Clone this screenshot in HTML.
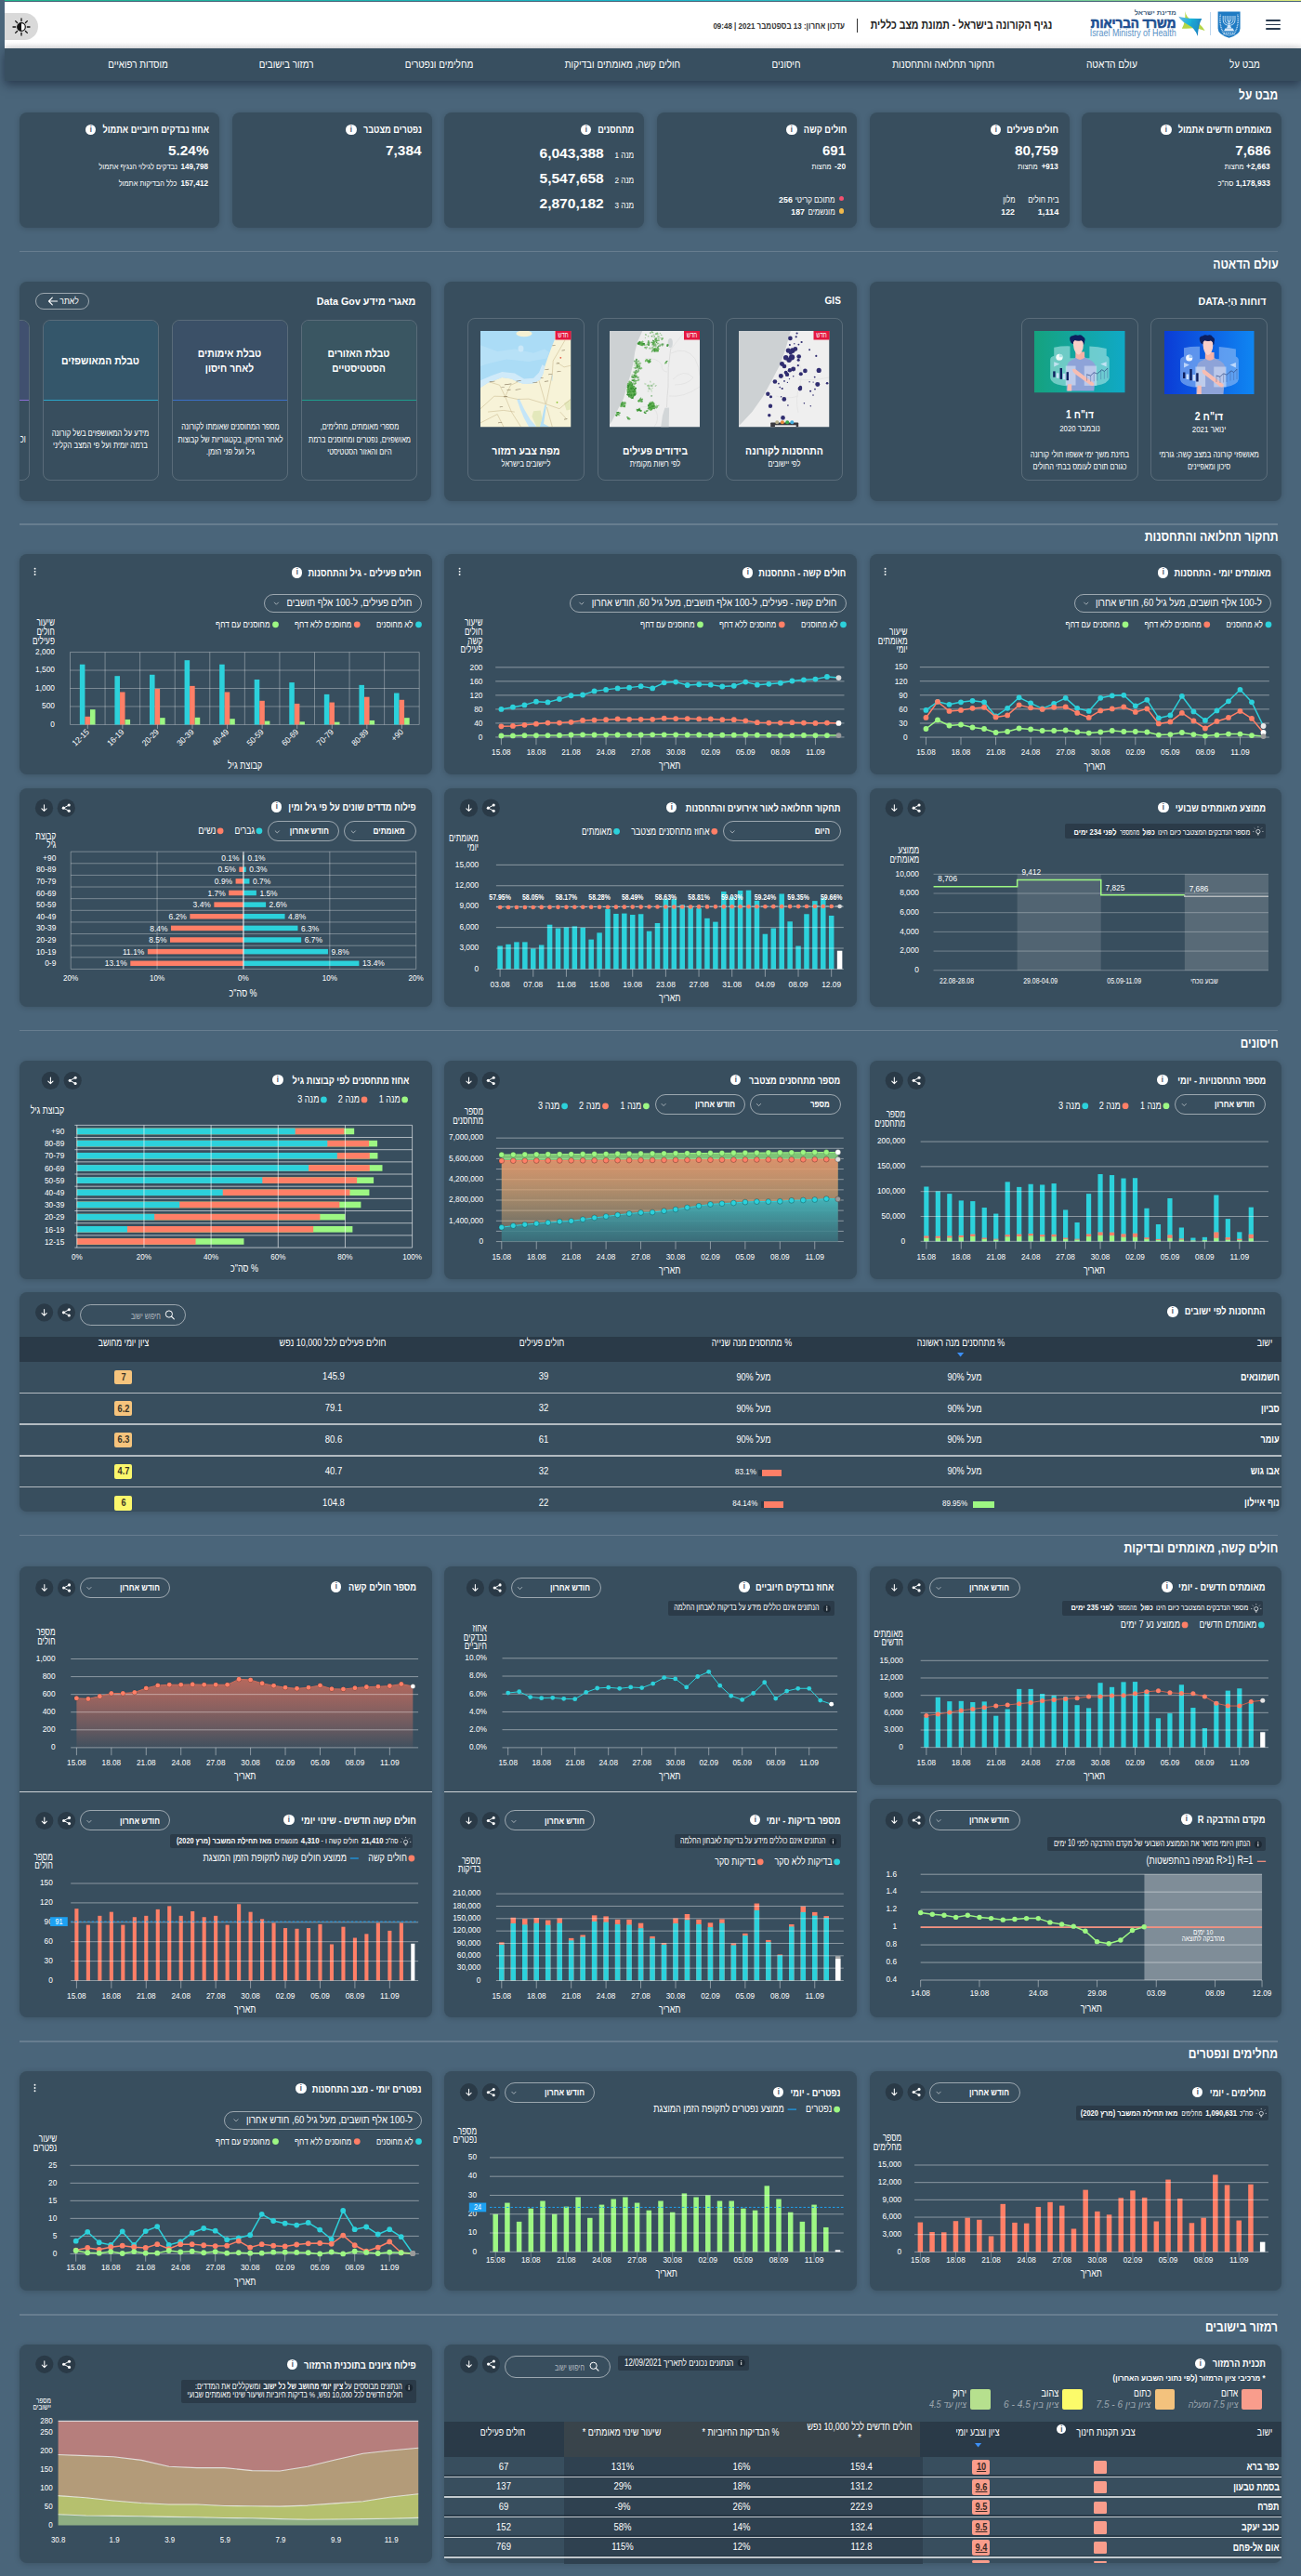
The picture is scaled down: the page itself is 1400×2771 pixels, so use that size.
<!DOCTYPE html><html lang="he"><head><meta charset="utf-8"><title>נגיף הקורונה בישראל - תמונת מצב כללית</title><style>
*{box-sizing:border-box}
html,body{margin:0;padding:0}
html{background:#4a657a}
body{width:1400px;height:2771px;position:relative;overflow:hidden;background:#4a657a;font-family:"Liberation Sans",sans-serif;color:#fff;direction:ltr}
.t{position:absolute;white-space:nowrap;line-height:1;direction:rtl;unicode-bidi:plaintext}
.topbar{position:absolute;left:5px;top:0;width:1395px;height:1.3px;background:linear-gradient(90deg,#20b48a 0%,#1cb4a8 22%,#18b5cb 50%,#45c3ae 75%,#8fd48b 88%,#e0ea7c 100%)}
.hdr{position:absolute;left:5px;top:1.6px;width:1395px;height:50.4px;background:linear-gradient(180deg,#fff 0,#fff 88%,#f1f1f1 100%)}
.nav{position:absolute;left:5px;top:52px;width:1395px;height:34.5px;background:#384f60;box-shadow:0 4px 10px rgba(12,22,42,.55)}
.toggle{position:absolute;left:5px;top:14px;width:36px;height:29px;background:#d9d9d9;border-radius:0 15px 15px 0;display:flex;align-items:center;justify-content:center;padding-right:1px}
.card{position:absolute;background:#384e5e;border-radius:8px;box-shadow:0 1px 6px rgba(0,0,0,.18)}
.info{position:absolute;background:#fff;border-radius:50%;color:#384e5e;text-align:center}
.info b{display:block;font:bold 9px/11.5px "Liberation Sans",sans-serif;transform:scaleX(.85)}
.note{position:absolute;background:#2b3b49;border-radius:2px}
.sub{position:absolute;border:1px solid rgba(255,255,255,.17);border-radius:8px;overflow:hidden}
.pill{position:absolute;border:1.2px solid rgba(255,255,255,.5);border-radius:20px}
.dot{position:absolute;width:5.5px;height:5.5px;border-radius:50%}
.sep{position:absolute;left:21px;width:1354px;height:1.5px;background:rgba(255,255,255,.16)}
svg{position:absolute;overflow:visible}
svg text{font-family:"Liberation Sans",sans-serif;fill:#fff}
</style></head><body>
<div class="topbar"></div>
<div class="hdr"></div>
<div class="toggle"><svg width="20" height="20" viewBox="-10 -10 20 20"><g stroke="#111" stroke-width="1.3" stroke-linecap="round"><line x1="6.30" y1="0.00" x2="9.00" y2="0.00"/><line x1="4.45" y1="4.45" x2="6.36" y2="6.36"/><line x1="0.00" y1="6.30" x2="0.00" y2="9.00"/><line x1="-4.45" y1="4.45" x2="-6.36" y2="6.36"/><line x1="-6.30" y1="0.00" x2="-9.00" y2="0.00"/><line x1="-4.45" y1="-4.45" x2="-6.36" y2="-6.36"/><line x1="-0.00" y1="-6.30" x2="-0.00" y2="-9.00"/><line x1="4.45" y1="-4.45" x2="6.36" y2="-6.36"/></g><circle r="4.3" fill="#fff" stroke="#111" stroke-width="1.2"/><path d="M0,-4.3 A4.3,4.3 0 0 0 0,4.3 Z" fill="#111"/></svg></div>
<div style="position:absolute;left:1362px;top:21.2px;width:15.5px;height:1.6px;background:#2b3c50;border-radius:1px"></div>
<div style="position:absolute;left:1362px;top:25.7px;width:15.5px;height:1.6px;background:#2b3c50;border-radius:1px"></div>
<div style="position:absolute;left:1362px;top:30.2px;width:15.5px;height:1.6px;background:#2b3c50;border-radius:1px"></div>
<svg style="left:1309.5px;top:11.6px" width="25.2" height="29.4" viewBox="0 0 25.2 29.4">
<path d="M.6,.6 H24.6 V18.6 Q24.6,25.4 12.6,28.8 Q.6,25.4 .6,18.6 Z" fill="#1f7bc3"/>
<g fill="none" stroke="#d3e6f7" stroke-width=".9" stroke-linecap="round"><path d="M12.6,5.4 V15.4"/><path d="M10.4,5.4 V8.4 Q10.4,11.4 12.6,11.8"/><path d="M14.8,5.4 V8.4 Q14.8,11.4 12.6,11.8"/><path d="M8.2,5.4 V9 Q8.2,13.2 12.6,13.6"/><path d="M17,5.4 V9 Q17,13.2 12.6,13.6"/><path d="M6.2,5.4 V9.6 Q6.2,15 12.6,15.4"/><path d="M19,5.4 V9.6 Q19,15 12.6,15.4"/></g>
<path d="M11.4,15 H13.8 L15.2,18.2 H10 Z M8.4,18.6 H16.8 L18.2,21.6 H7 Z" fill="#d3e6f7"/>
<path d="M6.6,23.6 H18.6" stroke="#d3e6f7" stroke-width="1.1" stroke-dasharray="1.6 .7"/>
<path d="M3.4,3.6 C2.4,9 2.8,17 6.2,22.6 M21.8,3.6 C22.8,9 22.4,17 19,22.6" stroke="#cfe3f6" stroke-width="1.5" stroke-dasharray=".9 .8" fill="none"/>
<path d="M6,24.6 Q12.6,27.4 19.2,24.6" stroke="#d3e6f7" stroke-width=".7" fill="none"/>
</svg>
<div style="position:absolute;left:1302px;top:12.5px;width:1.1px;height:25.5px;background:#bcd6ee"></div>
<svg style="left:1267px;top:11px" width="31" height="29" viewBox="0 0 31 29"><defs><linearGradient id="lgst" x1="0" x2="1" y1="0" y2=".45"><stop offset="0" stop-color="#6cb6e6"/><stop offset=".5" stop-color="#1ab6d9"/><stop offset=".8" stop-color="#1c93c9"/><stop offset="1" stop-color="#1c73b8"/></linearGradient></defs>
<path d="M8.4,.9 Q9.3,8 15.5,10.2 Q25,13.5 29.6,22.1 Q21,18.6 14,19.4 Q8.6,19.9 4.8,19.8 Q8.9,13 8.4,.9 Z" fill="#b5d648"/>
<path d="M1.2,6.7 Q12,9.6 26.3,9 Q22.4,16 21.8,27.7 Q18.8,19.2 11.6,15.8 Q4.6,12.4 1.2,6.7 Z" fill="url(#lgst)"/>
<path d="M15.5,10.2 Q21.5,12.2 22.6,16.6 Q22,21 21.8,27.7 Q19.5,20.5 14.5,17.3 Z" fill="#1b9fd0" opacity=".55"/>
</svg>
<span class="t" style="top:10.00px;font-size:7px;font-weight:bold;color:#3f5d7c;right:134.50px;transform-origin:right center;transform:scaleX(1.0798);">מדינת ישראל</span>
<span class="t" style="top:18.00px;font-size:14.5px;font-weight:bold;color:#1d4f91;right:134.50px;transform-origin:right center;transform:scaleX(0.9208);-webkit-text-stroke:.7px #1d4f91;">משרד הבריאות</span>
<span class="t" style="top:30.00px;font-size:10.5px;color:#5b92c6;right:134.50px;transform-origin:right center;transform:scaleX(0.8478);">Israel Ministry of Health</span>
<span class="t" style="top:21.00px;font-size:12.5px;font-weight:bold;color:#222;right:267.50px;transform-origin:right center;transform:scaleX(0.8419);">נגיף הקורונה בישראל - תמונת מצב כללית</span>
<div style="position:absolute;left:922px;top:20px;width:1px;height:15px;background:#333"></div>
<span class="t" style="top:23.00px;font-size:9.5px;font-weight:bold;color:#333;right:491.50px;transform-origin:right center;transform:scaleX(0.8428);">עדכון אחרון: 13 בספטמבר 2021 | 09:48</span>
<div class="nav"></div>
<span class="t" style="top:63.00px;font-size:12px;right:44.50px;transform-origin:right center;transform:scaleX(0.8264);">מבט על</span>
<span class="t" style="top:63.00px;font-size:12px;right:176.50px;transform-origin:right center;transform:scaleX(0.8471);">עולם הדאטה</span>
<span class="t" style="top:63.00px;font-size:12px;right:329.50px;transform-origin:right center;transform:scaleX(0.8388);">תחקור תחלואה והתחסנות</span>
<span class="t" style="top:63.00px;font-size:12px;right:538.50px;transform-origin:right center;transform:scaleX(0.8277);">חיסונים</span>
<span class="t" style="top:63.00px;font-size:12px;right:667.50px;transform-origin:right center;transform:scaleX(0.8290);">חולים קשה, מאומתים ובדיקות</span>
<span class="t" style="top:63.00px;font-size:12px;right:890.75px;transform-origin:right center;transform:scaleX(0.8320);">מחלימים ונפטרים</span>
<span class="t" style="top:63.00px;font-size:12px;right:1062.70px;transform-origin:right center;transform:scaleX(0.8220);">רמזור בישובים</span>
<span class="t" style="top:63.00px;font-size:12px;right:1219.70px;transform-origin:right center;transform:scaleX(0.8199);">מוסדות רפואיים</span>
<span class="t" style="top:95.00px;font-size:14.5px;font-weight:bold;right:24.75px;transform-origin:right center;transform:scaleX(0.8224);">מבט על</span>
<div class="card" style="left:1164.25px;top:120.75px;width:215.0px;height:124.5px;"></div>
<div class="card" style="left:935.6px;top:120.75px;width:214.9999999999999px;height:124.5px;"></div>
<div class="card" style="left:707px;top:120.75px;width:215px;height:124.5px;"></div>
<div class="card" style="left:478.4px;top:120.75px;width:215.0px;height:124.5px;"></div>
<div class="card" style="left:249.8px;top:120.75px;width:215.0px;height:124.5px;"></div>
<div class="card" style="left:21.25px;top:120.75px;width:215.0px;height:124.5px;"></div>
<span class="t" style="top:134.00px;font-size:11.5px;font-weight:bold;right:32.00px;transform-origin:right center;transform:scaleX(0.8092);">מאומתים חדשים אתמול</span>
<div class="info" style="left:1249.00px;top:133.65px;width:11.5px;height:11.5px"><b>i</b></div>
<span class="t" style="top:154.00px;font-size:15px;font-weight:bold;right:32.00px;transform-origin:right center;transform:scaleX(1.0191);">7,686</span>
<span class="t" style="top:175.00px;font-size:8.3px;font-weight:bold;right:33.00px;transform-origin:right center;transform:scaleX(0.9955);">+2,663</span>
<span class="t" style="top:175.00px;font-size:9px;right:61.75px;transform-origin:right center;transform:scaleX(0.8115);">מחצות</span>
<span class="t" style="top:193.00px;font-size:8.3px;font-weight:bold;right:33.00px;transform-origin:right center;transform:scaleX(1.0089);">1,178,933</span>
<span class="t" style="top:193.00px;font-size:9px;right:73.00px;transform-origin:right center;transform:scaleX(0.8746);">סה"כ</span>
<span class="t" style="top:134.00px;font-size:11.5px;font-weight:bold;right:260.75px;transform-origin:right center;transform:scaleX(0.8082);">חולים פעילים</span>
<div class="info" style="left:1065.50px;top:133.65px;width:11.5px;height:11.5px"><b>i</b></div>
<span class="t" style="top:154.00px;font-size:15px;font-weight:bold;right:260.75px;transform-origin:right center;transform:scaleX(1.0245);">80,759</span>
<span class="t" style="top:175.00px;font-size:8.3px;font-weight:bold;right:261.75px;transform-origin:right center;transform:scaleX(0.9629);">+913</span>
<span class="t" style="top:175.00px;font-size:9px;right:283.00px;transform-origin:right center;transform:scaleX(0.8311);">מחצות</span>
<span class="t" style="top:210.00px;font-size:9.5px;right:260.50px;transform-origin:right center;transform:scaleX(0.8451);">בית חולים</span>
<span class="t" style="top:223.00px;font-size:9.5px;font-weight:bold;right:260.50px;transform-origin:right center;transform:scaleX(0.9679);">1,114</span>
<span class="t" style="top:210.00px;font-size:9.5px;right:308.00px;transform-origin:right center;transform:scaleX(0.8077);">מלון</span>
<span class="t" style="top:223.00px;font-size:9.5px;font-weight:bold;right:308.00px;transform-origin:right center;transform:scaleX(0.9149);">122</span>
<span class="t" style="top:134.00px;font-size:11.5px;font-weight:bold;right:489.00px;transform-origin:right center;transform:scaleX(0.8106);">חולים קשה</span>
<div class="info" style="left:846.25px;top:133.65px;width:11.5px;height:11.5px"><b>i</b></div>
<span class="t" style="top:154.00px;font-size:15px;font-weight:bold;right:490.00px;transform-origin:right center;transform:scaleX(0.9990);">691</span>
<span class="t" style="top:175.00px;font-size:8.3px;font-weight:bold;right:490.00px;transform-origin:right center;transform:scaleX(1.0004);">-20</span>
<span class="t" style="top:175.00px;font-size:9px;right:505.00px;transform-origin:right center;transform:scaleX(0.8213);">מחצות</span>
<div class="dot" style="left:902.5px;top:210.75px;background:#f4506f"></div>
<div class="dot" style="left:902.5px;top:224.25px;background:#f0b94c"></div>
<span class="t" style="top:210.00px;font-size:9.5px;right:501.50px;transform-origin:right center;transform:scaleX(0.8310);">מתוכם קריטי</span>
<span class="t" style="top:210.00px;font-size:9.5px;font-weight:bold;right:547.00px;transform-origin:right center;transform:scaleX(0.9307);">256</span>
<span class="t" style="top:223.00px;font-size:9.5px;right:501.50px;transform-origin:right center;transform:scaleX(0.8433);">מונשמים</span>
<span class="t" style="top:223.00px;font-size:9.5px;font-weight:bold;right:533.75px;transform-origin:right center;transform:scaleX(0.9149);">187</span>
<span class="t" style="top:134.00px;font-size:11.5px;font-weight:bold;right:717.75px;transform-origin:right center;transform:scaleX(0.7932);">מתחסנים</span>
<div class="info" style="left:624.50px;top:133.65px;width:11.5px;height:11.5px"><b>i</b></div>
<span class="t" style="top:162.00px;font-size:9.5px;right:717.75px;transform-origin:right center;transform:scaleX(0.8586);">מנה 1</span>
<span class="t" style="top:157.00px;font-size:15px;font-weight:bold;right:750.00px;transform-origin:right center;transform:scaleX(1.0379);">6,043,388</span>
<span class="t" style="top:189.00px;font-size:9.5px;right:717.75px;transform-origin:right center;transform:scaleX(0.8586);">מנה 2</span>
<span class="t" style="top:184.00px;font-size:15px;font-weight:bold;right:750.00px;transform-origin:right center;transform:scaleX(1.0379);">5,547,658</span>
<span class="t" style="top:216.00px;font-size:9.5px;right:717.75px;transform-origin:right center;transform:scaleX(0.8586);">מנה 3</span>
<span class="t" style="top:211.00px;font-size:15px;font-weight:bold;right:750.00px;transform-origin:right center;transform:scaleX(1.0379);">2,870,182</span>
<span class="t" style="top:134.00px;font-size:11.5px;font-weight:bold;right:946.25px;transform-origin:right center;transform:scaleX(0.7979);">נפטרים מצטבר</span>
<div class="info" style="left:372.25px;top:133.65px;width:11.5px;height:11.5px"><b>i</b></div>
<span class="t" style="top:154.00px;font-size:15px;font-weight:bold;right:946.25px;transform-origin:right center;transform:scaleX(1.0258);">7,384</span>
<span class="t" style="top:134.00px;font-size:11.5px;font-weight:bold;right:1175.00px;transform-origin:right center;transform:scaleX(0.8005);">אחוז נבדקים חיוביים אתמול</span>
<div class="info" style="left:91.75px;top:133.65px;width:11.5px;height:11.5px"><b>i</b></div>
<span class="t" style="top:154.00px;font-size:15px;font-weight:bold;right:1175.00px;transform-origin:right center;transform:scaleX(1.0228);">5.24%</span>
<span class="t" style="top:175.00px;font-size:8.3px;font-weight:bold;right:1176.00px;transform-origin:right center;transform:scaleX(0.9834);">149,798</span>
<span class="t" style="top:175.00px;font-size:9px;right:1209.25px;transform-origin:right center;transform:scaleX(0.8386);">נבדקים לגילוי הנגיף אתמול</span>
<span class="t" style="top:193.00px;font-size:8.3px;font-weight:bold;right:1176.00px;transform-origin:right center;transform:scaleX(0.9834);">157,412</span>
<span class="t" style="top:193.00px;font-size:9px;right:1209.25px;transform-origin:right center;transform:scaleX(0.8210);">כלל הבדיקות אתמול</span>
<div class="sep" style="top:269.75px"></div>
<span class="t" style="top:277.00px;font-size:14.5px;font-weight:bold;right:24.75px;transform-origin:right center;transform:scaleX(0.8422);">עולם הדאטה</span>
<div class="card" style="left:935.75px;top:303.25px;width:443.5px;height:235.5px;"></div>
<div class="card" style="left:478px;top:303.25px;width:444px;height:235.5px;"></div>
<div class="card" style="left:21.25px;top:303.25px;width:443.0px;height:235.5px;overflow:hidden;"></div>
<span class="t" style="top:319.00px;font-size:11.5px;font-weight:bold;right:37.50px;transform-origin:right center;transform:scaleX(0.9307);">דוחות הַיְ-DATA</span>
<div class="sub" style="left:1238px;top:341.75px;width:126px;height:175.0px;"></div>
<div class="sub" style="left:1099px;top:341.75px;width:126px;height:175.0px;"></div>
<svg style="left:1253px;top:355.75px" width="96.5" height="68" viewBox="0 0 96.5 68"><defs><linearGradient id="gb" x1="0" x2="1"><stop offset="0" stop-color="#0b3cd6"/><stop offset="1" stop-color="#0f86f2"/></linearGradient><clipPath id="cpb"><rect width="96.5" height="68"/></clipPath></defs><rect width="96.5" height="68" fill="url(#gb)"/><g clip-path="url(#cpb)"><g>
<path d="M17,32 Q17,28.5 21,27.5 V18.2 Q29,16.5 38.1,16.8 V30 H58.8 V17 Q68,17.5 76.9,19.5 V27.5 Q80,28.5 79.9,32 V52 Q79,58 66,60.3 Q48,63 30,60.3 Q17.5,58 17,52 Z" fill="#8fbcf5" opacity=".62"/>
<path d="M21,34 L27,36.5 L21,39.5 Z M76.9,34 L70.5,36.5 L76.9,39.5 Z" fill="#dcebff" opacity=".75"/>
<circle cx="26.7" cy="29" r="3.6" fill="#fff" opacity=".92"/><path d="M26.7,29 V25.4 A3.6,3.6 0 0 1 30.3,29 Z" fill="#8fbcf5" opacity=".9"/>
<path d="M34.3,68 L34.8,40 Q35,33 42,31.2 L44.5,28.8 H53.5 L57,31 Q65,33.5 65.8,41 L63.5,68 Z" fill="#8ea3d8"/>
<path d="M43.9,23 H53.6 V29.6 Q48.8,34 43.9,29.6 Z" fill="#f4b1a6"/>
<path d="M41.2,13 Q41,9.5 47,9.5 Q52.6,9.5 52.4,14 Q52.4,19.5 50.6,22.8 Q48.6,26.6 46.4,26 Q43.6,24.5 42.2,19.5 Z" fill="#facfc8"/>
<path d="M38,10.5 Q36.6,5.5 41.5,5.2 Q43.5,3.6 46.5,4.8 Q50,3.4 52,6.4 Q55,8 53.6,11.6 Q54,14 52.4,15.6 Q52.6,11.5 50,10.4 Q46,11.6 43.2,10.2 Q41.2,11.6 41.4,14.6 Q38.6,13.4 38,10.5 Z" fill="#0e1f5e"/>
<rect x="33.4" y="38.5" width="10.7" height="21.5" fill="#e6eefc" opacity=".55"/>
<rect x="53.2" y="38.5" width="13.3" height="21.9" fill="#e6eefc" opacity=".5"/>
<path d="M40.3,42.4 Q43.4,40.6 45.6,43.6 L63.5,57.6 Q64,61.5 60,60 L43.8,47.6 Q40.8,46 40.3,42.4 Z" fill="#f7bdb2"/>
<path d="M35.6,58.8 H39.8 V68 H35 Z" fill="#f7bdb2"/>
<rect x="20" y="44.5" width="2.4" height="6.5" fill="#0e1f5e"/><rect x="23.6" y="46.5" width="2.6" height="5.5" fill="#cfe0fb"/><rect x="27.3" y="41" width="2.4" height="12.2" fill="#0e1f5e"/><rect x="30.6" y="47" width="2.4" height="6.6" fill="#cfe0fb"/><rect x="34.2" y="45.3" width="2.4" height="9.2" fill="#0e1f5e"/>
<g stroke="#3b5a9a" stroke-width=".45" opacity=".85"><path d="M56,48 V55 M60,49.5 V56 M63.6,46 V55.5 M67,47.5 V55 M71,43 V53.5 M74.6,45 V53 M78,41 V52" /></g>
<polyline points="55.8,48 60,49.3 63.5,45.8 67,47.2 72,42.8 74.7,44.6 78.2,41" fill="none" stroke="#2c477f" stroke-width=".7"/>
</g></g></svg>
<svg style="left:1113px;top:355.75px" width="97.5" height="66.25" viewBox="0 0 97.5 66.25"><defs><linearGradient id="gg" x1="0" x2="1"><stop offset="0" stop-color="#15a27e"/><stop offset="1" stop-color="#10a9c6"/></linearGradient><clipPath id="cpg"><rect width="97.5" height="66.25"/></clipPath></defs><rect width="97.5" height="66.25" fill="url(#gg)"/><g clip-path="url(#cpg)" transform="scale(1.01,.975)"><g>
<path d="M17,32 Q17,28.5 21,27.5 V18.2 Q29,16.5 38.1,16.8 V30 H58.8 V17 Q68,17.5 76.9,19.5 V27.5 Q80,28.5 79.9,32 V52 Q79,58 66,60.3 Q48,63 30,60.3 Q17.5,58 17,52 Z" fill="#a6e3e3" opacity=".62"/>
<path d="M21,34 L27,36.5 L21,39.5 Z M76.9,34 L70.5,36.5 L76.9,39.5 Z" fill="#dcebff" opacity=".75"/>
<circle cx="26.7" cy="29" r="3.6" fill="#fff" opacity=".92"/><path d="M26.7,29 V25.4 A3.6,3.6 0 0 1 30.3,29 Z" fill="#a6e3e3" opacity=".9"/>
<path d="M34.3,68 L34.8,40 Q35,33 42,31.2 L44.5,28.8 H53.5 L57,31 Q65,33.5 65.8,41 L63.5,68 Z" fill="#8ea3d8"/>
<path d="M43.9,23 H53.6 V29.6 Q48.8,34 43.9,29.6 Z" fill="#f4b1a6"/>
<path d="M41.2,13 Q41,9.5 47,9.5 Q52.6,9.5 52.4,14 Q52.4,19.5 50.6,22.8 Q48.6,26.6 46.4,26 Q43.6,24.5 42.2,19.5 Z" fill="#facfc8"/>
<path d="M38,10.5 Q36.6,5.5 41.5,5.2 Q43.5,3.6 46.5,4.8 Q50,3.4 52,6.4 Q55,8 53.6,11.6 Q54,14 52.4,15.6 Q52.6,11.5 50,10.4 Q46,11.6 43.2,10.2 Q41.2,11.6 41.4,14.6 Q38.6,13.4 38,10.5 Z" fill="#0e1f5e"/>
<rect x="33.4" y="38.5" width="10.7" height="21.5" fill="#e6eefc" opacity=".55"/>
<rect x="53.2" y="38.5" width="13.3" height="21.9" fill="#e6eefc" opacity=".5"/>
<path d="M40.3,42.4 Q43.4,40.6 45.6,43.6 L63.5,57.6 Q64,61.5 60,60 L43.8,47.6 Q40.8,46 40.3,42.4 Z" fill="#f7bdb2"/>
<path d="M35.6,58.8 H39.8 V68 H35 Z" fill="#f7bdb2"/>
<rect x="20" y="44.5" width="2.4" height="6.5" fill="#0e1f5e"/><rect x="23.6" y="46.5" width="2.6" height="5.5" fill="#cfe0fb"/><rect x="27.3" y="41" width="2.4" height="12.2" fill="#0e1f5e"/><rect x="30.6" y="47" width="2.4" height="6.6" fill="#cfe0fb"/><rect x="34.2" y="45.3" width="2.4" height="9.2" fill="#0e1f5e"/>
<g stroke="#3b5a9a" stroke-width=".45" opacity=".85"><path d="M56,48 V55 M60,49.5 V56 M63.6,46 V55.5 M67,47.5 V55 M71,43 V53.5 M74.6,45 V53 M78,41 V52" /></g>
<polyline points="55.8,48 60,49.3 63.5,45.8 67,47.2 72,42.8 74.7,44.6 78.2,41" fill="none" stroke="#2c477f" stroke-width=".7"/>
</g></g></svg>
<span class="t" style="top:442.00px;font-size:12px;font-weight:bold;left:1001.00px;width:600px;text-align:center;transform-origin:center center;transform:scaleX(0.8717);">דו"ח 2</span>
<span class="t" style="top:457.00px;font-size:9.5px;left:1001.00px;width:600px;text-align:center;transform-origin:center center;transform:scaleX(0.8401);">ינואר 2021</span>
<span class="t" style="top:484.00px;font-size:9.5px;left:1000.75px;width:600px;text-align:center;transform-origin:center center;transform:scaleX(0.8043);">מאושפזי קורונה במצב קשה: גורמי</span>
<span class="t" style="top:497.00px;font-size:9.5px;left:1001.00px;width:600px;text-align:center;transform-origin:center center;transform:scaleX(0.7773);">סיכון ומאפיינים</span>
<span class="t" style="top:440.00px;font-size:12px;font-weight:bold;left:862.00px;width:600px;text-align:center;transform-origin:center center;transform:scaleX(0.8573);">דו"ח 1</span>
<span class="t" style="top:456.00px;font-size:9.5px;left:861.75px;width:600px;text-align:center;transform-origin:center center;transform:scaleX(0.8223);">נובמבר 2020</span>
<span class="t" style="top:484.00px;font-size:9.5px;left:862.00px;width:600px;text-align:center;transform-origin:center center;transform:scaleX(0.7978);">בחינת משך ימי אשפוז חולי קורונה</span>
<span class="t" style="top:497.00px;font-size:9.5px;left:862.00px;width:600px;text-align:center;transform-origin:center center;transform:scaleX(0.7883);">כגורם תורם לעומס בבתי החולים</span>
<span class="t" style="top:318.00px;font-size:11.5px;font-weight:bold;right:494.75px;transform-origin:right center;transform:scaleX(0.8707);">GIS</span>
<div class="sub" style="left:781.25px;top:341.5px;width:125.5px;height:175.0px;"></div>
<svg style="left:795px;top:355.75px" width="97.5" height="103.5" viewBox="0 0 97.5 103.5"><defs><clipPath id="cm1"><rect width="97.5" height="103.5"/></clipPath></defs><g clip-path="url(#cm1)"><rect width="97.5" height="103.5" fill="#efefef"/><path d="M0,0 L55.8,0.0 L50.3,19.4 L44.4,36.3 L35.5,53.3 L26.2,70.2 L14.4,87.1 L2.5,99.7 L0.0,102.1 L0,103.5 Z" fill="#cdd1d3"/><path d="M62,28 Q70,40 66,58 Q60,72 64,88 M40,70 Q52,74 64,70 M64,52 Q78,54 97,50" stroke="#e2e2e2" stroke-width=".7" fill="none"/><circle cx="62.6" cy="2.5" r="1.09" fill="#302d70"/><circle cx="55.4" cy="7.9" r="2.33" fill="#302d70"/><circle cx="61.7" cy="6.3" r="1.09" fill="#302d70"/><circle cx="67.6" cy="12.0" r="1.09" fill="#302d70"/><circle cx="54.9" cy="15.0" r="1.01" fill="#302d70"/><circle cx="64.4" cy="14.6" r="0.93" fill="#302d70"/><circle cx="59.8" cy="13.7" r="0.70" fill="#302d70"/><circle cx="53.3" cy="21.1" r="2.57" fill="#302d70"/><circle cx="57.9" cy="21.1" r="2.80" fill="#302d70"/><circle cx="60.9" cy="19.4" r="2.33" fill="#302d70"/><circle cx="55.8" cy="23.7" r="1.94" fill="#302d70"/><circle cx="76.1" cy="20.3" r="0.93" fill="#302d70"/><circle cx="83.3" cy="26.9" r="1.09" fill="#302d70"/><circle cx="50.7" cy="28.7" r="2.72" fill="#302d70"/><circle cx="57.1" cy="28.3" r="3.11" fill="#302d70"/><circle cx="54.1" cy="31.3" r="2.72" fill="#302d70"/><circle cx="64.7" cy="27.5" r="2.33" fill="#302d70"/><circle cx="64.2" cy="31.3" r="1.56" fill="#302d70"/><circle cx="46.5" cy="35.5" r="2.49" fill="#302d70"/><circle cx="49.0" cy="38.0" r="2.33" fill="#302d70"/><circle cx="63.8" cy="37.2" r="1.09" fill="#302d70"/><circle cx="58.7" cy="41.0" r="2.49" fill="#302d70"/><circle cx="54.9" cy="42.3" r="2.18" fill="#302d70"/><circle cx="50.7" cy="44.8" r="2.02" fill="#302d70"/><circle cx="52.0" cy="46.9" r="2.18" fill="#302d70"/><circle cx="71.4" cy="42.9" r="2.33" fill="#302d70"/><circle cx="86.2" cy="42.4" r="2.57" fill="#302d70"/><circle cx="66.8" cy="46.3" r="2.02" fill="#302d70"/><circle cx="45.4" cy="48.4" r="2.49" fill="#302d70"/><circle cx="58.7" cy="48.8" r="0.78" fill="#302d70"/><circle cx="54.5" cy="51.6" r="0.70" fill="#302d70"/><circle cx="49.0" cy="53.9" r="0.86" fill="#302d70"/><circle cx="38.9" cy="54.5" r="2.33" fill="#302d70"/><circle cx="42.9" cy="56.6" r="0.86" fill="#302d70"/><circle cx="52.4" cy="55.4" r="0.62" fill="#302d70"/><circle cx="81.7" cy="49.6" r="0.93" fill="#302d70"/><circle cx="76.1" cy="54.8" r="0.70" fill="#302d70"/><circle cx="80.1" cy="55.1" r="0.62" fill="#302d70"/><circle cx="84.8" cy="57.5" r="2.49" fill="#302d70"/><circle cx="95.1" cy="56.2" r="1.32" fill="#302d70"/><circle cx="66.4" cy="60.4" r="1.71" fill="#302d70"/><circle cx="65.9" cy="62.1" r="2.33" fill="#302d70"/><circle cx="44.2" cy="60.6" r="0.78" fill="#302d70"/><circle cx="46.7" cy="62.0" r="1.09" fill="#302d70"/><circle cx="82.0" cy="62.6" r="0.93" fill="#302d70"/><circle cx="77.1" cy="64.8" r="1.01" fill="#302d70"/><circle cx="80.0" cy="69.1" r="0.78" fill="#302d70"/><circle cx="31.3" cy="67.8" r="2.18" fill="#302d70"/><circle cx="34.5" cy="70.8" r="1.56" fill="#302d70"/><circle cx="45.6" cy="70.8" r="0.70" fill="#302d70"/><circle cx="48.8" cy="73.4" r="2.33" fill="#302d70"/><circle cx="70.4" cy="77.8" r="0.78" fill="#302d70"/><circle cx="77.3" cy="80.7" r="0.70" fill="#302d70"/><circle cx="52.9" cy="80.1" r="0.78" fill="#302d70"/><circle cx="34.0" cy="80.7" r="2.18" fill="#302d70"/><circle cx="32.8" cy="90.7" r="1.71" fill="#302d70"/><circle cx="47.5" cy="93.4" r="2.33" fill="#302d70"/><rect x="34.2" y="98.4" width="30" height="5.1" rx=".8" fill="#3a3a40"/><circle cx="41.2" cy="98.2" r="2" fill="#b5ad8c"/><circle cx="46.9" cy="98.2" r="2" fill="#e88b3a"/><circle cx="52.2" cy="98.2" r="2" fill="#3aa84a"/><circle cx="57.3" cy="98.2" r="2" fill="#42aee0"/><rect x="38.9" y="101.4" width="22.8" height="1.6" fill="#fff"/></g><rect x="80.5" y="0" width="17" height="9.5" fill="#e4173f"/><text transform="translate(89.00,7.40) scale(0.7400,1)" text-anchor="middle" font-size="8" >חדש</text></svg>
<span class="t" style="top:479.00px;font-size:12px;font-weight:bold;left:543.60px;width:600px;text-align:center;transform-origin:center center;transform:scaleX(0.8699);">התחסנות לקורונה</span>
<span class="t" style="top:494.00px;font-size:9.5px;left:543.80px;width:600px;text-align:center;transform-origin:center center;transform:scaleX(0.7867);">לפי יישובים</span>
<div class="sub" style="left:642.5px;top:341.5px;width:125.0px;height:175.0px;"></div>
<svg style="left:656.25px;top:355.75px" width="97.0" height="103.5" viewBox="0 0 97.0 103.5"><defs><clipPath id="cm2"><rect width="97.0" height="103.5"/></clipPath></defs><g clip-path="url(#cm2)"><rect width="97.0" height="103.5" fill="#eeeeee"/><path d="M0,0 L35.3,0.0 L30.3,11.0 L27.3,22.0 L25.6,33.8 L22.7,46.5 L18.4,60.0 L15.0,72.7 L8.3,85.4 L2.4,97.2 L0.0,100.8 L0,103.5 Z" fill="#cdd1d3"/><ellipse cx="65.3" cy="13.1" rx="2.6" ry="5.2" fill="#d2d6d8"/><path d="M59.4,82.8 L64.1,82.4 L63.7,103.5 L55.2,103.5 L56.9,91.3 Z" fill="#d2d6d8"/><path d="M65.8,18.6 Q62,40 63,60 Q61.6,72 61.5,82" stroke="#dadada" stroke-width=".9" fill="none"/><path d="M80,2 Q70,14 66,20 M66,24 Q82,16 92,30 Q97,40 97,48 M68,52 Q80,40 90,50 Q84,58 70,58 M64,70 Q80,72 97,60 M28,84 Q40,78 50,86 Q54,96 48,103 M38,30 Q50,28 56,36 Q56,44 62,44" stroke="#e0e0e0" stroke-width=".7" fill="none"/><rect x="32.3" y="13.6" width="2.1" height="0.9" fill="#3f9a36" opacity="0.71" transform="rotate(-33 32.3 13.6)"/><rect x="33.9" y="12.7" width="1.1" height="1.4" fill="#56a84a" opacity="0.59" transform="rotate(14 33.9 12.7)"/><rect x="34.9" y="13.5" width="2.7" height="1.7" fill="#3f9a36" opacity="0.81" transform="rotate(10 34.9 13.5)"/><rect x="34.0" y="13.3" width="2.0" height="1.0" fill="#6cb85e" opacity="0.61" transform="rotate(-25 34.0 13.3)"/><rect x="30.8" y="12.6" width="2.2" height="0.9" fill="#56a84a" opacity="0.72" transform="rotate(30 30.8 12.6)"/><rect x="32.3" y="11.9" width="2.1" height="1.5" fill="#6cb85e" opacity="0.90" transform="rotate(19 32.3 11.9)"/><rect x="31.1" y="12.6" width="1.5" height="1.9" fill="#56a84a" opacity="0.59" transform="rotate(-2 31.1 12.6)"/><rect x="29.9" y="12.9" width="2.3" height="1.2" fill="#3f9a36" opacity="0.60" transform="rotate(13 29.9 12.9)"/><rect x="33.7" y="13.9" width="2.7" height="1.4" fill="#3f9a36" opacity="0.89" transform="rotate(33 33.7 13.9)"/><rect x="33.5" y="11.6" width="1.5" height="1.3" fill="#6cb85e" opacity="0.81" transform="rotate(18 33.5 11.6)"/><rect x="33.5" y="13.3" width="1.4" height="1.8" fill="#3f9a36" opacity="0.58" transform="rotate(-1 33.5 13.3)"/><rect x="30.9" y="11.8" width="2.5" height="1.2" fill="#6cb85e" opacity="0.95" transform="rotate(4 30.9 11.8)"/><rect x="34.8" y="13.3" width="1.2" height="1.0" fill="#3f9a36" opacity="0.65" transform="rotate(-4 34.8 13.3)"/><rect x="33.8" y="13.6" width="1.6" height="2.0" fill="#3f9a36" opacity="0.62" transform="rotate(11 33.8 13.6)"/><rect x="30.0" y="12.6" width="2.5" height="2.0" fill="#2f8a2c" opacity="0.87" transform="rotate(5 30.0 12.6)"/><rect x="32.1" y="12.2" width="1.3" height="0.9" fill="#56a84a" opacity="0.65" transform="rotate(-11 32.1 12.2)"/><rect x="35.7" y="13.2" width="1.2" height="1.2" fill="#56a84a" opacity="0.74" transform="rotate(7 35.7 13.2)"/><rect x="31.6" y="12.6" width="1.1" height="2.0" fill="#3f9a36" opacity="0.76" transform="rotate(31 31.6 12.6)"/><rect x="31.4" y="13.7" width="1.1" height="1.7" fill="#3f9a36" opacity="0.64" transform="rotate(-14 31.4 13.7)"/><rect x="32.0" y="13.3" width="2.0" height="0.9" fill="#56a84a" opacity="0.79" transform="rotate(6 32.0 13.3)"/><rect x="32.3" y="12.9" width="1.3" height="1.3" fill="#2f8a2c" opacity="0.98" transform="rotate(37 32.3 12.9)"/><rect x="32.2" y="13.5" width="2.5" height="2.2" fill="#6cb85e" opacity="0.77" transform="rotate(-1 32.2 13.5)"/><rect x="33.5" y="13.3" width="1.6" height="1.2" fill="#56a84a" opacity="0.78" transform="rotate(-14 33.5 13.3)"/><rect x="34.9" y="12.8" width="1.2" height="1.6" fill="#3f9a36" opacity="0.89" transform="rotate(-2 34.9 12.8)"/><rect x="35.7" y="12.9" width="2.2" height="1.2" fill="#2f8a2c" opacity="0.96" transform="rotate(5 35.7 12.9)"/><rect x="33.1" y="12.0" width="2.4" height="1.3" fill="#56a84a" opacity="0.83" transform="rotate(-16 33.1 12.0)"/><rect x="33.8" y="11.7" width="2.3" height="1.1" fill="#6cb85e" opacity="0.71" transform="rotate(-37 33.8 11.7)"/><rect x="35.6" y="13.0" width="1.8" height="1.1" fill="#2f8a2c" opacity="0.75" transform="rotate(4 35.6 13.0)"/><rect x="34.5" y="12.8" width="1.3" height="1.1" fill="#56a84a" opacity="0.70" transform="rotate(21 34.5 12.8)"/><rect x="30.7" y="12.0" width="2.5" height="1.5" fill="#2f8a2c" opacity="0.91" transform="rotate(-30 30.7 12.0)"/><rect x="49.2" y="19.0" width="1.6" height="1.8" fill="#56a84a" opacity="0.77" transform="rotate(-18 49.2 19.0)"/><rect x="47.3" y="20.0" width="1.1" height="2.1" fill="#6cb85e" opacity="0.76" transform="rotate(-30 47.3 20.0)"/><rect x="48.7" y="18.9" width="1.1" height="1.0" fill="#6cb85e" opacity="0.91" transform="rotate(-22 48.7 18.9)"/><rect x="47.6" y="18.6" width="1.8" height="2.1" fill="#56a84a" opacity="0.80" transform="rotate(-24 47.6 18.6)"/><rect x="50.8" y="19.6" width="2.3" height="0.9" fill="#56a84a" opacity="0.75" transform="rotate(-16 50.8 19.6)"/><rect x="49.3" y="18.9" width="1.4" height="1.2" fill="#56a84a" opacity="0.89" transform="rotate(1 49.3 18.9)"/><rect x="48.8" y="20.4" width="1.1" height="2.1" fill="#2f8a2c" opacity="0.95" transform="rotate(34 48.8 20.4)"/><rect x="49.4" y="18.4" width="2.5" height="2.0" fill="#56a84a" opacity="0.79" transform="rotate(27 49.4 18.4)"/><rect x="46.8" y="19.3" width="2.4" height="1.7" fill="#56a84a" opacity="0.63" transform="rotate(20 46.8 19.3)"/><rect x="48.4" y="19.1" width="1.0" height="1.8" fill="#6cb85e" opacity="0.90" transform="rotate(-27 48.4 19.1)"/><rect x="49.2" y="19.2" width="1.3" height="0.9" fill="#3f9a36" opacity="0.78" transform="rotate(31 49.2 19.2)"/><rect x="50.9" y="19.7" width="1.0" height="1.3" fill="#56a84a" opacity="0.86" transform="rotate(17 50.9 19.7)"/><rect x="46.9" y="19.4" width="1.9" height="1.1" fill="#2f8a2c" opacity="0.97" transform="rotate(-15 46.9 19.4)"/><rect x="49.2" y="19.0" width="1.1" height="1.4" fill="#3f9a36" opacity="0.85" transform="rotate(14 49.2 19.0)"/><rect x="50.4" y="20.0" width="2.4" height="2.1" fill="#56a84a" opacity="0.97" transform="rotate(6 50.4 20.0)"/><rect x="50.1" y="20.7" width="2.7" height="1.1" fill="#3f9a36" opacity="0.73" transform="rotate(22 50.1 20.7)"/><rect x="49.8" y="20.6" width="1.3" height="1.8" fill="#6cb85e" opacity="0.70" transform="rotate(-15 49.8 20.6)"/><rect x="48.5" y="19.8" width="1.6" height="1.3" fill="#6cb85e" opacity="0.75" transform="rotate(-38 48.5 19.8)"/><rect x="47.8" y="20.2" width="1.5" height="2.1" fill="#3f9a36" opacity="0.99" transform="rotate(-11 47.8 20.2)"/><rect x="49.3" y="10.5" width="1.4" height="0.9" fill="#56a84a" opacity="0.54" transform="rotate(-24 49.3 10.5)"/><rect x="50.9" y="2.0" width="2.2" height="2.1" fill="#6cb85e" opacity="0.49" transform="rotate(25 50.9 2.0)"/><rect x="37.7" y="7.2" width="1.1" height="0.9" fill="#56a84a" opacity="0.59" transform="rotate(-31 37.7 7.2)"/><rect x="46.2" y="11.9" width="1.1" height="1.2" fill="#56a84a" opacity="0.46" transform="rotate(-25 46.2 11.9)"/><rect x="40.4" y="12.6" width="2.0" height="2.1" fill="#2f8a2c" opacity="0.66" transform="rotate(-35 40.4 12.6)"/><rect x="41.4" y="10.2" width="1.1" height="1.0" fill="#3f9a36" opacity="0.51" transform="rotate(-1 41.4 10.2)"/><rect x="40.7" y="5.6" width="1.3" height="1.4" fill="#56a84a" opacity="0.54" transform="rotate(-38 40.7 5.6)"/><rect x="48.0" y="10.9" width="0.9" height="1.5" fill="#56a84a" opacity="0.63" transform="rotate(-9 48.0 10.9)"/><rect x="49.1" y="9.8" width="2.5" height="1.4" fill="#6cb85e" opacity="0.64" transform="rotate(10 49.1 9.8)"/><rect x="52.1" y="10.0" width="1.3" height="1.1" fill="#56a84a" opacity="0.74" transform="rotate(-23 52.1 10.0)"/><rect x="41.1" y="14.3" width="1.0" height="1.0" fill="#3f9a36" opacity="0.67" transform="rotate(-8 41.1 14.3)"/><rect x="44.4" y="11.8" width="2.2" height="1.3" fill="#2f8a2c" opacity="0.66" transform="rotate(-3 44.4 11.8)"/><rect x="50.5" y="12.1" width="1.4" height="0.8" fill="#2f8a2c" opacity="0.79" transform="rotate(30 50.5 12.1)"/><rect x="45.6" y="12.3" width="2.6" height="1.1" fill="#56a84a" opacity="0.44" transform="rotate(8 45.6 12.3)"/><rect x="51.1" y="13.6" width="2.1" height="1.1" fill="#3f9a36" opacity="0.47" transform="rotate(-29 51.1 13.6)"/><rect x="51.6" y="17.3" width="1.6" height="1.2" fill="#56a84a" opacity="0.47" transform="rotate(27 51.6 17.3)"/><rect x="48.7" y="8.1" width="2.6" height="1.9" fill="#6cb85e" opacity="0.72" transform="rotate(23 48.7 8.1)"/><rect x="52.1" y="18.3" width="2.1" height="0.9" fill="#6cb85e" opacity="0.70" transform="rotate(24 52.1 18.3)"/><rect x="51.5" y="16.7" width="1.9" height="2.0" fill="#3f9a36" opacity="0.74" transform="rotate(34 51.5 16.7)"/><rect x="49.2" y="2.4" width="2.7" height="1.7" fill="#3f9a36" opacity="0.45" transform="rotate(-23 49.2 2.4)"/><rect x="38.8" y="2.9" width="1.6" height="1.4" fill="#3f9a36" opacity="0.67" transform="rotate(40 38.8 2.9)"/><rect x="41.3" y="10.1" width="1.4" height="1.4" fill="#3f9a36" opacity="0.71" transform="rotate(24 41.3 10.1)"/><rect x="48.6" y="9.4" width="1.9" height="1.8" fill="#6cb85e" opacity="0.53" transform="rotate(-31 48.6 9.4)"/><rect x="49.1" y="7.2" width="2.3" height="1.1" fill="#6cb85e" opacity="0.62" transform="rotate(8 49.1 7.2)"/><rect x="56.2" y="15.8" width="1.4" height="0.9" fill="#56a84a" opacity="0.47" transform="rotate(-22 56.2 15.8)"/><rect x="41.8" y="18.4" width="2.2" height="1.7" fill="#56a84a" opacity="0.44" transform="rotate(-33 41.8 18.4)"/><rect x="34.7" y="12.0" width="1.1" height="1.1" fill="#6cb85e" opacity="0.54" transform="rotate(26 34.7 12.0)"/><rect x="44.7" y="17.8" width="2.4" height="2.2" fill="#56a84a" opacity="0.55" transform="rotate(-30 44.7 17.8)"/><rect x="47.3" y="10.6" width="1.8" height="1.9" fill="#6cb85e" opacity="0.80" transform="rotate(9 47.3 10.6)"/><rect x="49.2" y="21.3" width="1.3" height="1.6" fill="#56a84a" opacity="0.71" transform="rotate(-7 49.2 21.3)"/><rect x="49.7" y="10.0" width="2.5" height="1.5" fill="#3f9a36" opacity="0.69" transform="rotate(-11 49.7 10.0)"/><rect x="35.4" y="11.1" width="1.6" height="1.0" fill="#6cb85e" opacity="0.69" transform="rotate(11 35.4 11.1)"/><rect x="45.2" y="14.2" width="1.6" height="1.2" fill="#2f8a2c" opacity="0.44" transform="rotate(3 45.2 14.2)"/><rect x="48.1" y="8.4" width="2.7" height="1.8" fill="#2f8a2c" opacity="0.53" transform="rotate(-32 48.1 8.4)"/><rect x="37.1" y="17.8" width="2.0" height="1.3" fill="#6cb85e" opacity="0.71" transform="rotate(-34 37.1 17.8)"/><rect x="45.9" y="12.8" width="2.2" height="1.7" fill="#56a84a" opacity="0.53" transform="rotate(-6 45.9 12.8)"/><rect x="40.9" y="13.1" width="2.4" height="1.9" fill="#6cb85e" opacity="0.76" transform="rotate(40 40.9 13.1)"/><rect x="37.5" y="17.0" width="2.0" height="1.1" fill="#3f9a36" opacity="0.46" transform="rotate(12 37.5 17.0)"/><rect x="36.8" y="13.8" width="2.1" height="1.2" fill="#3f9a36" opacity="0.77" transform="rotate(30 36.8 13.8)"/><rect x="51.6" y="16.0" width="1.6" height="1.2" fill="#2f8a2c" opacity="0.59" transform="rotate(-10 51.6 16.0)"/><rect x="43.7" y="18.3" width="1.6" height="1.0" fill="#56a84a" opacity="0.47" transform="rotate(24 43.7 18.3)"/><rect x="52.8" y="7.0" width="1.3" height="2.1" fill="#6cb85e" opacity="0.59" transform="rotate(30 52.8 7.0)"/><rect x="47.3" y="13.4" width="1.5" height="0.9" fill="#56a84a" opacity="0.57" transform="rotate(32 47.3 13.4)"/><rect x="46.7" y="12.0" width="2.6" height="1.3" fill="#56a84a" opacity="0.58" transform="rotate(3 46.7 12.0)"/><rect x="46.4" y="3.8" width="2.0" height="1.3" fill="#56a84a" opacity="0.47" transform="rotate(-9 46.4 3.8)"/><rect x="39.5" y="16.6" width="1.7" height="1.2" fill="#3f9a36" opacity="0.49" transform="rotate(14 39.5 16.6)"/><rect x="43.5" y="1.0" width="1.8" height="1.6" fill="#3f9a36" opacity="0.47" transform="rotate(27 43.5 1.0)"/><rect x="53.5" y="2.5" width="1.4" height="1.0" fill="#56a84a" opacity="0.49" transform="rotate(-27 53.5 2.5)"/><rect x="55.4" y="7.7" width="2.1" height="1.9" fill="#6cb85e" opacity="0.47" transform="rotate(-35 55.4 7.7)"/><rect x="49.7" y="11.0" width="2.0" height="0.9" fill="#2f8a2c" opacity="0.79" transform="rotate(40 49.7 11.0)"/><rect x="46.2" y="19.4" width="2.2" height="1.0" fill="#3f9a36" opacity="0.55" transform="rotate(34 46.2 19.4)"/><rect x="48.2" y="15.6" width="2.4" height="0.8" fill="#2f8a2c" opacity="0.80" transform="rotate(-5 48.2 15.6)"/><rect x="55.1" y="8.8" width="2.6" height="1.5" fill="#56a84a" opacity="0.64" transform="rotate(-37 55.1 8.8)"/><rect x="55.6" y="8.8" width="1.5" height="0.8" fill="#6cb85e" opacity="0.76" transform="rotate(13 55.6 8.8)"/><rect x="50.6" y="13.2" width="1.7" height="1.3" fill="#6cb85e" opacity="0.45" transform="rotate(3 50.6 13.2)"/><rect x="45.0" y="5.1" width="1.7" height="0.8" fill="#2f8a2c" opacity="0.71" transform="rotate(24 45.0 5.1)"/><rect x="53.4" y="14.0" width="1.3" height="1.9" fill="#56a84a" opacity="0.52" transform="rotate(-12 53.4 14.0)"/><rect x="45.3" y="21.2" width="1.1" height="1.7" fill="#56a84a" opacity="0.76" transform="rotate(22 45.3 21.2)"/><rect x="38.3" y="15.3" width="2.7" height="1.0" fill="#6cb85e" opacity="0.46" transform="rotate(-37 38.3 15.3)"/><rect x="49.9" y="10.4" width="1.0" height="0.9" fill="#6cb85e" opacity="0.60" transform="rotate(0 49.9 10.4)"/><rect x="45.0" y="0.1" width="2.7" height="1.3" fill="#56a84a" opacity="0.67" transform="rotate(27 45.0 0.1)"/><rect x="46.3" y="9.6" width="2.2" height="1.3" fill="#2f8a2c" opacity="0.79" transform="rotate(16 46.3 9.6)"/><rect x="46.5" y="11.3" width="1.4" height="1.3" fill="#3f9a36" opacity="0.64" transform="rotate(-14 46.5 11.3)"/><rect x="39.0" y="17.4" width="1.5" height="1.9" fill="#3f9a36" opacity="0.46" transform="rotate(20 39.0 17.4)"/><rect x="49.1" y="18.2" width="1.7" height="1.3" fill="#6cb85e" opacity="0.45" transform="rotate(12 49.1 18.2)"/><rect x="46.4" y="19.3" width="1.7" height="1.3" fill="#6cb85e" opacity="0.46" transform="rotate(-33 46.4 19.3)"/><rect x="45.9" y="20.2" width="2.6" height="1.3" fill="#2f8a2c" opacity="0.56" transform="rotate(38 45.9 20.2)"/><rect x="55.9" y="13.5" width="2.2" height="2.1" fill="#2f8a2c" opacity="0.44" transform="rotate(36 55.9 13.5)"/><rect x="54.1" y="6.8" width="2.7" height="0.8" fill="#56a84a" opacity="0.48" transform="rotate(19 54.1 6.8)"/><rect x="52.7" y="9.2" width="1.4" height="1.4" fill="#6cb85e" opacity="0.49" transform="rotate(23 52.7 9.2)"/><rect x="50.6" y="19.8" width="2.3" height="2.0" fill="#56a84a" opacity="0.66" transform="rotate(1 50.6 19.8)"/><rect x="51.1" y="5.7" width="2.4" height="1.6" fill="#56a84a" opacity="0.58" transform="rotate(-20 51.1 5.7)"/><rect x="46.4" y="13.1" width="1.0" height="1.6" fill="#2f8a2c" opacity="0.50" transform="rotate(14 46.4 13.1)"/><rect x="55.1" y="3.7" width="1.4" height="0.9" fill="#3f9a36" opacity="0.59" transform="rotate(17 55.1 3.7)"/><rect x="48.0" y="13.9" width="1.8" height="2.0" fill="#56a84a" opacity="0.71" transform="rotate(-25 48.0 13.9)"/><rect x="47.4" y="5.8" width="1.4" height="1.2" fill="#2f8a2c" opacity="0.71" transform="rotate(-15 47.4 5.8)"/><rect x="42.3" y="12.5" width="1.3" height="1.2" fill="#56a84a" opacity="0.56" transform="rotate(10 42.3 12.5)"/><rect x="46.3" y="15.7" width="1.9" height="1.7" fill="#3f9a36" opacity="0.68" transform="rotate(-36 46.3 15.7)"/><rect x="52.4" y="15.2" width="2.5" height="2.0" fill="#2f8a2c" opacity="0.45" transform="rotate(-3 52.4 15.2)"/><rect x="46.5" y="12.8" width="2.0" height="2.0" fill="#56a84a" opacity="0.77" transform="rotate(7 46.5 12.8)"/><rect x="42.1" y="10.7" width="2.0" height="1.9" fill="#3f9a36" opacity="0.48" transform="rotate(36 42.1 10.7)"/><rect x="44.7" y="5.3" width="1.0" height="1.3" fill="#3f9a36" opacity="0.51" transform="rotate(-8 44.7 5.3)"/><rect x="55.9" y="13.2" width="2.6" height="1.9" fill="#2f8a2c" opacity="0.59" transform="rotate(7 55.9 13.2)"/><rect x="48.7" y="16.0" width="1.3" height="1.9" fill="#6cb85e" opacity="0.46" transform="rotate(-28 48.7 16.0)"/><rect x="49.0" y="2.7" width="1.2" height="1.5" fill="#56a84a" opacity="0.58" transform="rotate(-6 49.0 2.7)"/><rect x="41.6" y="13.8" width="1.5" height="2.1" fill="#2f8a2c" opacity="0.71" transform="rotate(5 41.6 13.8)"/><rect x="45.4" y="11.5" width="2.4" height="1.9" fill="#56a84a" opacity="0.58" transform="rotate(11 45.4 11.5)"/><rect x="40.0" y="31.8" width="2.6" height="1.4" fill="#3f9a36" opacity="0.73" transform="rotate(6 40.0 31.8)"/><rect x="38.9" y="31.8" width="0.9" height="1.6" fill="#6cb85e" opacity="0.59" transform="rotate(39 38.9 31.8)"/><rect x="42.5" y="31.2" width="1.2" height="1.3" fill="#56a84a" opacity="0.78" transform="rotate(-32 42.5 31.2)"/><rect x="41.7" y="32.3" width="2.4" height="2.2" fill="#56a84a" opacity="0.69" transform="rotate(-35 41.7 32.3)"/><rect x="42.1" y="31.6" width="1.0" height="2.1" fill="#6cb85e" opacity="0.59" transform="rotate(39 42.1 31.6)"/><rect x="38.8" y="30.5" width="2.1" height="2.0" fill="#6cb85e" opacity="0.83" transform="rotate(-15 38.8 30.5)"/><rect x="40.6" y="31.3" width="1.3" height="1.4" fill="#56a84a" opacity="0.72" transform="rotate(-25 40.6 31.3)"/><rect x="41.9" y="32.8" width="2.4" height="1.1" fill="#3f9a36" opacity="0.85" transform="rotate(1 41.9 32.8)"/><rect x="41.8" y="32.4" width="1.9" height="1.7" fill="#2f8a2c" opacity="0.84" transform="rotate(-1 41.8 32.4)"/><rect x="38.2" y="31.3" width="2.2" height="1.4" fill="#6cb85e" opacity="0.63" transform="rotate(-40 38.2 31.3)"/><rect x="38.4" y="31.1" width="1.3" height="1.9" fill="#6cb85e" opacity="0.93" transform="rotate(20 38.4 31.1)"/><rect x="39.4" y="31.9" width="1.6" height="1.3" fill="#6cb85e" opacity="0.78" transform="rotate(-35 39.4 31.9)"/><rect x="40.9" y="31.8" width="2.7" height="1.2" fill="#3f9a36" opacity="0.57" transform="rotate(24 40.9 31.8)"/><rect x="42.0" y="31.1" width="2.4" height="0.8" fill="#3f9a36" opacity="1.00" transform="rotate(-26 42.0 31.1)"/><rect x="41.1" y="33.0" width="1.8" height="2.1" fill="#56a84a" opacity="0.86" transform="rotate(-12 41.1 33.0)"/><rect x="31.3" y="38.0" width="2.3" height="1.0" fill="#2f8a2c" opacity="0.77" transform="rotate(18 31.3 38.0)"/><rect x="31.0" y="40.3" width="2.6" height="1.1" fill="#2f8a2c" opacity="0.66" transform="rotate(-10 31.0 40.3)"/><rect x="29.2" y="37.3" width="1.2" height="1.0" fill="#2f8a2c" opacity="0.68" transform="rotate(8 29.2 37.3)"/><rect x="31.0" y="42.1" width="1.1" height="1.5" fill="#2f8a2c" opacity="0.79" transform="rotate(17 31.0 42.1)"/><rect x="26.8" y="34.5" width="2.6" height="0.9" fill="#6cb85e" opacity="0.71" transform="rotate(7 26.8 34.5)"/><rect x="29.1" y="43.9" width="2.0" height="1.3" fill="#3f9a36" opacity="0.60" transform="rotate(-18 29.1 43.9)"/><rect x="26.6" y="31.4" width="1.5" height="1.5" fill="#2f8a2c" opacity="0.67" transform="rotate(34 26.6 31.4)"/><rect x="32.6" y="33.3" width="2.3" height="1.8" fill="#56a84a" opacity="0.49" transform="rotate(38 32.6 33.3)"/><rect x="27.8" y="33.2" width="1.6" height="0.9" fill="#6cb85e" opacity="0.52" transform="rotate(-35 27.8 33.2)"/><rect x="29.5" y="36.4" width="1.6" height="0.9" fill="#2f8a2c" opacity="0.63" transform="rotate(12 29.5 36.4)"/><rect x="27.0" y="33.6" width="1.3" height="1.7" fill="#6cb85e" opacity="0.50" transform="rotate(-39 27.0 33.6)"/><rect x="30.9" y="35.1" width="1.2" height="0.9" fill="#56a84a" opacity="0.75" transform="rotate(-6 30.9 35.1)"/><rect x="28.0" y="38.3" width="0.9" height="1.7" fill="#2f8a2c" opacity="0.65" transform="rotate(34 28.0 38.3)"/><rect x="26.0" y="38.9" width="2.3" height="1.1" fill="#3f9a36" opacity="0.46" transform="rotate(28 26.0 38.9)"/><rect x="30.8" y="36.8" width="1.2" height="2.1" fill="#3f9a36" opacity="0.44" transform="rotate(30 30.8 36.8)"/><rect x="28.6" y="34.0" width="1.7" height="1.5" fill="#6cb85e" opacity="0.73" transform="rotate(-18 28.6 34.0)"/><rect x="28.7" y="36.3" width="2.1" height="2.2" fill="#6cb85e" opacity="0.70" transform="rotate(-40 28.7 36.3)"/><rect x="27.8" y="39.6" width="2.6" height="0.9" fill="#6cb85e" opacity="0.50" transform="rotate(-27 27.8 39.6)"/><rect x="29.2" y="42.2" width="1.1" height="2.0" fill="#2f8a2c" opacity="0.70" transform="rotate(-6 29.2 42.2)"/><rect x="27.4" y="31.8" width="2.2" height="2.1" fill="#2f8a2c" opacity="0.55" transform="rotate(-13 27.4 31.8)"/><rect x="31.6" y="38.9" width="1.2" height="2.1" fill="#56a84a" opacity="0.78" transform="rotate(1 31.6 38.9)"/><rect x="30.2" y="40.4" width="2.0" height="1.3" fill="#6cb85e" opacity="0.61" transform="rotate(27 30.2 40.4)"/><rect x="28.3" y="29.8" width="1.7" height="1.8" fill="#2f8a2c" opacity="0.72" transform="rotate(10 28.3 29.8)"/><rect x="28.8" y="35.2" width="2.6" height="1.0" fill="#3f9a36" opacity="0.48" transform="rotate(39 28.8 35.2)"/><rect x="31.2" y="34.6" width="1.2" height="0.8" fill="#3f9a36" opacity="0.49" transform="rotate(-35 31.2 34.6)"/><rect x="28.4" y="30.4" width="1.0" height="1.6" fill="#2f8a2c" opacity="0.51" transform="rotate(28 28.4 30.4)"/><rect x="30.0" y="35.4" width="2.5" height="2.1" fill="#6cb85e" opacity="0.48" transform="rotate(-14 30.0 35.4)"/><rect x="29.6" y="37.3" width="2.7" height="2.1" fill="#3f9a36" opacity="0.74" transform="rotate(40 29.6 37.3)"/><rect x="27.8" y="32.7" width="1.2" height="1.9" fill="#56a84a" opacity="0.55" transform="rotate(3 27.8 32.7)"/><rect x="29.1" y="36.7" width="1.4" height="1.2" fill="#2f8a2c" opacity="0.77" transform="rotate(37 29.1 36.7)"/><rect x="26.0" y="36.2" width="2.1" height="0.8" fill="#6cb85e" opacity="0.45" transform="rotate(26 26.0 36.2)"/><rect x="29.7" y="32.4" width="2.2" height="1.6" fill="#56a84a" opacity="0.70" transform="rotate(-29 29.7 32.4)"/><rect x="27.8" y="34.7" width="1.7" height="1.5" fill="#2f8a2c" opacity="0.71" transform="rotate(-34 27.8 34.7)"/><rect x="31.9" y="36.5" width="1.8" height="1.9" fill="#56a84a" opacity="0.79" transform="rotate(35 31.9 36.5)"/><rect x="27.5" y="41.9" width="1.4" height="2.1" fill="#2f8a2c" opacity="0.73" transform="rotate(-11 27.5 41.9)"/><rect x="28.4" y="36.4" width="2.1" height="0.9" fill="#3f9a36" opacity="0.67" transform="rotate(5 28.4 36.4)"/><rect x="32.4" y="40.4" width="2.6" height="1.8" fill="#6cb85e" opacity="0.76" transform="rotate(-37 32.4 40.4)"/><rect x="28.1" y="39.0" width="1.7" height="1.6" fill="#56a84a" opacity="0.58" transform="rotate(40 28.1 39.0)"/><rect x="27.1" y="52.7" width="1.9" height="1.9" fill="#3f9a36" opacity="0.57" transform="rotate(1 27.1 52.7)"/><rect x="23.4" y="48.3" width="1.8" height="1.6" fill="#2f8a2c" opacity="0.50" transform="rotate(16 23.4 48.3)"/><rect x="26.3" y="46.6" width="1.3" height="1.3" fill="#56a84a" opacity="0.62" transform="rotate(-6 26.3 46.6)"/><rect x="25.9" y="53.6" width="2.5" height="1.0" fill="#56a84a" opacity="0.79" transform="rotate(1 25.9 53.6)"/><rect x="25.3" y="47.1" width="1.3" height="2.1" fill="#2f8a2c" opacity="0.79" transform="rotate(-27 25.3 47.1)"/><rect x="28.4" y="53.0" width="1.3" height="1.0" fill="#56a84a" opacity="0.73" transform="rotate(-2 28.4 53.0)"/><rect x="25.6" y="49.9" width="2.1" height="0.9" fill="#56a84a" opacity="0.76" transform="rotate(19 25.6 49.9)"/><rect x="29.0" y="49.7" width="2.4" height="1.8" fill="#2f8a2c" opacity="0.61" transform="rotate(-22 29.0 49.7)"/><rect x="26.7" y="54.0" width="0.9" height="1.1" fill="#6cb85e" opacity="0.69" transform="rotate(35 26.7 54.0)"/><rect x="26.9" y="45.5" width="1.3" height="1.8" fill="#56a84a" opacity="0.68" transform="rotate(-25 26.9 45.5)"/><rect x="25.1" y="49.9" width="2.1" height="0.9" fill="#6cb85e" opacity="0.53" transform="rotate(11 25.1 49.9)"/><rect x="26.2" y="44.7" width="1.4" height="1.4" fill="#6cb85e" opacity="0.45" transform="rotate(12 26.2 44.7)"/><rect x="23.9" y="48.5" width="2.6" height="2.1" fill="#2f8a2c" opacity="0.72" transform="rotate(9 23.9 48.5)"/><rect x="28.6" y="44.2" width="1.1" height="1.2" fill="#56a84a" opacity="0.50" transform="rotate(-15 28.6 44.2)"/><rect x="25.9" y="48.8" width="2.0" height="1.6" fill="#6cb85e" opacity="0.62" transform="rotate(7 25.9 48.8)"/><rect x="24.7" y="48.6" width="2.7" height="1.1" fill="#56a84a" opacity="0.58" transform="rotate(-25 24.7 48.6)"/><rect x="26.5" y="44.7" width="2.1" height="1.2" fill="#6cb85e" opacity="0.58" transform="rotate(-39 26.5 44.7)"/><rect x="30.1" y="51.6" width="2.1" height="1.7" fill="#2f8a2c" opacity="0.48" transform="rotate(-2 30.1 51.6)"/><rect x="26.7" y="43.3" width="1.9" height="1.1" fill="#6cb85e" opacity="0.61" transform="rotate(-19 26.7 43.3)"/><rect x="29.1" y="52.7" width="2.4" height="1.7" fill="#6cb85e" opacity="0.67" transform="rotate(-12 29.1 52.7)"/><rect x="27.4" y="47.3" width="2.2" height="2.0" fill="#6cb85e" opacity="0.61" transform="rotate(-3 27.4 47.3)"/><rect x="27.1" y="44.5" width="2.4" height="1.5" fill="#56a84a" opacity="0.54" transform="rotate(8 27.1 44.5)"/><rect x="25.4" y="43.6" width="2.2" height="1.5" fill="#2f8a2c" opacity="0.57" transform="rotate(-2 25.4 43.6)"/><rect x="25.8" y="52.5" width="2.1" height="0.9" fill="#2f8a2c" opacity="0.49" transform="rotate(-2 25.8 52.5)"/><rect x="27.3" y="48.2" width="2.5" height="2.1" fill="#56a84a" opacity="0.63" transform="rotate(4 27.3 48.2)"/><rect x="26.7" y="48.7" width="0.9" height="2.1" fill="#2f8a2c" opacity="0.53" transform="rotate(-28 26.7 48.7)"/><rect x="23.8" y="46.5" width="1.3" height="1.4" fill="#56a84a" opacity="0.52" transform="rotate(11 23.8 46.5)"/><rect x="27.2" y="47.1" width="2.6" height="1.7" fill="#3f9a36" opacity="0.68" transform="rotate(30 27.2 47.1)"/><rect x="27.7" y="43.9" width="1.3" height="1.8" fill="#3f9a36" opacity="0.71" transform="rotate(16 27.7 43.9)"/><rect x="26.4" y="47.6" width="1.1" height="1.4" fill="#56a84a" opacity="0.61" transform="rotate(31 26.4 47.6)"/><rect x="25.6" y="64.0" width="1.2" height="1.5" fill="#6cb85e" opacity="0.62" transform="rotate(36 25.6 64.0)"/><rect x="22.8" y="61.3" width="2.5" height="1.5" fill="#6cb85e" opacity="0.85" transform="rotate(19 22.8 61.3)"/><rect x="20.6" y="66.0" width="2.7" height="0.9" fill="#2f8a2c" opacity="0.84" transform="rotate(-37 20.6 66.0)"/><rect x="23.4" y="61.9" width="2.3" height="2.2" fill="#3f9a36" opacity="0.78" transform="rotate(22 23.4 61.9)"/><rect x="22.7" y="58.5" width="1.3" height="1.4" fill="#56a84a" opacity="0.70" transform="rotate(6 22.7 58.5)"/><rect x="20.4" y="69.0" width="2.0" height="2.1" fill="#2f8a2c" opacity="0.75" transform="rotate(14 20.4 69.0)"/><rect x="22.6" y="63.4" width="1.4" height="1.3" fill="#6cb85e" opacity="0.73" transform="rotate(24 22.6 63.4)"/><rect x="27.2" y="60.8" width="1.6" height="1.1" fill="#6cb85e" opacity="0.91" transform="rotate(2 27.2 60.8)"/><rect x="24.1" y="69.5" width="1.1" height="2.2" fill="#3f9a36" opacity="0.90" transform="rotate(-35 24.1 69.5)"/><rect x="19.9" y="65.9" width="1.7" height="1.6" fill="#6cb85e" opacity="0.69" transform="rotate(-40 19.9 65.9)"/><rect x="26.8" y="64.3" width="1.8" height="1.9" fill="#3f9a36" opacity="0.91" transform="rotate(29 26.8 64.3)"/><rect x="19.9" y="56.8" width="2.1" height="1.8" fill="#3f9a36" opacity="0.65" transform="rotate(18 19.9 56.8)"/><rect x="21.4" y="59.2" width="2.2" height="2.0" fill="#6cb85e" opacity="0.90" transform="rotate(-39 21.4 59.2)"/><rect x="19.7" y="68.3" width="2.4" height="1.6" fill="#2f8a2c" opacity="0.94" transform="rotate(-17 19.7 68.3)"/><rect x="20.5" y="64.1" width="1.7" height="1.7" fill="#3f9a36" opacity="0.77" transform="rotate(26 20.5 64.1)"/><rect x="24.0" y="62.4" width="2.4" height="1.6" fill="#6cb85e" opacity="0.75" transform="rotate(-39 24.0 62.4)"/><rect x="21.1" y="55.0" width="2.8" height="1.7" fill="#56a84a" opacity="0.76" transform="rotate(12 21.1 55.0)"/><rect x="21.6" y="61.0" width="1.8" height="2.1" fill="#3f9a36" opacity="0.74" transform="rotate(-39 21.6 61.0)"/><rect x="22.1" y="59.1" width="2.7" height="0.9" fill="#3f9a36" opacity="0.61" transform="rotate(-38 22.1 59.1)"/><rect x="22.1" y="68.8" width="1.8" height="1.8" fill="#3f9a36" opacity="0.71" transform="rotate(-22 22.1 68.8)"/><rect x="22.5" y="59.4" width="2.1" height="1.8" fill="#6cb85e" opacity="0.85" transform="rotate(-8 22.5 59.4)"/><rect x="23.4" y="60.8" width="1.0" height="0.9" fill="#3f9a36" opacity="0.73" transform="rotate(-1 23.4 60.8)"/><rect x="22.4" y="58.3" width="2.5" height="1.5" fill="#3f9a36" opacity="0.69" transform="rotate(33 22.4 58.3)"/><rect x="22.2" y="55.3" width="1.2" height="2.2" fill="#3f9a36" opacity="0.71" transform="rotate(-20 22.2 55.3)"/><rect x="20.7" y="57.3" width="1.6" height="1.9" fill="#2f8a2c" opacity="0.90" transform="rotate(32 20.7 57.3)"/><rect x="21.5" y="65.8" width="2.1" height="1.7" fill="#2f8a2c" opacity="0.94" transform="rotate(-39 21.5 65.8)"/><rect x="24.4" y="55.2" width="1.5" height="1.4" fill="#56a84a" opacity="0.72" transform="rotate(8 24.4 55.2)"/><rect x="19.0" y="56.0" width="2.4" height="1.2" fill="#3f9a36" opacity="0.69" transform="rotate(-6 19.0 56.0)"/><rect x="19.5" y="65.2" width="2.5" height="2.0" fill="#3f9a36" opacity="0.68" transform="rotate(-22 19.5 65.2)"/><rect x="24.4" y="53.1" width="2.0" height="1.2" fill="#6cb85e" opacity="0.71" transform="rotate(-30 24.4 53.1)"/><rect x="19.6" y="60.1" width="1.6" height="1.9" fill="#56a84a" opacity="0.69" transform="rotate(-33 19.6 60.1)"/><rect x="21.3" y="55.9" width="1.3" height="1.2" fill="#3f9a36" opacity="0.91" transform="rotate(18 21.3 55.9)"/><rect x="19.4" y="59.9" width="1.6" height="0.9" fill="#6cb85e" opacity="0.81" transform="rotate(-7 19.4 59.9)"/><rect x="25.1" y="57.2" width="1.8" height="1.6" fill="#56a84a" opacity="0.65" transform="rotate(-29 25.1 57.2)"/><rect x="24.3" y="69.1" width="1.6" height="1.6" fill="#6cb85e" opacity="0.90" transform="rotate(-21 24.3 69.1)"/><rect x="22.8" y="71.4" width="1.8" height="2.0" fill="#2f8a2c" opacity="0.83" transform="rotate(-30 22.8 71.4)"/><rect x="24.7" y="67.9" width="1.6" height="1.5" fill="#3f9a36" opacity="0.59" transform="rotate(-14 24.7 67.9)"/><rect x="27.1" y="61.1" width="1.8" height="1.6" fill="#2f8a2c" opacity="0.97" transform="rotate(-5 27.1 61.1)"/><rect x="18.4" y="66.1" width="2.4" height="1.9" fill="#56a84a" opacity="0.66" transform="rotate(-36 18.4 66.1)"/><rect x="20.1" y="70.3" width="1.6" height="0.8" fill="#3f9a36" opacity="0.80" transform="rotate(18 20.1 70.3)"/><rect x="18.2" y="62.5" width="2.6" height="2.0" fill="#6cb85e" opacity="0.96" transform="rotate(-29 18.2 62.5)"/><rect x="22.5" y="68.9" width="2.1" height="2.1" fill="#6cb85e" opacity="0.63" transform="rotate(-20 22.5 68.9)"/><rect x="21.2" y="64.8" width="2.3" height="1.0" fill="#2f8a2c" opacity="0.97" transform="rotate(-33 21.2 64.8)"/><rect x="26.4" y="56.2" width="2.5" height="0.9" fill="#6cb85e" opacity="0.58" transform="rotate(-22 26.4 56.2)"/><rect x="22.6" y="62.1" width="1.3" height="1.8" fill="#6cb85e" opacity="0.89" transform="rotate(-27 22.6 62.1)"/><rect x="20.0" y="62.7" width="1.6" height="1.3" fill="#6cb85e" opacity="0.63" transform="rotate(-10 20.0 62.7)"/><rect x="24.3" y="52.7" width="2.6" height="1.5" fill="#56a84a" opacity="0.91" transform="rotate(-20 24.3 52.7)"/><rect x="24.4" y="59.9" width="2.7" height="2.0" fill="#56a84a" opacity="0.90" transform="rotate(-28 24.4 59.9)"/><rect x="25.1" y="59.1" width="0.9" height="0.9" fill="#2f8a2c" opacity="0.70" transform="rotate(-11 25.1 59.1)"/><rect x="19.0" y="62.8" width="1.2" height="1.1" fill="#3f9a36" opacity="0.63" transform="rotate(17 19.0 62.8)"/><rect x="21.2" y="60.7" width="2.6" height="1.2" fill="#6cb85e" opacity="0.66" transform="rotate(-37 21.2 60.7)"/><rect x="22.1" y="70.8" width="1.5" height="1.0" fill="#6cb85e" opacity="0.60" transform="rotate(18 22.1 70.8)"/><rect x="23.7" y="60.1" width="2.8" height="0.9" fill="#56a84a" opacity="0.80" transform="rotate(-4 23.7 60.1)"/><rect x="25.7" y="67.5" width="2.7" height="1.4" fill="#2f8a2c" opacity="1.00" transform="rotate(-10 25.7 67.5)"/><rect x="24.6" y="64.5" width="2.6" height="0.9" fill="#2f8a2c" opacity="0.61" transform="rotate(-38 24.6 64.5)"/><rect x="19.6" y="64.1" width="1.9" height="1.4" fill="#2f8a2c" opacity="0.63" transform="rotate(15 19.6 64.1)"/><rect x="25.4" y="63.2" width="1.4" height="1.1" fill="#56a84a" opacity="0.78" transform="rotate(-11 25.4 63.2)"/><rect x="22.2" y="58.0" width="1.1" height="0.9" fill="#6cb85e" opacity="0.89" transform="rotate(-18 22.2 58.0)"/><rect x="23.7" y="69.0" width="2.2" height="1.9" fill="#2f8a2c" opacity="0.64" transform="rotate(-32 23.7 69.0)"/><rect x="21.5" y="55.3" width="2.5" height="2.1" fill="#2f8a2c" opacity="0.70" transform="rotate(23 21.5 55.3)"/><rect x="25.1" y="64.9" width="2.3" height="1.0" fill="#2f8a2c" opacity="0.66" transform="rotate(32 25.1 64.9)"/><rect x="24.0" y="56.9" width="1.2" height="1.3" fill="#3f9a36" opacity="0.71" transform="rotate(17 24.0 56.9)"/><rect x="23.6" y="61.3" width="1.6" height="1.1" fill="#2f8a2c" opacity="0.90" transform="rotate(8 23.6 61.3)"/><rect x="18.6" y="57.3" width="1.5" height="1.0" fill="#6cb85e" opacity="0.75" transform="rotate(-37 18.6 57.3)"/><rect x="19.3" y="60.4" width="0.9" height="2.2" fill="#56a84a" opacity="0.83" transform="rotate(-19 19.3 60.4)"/><rect x="24.4" y="64.4" width="2.5" height="0.8" fill="#3f9a36" opacity="0.97" transform="rotate(-16 24.4 64.4)"/><rect x="22.3" y="70.8" width="2.1" height="1.4" fill="#56a84a" opacity="0.87" transform="rotate(-27 22.3 70.8)"/><rect x="22.0" y="63.7" width="1.2" height="1.2" fill="#6cb85e" opacity="0.77" transform="rotate(24 22.0 63.7)"/><rect x="22.7" y="59.0" width="1.1" height="2.0" fill="#56a84a" opacity="0.94" transform="rotate(-22 22.7 59.0)"/><rect x="21.1" y="56.1" width="1.7" height="2.1" fill="#3f9a36" opacity="0.97" transform="rotate(9 21.1 56.1)"/><rect x="21.4" y="54.7" width="2.0" height="0.9" fill="#3f9a36" opacity="0.90" transform="rotate(3 21.4 54.7)"/><rect x="19.1" y="67.0" width="2.3" height="2.0" fill="#2f8a2c" opacity="0.92" transform="rotate(31 19.1 67.0)"/><rect x="25.8" y="64.0" width="2.7" height="2.1" fill="#56a84a" opacity="0.94" transform="rotate(40 25.8 64.0)"/><rect x="23.9" y="61.9" width="1.3" height="1.3" fill="#56a84a" opacity="0.78" transform="rotate(-38 23.9 61.9)"/><rect x="23.1" y="67.7" width="1.7" height="2.2" fill="#6cb85e" opacity="0.83" transform="rotate(-35 23.1 67.7)"/><rect x="26.3" y="63.4" width="1.4" height="1.7" fill="#2f8a2c" opacity="0.83" transform="rotate(-36 26.3 63.4)"/><rect x="21.1" y="58.7" width="1.9" height="1.4" fill="#3f9a36" opacity="0.68" transform="rotate(-1 21.1 58.7)"/><rect x="21.7" y="64.5" width="1.0" height="2.1" fill="#2f8a2c" opacity="0.59" transform="rotate(35 21.7 64.5)"/><rect x="21.1" y="61.0" width="1.1" height="1.0" fill="#2f8a2c" opacity="0.96" transform="rotate(33 21.1 61.0)"/><rect x="22.2" y="65.9" width="1.1" height="1.6" fill="#6cb85e" opacity="0.82" transform="rotate(32 22.2 65.9)"/><rect x="23.1" y="67.4" width="1.9" height="1.3" fill="#2f8a2c" opacity="0.83" transform="rotate(20 23.1 67.4)"/><rect x="22.9" y="60.6" width="1.5" height="1.1" fill="#6cb85e" opacity="0.99" transform="rotate(10 22.9 60.6)"/><rect x="25.3" y="62.1" width="2.5" height="1.1" fill="#2f8a2c" opacity="0.77" transform="rotate(-4 25.3 62.1)"/><rect x="24.1" y="58.9" width="1.0" height="0.8" fill="#3f9a36" opacity="0.82" transform="rotate(4 24.1 58.9)"/><rect x="21.8" y="62.4" width="1.6" height="1.4" fill="#3f9a36" opacity="0.78" transform="rotate(-21 21.8 62.4)"/><rect x="19.3" y="65.7" width="1.2" height="1.1" fill="#2f8a2c" opacity="0.92" transform="rotate(26 19.3 65.7)"/><rect x="26.3" y="66.9" width="2.7" height="2.2" fill="#2f8a2c" opacity="0.90" transform="rotate(40 26.3 66.9)"/><rect x="23.9" y="60.2" width="2.6" height="0.8" fill="#3f9a36" opacity="0.77" transform="rotate(33 23.9 60.2)"/><rect x="25.3" y="69.1" width="1.4" height="1.7" fill="#3f9a36" opacity="0.72" transform="rotate(17 25.3 69.1)"/><rect x="21.8" y="57.2" width="1.6" height="1.3" fill="#6cb85e" opacity="0.84" transform="rotate(-40 21.8 57.2)"/><rect x="23.7" y="52.8" width="1.8" height="1.4" fill="#56a84a" opacity="0.79" transform="rotate(-22 23.7 52.8)"/><rect x="20.1" y="63.9" width="1.3" height="2.0" fill="#2f8a2c" opacity="0.70" transform="rotate(37 20.1 63.9)"/><rect x="25.2" y="53.3" width="1.3" height="1.4" fill="#3f9a36" opacity="0.56" transform="rotate(-8 25.2 53.3)"/><rect x="19.7" y="59.1" width="2.6" height="1.9" fill="#6cb85e" opacity="0.78" transform="rotate(26 19.7 59.1)"/><rect x="22.2" y="55.7" width="1.8" height="0.9" fill="#2f8a2c" opacity="0.75" transform="rotate(-39 22.2 55.7)"/><rect x="21.2" y="55.5" width="1.1" height="1.3" fill="#6cb85e" opacity="0.84" transform="rotate(33 21.2 55.5)"/><rect x="23.7" y="64.8" width="1.7" height="1.4" fill="#2f8a2c" opacity="0.86" transform="rotate(-29 23.7 64.8)"/><rect x="23.8" y="66.2" width="2.8" height="2.0" fill="#56a84a" opacity="0.60" transform="rotate(-3 23.8 66.2)"/><rect x="21.0" y="53.3" width="2.8" height="2.0" fill="#6cb85e" opacity="0.83" transform="rotate(27 21.0 53.3)"/><rect x="21.8" y="68.3" width="1.9" height="1.1" fill="#56a84a" opacity="0.58" transform="rotate(32 21.8 68.3)"/><rect x="20.6" y="58.4" width="2.8" height="1.7" fill="#3f9a36" opacity="0.86" transform="rotate(-39 20.6 58.4)"/><rect x="23.2" y="56.9" width="2.2" height="0.8" fill="#2f8a2c" opacity="0.73" transform="rotate(-28 23.2 56.9)"/><rect x="19.4" y="57.6" width="1.3" height="1.5" fill="#2f8a2c" opacity="0.94" transform="rotate(28 19.4 57.6)"/><rect x="21.1" y="61.4" width="1.3" height="1.6" fill="#56a84a" opacity="0.62" transform="rotate(25 21.1 61.4)"/><rect x="23.6" y="63.3" width="1.2" height="1.5" fill="#6cb85e" opacity="0.83" transform="rotate(-33 23.6 63.3)"/><rect x="20.4" y="55.2" width="2.0" height="1.0" fill="#56a84a" opacity="0.71" transform="rotate(-19 20.4 55.2)"/><rect x="26.3" y="63.3" width="2.5" height="2.1" fill="#3f9a36" opacity="0.71" transform="rotate(17 26.3 63.3)"/><rect x="22.3" y="61.0" width="1.3" height="1.4" fill="#3f9a36" opacity="0.75" transform="rotate(39 22.3 61.0)"/><rect x="22.8" y="65.8" width="1.2" height="1.6" fill="#56a84a" opacity="0.69" transform="rotate(18 22.8 65.8)"/><rect x="21.5" y="68.8" width="2.7" height="1.5" fill="#3f9a36" opacity="0.66" transform="rotate(9 21.5 68.8)"/><rect x="21.0" y="55.2" width="1.7" height="1.4" fill="#6cb85e" opacity="0.56" transform="rotate(-9 21.0 55.2)"/><rect x="24.1" y="63.5" width="1.6" height="0.8" fill="#2f8a2c" opacity="0.73" transform="rotate(6 24.1 63.5)"/><rect x="25.2" y="66.3" width="1.6" height="1.4" fill="#3f9a36" opacity="0.98" transform="rotate(14 25.2 66.3)"/><rect x="23.9" y="56.9" width="1.4" height="1.1" fill="#2f8a2c" opacity="0.71" transform="rotate(15 23.9 56.9)"/><rect x="26.4" y="63.4" width="1.5" height="1.0" fill="#56a84a" opacity="0.59" transform="rotate(-6 26.4 63.4)"/><rect x="18.6" y="59.3" width="2.0" height="1.5" fill="#56a84a" opacity="0.62" transform="rotate(5 18.6 59.3)"/><rect x="23.3" y="67.5" width="2.1" height="1.6" fill="#2f8a2c" opacity="0.98" transform="rotate(24 23.3 67.5)"/><rect x="23.9" y="70.6" width="2.2" height="2.1" fill="#2f8a2c" opacity="0.82" transform="rotate(16 23.9 70.6)"/><rect x="20.4" y="58.8" width="1.4" height="1.7" fill="#56a84a" opacity="0.61" transform="rotate(-25 20.4 58.8)"/><rect x="22.1" y="59.5" width="2.5" height="1.8" fill="#6cb85e" opacity="0.56" transform="rotate(32 22.1 59.5)"/><rect x="22.9" y="62.4" width="2.3" height="1.8" fill="#56a84a" opacity="0.69" transform="rotate(-27 22.9 62.4)"/><rect x="26.9" y="65.7" width="2.4" height="1.9" fill="#56a84a" opacity="0.58" transform="rotate(-1 26.9 65.7)"/><rect x="24.6" y="64.2" width="2.5" height="1.4" fill="#2f8a2c" opacity="0.73" transform="rotate(19 24.6 64.2)"/><rect x="23.4" y="52.4" width="2.5" height="1.0" fill="#2f8a2c" opacity="0.63" transform="rotate(6 23.4 52.4)"/><rect x="21.0" y="54.5" width="1.6" height="1.4" fill="#6cb85e" opacity="0.66" transform="rotate(11 21.0 54.5)"/><rect x="20.4" y="67.9" width="1.2" height="1.0" fill="#56a84a" opacity="0.87" transform="rotate(-35 20.4 67.9)"/><rect x="19.6" y="66.0" width="1.7" height="1.9" fill="#56a84a" opacity="0.72" transform="rotate(-35 19.6 66.0)"/><rect x="19.1" y="59.2" width="2.7" height="1.6" fill="#56a84a" opacity="0.81" transform="rotate(26 19.1 59.2)"/><rect x="22.6" y="67.9" width="2.2" height="1.3" fill="#3f9a36" opacity="0.60" transform="rotate(-4 22.6 67.9)"/><rect x="26.3" y="56.3" width="2.0" height="1.8" fill="#56a84a" opacity="0.86" transform="rotate(-36 26.3 56.3)"/><rect x="23.1" y="57.9" width="2.6" height="1.8" fill="#3f9a36" opacity="0.74" transform="rotate(10 23.1 57.9)"/><rect x="26.3" y="61.6" width="1.3" height="1.5" fill="#2f8a2c" opacity="0.98" transform="rotate(14 26.3 61.6)"/><rect x="20.3" y="63.6" width="1.9" height="1.8" fill="#6cb85e" opacity="0.78" transform="rotate(-14 20.3 63.6)"/><rect x="19.8" y="65.6" width="2.7" height="1.0" fill="#56a84a" opacity="0.57" transform="rotate(31 19.8 65.6)"/><rect x="21.6" y="68.7" width="2.7" height="1.7" fill="#2f8a2c" opacity="0.66" transform="rotate(-33 21.6 68.7)"/><rect x="22.7" y="66.9" width="1.1" height="1.7" fill="#56a84a" opacity="0.61" transform="rotate(22 22.7 66.9)"/><rect x="21.1" y="60.6" width="1.4" height="1.5" fill="#6cb85e" opacity="0.61" transform="rotate(4 21.1 60.6)"/><rect x="21.5" y="61.2" width="2.2" height="1.6" fill="#56a84a" opacity="0.70" transform="rotate(-25 21.5 61.2)"/><rect x="19.1" y="61.5" width="1.2" height="1.7" fill="#6cb85e" opacity="0.93" transform="rotate(11 19.1 61.5)"/><rect x="22.3" y="61.6" width="1.4" height="1.3" fill="#56a84a" opacity="0.57" transform="rotate(-5 22.3 61.6)"/><rect x="21.5" y="65.3" width="1.5" height="2.1" fill="#56a84a" opacity="0.70" transform="rotate(19 21.5 65.3)"/><rect x="20.4" y="61.9" width="2.0" height="0.9" fill="#6cb85e" opacity="1.00" transform="rotate(22 20.4 61.9)"/><rect x="24.2" y="66.5" width="2.8" height="1.6" fill="#3f9a36" opacity="0.84" transform="rotate(15 24.2 66.5)"/><rect x="18.9" y="63.9" width="1.5" height="1.3" fill="#3f9a36" opacity="0.84" transform="rotate(40 18.9 63.9)"/><rect x="19.7" y="59.3" width="2.2" height="1.7" fill="#3f9a36" opacity="0.61" transform="rotate(-37 19.7 59.3)"/><rect x="23.7" y="64.1" width="1.2" height="1.3" fill="#56a84a" opacity="0.60" transform="rotate(-1 23.7 64.1)"/><rect x="21.7" y="59.5" width="1.3" height="2.0" fill="#2f8a2c" opacity="0.65" transform="rotate(-23 21.7 59.5)"/><rect x="20.0" y="62.1" width="2.5" height="1.1" fill="#3f9a36" opacity="0.60" transform="rotate(40 20.0 62.1)"/><rect x="24.8" y="59.8" width="1.7" height="0.9" fill="#56a84a" opacity="0.77" transform="rotate(23 24.8 59.8)"/><rect x="21.4" y="55.9" width="2.0" height="1.7" fill="#56a84a" opacity="0.86" transform="rotate(-20 21.4 55.9)"/><rect x="23.5" y="67.8" width="1.7" height="2.2" fill="#6cb85e" opacity="0.77" transform="rotate(-13 23.5 67.8)"/><rect x="21.8" y="63.2" width="2.5" height="2.0" fill="#6cb85e" opacity="0.61" transform="rotate(-31 21.8 63.2)"/><rect x="20.6" y="59.1" width="1.7" height="1.3" fill="#6cb85e" opacity="0.55" transform="rotate(-18 20.6 59.1)"/><rect x="22.8" y="61.9" width="1.5" height="1.4" fill="#2f8a2c" opacity="0.81" transform="rotate(20 22.8 61.9)"/><rect x="23.3" y="65.4" width="1.8" height="2.2" fill="#56a84a" opacity="0.99" transform="rotate(37 23.3 65.4)"/><rect x="19.6" y="58.8" width="1.0" height="1.7" fill="#2f8a2c" opacity="0.80" transform="rotate(13 19.6 58.8)"/><rect x="23.9" y="62.0" width="2.1" height="1.2" fill="#2f8a2c" opacity="0.79" transform="rotate(-37 23.9 62.0)"/><rect x="22.6" y="60.9" width="2.3" height="1.8" fill="#56a84a" opacity="0.85" transform="rotate(7 22.6 60.9)"/><rect x="18.7" y="60.9" width="1.6" height="1.1" fill="#6cb85e" opacity="0.73" transform="rotate(-26 18.7 60.9)"/><rect x="22.3" y="70.8" width="1.3" height="1.8" fill="#56a84a" opacity="0.94" transform="rotate(-8 22.3 70.8)"/><rect x="21.1" y="61.1" width="2.2" height="1.8" fill="#56a84a" opacity="0.80" transform="rotate(-12 21.1 61.1)"/><rect x="19.2" y="61.8" width="2.3" height="2.1" fill="#3f9a36" opacity="0.93" transform="rotate(-31 19.2 61.8)"/><rect x="22.1" y="61.2" width="1.9" height="1.5" fill="#3f9a36" opacity="0.83" transform="rotate(25 22.1 61.2)"/><rect x="24.2" y="67.5" width="1.6" height="1.0" fill="#56a84a" opacity="0.80" transform="rotate(-29 24.2 67.5)"/><rect x="23.7" y="68.3" width="1.0" height="1.1" fill="#2f8a2c" opacity="0.57" transform="rotate(36 23.7 68.3)"/><rect x="23.8" y="62.1" width="1.1" height="1.0" fill="#3f9a36" opacity="0.83" transform="rotate(-15 23.8 62.1)"/><rect x="18.8" y="60.6" width="2.6" height="1.0" fill="#2f8a2c" opacity="0.91" transform="rotate(-39 18.8 60.6)"/><rect x="22.2" y="61.5" width="1.6" height="1.8" fill="#2f8a2c" opacity="0.87" transform="rotate(-35 22.2 61.5)"/><rect x="22.5" y="59.7" width="1.6" height="1.3" fill="#3f9a36" opacity="0.57" transform="rotate(-9 22.5 59.7)"/><rect x="21.8" y="66.2" width="1.7" height="2.0" fill="#6cb85e" opacity="0.60" transform="rotate(-38 21.8 66.2)"/><rect x="21.1" y="63.5" width="1.4" height="1.0" fill="#2f8a2c" opacity="0.94" transform="rotate(8 21.1 63.5)"/><rect x="23.1" y="58.7" width="1.4" height="2.2" fill="#2f8a2c" opacity="0.98" transform="rotate(-39 23.1 58.7)"/><rect x="25.1" y="64.6" width="1.8" height="1.5" fill="#3f9a36" opacity="0.91" transform="rotate(-36 25.1 64.6)"/><rect x="24.1" y="66.0" width="2.1" height="1.6" fill="#6cb85e" opacity="0.99" transform="rotate(17 24.1 66.0)"/><rect x="19.4" y="67.8" width="2.1" height="0.9" fill="#2f8a2c" opacity="0.79" transform="rotate(-1 19.4 67.8)"/><rect x="23.7" y="60.0" width="1.0" height="1.0" fill="#2f8a2c" opacity="0.88" transform="rotate(2 23.7 60.0)"/><rect x="20.1" y="61.4" width="1.6" height="0.8" fill="#6cb85e" opacity="0.70" transform="rotate(-38 20.1 61.4)"/><rect x="21.8" y="70.4" width="2.1" height="1.7" fill="#56a84a" opacity="0.67" transform="rotate(-6 21.8 70.4)"/><rect x="24.9" y="66.3" width="1.6" height="1.6" fill="#56a84a" opacity="1.00" transform="rotate(-36 24.9 66.3)"/><rect x="24.5" y="59.8" width="1.1" height="1.1" fill="#6cb85e" opacity="0.83" transform="rotate(-28 24.5 59.8)"/><rect x="20.8" y="66.1" width="2.4" height="2.0" fill="#56a84a" opacity="0.86" transform="rotate(-2 20.8 66.1)"/><rect x="23.5" y="62.5" width="1.6" height="2.0" fill="#56a84a" opacity="0.71" transform="rotate(30 23.5 62.5)"/><rect x="21.4" y="59.5" width="2.2" height="1.7" fill="#6cb85e" opacity="0.78" transform="rotate(-9 21.4 59.5)"/><rect x="23.0" y="56.3" width="1.2" height="1.1" fill="#6cb85e" opacity="0.73" transform="rotate(10 23.0 56.3)"/><rect x="20.3" y="61.8" width="1.2" height="0.9" fill="#2f8a2c" opacity="0.87" transform="rotate(-8 20.3 61.8)"/><rect x="21.5" y="58.1" width="2.7" height="1.3" fill="#56a84a" opacity="0.81" transform="rotate(-30 21.5 58.1)"/><rect x="20.4" y="61.5" width="1.6" height="1.5" fill="#6cb85e" opacity="0.87" transform="rotate(-32 20.4 61.5)"/><rect x="22.7" y="60.1" width="1.2" height="2.1" fill="#3f9a36" opacity="0.89" transform="rotate(40 22.7 60.1)"/><rect x="21.5" y="69.5" width="1.3" height="1.4" fill="#56a84a" opacity="0.95" transform="rotate(-4 21.5 69.5)"/><rect x="23.5" y="59.0" width="1.3" height="1.8" fill="#56a84a" opacity="0.82" transform="rotate(-30 23.5 59.0)"/><rect x="15.4" y="79.7" width="2.0" height="1.8" fill="#3f9a36" opacity="0.63" transform="rotate(28 15.4 79.7)"/><rect x="13.2" y="78.4" width="1.5" height="0.8" fill="#2f8a2c" opacity="0.70" transform="rotate(-37 13.2 78.4)"/><rect x="12.5" y="77.3" width="2.2" height="1.3" fill="#3f9a36" opacity="0.94" transform="rotate(-35 12.5 77.3)"/><rect x="15.0" y="79.7" width="2.4" height="2.2" fill="#6cb85e" opacity="0.67" transform="rotate(19 15.0 79.7)"/><rect x="13.6" y="78.4" width="1.5" height="1.7" fill="#2f8a2c" opacity="0.58" transform="rotate(38 13.6 78.4)"/><rect x="12.8" y="76.1" width="1.2" height="0.8" fill="#56a84a" opacity="0.61" transform="rotate(-29 12.8 76.1)"/><rect x="12.5" y="79.8" width="1.6" height="1.8" fill="#56a84a" opacity="0.85" transform="rotate(37 12.5 79.8)"/><rect x="12.4" y="78.1" width="2.1" height="1.9" fill="#6cb85e" opacity="0.89" transform="rotate(-1 12.4 78.1)"/><rect x="12.3" y="77.0" width="2.2" height="1.6" fill="#2f8a2c" opacity="0.79" transform="rotate(-5 12.3 77.0)"/><rect x="13.5" y="78.7" width="1.8" height="1.7" fill="#2f8a2c" opacity="0.62" transform="rotate(40 13.5 78.7)"/><rect x="13.6" y="81.0" width="1.1" height="0.8" fill="#56a84a" opacity="0.61" transform="rotate(29 13.6 81.0)"/><rect x="11.6" y="78.6" width="1.2" height="2.1" fill="#2f8a2c" opacity="0.88" transform="rotate(-18 11.6 78.6)"/><rect x="14.9" y="76.7" width="2.4" height="1.5" fill="#2f8a2c" opacity="0.90" transform="rotate(-9 14.9 76.7)"/><rect x="11.2" y="79.6" width="1.3" height="2.1" fill="#6cb85e" opacity="0.76" transform="rotate(1 11.2 79.6)"/><rect x="13.4" y="78.3" width="2.2" height="0.8" fill="#6cb85e" opacity="0.85" transform="rotate(4 13.4 78.3)"/><rect x="15.0" y="79.4" width="1.7" height="2.1" fill="#56a84a" opacity="0.56" transform="rotate(-38 15.0 79.4)"/><rect x="13.2" y="80.3" width="1.3" height="1.1" fill="#6cb85e" opacity="0.84" transform="rotate(-2 13.2 80.3)"/><rect x="14.6" y="77.3" width="2.8" height="1.9" fill="#6cb85e" opacity="0.94" transform="rotate(-6 14.6 77.3)"/><rect x="14.1" y="78.4" width="1.5" height="0.9" fill="#3f9a36" opacity="0.77" transform="rotate(-9 14.1 78.4)"/><rect x="14.4" y="80.6" width="2.0" height="1.4" fill="#3f9a36" opacity="0.95" transform="rotate(-14 14.4 80.6)"/><rect x="14.6" y="76.7" width="1.0" height="1.9" fill="#6cb85e" opacity="0.63" transform="rotate(-23 14.6 76.7)"/><rect x="14.6" y="78.6" width="0.9" height="1.0" fill="#3f9a36" opacity="0.61" transform="rotate(-2 14.6 78.6)"/><rect x="8.8" y="90.1" width="1.1" height="1.0" fill="#6cb85e" opacity="0.59" transform="rotate(3 8.8 90.1)"/><rect x="6.9" y="87.5" width="1.7" height="1.3" fill="#3f9a36" opacity="0.81" transform="rotate(-15 6.9 87.5)"/><rect x="8.3" y="87.2" width="1.0" height="1.5" fill="#56a84a" opacity="0.81" transform="rotate(-27 8.3 87.2)"/><rect x="7.8" y="88.4" width="2.6" height="0.9" fill="#3f9a36" opacity="0.60" transform="rotate(22 7.8 88.4)"/><rect x="9.2" y="88.5" width="0.9" height="1.1" fill="#56a84a" opacity="0.83" transform="rotate(29 9.2 88.5)"/><rect x="7.3" y="88.8" width="1.6" height="1.5" fill="#3f9a36" opacity="0.71" transform="rotate(-13 7.3 88.8)"/><rect x="9.1" y="87.2" width="1.3" height="0.9" fill="#56a84a" opacity="0.56" transform="rotate(-6 9.1 87.2)"/><rect x="8.1" y="88.9" width="1.9" height="1.4" fill="#2f8a2c" opacity="0.67" transform="rotate(1 8.1 88.9)"/><rect x="7.3" y="87.3" width="1.9" height="1.6" fill="#6cb85e" opacity="0.99" transform="rotate(-6 7.3 87.3)"/><rect x="7.0" y="89.4" width="1.7" height="2.2" fill="#6cb85e" opacity="0.89" transform="rotate(12 7.0 89.4)"/><rect x="8.5" y="87.0" width="2.1" height="1.1" fill="#2f8a2c" opacity="0.86" transform="rotate(8 8.5 87.0)"/><rect x="9.7" y="88.7" width="2.2" height="0.9" fill="#3f9a36" opacity="0.96" transform="rotate(-34 9.7 88.7)"/><rect x="6.7" y="89.6" width="2.2" height="1.4" fill="#2f8a2c" opacity="0.75" transform="rotate(33 6.7 89.6)"/><rect x="9.6" y="88.8" width="2.5" height="1.5" fill="#6cb85e" opacity="0.66" transform="rotate(40 9.6 88.8)"/><rect x="8.3" y="87.0" width="1.6" height="0.9" fill="#2f8a2c" opacity="0.83" transform="rotate(1 8.3 87.0)"/><rect x="33.9" y="73.9" width="2.2" height="2.1" fill="#2f8a2c" opacity="0.67" transform="rotate(20 33.9 73.9)"/><rect x="32.8" y="72.3" width="2.0" height="1.6" fill="#56a84a" opacity="0.58" transform="rotate(27 32.8 72.3)"/><rect x="31.3" y="73.7" width="1.2" height="1.3" fill="#56a84a" opacity="0.62" transform="rotate(18 31.3 73.7)"/><rect x="33.0" y="74.9" width="2.5" height="1.7" fill="#3f9a36" opacity="0.69" transform="rotate(6 33.0 74.9)"/><rect x="33.1" y="71.6" width="1.1" height="1.0" fill="#2f8a2c" opacity="0.72" transform="rotate(6 33.1 71.6)"/><rect x="30.6" y="74.5" width="1.9" height="1.4" fill="#3f9a36" opacity="0.67" transform="rotate(-3 30.6 74.5)"/><rect x="34.0" y="73.1" width="1.8" height="1.5" fill="#56a84a" opacity="0.89" transform="rotate(-21 34.0 73.1)"/><rect x="32.7" y="73.1" width="1.8" height="1.7" fill="#2f8a2c" opacity="0.79" transform="rotate(8 32.7 73.1)"/><rect x="31.9" y="74.5" width="0.9" height="1.2" fill="#56a84a" opacity="0.69" transform="rotate(29 31.9 74.5)"/><rect x="31.8" y="74.1" width="1.4" height="2.0" fill="#3f9a36" opacity="0.79" transform="rotate(23 31.8 74.1)"/><rect x="32.6" y="72.5" width="1.7" height="1.9" fill="#2f8a2c" opacity="0.96" transform="rotate(16 32.6 72.5)"/><rect x="31.7" y="73.3" width="2.3" height="2.2" fill="#6cb85e" opacity="0.84" transform="rotate(-8 31.7 73.3)"/><rect x="31.1" y="74.0" width="2.0" height="2.1" fill="#56a84a" opacity="0.99" transform="rotate(34 31.1 74.0)"/><rect x="42.1" y="82.5" width="1.5" height="0.9" fill="#6cb85e" opacity="0.72" transform="rotate(27 42.1 82.5)"/><rect x="41.2" y="82.2" width="2.1" height="1.9" fill="#3f9a36" opacity="0.82" transform="rotate(19 41.2 82.2)"/><rect x="46.5" y="79.1" width="1.7" height="2.2" fill="#56a84a" opacity="0.95" transform="rotate(16 46.5 79.1)"/><rect x="43.1" y="81.0" width="2.3" height="0.8" fill="#56a84a" opacity="0.88" transform="rotate(11 43.1 81.0)"/><rect x="40.8" y="79.3" width="1.5" height="1.3" fill="#6cb85e" opacity="0.90" transform="rotate(-25 40.8 79.3)"/><rect x="46.5" y="82.2" width="2.0" height="0.8" fill="#6cb85e" opacity="0.59" transform="rotate(-13 46.5 82.2)"/><rect x="43.4" y="80.0" width="2.2" height="1.8" fill="#6cb85e" opacity="0.94" transform="rotate(30 43.4 80.0)"/><rect x="43.2" y="78.2" width="2.0" height="2.2" fill="#3f9a36" opacity="0.94" transform="rotate(-22 43.2 78.2)"/><rect x="43.4" y="81.6" width="2.8" height="1.1" fill="#2f8a2c" opacity="0.78" transform="rotate(-29 43.4 81.6)"/><rect x="43.4" y="81.9" width="2.5" height="1.6" fill="#6cb85e" opacity="0.86" transform="rotate(-1 43.4 81.9)"/><rect x="42.9" y="83.7" width="2.4" height="2.0" fill="#2f8a2c" opacity="0.69" transform="rotate(-24 42.9 83.7)"/><rect x="46.2" y="81.2" width="1.6" height="1.4" fill="#6cb85e" opacity="0.87" transform="rotate(-22 46.2 81.2)"/><rect x="42.0" y="82.8" width="1.3" height="2.1" fill="#3f9a36" opacity="0.88" transform="rotate(-39 42.0 82.8)"/><rect x="42.0" y="79.8" width="2.0" height="1.3" fill="#2f8a2c" opacity="0.65" transform="rotate(16 42.0 79.8)"/><rect x="43.2" y="83.4" width="2.4" height="1.6" fill="#6cb85e" opacity="0.73" transform="rotate(16 43.2 83.4)"/><rect x="44.3" y="81.7" width="1.2" height="2.0" fill="#3f9a36" opacity="0.57" transform="rotate(-31 44.3 81.7)"/><rect x="44.8" y="78.0" width="0.9" height="1.8" fill="#56a84a" opacity="0.77" transform="rotate(-3 44.8 78.0)"/><rect x="44.7" y="77.8" width="1.2" height="1.9" fill="#56a84a" opacity="0.78" transform="rotate(19 44.7 77.8)"/><rect x="46.4" y="82.2" width="2.7" height="1.4" fill="#2f8a2c" opacity="0.87" transform="rotate(16 46.4 82.2)"/><rect x="43.5" y="79.1" width="1.0" height="1.8" fill="#3f9a36" opacity="0.62" transform="rotate(17 43.5 79.1)"/><rect x="43.6" y="81.9" width="2.0" height="1.2" fill="#56a84a" opacity="0.69" transform="rotate(-7 43.6 81.9)"/><rect x="42.6" y="83.4" width="1.2" height="1.9" fill="#56a84a" opacity="0.73" transform="rotate(-36 42.6 83.4)"/><rect x="43.4" y="81.4" width="1.5" height="1.7" fill="#3f9a36" opacity="0.64" transform="rotate(-21 43.4 81.4)"/><rect x="43.7" y="78.0" width="2.2" height="1.0" fill="#2f8a2c" opacity="0.60" transform="rotate(-14 43.7 78.0)"/><rect x="47.2" y="80.2" width="1.9" height="1.2" fill="#2f8a2c" opacity="0.56" transform="rotate(23 47.2 80.2)"/><rect x="46.4" y="77.9" width="1.3" height="1.2" fill="#2f8a2c" opacity="0.82" transform="rotate(29 46.4 77.9)"/><rect x="44.0" y="78.8" width="1.8" height="1.9" fill="#56a84a" opacity="0.81" transform="rotate(-2 44.0 78.8)"/><rect x="46.4" y="80.9" width="2.7" height="1.3" fill="#56a84a" opacity="0.85" transform="rotate(-34 46.4 80.9)"/><rect x="44.8" y="82.1" width="1.8" height="1.3" fill="#2f8a2c" opacity="0.63" transform="rotate(-2 44.8 82.1)"/><rect x="45.0" y="77.3" width="1.8" height="1.8" fill="#3f9a36" opacity="0.90" transform="rotate(36 45.0 77.3)"/><rect x="43.6" y="80.6" width="1.0" height="1.6" fill="#6cb85e" opacity="0.84" transform="rotate(-24 43.6 80.6)"/><rect x="41.3" y="82.1" width="1.0" height="1.8" fill="#56a84a" opacity="0.71" transform="rotate(-29 41.3 82.1)"/><rect x="42.5" y="83.4" width="2.6" height="1.5" fill="#56a84a" opacity="0.67" transform="rotate(-27 42.5 83.4)"/><rect x="44.6" y="79.6" width="1.8" height="1.6" fill="#3f9a36" opacity="0.70" transform="rotate(-9 44.6 79.6)"/><rect x="45.2" y="82.6" width="1.9" height="1.3" fill="#56a84a" opacity="0.68" transform="rotate(31 45.2 82.6)"/><rect x="44.2" y="81.4" width="1.4" height="2.0" fill="#56a84a" opacity="0.95" transform="rotate(-39 44.2 81.4)"/><rect x="44.4" y="80.7" width="2.4" height="1.8" fill="#56a84a" opacity="0.86" transform="rotate(-11 44.4 80.7)"/><rect x="45.0" y="81.0" width="2.5" height="2.2" fill="#6cb85e" opacity="0.73" transform="rotate(26 45.0 81.0)"/><rect x="45.8" y="82.1" width="1.1" height="1.7" fill="#56a84a" opacity="0.66" transform="rotate(36 45.8 82.1)"/><rect x="44.3" y="77.7" width="2.5" height="1.9" fill="#3f9a36" opacity="0.82" transform="rotate(-28 44.3 77.7)"/><rect x="46.4" y="81.1" width="2.2" height="1.9" fill="#2f8a2c" opacity="0.59" transform="rotate(19 46.4 81.1)"/><rect x="42.9" y="79.5" width="1.5" height="2.1" fill="#6cb85e" opacity="0.56" transform="rotate(-9 42.9 79.5)"/><rect x="45.3" y="82.4" width="1.2" height="1.9" fill="#56a84a" opacity="0.64" transform="rotate(-12 45.3 82.4)"/><rect x="42.9" y="77.4" width="1.0" height="0.8" fill="#6cb85e" opacity="0.57" transform="rotate(27 42.9 77.4)"/><rect x="44.5" y="76.7" width="2.3" height="1.7" fill="#56a84a" opacity="0.94" transform="rotate(-34 44.5 76.7)"/><rect x="45.6" y="77.5" width="1.1" height="1.8" fill="#2f8a2c" opacity="0.81" transform="rotate(23 45.6 77.5)"/><rect x="42.6" y="77.4" width="1.2" height="2.0" fill="#2f8a2c" opacity="0.96" transform="rotate(19 42.6 77.4)"/><rect x="45.4" y="77.3" width="2.0" height="1.4" fill="#2f8a2c" opacity="0.89" transform="rotate(35 45.4 77.3)"/><rect x="40.8" y="79.6" width="1.1" height="2.2" fill="#2f8a2c" opacity="0.89" transform="rotate(-11 40.8 79.6)"/><rect x="44.1" y="83.1" width="2.0" height="2.0" fill="#3f9a36" opacity="0.73" transform="rotate(10 44.1 83.1)"/><rect x="44.7" y="77.3" width="2.7" height="2.0" fill="#6cb85e" opacity="0.98" transform="rotate(-11 44.7 77.3)"/><rect x="42.2" y="77.4" width="1.5" height="1.6" fill="#6cb85e" opacity="0.91" transform="rotate(-40 42.2 77.4)"/><rect x="43.2" y="83.0" width="2.7" height="2.0" fill="#6cb85e" opacity="0.74" transform="rotate(37 43.2 83.0)"/><rect x="43.6" y="81.5" width="1.9" height="0.9" fill="#6cb85e" opacity="0.93" transform="rotate(39 43.6 81.5)"/><rect x="45.7" y="80.7" width="2.8" height="1.1" fill="#6cb85e" opacity="0.73" transform="rotate(28 45.7 80.7)"/><rect x="44.3" y="79.3" width="2.2" height="0.9" fill="#56a84a" opacity="0.73" transform="rotate(2 44.3 79.3)"/><rect x="45.7" y="79.7" width="1.3" height="2.0" fill="#6cb85e" opacity="0.69" transform="rotate(0 45.7 79.7)"/><rect x="46.1" y="79.6" width="2.8" height="1.1" fill="#56a84a" opacity="0.73" transform="rotate(-39 46.1 79.6)"/><rect x="45.1" y="80.3" width="2.7" height="1.4" fill="#2f8a2c" opacity="0.88" transform="rotate(-28 45.1 80.3)"/><rect x="46.8" y="80.0" width="2.3" height="1.7" fill="#56a84a" opacity="0.97" transform="rotate(-8 46.8 80.0)"/><rect x="43.6" y="79.6" width="2.1" height="1.4" fill="#2f8a2c" opacity="0.71" transform="rotate(40 43.6 79.6)"/><rect x="42.7" y="76.9" width="2.4" height="0.9" fill="#6cb85e" opacity="0.77" transform="rotate(-38 42.7 76.9)"/><rect x="46.8" y="81.5" width="2.2" height="1.6" fill="#6cb85e" opacity="0.69" transform="rotate(25 46.8 81.5)"/><rect x="46.1" y="78.3" width="2.3" height="0.8" fill="#2f8a2c" opacity="0.77" transform="rotate(-40 46.1 78.3)"/><rect x="45.8" y="79.6" width="1.2" height="1.6" fill="#3f9a36" opacity="1.00" transform="rotate(-18 45.8 79.6)"/><rect x="43.9" y="78.4" width="1.4" height="1.9" fill="#2f8a2c" opacity="0.90" transform="rotate(-37 43.9 78.4)"/><rect x="42.2" y="81.5" width="2.1" height="1.9" fill="#6cb85e" opacity="0.77" transform="rotate(6 42.2 81.5)"/><rect x="43.6" y="79.2" width="1.2" height="1.6" fill="#3f9a36" opacity="0.91" transform="rotate(4 43.6 79.2)"/><rect x="44.6" y="79.7" width="2.4" height="0.9" fill="#2f8a2c" opacity="0.88" transform="rotate(-19 44.6 79.7)"/><rect x="43.2" y="78.1" width="2.0" height="2.2" fill="#2f8a2c" opacity="0.98" transform="rotate(-17 43.2 78.1)"/><rect x="43.7" y="82.6" width="1.8" height="1.7" fill="#6cb85e" opacity="0.73" transform="rotate(-7 43.7 82.6)"/><rect x="43.3" y="81.3" width="2.4" height="1.5" fill="#3f9a36" opacity="0.64" transform="rotate(39 43.3 81.3)"/><rect x="42.2" y="81.0" width="2.1" height="1.9" fill="#2f8a2c" opacity="0.57" transform="rotate(-5 42.2 81.0)"/><rect x="44.0" y="78.7" width="2.0" height="1.7" fill="#3f9a36" opacity="0.67" transform="rotate(6 44.0 78.7)"/><rect x="43.7" y="78.9" width="2.4" height="2.0" fill="#3f9a36" opacity="0.67" transform="rotate(-39 43.7 78.9)"/><rect x="45.7" y="80.9" width="2.0" height="1.3" fill="#2f8a2c" opacity="0.67" transform="rotate(-9 45.7 80.9)"/><rect x="45.4" y="78.8" width="1.1" height="1.6" fill="#6cb85e" opacity="0.93" transform="rotate(-26 45.4 78.8)"/><rect x="44.6" y="79.9" width="1.2" height="1.8" fill="#3f9a36" opacity="0.90" transform="rotate(10 44.6 79.9)"/><rect x="44.9" y="78.5" width="2.5" height="1.4" fill="#6cb85e" opacity="0.91" transform="rotate(4 44.9 78.5)"/><rect x="45.1" y="78.8" width="1.2" height="1.8" fill="#6cb85e" opacity="0.85" transform="rotate(-4 45.1 78.8)"/><rect x="44.7" y="81.3" width="1.0" height="1.4" fill="#3f9a36" opacity="0.93" transform="rotate(-10 44.7 81.3)"/><rect x="42.9" y="79.6" width="2.0" height="1.2" fill="#56a84a" opacity="0.62" transform="rotate(-10 42.9 79.6)"/><rect x="42.1" y="80.3" width="2.6" height="1.8" fill="#6cb85e" opacity="0.95" transform="rotate(-24 42.1 80.3)"/><rect x="42.8" y="78.4" width="1.6" height="2.1" fill="#3f9a36" opacity="0.90" transform="rotate(37 42.8 78.4)"/><rect x="44.4" y="79.3" width="1.3" height="1.1" fill="#3f9a36" opacity="0.71" transform="rotate(32 44.4 79.3)"/><rect x="45.7" y="80.0" width="1.6" height="1.8" fill="#3f9a36" opacity="0.60" transform="rotate(1 45.7 80.0)"/><rect x="44.2" y="81.9" width="2.4" height="1.4" fill="#3f9a36" opacity="0.99" transform="rotate(35 44.2 81.9)"/><rect x="42.3" y="79.6" width="1.0" height="2.0" fill="#3f9a36" opacity="0.77" transform="rotate(-3 42.3 79.6)"/><rect x="43.2" y="79.3" width="1.5" height="1.6" fill="#56a84a" opacity="0.80" transform="rotate(-14 43.2 79.3)"/><rect x="43.6" y="82.8" width="2.0" height="1.8" fill="#56a84a" opacity="0.90" transform="rotate(-37 43.6 82.8)"/><rect x="31.5" y="83.5" width="1.6" height="2.1" fill="#2f8a2c" opacity="0.88" transform="rotate(34 31.5 83.5)"/><rect x="32.1" y="84.6" width="2.7" height="1.4" fill="#3f9a36" opacity="0.91" transform="rotate(28 32.1 84.6)"/><rect x="30.1" y="85.3" width="1.0" height="1.5" fill="#56a84a" opacity="0.74" transform="rotate(39 30.1 85.3)"/><rect x="30.0" y="84.3" width="1.3" height="1.4" fill="#2f8a2c" opacity="0.89" transform="rotate(-31 30.0 84.3)"/><rect x="31.0" y="83.2" width="1.7" height="1.1" fill="#56a84a" opacity="0.90" transform="rotate(-15 31.0 83.2)"/><rect x="29.5" y="83.7" width="2.7" height="1.8" fill="#3f9a36" opacity="0.96" transform="rotate(38 29.5 83.7)"/><rect x="31.0" y="83.9" width="1.3" height="0.8" fill="#2f8a2c" opacity="0.80" transform="rotate(40 31.0 83.9)"/><rect x="32.0" y="85.0" width="2.8" height="1.2" fill="#3f9a36" opacity="0.88" transform="rotate(5 32.0 85.0)"/><rect x="30.9" y="84.2" width="2.3" height="1.9" fill="#2f8a2c" opacity="0.60" transform="rotate(-21 30.9 84.2)"/><rect x="37.0" y="87.1" width="1.8" height="0.9" fill="#2f8a2c" opacity="0.91" transform="rotate(20 37.0 87.1)"/><rect x="38.9" y="85.5" width="2.5" height="1.5" fill="#2f8a2c" opacity="0.78" transform="rotate(-14 38.9 85.5)"/><rect x="37.2" y="87.0" width="2.7" height="1.1" fill="#2f8a2c" opacity="0.98" transform="rotate(26 37.2 87.0)"/><rect x="36.8" y="86.6" width="1.6" height="1.9" fill="#6cb85e" opacity="0.61" transform="rotate(-39 36.8 86.6)"/><rect x="38.7" y="86.9" width="1.9" height="0.8" fill="#3f9a36" opacity="0.76" transform="rotate(-35 38.7 86.9)"/><rect x="19.6" y="93.1" width="2.6" height="2.0" fill="#2f8a2c" opacity="0.83" transform="rotate(19 19.6 93.1)"/><rect x="18.0" y="92.6" width="1.3" height="1.1" fill="#2f8a2c" opacity="0.72" transform="rotate(-27 18.0 92.6)"/><rect x="20.5" y="93.0" width="2.7" height="1.4" fill="#6cb85e" opacity="0.89" transform="rotate(32 20.5 93.0)"/><rect x="19.2" y="92.4" width="1.8" height="1.4" fill="#56a84a" opacity="0.87" transform="rotate(20 19.2 92.4)"/><rect x="18.9" y="92.1" width="1.2" height="2.1" fill="#6cb85e" opacity="0.58" transform="rotate(-10 18.9 92.1)"/><rect x="50.1" y="80.0" width="0.9" height="1.6" fill="#56a84a" opacity="0.84" transform="rotate(-36 50.1 80.0)"/><rect x="49.8" y="81.5" width="1.3" height="0.8" fill="#6cb85e" opacity="0.57" transform="rotate(-10 49.8 81.5)"/><rect x="50.9" y="80.4" width="2.4" height="0.9" fill="#6cb85e" opacity="0.67" transform="rotate(-21 50.9 80.4)"/><rect x="48.9" y="80.8" width="2.7" height="1.9" fill="#3f9a36" opacity="0.63" transform="rotate(27 48.9 80.8)"/><rect x="50.2" y="81.2" width="1.1" height="1.9" fill="#6cb85e" opacity="0.96" transform="rotate(-40 50.2 81.2)"/><rect x="42.1" y="60.6" width="2.1" height="0.9" fill="#3f9a36" opacity="0.43" transform="rotate(29 42.1 60.6)"/><rect x="37.7" y="55.8" width="2.2" height="1.6" fill="#56a84a" opacity="0.28" transform="rotate(24 37.7 55.8)"/><rect x="43.0" y="54.1" width="1.1" height="1.7" fill="#56a84a" opacity="0.43" transform="rotate(-26 43.0 54.1)"/><rect x="39.9" y="58.5" width="1.9" height="1.7" fill="#3f9a36" opacity="0.44" transform="rotate(-28 39.9 58.5)"/><rect x="44.2" y="62.5" width="1.5" height="1.2" fill="#6cb85e" opacity="0.41" transform="rotate(2 44.2 62.5)"/><rect x="41.3" y="59.5" width="1.0" height="1.0" fill="#56a84a" opacity="0.39" transform="rotate(18 41.3 59.5)"/><rect x="48.5" y="59.0" width="2.0" height="1.1" fill="#3f9a36" opacity="0.48" transform="rotate(-33 48.5 59.0)"/><rect x="41.1" y="58.8" width="2.2" height="2.0" fill="#6cb85e" opacity="0.46" transform="rotate(-33 41.1 58.8)"/><rect x="44.4" y="68.9" width="1.7" height="1.8" fill="#2f8a2c" opacity="0.45" transform="rotate(4 44.4 68.9)"/><rect x="45.5" y="61.0" width="1.2" height="1.0" fill="#6cb85e" opacity="0.45" transform="rotate(1 45.5 61.0)"/><rect x="40.8" y="64.4" width="1.7" height="0.8" fill="#56a84a" opacity="0.40" transform="rotate(5 40.8 64.4)"/><rect x="44.7" y="57.5" width="2.4" height="1.9" fill="#2f8a2c" opacity="0.45" transform="rotate(28 44.7 57.5)"/><rect x="41.8" y="61.2" width="2.5" height="1.4" fill="#2f8a2c" opacity="0.36" transform="rotate(28 41.8 61.2)"/><rect x="44.7" y="64.4" width="1.3" height="0.9" fill="#56a84a" opacity="0.49" transform="rotate(12 44.7 64.4)"/><rect x="45.9" y="57.2" width="2.4" height="1.7" fill="#56a84a" opacity="0.32" transform="rotate(-39 45.9 57.2)"/><rect x="60.2" y="33.0" width="1.1" height="2.1" fill="#6cb85e" opacity="0.83" transform="rotate(-19 60.2 33.0)"/><rect x="60.1" y="32.9" width="2.3" height="1.1" fill="#2f8a2c" opacity="0.98" transform="rotate(-29 60.1 32.9)"/><rect x="60.2" y="33.1" width="1.4" height="2.2" fill="#56a84a" opacity="0.85" transform="rotate(36 60.2 33.1)"/><rect x="61.9" y="14.4" width="1.0" height="1.8" fill="#3f9a36" opacity="0.58" transform="rotate(-31 61.9 14.4)"/><rect x="61.7" y="14.3" width="1.8" height="2.2" fill="#2f8a2c" opacity="0.96" transform="rotate(17 61.7 14.3)"/><rect x="61.6" y="14.4" width="1.5" height="1.4" fill="#56a84a" opacity="0.75" transform="rotate(-28 61.6 14.4)"/></g><rect x="80.0" y="0" width="17" height="9.5" fill="#e4173f"/><text transform="translate(88.50,7.40) scale(0.7400,1)" text-anchor="middle" font-size="8" >חדש</text></svg>
<span class="t" style="top:479.00px;font-size:12px;font-weight:bold;left:404.60px;width:600px;text-align:center;transform-origin:center center;transform:scaleX(0.8537);">בידודים פעילים</span>
<span class="t" style="top:494.00px;font-size:9.5px;left:404.80px;width:600px;text-align:center;transform-origin:center center;transform:scaleX(0.7864);">לפי רשות מקומית</span>
<div class="sub" style="left:503.25px;top:341.5px;width:125.5px;height:175.0px;"></div>
<svg style="left:517px;top:355.75px" width="97.5" height="103.5" viewBox="0 0 97.5 103.5"><defs><clipPath id="cm3"><rect width="97.5" height="103.5"/></clipPath></defs><g clip-path="url(#cm3)"><rect width="97.5" height="103.5" fill="#f7f3d8"/><path d="M0.0,0.0 L79.9,0.0 L79.9,9.3 L76.5,17.8 L72.7,27.9 L69.3,38.0 L67.2,46.5 L64.2,52.4 L57.1,56.2 L46.9,57.1 L40.2,54.9 L33.4,51.6 L23.2,49.9 L14.8,53.3 L8.0,55.8 L0.0,60.9 Z" fill="#abdcf6"/><path d="M0.0,60.9 L8.0,55.8 L14.8,53.3 L23.2,49.9 L33.4,51.6 L40.2,54.9 L46.9,57.1 L57.1,56.2 L64.2,52.4 L67.2,46.5 L69.3,38.0 L66.4,36.3 L63.0,44.8 L57.1,50.7 L46.9,51.6 L36.8,45.6 L23.2,44.0 L11.4,48.2 L0.0,53.3 Z" fill="#d9eefa" opacity=".8"/><path d="M0.0,15.2 L18.2,22.0 L36.8,19.4 L57.1,23.7 L68.9,19.4 L74.0,22.8 L71.4,29.6 L52.0,33.0 L28.3,30.4 L9.7,34.7 L0.0,38.0 Z" fill="#bfe4f8" opacity=".6"/><ellipse cx="47" cy="2.8" rx="8.6" ry="3.4" fill="#f5f1d3"/><ellipse cx="43.5" cy="19" rx="3" ry="3.6" fill="#d3ebf9" opacity=".8"/><path d="M39.3,74.0 L41.8,72.7 L46.9,83.7 L53.7,95.5 L60.4,103.1 L52.0,103.1 L46.9,93.8 L42.7,83.7 Z" fill="#c4e5f7"/><path d="M69.3,79.5 L71.0,79.5 L69.3,91.3 L68.0,99.7 L74.0,103.1 L63.8,103.1 L66.2,93.8 Z" fill="#b4dff6"/><path d="M57.1,86.2 L64.7,85.4 L66.4,93.8 L63.8,103.1 L60.4,103.1 L55.4,92.1 Z" fill="#e3e8bb"/><path d="M90.0,77.8 L97.0,73.5 L97.0,84.5 L92.6,85.4 Z" fill="#e3e8bb"/><path d="M76.8,47.3 L77.6,47.5 L77.3,53.7 L76.5,53.3 Z" fill="#b4dff6"/><path d="M63.0,53.3 L70.2,78.6" stroke="#c9b98f" stroke-width=".55" fill="none"/><path d="M78.2,32.1 L77.3,46.5 L70.6,78.6" stroke="#c9b98f" stroke-width=".55" fill="none"/><path d="M40.2,73.5 L52.0,73.1 L70.2,78.6" stroke="#c9b98f" stroke-width=".55" fill="none"/><path d="M70.2,78.6 L85.0,83.7 L97.0,73.5" stroke="#c9b98f" stroke-width=".55" fill="none"/><path d="M78.2,32.1 L84.1,22.0 L90.9,10.1" stroke="#c9b98f" stroke-width=".55" fill="none"/><path d="M82.4,33.8 L90.0,38.9 L97.0,37.2" stroke="#c9b98f" stroke-width=".55" fill="none"/><path d="M0.0,83.7 L14.8,70.2 L26.6,70.6 L40.2,73.5" stroke="#c9b98f" stroke-width=".55" fill="none"/><path d="M26.6,70.6 L20.7,58.3 L9.7,54.9" stroke="#c9b98f" stroke-width=".55" fill="none"/><path d="M26.6,70.6 L32.5,58.3 L40.2,54.9" stroke="#c9b98f" stroke-width=".55" fill="none"/><path d="M26.6,70.6 L33.4,87.1 L43.5,103.1" stroke="#c9b98f" stroke-width=".55" fill="none"/><path d="M8.0,87.1 L24.9,85.4 L36.8,87.1" stroke="#c9b98f" stroke-width=".55" fill="none"/><path d="M0.0,98.9 L18.2,89.6 L24.9,103.1" stroke="#c9b98f" stroke-width=".55" fill="none"/><path d="M71.4,82.0 L77.3,103.1" stroke="#c9b98f" stroke-width=".55" fill="none"/><path d="M85.8,87.1 L92.6,94.7" stroke="#c9b98f" stroke-width=".55" fill="none"/><circle cx="86.3" cy="28.8" r=".9" fill="#e8543f"/><circle cx="82.5" cy="76.8" r=".9" fill="#86c02a"/><rect x="9.7" y="54.5" width="5.9" height=".7" fill="#6b5a3e" opacity=".7" transform="rotate(-8 9.7 54.5)"/><rect x="38.5" y="53.7" width="5.1" height=".7" fill="#6b5a3e" opacity=".7" transform="rotate(-8 38.5 53.7)"/><rect x="25.8" y="57.5" width="7.6" height=".7" fill="#6b5a3e" opacity=".7" transform="rotate(-8 25.8 57.5)"/><rect x="22.4" y="60.4" width="3.4" height=".7" fill="#6b5a3e" opacity=".7" transform="rotate(-8 22.4 60.4)"/><rect x="28.3" y="63.4" width="4.2" height=".7" fill="#6b5a3e" opacity=".7" transform="rotate(-8 28.3 63.4)"/><rect x="37.6" y="63.0" width="5.9" height=".7" fill="#6b5a3e" opacity=".7" transform="rotate(-8 37.6 63.0)"/><rect x="24.9" y="70.6" width="4.2" height=".7" fill="#6b5a3e" opacity=".7" transform="rotate(-8 24.9 70.6)"/><rect x="20.7" y="81.6" width="3.4" height=".7" fill="#6b5a3e" opacity=".7" transform="rotate(-8 20.7 81.6)"/><rect x="19.0" y="98.5" width="4.2" height=".7" fill="#6b5a3e" opacity=".7" transform="rotate(-8 19.0 98.5)"/><rect x="56.2" y="55.4" width="5.1" height=".7" fill="#6b5a3e" opacity=".7" transform="rotate(-8 56.2 55.4)"/><rect x="64.7" y="50.3" width="3.0" height=".7" fill="#6b5a3e" opacity=".7" transform="rotate(-8 64.7 50.3)"/><rect x="69.3" y="41.4" width="4.2" height=".7" fill="#6b5a3e" opacity=".7" transform="rotate(-8 69.3 41.4)"/><rect x="73.1" y="46.5" width="4.2" height=".7" fill="#6b5a3e" opacity=".7" transform="rotate(-8 73.1 46.5)"/><rect x="68.9" y="54.1" width="4.2" height=".7" fill="#6b5a3e" opacity=".7" transform="rotate(-8 68.9 54.1)"/><rect x="77.3" y="15.6" width="3.4" height=".7" fill="#6b5a3e" opacity=".7" transform="rotate(-8 77.3 15.6)"/><rect x="87.5" y="20.7" width="3.4" height=".7" fill="#6b5a3e" opacity=".7" transform="rotate(-8 87.5 20.7)"/><rect x="81.6" y="34.7" width="3.4" height=".7" fill="#6b5a3e" opacity=".7" transform="rotate(-8 81.6 34.7)"/><rect x="82.4" y="43.5" width="4.2" height=".7" fill="#6b5a3e" opacity=".7" transform="rotate(-8 82.4 43.5)"/><rect x="90.0" y="94.7" width="3.4" height=".7" fill="#6b5a3e" opacity=".7" transform="rotate(-8 90.0 94.7)"/></g><rect x="80.5" y="0" width="17" height="9.5" fill="#e4173f"/><text transform="translate(89.00,7.40) scale(0.7400,1)" text-anchor="middle" font-size="8" >חדש</text></svg>
<span class="t" style="top:479.00px;font-size:12px;font-weight:bold;left:265.60px;width:600px;text-align:center;transform-origin:center center;transform:scaleX(0.8702);">מפת צבע רמזור</span>
<span class="t" style="top:494.00px;font-size:9.5px;left:265.80px;width:600px;text-align:center;transform-origin:center center;transform:scaleX(0.7828);">ליישובים בישראל</span>
<span class="t" style="top:319.00px;font-size:11.5px;font-weight:bold;right:952.50px;transform-origin:right center;transform:scaleX(0.9318);">מאגרי מידע Data Gov</span>
<div class="pill" style="left:38px;top:314.75px;width:57.5px;height:17.75px"></div>
<span class="t" style="top:319.00px;font-size:10px;right:1315.50px;transform-origin:right center;transform:scaleX(0.8603);">לאתר</span>
<svg style="left:51px;top:318.5px" width="12" height="10" viewBox="0 0 12 10"><path d="M10.6,5 H1.6 M5.3,1.2 L1.5,5 L5.3,8.8" fill="none" stroke="#fff" stroke-width="1.1" stroke-linecap="round" stroke-linejoin="round"/></svg>
<div class="sub" style="left:323.5px;top:343.75px;width:125.5px;height:172.75px"><div style="height:85.75px;background:#3a5662;border-bottom:1.2px solid #1f9d8d;border-radius:7px 7px 0 0"></div></div>
<span class="t" style="top:374.00px;font-size:12px;font-weight:bold;left:86.45px;width:600px;text-align:center;transform-origin:center center;transform:scaleX(0.8645);">טבלת האזורים</span>
<span class="t" style="top:390.00px;font-size:12px;font-weight:bold;left:86.45px;width:600px;text-align:center;transform-origin:center center;transform:scaleX(0.8375);">הסטטיסטיים</span>
<span class="t" style="top:454.00px;font-size:9.5px;left:86.55px;width:600px;text-align:center;transform-origin:center center;transform:scaleX(0.7776);">מספרי מאומתים, מחלימים,</span>
<span class="t" style="top:468.00px;font-size:9.5px;left:86.55px;width:600px;text-align:center;transform-origin:center center;transform:scaleX(0.7887);">מאושפזים, נפטרים ומחוסנים ברמת</span>
<span class="t" style="top:481.00px;font-size:9.5px;left:86.55px;width:600px;text-align:center;transform-origin:center center;transform:scaleX(0.7747);">היום והאזור הסטטיסטי</span>
<div class="sub" style="left:184.5px;top:343.75px;width:125.5px;height:172.75px"><div style="height:85.75px;background:#3b5067;border-bottom:1.2px solid #3b6fc6;border-radius:7px 7px 0 0"></div></div>
<span class="t" style="top:374.00px;font-size:12px;font-weight:bold;left:-52.55px;width:600px;text-align:center;transform-origin:center center;transform:scaleX(0.8693);">טבלת אימותים</span>
<span class="t" style="top:390.00px;font-size:12px;font-weight:bold;left:-52.55px;width:600px;text-align:center;transform-origin:center center;transform:scaleX(0.8551);">לאחר חיסון</span>
<span class="t" style="top:454.00px;font-size:9.5px;left:-52.45px;width:600px;text-align:center;transform-origin:center center;transform:scaleX(0.7958);">מספר המחוסנים שאומתו לקורונה</span>
<span class="t" style="top:468.00px;font-size:9.5px;left:-52.45px;width:600px;text-align:center;transform-origin:center center;transform:scaleX(0.7995);">לאחר החיסון, בקטגוריות של קבוצות</span>
<span class="t" style="top:481.00px;font-size:9.5px;left:-52.45px;width:600px;text-align:center;transform-origin:center center;transform:scaleX(0.8004);">גיל ועל פני הזמן.</span>
<div class="sub" style="left:45.5px;top:343.75px;width:125.25px;height:172.75px"><div style="height:85.75px;background:#34566a;border-bottom:1.2px solid #2aa6c9;border-radius:7px 7px 0 0"></div></div>
<span class="t" style="top:382.00px;font-size:12px;font-weight:bold;left:-191.57px;width:600px;text-align:center;transform-origin:center center;transform:scaleX(0.8679);">טבלת המאושפזים</span>
<span class="t" style="top:461.00px;font-size:9.5px;left:-191.57px;width:600px;text-align:center;transform-origin:center center;transform:scaleX(0.8088);">מידע על המאושפזים בשל קורונה</span>
<span class="t" style="top:474.00px;font-size:9.5px;left:-191.57px;width:600px;text-align:center;transform-origin:center center;transform:scaleX(0.8042);">ברמה יומית ועל פי המצב הקליני</span>
<div style="position:absolute;left:21.25px;top:343.75px;width:10.75px;height:172.75px;overflow:hidden"><div class="sub" style="left:-114.75px;top:0;width:125.5px;height:172.75px"><div style="height:85.75px;background:#40506f;border-bottom:1px solid #8a6cd3;border-radius:7px 7px 0 0"></div></div></div>
<span class="t" style="top:467.00px;font-size:11px;right:1372.50px;transform-origin:right center;transform:scaleX(0.6951);">וכ</span>
<div class="sep" style="top:563.25px"></div>
<span class="t" style="top:570.00px;font-size:14.5px;font-weight:bold;right:24.75px;transform-origin:right center;transform:scaleX(0.8489);">תחקור תחלואה והתחסנות</span>
<div class="card" style="left:935.75px;top:596.25px;width:443.5px;height:237.0px;"></div>
<span class="t" style="top:611.00px;font-size:11.5px;font-weight:bold;right:32.00px;transform-origin:right center;transform:scaleX(0.8097);">מאומתים יומי - התחסנות</span>
<div class="info" style="left:1245.75px;top:610.10px;width:11.5px;height:11.5px"><b>i</b></div>
<div class="pill" style="left:1155.5px;top:638.75px;width:212.5px;height:20.25px"></div>
<span class="t" style="top:643.00px;font-size:11px;right:42.05px;transform-origin:right center;transform:scaleX(0.8737);">ל-100 אלף תושבים, מעל גיל 60, חודש אחרון</span>
<svg style="left:935.75px;top:596.25px" width="443.5" height="237.0" viewBox="935.75 596.25 443.5 237.0"><circle cx="952.35" cy="611.90" r="0.95" fill="#fff"/>
<circle cx="952.35" cy="615.10" r="0.95" fill="#fff"/>
<circle cx="952.35" cy="618.30" r="0.95" fill="#fff"/>
<path d="M1166.10,648.07 L1168.50,650.48 L1170.90,648.07" fill="none" stroke="rgba(255,255,255,.6)" stroke-width=".9"/>
<circle cx="1364.75" cy="672.10" r="3.4" fill="#2cd1db"/>
<text transform="translate(1358.75,675.30) scale(0.7518,1)" text-anchor="end" font-size="10.5" >לא מחוסנים</text>
<circle cx="1298.50" cy="672.10" r="3.4" fill="#ff7f67"/>
<text transform="translate(1292.50,675.30) scale(0.7668,1)" text-anchor="end" font-size="10.5" >מחוסנים ללא דחף</text>
<circle cx="1210.75" cy="672.10" r="3.4" fill="#9df783"/>
<text transform="translate(1204.75,675.30) scale(0.7749,1)" text-anchor="end" font-size="10.5" >מחוסנים עם דחף</text>
<text transform="translate(976.30,683.30) scale(0.7150,1)" text-anchor="end" font-size="11.5" >שיעור</text>
<text transform="translate(976.30,692.95) scale(0.7150,1)" text-anchor="end" font-size="11.5" >מאומתים</text>
<text transform="translate(976.30,702.60) scale(0.7150,1)" text-anchor="end" font-size="11.5" >יומי</text>
<line x1="989.60" x2="1365.60" y1="793.30" y2="793.30" stroke="rgba(255,255,255,.42)" stroke-width="1"/>
<line x1="989.60" x2="1365.60" y1="778.22" y2="778.22" stroke="rgba(255,255,255,.42)" stroke-width="1"/>
<line x1="989.60" x2="1365.60" y1="763.14" y2="763.14" stroke="rgba(255,255,255,.42)" stroke-width="1"/>
<line x1="989.60" x2="1365.60" y1="748.06" y2="748.06" stroke="rgba(255,255,255,.42)" stroke-width="1"/>
<line x1="989.60" x2="1365.60" y1="732.98" y2="732.98" stroke="rgba(255,255,255,.42)" stroke-width="1"/>
<line x1="989.60" x2="1365.60" y1="717.90" y2="717.90" stroke="rgba(255,255,255,.42)" stroke-width="1"/>
<text transform="translate(976.30,796.10) scale(0.9250,1)" text-anchor="end" font-size="9" >0</text>
<text transform="translate(976.30,781.02) scale(0.9250,1)" text-anchor="end" font-size="9" >30</text>
<text transform="translate(976.30,765.94) scale(0.9250,1)" text-anchor="end" font-size="9" >60</text>
<text transform="translate(976.30,750.86) scale(0.9250,1)" text-anchor="end" font-size="9" >90</text>
<text transform="translate(976.30,735.78) scale(0.9250,1)" text-anchor="end" font-size="9" >120</text>
<text transform="translate(976.30,720.70) scale(0.9250,1)" text-anchor="end" font-size="9" >150</text>
<line x1="996.20" x2="996.20" y1="793.30" y2="801.60" stroke="rgba(255,255,255,.42)" stroke-width="1"/>
<text transform="translate(996.20,812.50) scale(0.9148,1)" text-anchor="middle" font-size="9" >15.08</text>
<line x1="1033.76" x2="1033.76" y1="793.30" y2="801.60" stroke="rgba(255,255,255,.42)" stroke-width="1"/>
<text transform="translate(1033.76,812.50) scale(0.9148,1)" text-anchor="middle" font-size="9" >18.08</text>
<line x1="1071.32" x2="1071.32" y1="793.30" y2="801.60" stroke="rgba(255,255,255,.42)" stroke-width="1"/>
<text transform="translate(1071.32,812.50) scale(0.9148,1)" text-anchor="middle" font-size="9" >21.08</text>
<line x1="1108.88" x2="1108.88" y1="793.30" y2="801.60" stroke="rgba(255,255,255,.42)" stroke-width="1"/>
<text transform="translate(1108.88,812.50) scale(0.9148,1)" text-anchor="middle" font-size="9" >24.08</text>
<line x1="1146.44" x2="1146.44" y1="793.30" y2="801.60" stroke="rgba(255,255,255,.42)" stroke-width="1"/>
<text transform="translate(1146.44,812.50) scale(0.9148,1)" text-anchor="middle" font-size="9" >27.08</text>
<line x1="1184.00" x2="1184.00" y1="793.30" y2="801.60" stroke="rgba(255,255,255,.42)" stroke-width="1"/>
<text transform="translate(1184.00,812.50) scale(0.9148,1)" text-anchor="middle" font-size="9" >30.08</text>
<line x1="1221.56" x2="1221.56" y1="793.30" y2="801.60" stroke="rgba(255,255,255,.42)" stroke-width="1"/>
<text transform="translate(1221.56,812.50) scale(0.9148,1)" text-anchor="middle" font-size="9" >02.09</text>
<line x1="1259.12" x2="1259.12" y1="793.30" y2="801.60" stroke="rgba(255,255,255,.42)" stroke-width="1"/>
<text transform="translate(1259.12,812.50) scale(0.9148,1)" text-anchor="middle" font-size="9" >05.09</text>
<line x1="1296.68" x2="1296.68" y1="793.30" y2="801.60" stroke="rgba(255,255,255,.42)" stroke-width="1"/>
<text transform="translate(1296.68,812.50) scale(0.9148,1)" text-anchor="middle" font-size="9" >08.09</text>
<line x1="1334.24" x2="1334.24" y1="793.30" y2="801.60" stroke="rgba(255,255,255,.42)" stroke-width="1"/>
<text transform="translate(1334.24,812.50) scale(0.9427,1)" text-anchor="middle" font-size="9" >11.09</text>
<text transform="translate(1177.80,827.80) scale(0.7679,1)" text-anchor="middle" font-size="11.5" >תאריך</text>
<path d="M996.20,764.15 L1008.72,755.10 L1021.24,758.11 L1033.76,755.60 L1046.28,754.09 L1058.80,755.60 L1071.32,770.68 L1083.84,762.13 L1096.36,750.57 L1108.88,756.61 L1121.40,762.64 L1133.92,757.11 L1146.44,751.08 L1158.96,762.13 L1171.48,765.15 L1184.00,751.08 L1196.52,748.56 L1209.04,748.06 L1221.56,759.62 L1234.08,753.09 L1246.60,772.69 L1259.12,769.67 L1271.64,749.07 L1284.16,765.65 L1296.68,775.20 L1309.20,764.65 L1321.72,754.59 L1334.24,742.03 L1346.76,755.60 L1359.28,781.24" fill="none" stroke="#2cd1db" stroke-width="1.5" stroke-linejoin="round"/>
<circle cx="996.20" cy="764.15" r="2.9" fill="#2cd1db"/>
<circle cx="1008.72" cy="755.10" r="2.9" fill="#2cd1db"/>
<circle cx="1021.24" cy="758.11" r="2.9" fill="#2cd1db"/>
<circle cx="1033.76" cy="755.60" r="2.9" fill="#2cd1db"/>
<circle cx="1046.28" cy="754.09" r="2.9" fill="#2cd1db"/>
<circle cx="1058.80" cy="755.60" r="2.9" fill="#2cd1db"/>
<circle cx="1071.32" cy="770.68" r="2.9" fill="#2cd1db"/>
<circle cx="1083.84" cy="762.13" r="2.9" fill="#2cd1db"/>
<circle cx="1096.36" cy="750.57" r="2.9" fill="#2cd1db"/>
<circle cx="1108.88" cy="756.61" r="2.9" fill="#2cd1db"/>
<circle cx="1121.40" cy="762.64" r="2.9" fill="#2cd1db"/>
<circle cx="1133.92" cy="757.11" r="2.9" fill="#2cd1db"/>
<circle cx="1146.44" cy="751.08" r="2.9" fill="#2cd1db"/>
<circle cx="1158.96" cy="762.13" r="2.9" fill="#2cd1db"/>
<circle cx="1171.48" cy="765.15" r="2.9" fill="#2cd1db"/>
<circle cx="1184.00" cy="751.08" r="2.9" fill="#2cd1db"/>
<circle cx="1196.52" cy="748.56" r="2.9" fill="#2cd1db"/>
<circle cx="1209.04" cy="748.06" r="2.9" fill="#2cd1db"/>
<circle cx="1221.56" cy="759.62" r="2.9" fill="#2cd1db"/>
<circle cx="1234.08" cy="753.09" r="2.9" fill="#2cd1db"/>
<circle cx="1246.60" cy="772.69" r="2.9" fill="#2cd1db"/>
<circle cx="1259.12" cy="769.67" r="2.9" fill="#2cd1db"/>
<circle cx="1271.64" cy="749.07" r="2.9" fill="#2cd1db"/>
<circle cx="1284.16" cy="765.65" r="2.9" fill="#2cd1db"/>
<circle cx="1296.68" cy="775.20" r="2.9" fill="#2cd1db"/>
<circle cx="1309.20" cy="764.65" r="2.9" fill="#2cd1db"/>
<circle cx="1321.72" cy="754.59" r="2.9" fill="#2cd1db"/>
<circle cx="1334.24" cy="742.03" r="2.9" fill="#2cd1db"/>
<circle cx="1346.76" cy="755.60" r="2.9" fill="#2cd1db"/>
<circle cx="1359.28" cy="781.24" r="2.9" fill="#e8e8e8"/>
<path d="M996.20,772.19 L1008.72,755.10 L1021.24,765.15 L1033.76,764.15 L1046.28,762.13 L1058.80,761.13 L1071.32,771.69 L1083.84,769.67 L1096.36,758.62 L1108.88,761.63 L1121.40,763.14 L1133.92,761.13 L1146.44,760.63 L1158.96,767.16 L1171.48,772.19 L1184.00,764.65 L1196.52,762.64 L1209.04,760.63 L1221.56,766.16 L1234.08,762.64 L1246.60,778.72 L1259.12,776.71 L1271.64,767.16 L1284.16,775.71 L1296.68,783.75 L1309.20,776.21 L1321.72,772.19 L1334.24,765.15 L1346.76,773.19 L1359.28,788.27" fill="none" stroke="#ff7f67" stroke-width="1.5" stroke-linejoin="round"/>
<circle cx="996.20" cy="772.19" r="2.9" fill="#ff7f67"/>
<circle cx="1008.72" cy="755.10" r="2.9" fill="#ff7f67"/>
<circle cx="1021.24" cy="765.15" r="2.9" fill="#ff7f67"/>
<circle cx="1033.76" cy="764.15" r="2.9" fill="#ff7f67"/>
<circle cx="1046.28" cy="762.13" r="2.9" fill="#ff7f67"/>
<circle cx="1058.80" cy="761.13" r="2.9" fill="#ff7f67"/>
<circle cx="1071.32" cy="771.69" r="2.9" fill="#ff7f67"/>
<circle cx="1083.84" cy="769.67" r="2.9" fill="#ff7f67"/>
<circle cx="1096.36" cy="758.62" r="2.9" fill="#ff7f67"/>
<circle cx="1108.88" cy="761.63" r="2.9" fill="#ff7f67"/>
<circle cx="1121.40" cy="763.14" r="2.9" fill="#ff7f67"/>
<circle cx="1133.92" cy="761.13" r="2.9" fill="#ff7f67"/>
<circle cx="1146.44" cy="760.63" r="2.9" fill="#ff7f67"/>
<circle cx="1158.96" cy="767.16" r="2.9" fill="#ff7f67"/>
<circle cx="1171.48" cy="772.19" r="2.9" fill="#ff7f67"/>
<circle cx="1184.00" cy="764.65" r="2.9" fill="#ff7f67"/>
<circle cx="1196.52" cy="762.64" r="2.9" fill="#ff7f67"/>
<circle cx="1209.04" cy="760.63" r="2.9" fill="#ff7f67"/>
<circle cx="1221.56" cy="766.16" r="2.9" fill="#ff7f67"/>
<circle cx="1234.08" cy="762.64" r="2.9" fill="#ff7f67"/>
<circle cx="1246.60" cy="778.72" r="2.9" fill="#ff7f67"/>
<circle cx="1259.12" cy="776.71" r="2.9" fill="#ff7f67"/>
<circle cx="1271.64" cy="767.16" r="2.9" fill="#ff7f67"/>
<circle cx="1284.16" cy="775.71" r="2.9" fill="#ff7f67"/>
<circle cx="1296.68" cy="783.75" r="2.9" fill="#ff7f67"/>
<circle cx="1309.20" cy="776.21" r="2.9" fill="#ff7f67"/>
<circle cx="1321.72" cy="772.19" r="2.9" fill="#ff7f67"/>
<circle cx="1334.24" cy="765.15" r="2.9" fill="#ff7f67"/>
<circle cx="1346.76" cy="773.19" r="2.9" fill="#ff7f67"/>
<circle cx="1359.28" cy="788.27" r="2.9" fill="#ffffff"/>
<path d="M996.20,784.25 L1008.72,774.70 L1021.24,780.73 L1033.76,779.73 L1046.28,782.74 L1058.80,784.25 L1071.32,788.27 L1083.84,787.27 L1096.36,783.75 L1108.88,784.75 L1121.40,786.26 L1133.92,786.26 L1146.44,785.76 L1158.96,787.77 L1171.48,788.78 L1184.00,787.77 L1196.52,786.26 L1209.04,787.27 L1221.56,787.27 L1234.08,787.77 L1246.60,790.79 L1259.12,790.28 L1271.64,788.27 L1284.16,790.28 L1296.68,791.79 L1309.20,790.79 L1321.72,789.78 L1334.24,789.78 L1346.76,791.29 L1359.28,792.29" fill="none" stroke="#9df783" stroke-width="1.5" stroke-linejoin="round"/>
<circle cx="996.20" cy="784.25" r="2.9" fill="#9df783"/>
<circle cx="1008.72" cy="774.70" r="2.9" fill="#9df783"/>
<circle cx="1021.24" cy="780.73" r="2.9" fill="#9df783"/>
<circle cx="1033.76" cy="779.73" r="2.9" fill="#9df783"/>
<circle cx="1046.28" cy="782.74" r="2.9" fill="#9df783"/>
<circle cx="1058.80" cy="784.25" r="2.9" fill="#9df783"/>
<circle cx="1071.32" cy="788.27" r="2.9" fill="#9df783"/>
<circle cx="1083.84" cy="787.27" r="2.9" fill="#9df783"/>
<circle cx="1096.36" cy="783.75" r="2.9" fill="#9df783"/>
<circle cx="1108.88" cy="784.75" r="2.9" fill="#9df783"/>
<circle cx="1121.40" cy="786.26" r="2.9" fill="#9df783"/>
<circle cx="1133.92" cy="786.26" r="2.9" fill="#9df783"/>
<circle cx="1146.44" cy="785.76" r="2.9" fill="#9df783"/>
<circle cx="1158.96" cy="787.77" r="2.9" fill="#9df783"/>
<circle cx="1171.48" cy="788.78" r="2.9" fill="#9df783"/>
<circle cx="1184.00" cy="787.77" r="2.9" fill="#9df783"/>
<circle cx="1196.52" cy="786.26" r="2.9" fill="#9df783"/>
<circle cx="1209.04" cy="787.27" r="2.9" fill="#9df783"/>
<circle cx="1221.56" cy="787.27" r="2.9" fill="#9df783"/>
<circle cx="1234.08" cy="787.77" r="2.9" fill="#9df783"/>
<circle cx="1246.60" cy="790.79" r="2.9" fill="#9df783"/>
<circle cx="1259.12" cy="790.28" r="2.9" fill="#9df783"/>
<circle cx="1271.64" cy="788.27" r="2.9" fill="#9df783"/>
<circle cx="1284.16" cy="790.28" r="2.9" fill="#9df783"/>
<circle cx="1296.68" cy="791.79" r="2.9" fill="#9df783"/>
<circle cx="1309.20" cy="790.79" r="2.9" fill="#9df783"/>
<circle cx="1321.72" cy="789.78" r="2.9" fill="#9df783"/>
<circle cx="1334.24" cy="789.78" r="2.9" fill="#9df783"/>
<circle cx="1346.76" cy="791.29" r="2.9" fill="#9df783"/>
<circle cx="1359.28" cy="792.29" r="2.9" fill="#9a9a9a"/></svg>
<div class="card" style="left:477.9px;top:596.25px;width:444.0px;height:237.0px;"></div>
<span class="t" style="top:611.00px;font-size:11.5px;font-weight:bold;right:489.35px;transform-origin:right center;transform:scaleX(0.8078);">חולים קשה - התחסנות</span>
<div class="info" style="left:798.65px;top:610.10px;width:11.5px;height:11.5px"><b>i</b></div>
<div class="pill" style="left:612.7px;top:638.75px;width:297.94999999999993px;height:20.25px"></div>
<span class="t" style="top:643.00px;font-size:11px;right:499.40px;transform-origin:right center;transform:scaleX(0.8693);">חולים קשה - פעילים, ל-100 אלף תושבים, מעל גיל 60, חודש אחרון</span>
<svg style="left:477.9px;top:596.25px" width="444.0" height="237.0" viewBox="477.9 596.25 444.0 237.0"><circle cx="494.50" cy="611.90" r="0.95" fill="#fff"/>
<circle cx="494.50" cy="615.10" r="0.95" fill="#fff"/>
<circle cx="494.50" cy="618.30" r="0.95" fill="#fff"/>
<path d="M623.30,648.07 L625.70,650.48 L628.10,648.07" fill="none" stroke="rgba(255,255,255,.6)" stroke-width=".9"/>
<circle cx="907.40" cy="672.10" r="3.4" fill="#2cd1db"/>
<text transform="translate(901.40,675.30) scale(0.7518,1)" text-anchor="end" font-size="10.5" >לא מחוסנים</text>
<circle cx="841.15" cy="672.10" r="3.4" fill="#ff7f67"/>
<text transform="translate(835.15,675.30) scale(0.7668,1)" text-anchor="end" font-size="10.5" >מחוסנים ללא דחף</text>
<circle cx="753.40" cy="672.10" r="3.4" fill="#9df783"/>
<text transform="translate(747.40,675.30) scale(0.7749,1)" text-anchor="end" font-size="10.5" >מחוסנים עם דחף</text>
<text transform="translate(519.30,673.60) scale(0.7150,1)" text-anchor="end" font-size="11.5" >שיעור</text>
<text transform="translate(519.30,683.25) scale(0.7150,1)" text-anchor="end" font-size="11.5" >חולים</text>
<text transform="translate(519.30,692.90) scale(0.7150,1)" text-anchor="end" font-size="11.5" >קשה</text>
<text transform="translate(519.30,702.55) scale(0.7150,1)" text-anchor="end" font-size="11.5" >פעילים</text>
<line x1="533.10" x2="908.40" y1="793.20" y2="793.20" stroke="rgba(255,255,255,.42)" stroke-width="1"/>
<line x1="533.10" x2="908.40" y1="778.18" y2="778.18" stroke="rgba(255,255,255,.42)" stroke-width="1"/>
<line x1="533.10" x2="908.40" y1="763.16" y2="763.16" stroke="rgba(255,255,255,.42)" stroke-width="1"/>
<line x1="533.10" x2="908.40" y1="748.14" y2="748.14" stroke="rgba(255,255,255,.42)" stroke-width="1"/>
<line x1="533.10" x2="908.40" y1="733.12" y2="733.12" stroke="rgba(255,255,255,.42)" stroke-width="1"/>
<line x1="533.10" x2="908.40" y1="718.10" y2="718.10" stroke="rgba(255,255,255,.42)" stroke-width="1"/>
<text transform="translate(519.30,796.00) scale(0.9250,1)" text-anchor="end" font-size="9" >0</text>
<text transform="translate(519.30,780.98) scale(0.9250,1)" text-anchor="end" font-size="9" >40</text>
<text transform="translate(519.30,765.96) scale(0.9250,1)" text-anchor="end" font-size="9" >80</text>
<text transform="translate(519.30,750.94) scale(0.9250,1)" text-anchor="end" font-size="9" >120</text>
<text transform="translate(519.30,735.92) scale(0.9250,1)" text-anchor="end" font-size="9" >160</text>
<text transform="translate(519.30,720.90) scale(0.9250,1)" text-anchor="end" font-size="9" >200</text>
<line x1="539.30" x2="539.30" y1="793.20" y2="801.50" stroke="rgba(255,255,255,.42)" stroke-width="1"/>
<text transform="translate(539.30,812.40) scale(0.9148,1)" text-anchor="middle" font-size="9" >15.08</text>
<line x1="576.86" x2="576.86" y1="793.20" y2="801.50" stroke="rgba(255,255,255,.42)" stroke-width="1"/>
<text transform="translate(576.86,812.40) scale(0.9148,1)" text-anchor="middle" font-size="9" >18.08</text>
<line x1="614.42" x2="614.42" y1="793.20" y2="801.50" stroke="rgba(255,255,255,.42)" stroke-width="1"/>
<text transform="translate(614.42,812.40) scale(0.9148,1)" text-anchor="middle" font-size="9" >21.08</text>
<line x1="651.98" x2="651.98" y1="793.20" y2="801.50" stroke="rgba(255,255,255,.42)" stroke-width="1"/>
<text transform="translate(651.98,812.40) scale(0.9148,1)" text-anchor="middle" font-size="9" >24.08</text>
<line x1="689.54" x2="689.54" y1="793.20" y2="801.50" stroke="rgba(255,255,255,.42)" stroke-width="1"/>
<text transform="translate(689.54,812.40) scale(0.9148,1)" text-anchor="middle" font-size="9" >27.08</text>
<line x1="727.10" x2="727.10" y1="793.20" y2="801.50" stroke="rgba(255,255,255,.42)" stroke-width="1"/>
<text transform="translate(727.10,812.40) scale(0.9148,1)" text-anchor="middle" font-size="9" >30.08</text>
<line x1="764.66" x2="764.66" y1="793.20" y2="801.50" stroke="rgba(255,255,255,.42)" stroke-width="1"/>
<text transform="translate(764.66,812.40) scale(0.9148,1)" text-anchor="middle" font-size="9" >02.09</text>
<line x1="802.22" x2="802.22" y1="793.20" y2="801.50" stroke="rgba(255,255,255,.42)" stroke-width="1"/>
<text transform="translate(802.22,812.40) scale(0.9148,1)" text-anchor="middle" font-size="9" >05.09</text>
<line x1="839.78" x2="839.78" y1="793.20" y2="801.50" stroke="rgba(255,255,255,.42)" stroke-width="1"/>
<text transform="translate(839.78,812.40) scale(0.9148,1)" text-anchor="middle" font-size="9" >08.09</text>
<line x1="877.34" x2="877.34" y1="793.20" y2="801.50" stroke="rgba(255,255,255,.42)" stroke-width="1"/>
<text transform="translate(877.34,812.40) scale(0.9427,1)" text-anchor="middle" font-size="9" >11.09</text>
<text transform="translate(720.60,827.70) scale(0.7679,1)" text-anchor="middle" font-size="11.5" >תאריך</text>
<path d="M539.30,763.16 L551.82,760.91 L564.34,758.65 L576.86,754.90 L589.38,755.65 L601.90,752.27 L614.42,748.52 L626.94,747.76 L639.46,743.63 L651.98,742.13 L664.50,740.63 L677.02,739.88 L689.54,738.38 L702.06,740.63 L714.58,734.62 L727.10,733.87 L739.62,737.25 L752.14,736.50 L764.66,736.88 L777.18,738.75 L789.70,738.00 L802.22,733.87 L814.74,736.88 L827.26,736.12 L839.78,735.00 L852.30,732.74 L864.82,731.62 L877.34,730.87 L889.86,728.24 L902.38,729.37" fill="none" stroke="#2cd1db" stroke-width="1.5" stroke-linejoin="round"/>
<circle cx="539.30" cy="763.16" r="2.9" fill="#2cd1db"/>
<circle cx="551.82" cy="760.91" r="2.9" fill="#2cd1db"/>
<circle cx="564.34" cy="758.65" r="2.9" fill="#2cd1db"/>
<circle cx="576.86" cy="754.90" r="2.9" fill="#2cd1db"/>
<circle cx="589.38" cy="755.65" r="2.9" fill="#2cd1db"/>
<circle cx="601.90" cy="752.27" r="2.9" fill="#2cd1db"/>
<circle cx="614.42" cy="748.52" r="2.9" fill="#2cd1db"/>
<circle cx="626.94" cy="747.76" r="2.9" fill="#2cd1db"/>
<circle cx="639.46" cy="743.63" r="2.9" fill="#2cd1db"/>
<circle cx="651.98" cy="742.13" r="2.9" fill="#2cd1db"/>
<circle cx="664.50" cy="740.63" r="2.9" fill="#2cd1db"/>
<circle cx="677.02" cy="739.88" r="2.9" fill="#2cd1db"/>
<circle cx="689.54" cy="738.38" r="2.9" fill="#2cd1db"/>
<circle cx="702.06" cy="740.63" r="2.9" fill="#2cd1db"/>
<circle cx="714.58" cy="734.62" r="2.9" fill="#2cd1db"/>
<circle cx="727.10" cy="733.87" r="2.9" fill="#2cd1db"/>
<circle cx="739.62" cy="737.25" r="2.9" fill="#2cd1db"/>
<circle cx="752.14" cy="736.50" r="2.9" fill="#2cd1db"/>
<circle cx="764.66" cy="736.88" r="2.9" fill="#2cd1db"/>
<circle cx="777.18" cy="738.75" r="2.9" fill="#2cd1db"/>
<circle cx="789.70" cy="738.00" r="2.9" fill="#2cd1db"/>
<circle cx="802.22" cy="733.87" r="2.9" fill="#2cd1db"/>
<circle cx="814.74" cy="736.88" r="2.9" fill="#2cd1db"/>
<circle cx="827.26" cy="736.12" r="2.9" fill="#2cd1db"/>
<circle cx="839.78" cy="735.00" r="2.9" fill="#2cd1db"/>
<circle cx="852.30" cy="732.74" r="2.9" fill="#2cd1db"/>
<circle cx="864.82" cy="731.62" r="2.9" fill="#2cd1db"/>
<circle cx="877.34" cy="730.87" r="2.9" fill="#2cd1db"/>
<circle cx="889.86" cy="728.24" r="2.9" fill="#2cd1db"/>
<circle cx="902.38" cy="729.37" r="2.9" fill="#d8d8d8"/>
<path d="M539.30,781.56 L551.82,781.18 L564.34,780.06 L576.86,778.93 L589.38,777.80 L601.90,777.80 L614.42,777.05 L626.94,775.18 L639.46,774.80 L651.98,774.43 L664.50,773.67 L677.02,774.05 L689.54,774.05 L702.06,774.05 L714.58,772.92 L727.10,773.30 L739.62,773.30 L752.14,773.67 L764.66,773.67 L777.18,774.43 L789.70,774.43 L802.22,775.55 L814.74,777.43 L827.26,777.80 L839.78,777.80 L852.30,777.43 L864.82,777.80 L877.34,778.18 L889.86,777.80 L902.38,778.18" fill="none" stroke="#ff7f67" stroke-width="1.5" stroke-linejoin="round"/>
<circle cx="539.30" cy="781.56" r="2.9" fill="#ff7f67"/>
<circle cx="551.82" cy="781.18" r="2.9" fill="#ff7f67"/>
<circle cx="564.34" cy="780.06" r="2.9" fill="#ff7f67"/>
<circle cx="576.86" cy="778.93" r="2.9" fill="#ff7f67"/>
<circle cx="589.38" cy="777.80" r="2.9" fill="#ff7f67"/>
<circle cx="601.90" cy="777.80" r="2.9" fill="#ff7f67"/>
<circle cx="614.42" cy="777.05" r="2.9" fill="#ff7f67"/>
<circle cx="626.94" cy="775.18" r="2.9" fill="#ff7f67"/>
<circle cx="639.46" cy="774.80" r="2.9" fill="#ff7f67"/>
<circle cx="651.98" cy="774.43" r="2.9" fill="#ff7f67"/>
<circle cx="664.50" cy="773.67" r="2.9" fill="#ff7f67"/>
<circle cx="677.02" cy="774.05" r="2.9" fill="#ff7f67"/>
<circle cx="689.54" cy="774.05" r="2.9" fill="#ff7f67"/>
<circle cx="702.06" cy="774.05" r="2.9" fill="#ff7f67"/>
<circle cx="714.58" cy="772.92" r="2.9" fill="#ff7f67"/>
<circle cx="727.10" cy="773.30" r="2.9" fill="#ff7f67"/>
<circle cx="739.62" cy="773.30" r="2.9" fill="#ff7f67"/>
<circle cx="752.14" cy="773.67" r="2.9" fill="#ff7f67"/>
<circle cx="764.66" cy="773.67" r="2.9" fill="#ff7f67"/>
<circle cx="777.18" cy="774.43" r="2.9" fill="#ff7f67"/>
<circle cx="789.70" cy="774.43" r="2.9" fill="#ff7f67"/>
<circle cx="802.22" cy="775.55" r="2.9" fill="#ff7f67"/>
<circle cx="814.74" cy="777.43" r="2.9" fill="#ff7f67"/>
<circle cx="827.26" cy="777.80" r="2.9" fill="#ff7f67"/>
<circle cx="839.78" cy="777.80" r="2.9" fill="#ff7f67"/>
<circle cx="852.30" cy="777.43" r="2.9" fill="#ff7f67"/>
<circle cx="864.82" cy="777.80" r="2.9" fill="#ff7f67"/>
<circle cx="877.34" cy="778.18" r="2.9" fill="#ff7f67"/>
<circle cx="889.86" cy="777.80" r="2.9" fill="#ff7f67"/>
<circle cx="902.38" cy="778.18" r="2.9" fill="#ffffff"/>
<path d="M539.30,791.70 L551.82,791.70 L564.34,791.32 L576.86,791.32 L589.38,791.32 L601.90,791.13 L614.42,790.76 L626.94,790.57 L639.46,790.76 L651.98,790.57 L664.50,790.76 L677.02,790.76 L689.54,790.76 L702.06,790.57 L714.58,790.57 L727.10,790.57 L739.62,790.76 L752.14,790.76 L764.66,790.95 L777.18,790.95 L789.70,790.95 L802.22,790.76 L814.74,790.95 L827.26,790.95 L839.78,791.32 L852.30,791.32 L864.82,791.13 L877.34,791.32 L889.86,791.32 L902.38,791.32" fill="none" stroke="#9df783" stroke-width="1.5" stroke-linejoin="round"/>
<circle cx="539.30" cy="791.70" r="2.9" fill="#9df783"/>
<circle cx="551.82" cy="791.70" r="2.9" fill="#9df783"/>
<circle cx="564.34" cy="791.32" r="2.9" fill="#9df783"/>
<circle cx="576.86" cy="791.32" r="2.9" fill="#9df783"/>
<circle cx="589.38" cy="791.32" r="2.9" fill="#9df783"/>
<circle cx="601.90" cy="791.13" r="2.9" fill="#9df783"/>
<circle cx="614.42" cy="790.76" r="2.9" fill="#9df783"/>
<circle cx="626.94" cy="790.57" r="2.9" fill="#9df783"/>
<circle cx="639.46" cy="790.76" r="2.9" fill="#9df783"/>
<circle cx="651.98" cy="790.57" r="2.9" fill="#9df783"/>
<circle cx="664.50" cy="790.76" r="2.9" fill="#9df783"/>
<circle cx="677.02" cy="790.76" r="2.9" fill="#9df783"/>
<circle cx="689.54" cy="790.76" r="2.9" fill="#9df783"/>
<circle cx="702.06" cy="790.57" r="2.9" fill="#9df783"/>
<circle cx="714.58" cy="790.57" r="2.9" fill="#9df783"/>
<circle cx="727.10" cy="790.57" r="2.9" fill="#9df783"/>
<circle cx="739.62" cy="790.76" r="2.9" fill="#9df783"/>
<circle cx="752.14" cy="790.76" r="2.9" fill="#9df783"/>
<circle cx="764.66" cy="790.95" r="2.9" fill="#9df783"/>
<circle cx="777.18" cy="790.95" r="2.9" fill="#9df783"/>
<circle cx="789.70" cy="790.95" r="2.9" fill="#9df783"/>
<circle cx="802.22" cy="790.76" r="2.9" fill="#9df783"/>
<circle cx="814.74" cy="790.95" r="2.9" fill="#9df783"/>
<circle cx="827.26" cy="790.95" r="2.9" fill="#9df783"/>
<circle cx="839.78" cy="791.32" r="2.9" fill="#9df783"/>
<circle cx="852.30" cy="791.32" r="2.9" fill="#9df783"/>
<circle cx="864.82" cy="791.13" r="2.9" fill="#9df783"/>
<circle cx="877.34" cy="791.32" r="2.9" fill="#9df783"/>
<circle cx="889.86" cy="791.32" r="2.9" fill="#9df783"/>
<circle cx="902.38" cy="791.32" r="2.9" fill="#9a9a9a"/></svg>
<div class="card" style="left:20.9px;top:596.25px;width:444.0px;height:237.0px;"></div>
<span class="t" style="top:611.00px;font-size:11.5px;font-weight:bold;right:946.35px;transform-origin:right center;transform:scaleX(0.8109);">חולים פעילים - גיל והתחסנות</span>
<div class="info" style="left:313.85px;top:610.10px;width:11.5px;height:11.5px"><b>i</b></div>
<div class="pill" style="left:284.3px;top:638.75px;width:169.34999999999997px;height:20.25px"></div>
<span class="t" style="top:643.00px;font-size:11px;right:956.40px;transform-origin:right center;transform:scaleX(0.8683);">חולים פעילים, ל-100 אלף תושבים</span>
<svg style="left:20.9px;top:596.25px" width="444.0" height="237.0" viewBox="20.9 596.25 444.0 237.0"><circle cx="37.50" cy="611.90" r="0.95" fill="#fff"/>
<circle cx="37.50" cy="615.10" r="0.95" fill="#fff"/>
<circle cx="37.50" cy="618.30" r="0.95" fill="#fff"/>
<path d="M294.90,648.07 L297.30,650.48 L299.70,648.07" fill="none" stroke="rgba(255,255,255,.6)" stroke-width=".9"/>
<circle cx="450.40" cy="672.10" r="3.4" fill="#2cd1db"/>
<text transform="translate(444.40,675.30) scale(0.7518,1)" text-anchor="end" font-size="10.5" >לא מחוסנים</text>
<circle cx="384.15" cy="672.10" r="3.4" fill="#ff7f67"/>
<text transform="translate(378.15,675.30) scale(0.7668,1)" text-anchor="end" font-size="10.5" >מחוסנים ללא דחף</text>
<circle cx="296.40" cy="672.10" r="3.4" fill="#9df783"/>
<text transform="translate(290.40,675.30) scale(0.7749,1)" text-anchor="end" font-size="10.5" >מחוסנים עם דחף</text>
<text transform="translate(58.80,673.60) scale(0.7150,1)" text-anchor="end" font-size="11.5" >שיעור</text>
<text transform="translate(58.80,683.25) scale(0.7150,1)" text-anchor="end" font-size="11.5" >חולים</text>
<text transform="translate(58.80,692.90) scale(0.7150,1)" text-anchor="end" font-size="11.5" >פעילים</text>
<line x1="75.40" x2="451.10" y1="779.70" y2="779.70" stroke="rgba(255,255,255,.33)" stroke-width="1"/>
<line x1="75.40" x2="451.10" y1="760.23" y2="760.23" stroke="rgba(255,255,255,.33)" stroke-width="1"/>
<line x1="75.40" x2="451.10" y1="740.75" y2="740.75" stroke="rgba(255,255,255,.33)" stroke-width="1"/>
<line x1="75.40" x2="451.10" y1="721.27" y2="721.27" stroke="rgba(255,255,255,.33)" stroke-width="1"/>
<line x1="75.40" x2="451.10" y1="701.80" y2="701.80" stroke="rgba(255,255,255,.33)" stroke-width="1"/>
<line x1="75.40" x2="75.40" y1="701.80" y2="779.70" stroke="rgba(255,255,255,.33)" stroke-width="1"/>
<line x1="112.97" x2="112.97" y1="701.80" y2="779.70" stroke="rgba(255,255,255,.33)" stroke-width="1"/>
<line x1="150.54" x2="150.54" y1="701.80" y2="779.70" stroke="rgba(255,255,255,.33)" stroke-width="1"/>
<line x1="188.11" x2="188.11" y1="701.80" y2="779.70" stroke="rgba(255,255,255,.33)" stroke-width="1"/>
<line x1="225.68" x2="225.68" y1="701.80" y2="779.70" stroke="rgba(255,255,255,.33)" stroke-width="1"/>
<line x1="263.25" x2="263.25" y1="701.80" y2="779.70" stroke="rgba(255,255,255,.33)" stroke-width="1"/>
<line x1="300.82" x2="300.82" y1="701.80" y2="779.70" stroke="rgba(255,255,255,.33)" stroke-width="1"/>
<line x1="338.39" x2="338.39" y1="701.80" y2="779.70" stroke="rgba(255,255,255,.33)" stroke-width="1"/>
<line x1="375.96" x2="375.96" y1="701.80" y2="779.70" stroke="rgba(255,255,255,.33)" stroke-width="1"/>
<line x1="413.53" x2="413.53" y1="701.80" y2="779.70" stroke="rgba(255,255,255,.33)" stroke-width="1"/>
<line x1="451.10" x2="451.10" y1="701.80" y2="779.70" stroke="rgba(255,255,255,.33)" stroke-width="1"/>
<text transform="translate(58.80,782.00) scale(0.9250,1)" text-anchor="end" font-size="9" >0</text>
<text transform="translate(58.80,762.52) scale(0.9250,1)" text-anchor="end" font-size="9" >500</text>
<text transform="translate(58.80,743.05) scale(0.9250,1)" text-anchor="end" font-size="9" >1,000</text>
<text transform="translate(58.80,723.57) scale(0.9250,1)" text-anchor="end" font-size="9" >1,500</text>
<text transform="translate(58.80,704.10) scale(0.9250,1)" text-anchor="end" font-size="9" >2,000</text>
<rect x="85.76" y="714.97" width="5.55" height="64.73" fill="#2cd1db" />
<rect x="91.31" y="771.05" width="5.55" height="8.65" fill="#ff7f67" />
<rect x="96.86" y="763.42" width="5.55" height="16.28" fill="#9df783" />
<line x1="94.19" x2="94.19" y1="779.7" y2="784.2" stroke="rgba(255,255,255,.42)"/>
<text transform="translate(96.39,788.20) rotate(-45) scale(0.9300,1)" text-anchor="end" font-size="9" >12-15</text>
<rect x="123.33" y="727.43" width="5.55" height="52.27" fill="#2cd1db" />
<rect x="128.88" y="744.72" width="5.55" height="34.98" fill="#ff7f67" />
<rect x="134.43" y="774.17" width="5.55" height="5.53" fill="#9df783" />
<line x1="131.76" x2="131.76" y1="779.7" y2="784.2" stroke="rgba(255,255,255,.42)"/>
<text transform="translate(133.96,788.20) rotate(-45) scale(0.9300,1)" text-anchor="end" font-size="9" >16-19</text>
<rect x="160.90" y="726.03" width="5.55" height="53.67" fill="#2cd1db" />
<rect x="166.45" y="741.26" width="5.55" height="38.44" fill="#ff7f67" />
<rect x="172.00" y="772.42" width="5.55" height="7.28" fill="#9df783" />
<line x1="169.33" x2="169.33" y1="779.7" y2="784.2" stroke="rgba(255,255,255,.42)"/>
<text transform="translate(171.53,788.20) rotate(-45) scale(0.9300,1)" text-anchor="end" font-size="9" >20-29</text>
<rect x="198.47" y="710.45" width="5.55" height="69.25" fill="#2cd1db" />
<rect x="204.02" y="738.14" width="5.55" height="41.56" fill="#ff7f67" />
<rect x="209.57" y="772.07" width="5.55" height="7.63" fill="#9df783" />
<line x1="206.90" x2="206.90" y1="779.7" y2="784.2" stroke="rgba(255,255,255,.42)"/>
<text transform="translate(209.10,788.20) rotate(-45) scale(0.9300,1)" text-anchor="end" font-size="9" >30-39</text>
<rect x="236.04" y="714.97" width="5.55" height="64.73" fill="#2cd1db" />
<rect x="241.59" y="744.72" width="5.55" height="34.98" fill="#ff7f67" />
<rect x="247.14" y="773.47" width="5.55" height="6.23" fill="#9df783" />
<line x1="244.47" x2="244.47" y1="779.7" y2="784.2" stroke="rgba(255,255,255,.42)"/>
<text transform="translate(246.67,788.20) rotate(-45) scale(0.9300,1)" text-anchor="end" font-size="9" >40-49</text>
<rect x="273.61" y="731.25" width="5.55" height="48.45" fill="#2cd1db" />
<rect x="279.16" y="754.07" width="5.55" height="25.63" fill="#ff7f67" />
<rect x="284.71" y="775.88" width="5.55" height="3.82" fill="#9df783" />
<line x1="282.04" x2="282.04" y1="779.7" y2="784.2" stroke="rgba(255,255,255,.42)"/>
<text transform="translate(284.24,788.20) rotate(-45) scale(0.9300,1)" text-anchor="end" font-size="9" >50-59</text>
<rect x="311.18" y="734.36" width="5.55" height="45.34" fill="#2cd1db" />
<rect x="316.73" y="757.19" width="5.55" height="22.51" fill="#ff7f67" />
<rect x="322.28" y="776.58" width="5.55" height="3.12" fill="#9df783" />
<line x1="319.61" x2="319.61" y1="779.7" y2="784.2" stroke="rgba(255,255,255,.42)"/>
<text transform="translate(321.81,788.20) rotate(-45) scale(0.9300,1)" text-anchor="end" font-size="9" >60-69</text>
<rect x="348.75" y="747.14" width="5.55" height="32.56" fill="#2cd1db" />
<rect x="354.30" y="755.82" width="5.55" height="23.88" fill="#ff7f67" />
<rect x="359.85" y="776.93" width="5.55" height="2.77" fill="#9df783" />
<line x1="357.18" x2="357.18" y1="779.7" y2="784.2" stroke="rgba(255,255,255,.42)"/>
<text transform="translate(359.38,788.20) rotate(-45) scale(0.9300,1)" text-anchor="end" font-size="9" >70-79</text>
<rect x="386.32" y="737.13" width="5.55" height="42.57" fill="#2cd1db" />
<rect x="391.87" y="749.94" width="5.55" height="29.76" fill="#ff7f67" />
<rect x="397.42" y="775.18" width="5.55" height="4.52" fill="#9df783" />
<line x1="394.75" x2="394.75" y1="779.7" y2="784.2" stroke="rgba(255,255,255,.42)"/>
<text transform="translate(396.95,788.20) rotate(-45) scale(0.9300,1)" text-anchor="end" font-size="9" >80-89</text>
<rect x="423.89" y="745.77" width="5.55" height="33.93" fill="#2cd1db" />
<rect x="429.44" y="753.06" width="5.55" height="26.64" fill="#ff7f67" />
<rect x="434.99" y="772.42" width="5.55" height="7.28" fill="#9df783" />
<line x1="432.32" x2="432.32" y1="779.7" y2="784.2" stroke="rgba(255,255,255,.42)"/>
<text transform="translate(434.52,788.20) rotate(-45) scale(0.9300,1)" text-anchor="end" font-size="9" >+90</text>
<text transform="translate(263.60,827.00) scale(0.7791,1)" text-anchor="middle" font-size="11.5" >קבוצת גיל</text></svg>
<div class="card" style="left:935.75px;top:847.75px;width:443.5px;height:235.0px;"></div>
<span class="t" style="top:864.00px;font-size:11.5px;font-weight:bold;right:38.10px;transform-origin:right center;transform:scaleX(0.8184);">ממוצע מאומתים שבועי</span>
<div class="info" style="left:1246.15px;top:862.60px;width:11.5px;height:11.5px"><b>i</b></div>
<div class="note" style="left:1145.7px;top:885.8px;width:216.20000000000005px;height:16.300000000000068px"></div>
<span class="t" style="top:891.00px;font-size:9px;right:54.70px;transform-origin:right center;transform:scaleX(0.7804);">מספר הנדבקים המצטבר כיום הינו</span>
<span class="t" style="top:891.00px;font-size:9px;font-weight:bold;right:157.60px;transform-origin:right center;transform:scaleX(0.7003);">כפול</span>
<span class="t" style="top:891.00px;font-size:9px;right:174.30px;transform-origin:right center;transform:scaleX(0.6144);">מהמספר</span>
<span class="t" style="top:891.00px;font-size:9px;font-weight:bold;right:198.90px;transform-origin:right center;transform:scaleX(0.8284);">לפני 234 ימים</span>
<svg style="left:935.75px;top:847.75px" width="443.5" height="235.0" viewBox="935.75 847.75 443.5 235.0"><circle cx="962.10" cy="868.90" r="9.6" fill="#2a3a47"/>
<path d="M962.10,865.50 V872.10 M959.50,869.60 L962.10,872.20 L964.70,869.60" fill="none" stroke="#fff" stroke-width="1.05" stroke-linecap="round" stroke-linejoin="round"/>
<circle cx="985.90" cy="868.90" r="9.6" fill="#2a3a47"/>
<path d="M988.80,865.80 L982.90,868.90 L988.80,872.00" fill="none" stroke="#fff" stroke-width=".95"/>
<circle cx="988.80" cy="865.80" r="1.55" fill="#fff"/>
<circle cx="982.90" cy="868.90" r="1.55" fill="#fff"/>
<circle cx="988.80" cy="872.00" r="1.55" fill="#fff"/>
<g transform="translate(1353.60,894.60)" stroke="#fff" stroke-width=".7" fill="none"><circle r="2.1" cy="-.4"/><path d="M-1,2 h2 M-.8,3.1 h1.6" /><path d="M0,-4.6 v-1.3 M3.2,-3.4 l.9,-.9 M-3.2,-3.4 l-.9,-.9 M4.4,-.4 h1.3 M-4.4,-.4 h-1.3" stroke-width=".6"/></g>
<text transform="translate(989.00,917.60) scale(0.7150,1)" text-anchor="end" font-size="11.5" >ממוצע</text>
<text transform="translate(989.00,927.25) scale(0.7150,1)" text-anchor="end" font-size="11.5" >מאומתים</text>
<rect x="1094.40" y="940.10" width="90.10" height="103.40" fill="rgba(255,255,255,.13)" />
<rect x="1274.60" y="940.10" width="90.10" height="103.40" fill="rgba(255,255,255,.16)" />
<line x1="1004.30" x2="1364.70" y1="1043.50" y2="1043.50" stroke="rgba(255,255,255,.3)" stroke-width="1"/>
<line x1="1004.30" x2="1364.70" y1="1022.82" y2="1022.82" stroke="rgba(255,255,255,.3)" stroke-width="1"/>
<line x1="1004.30" x2="1364.70" y1="1002.14" y2="1002.14" stroke="rgba(255,255,255,.3)" stroke-width="1"/>
<line x1="1004.30" x2="1364.70" y1="981.46" y2="981.46" stroke="rgba(255,255,255,.3)" stroke-width="1"/>
<line x1="1004.30" x2="1364.70" y1="960.78" y2="960.78" stroke="rgba(255,255,255,.3)" stroke-width="1"/>
<line x1="1004.30" x2="1364.70" y1="940.10" y2="940.10" stroke="rgba(255,255,255,.3)" stroke-width="1"/>
<text transform="translate(988.70,1045.80) scale(0.9250,1)" text-anchor="end" font-size="9" >0</text>
<text transform="translate(988.70,1025.12) scale(0.9250,1)" text-anchor="end" font-size="9" >2,000</text>
<text transform="translate(988.70,1004.44) scale(0.9250,1)" text-anchor="end" font-size="9" >4,000</text>
<text transform="translate(988.70,983.76) scale(0.9250,1)" text-anchor="end" font-size="9" >6,000</text>
<text transform="translate(988.70,963.08) scale(0.9250,1)" text-anchor="end" font-size="9" >8,000</text>
<text transform="translate(988.70,942.40) scale(0.9250,1)" text-anchor="end" font-size="9" >10,000</text>
<path d="M1004.3,953.48 H1094.40 V946.18 H1184.50 V962.59 H1274.60" fill="none" stroke="#9df783" stroke-width="1.5"/>
<path d="M1274.60,962.59 V964.03 H1364.70" fill="none" stroke="#b4b9bc" stroke-width="1.5"/>
<text transform="translate(1009.10,947.70) scale(0.8729,1)" text-anchor="start" font-size="9.5" >8,706</text>
<text transform="translate(1099.20,940.80) scale(0.8729,1)" text-anchor="start" font-size="9.5" >9,412</text>
<text transform="translate(1189.30,957.40) scale(0.8729,1)" text-anchor="start" font-size="9.5" >7,825</text>
<text transform="translate(1279.40,958.50) scale(0.8729,1)" text-anchor="start" font-size="9.5" >7,686</text>
<text transform="translate(1010.80,1057.40) scale(0.8156,1)" text-anchor="start" font-size="8.5" >22.08-28.08</text>
<text transform="translate(1100.90,1057.40) scale(0.8156,1)" text-anchor="start" font-size="8.5" >29.08-04.09</text>
<text transform="translate(1191.00,1057.40) scale(0.8271,1)" text-anchor="start" font-size="8.5" >05.09-11.09</text>
<text transform="translate(1281.10,1057.40) scale(0.7619,1)" text-anchor="start" font-size="8.5" >שבוע נוכחי</text></svg>
<div class="card" style="left:477.9px;top:847.75px;width:444.0px;height:235.0px;"></div>
<span class="t" style="top:864.00px;font-size:11.5px;font-weight:bold;right:495.40px;transform-origin:right center;transform:scaleX(0.8112);">תחקור תחלואה לאור אירועים והתחסנות</span>
<div class="info" style="left:716.95px;top:862.60px;width:11.5px;height:11.5px"><b>i</b></div>
<div class="pill" style="left:778px;top:883px;width:126.60000000000002px;height:22.200000000000045px"></div>
<span class="t" style="top:888.00px;font-size:10.5px;font-weight:bold;right:507.50px;transform-origin:right center;transform:scaleX(0.7764);">היום</span>
<svg style="left:477.9px;top:847.75px" width="444.0" height="235.0" viewBox="477.9 847.75 444.0 235.0"><rect x="535.25" y="1017.29" width="5.50" height="24.91" fill="#2cd1db" />
<rect x="544.16" y="1015.56" width="5.50" height="26.64" fill="#2cd1db" />
<rect x="553.08" y="1013.13" width="5.50" height="29.07" fill="#2cd1db" />
<rect x="562.00" y="1013.13" width="5.50" height="29.07" fill="#2cd1db" />
<rect x="570.91" y="1020.08" width="5.50" height="22.12" fill="#2cd1db" />
<rect x="579.83" y="1016.27" width="5.50" height="25.93" fill="#2cd1db" />
<rect x="588.74" y="994.45" width="5.50" height="47.75" fill="#2cd1db" />
<rect x="597.65" y="998.26" width="5.50" height="43.94" fill="#2cd1db" />
<rect x="606.57" y="997.21" width="5.50" height="44.99" fill="#2cd1db" />
<rect x="615.49" y="996.16" width="5.50" height="46.04" fill="#2cd1db" />
<rect x="624.40" y="997.58" width="5.50" height="44.62" fill="#2cd1db" />
<rect x="633.32" y="1010.36" width="5.50" height="31.84" fill="#2cd1db" />
<rect x="642.23" y="1003.11" width="5.50" height="39.09" fill="#2cd1db" />
<rect x="651.14" y="977.48" width="5.50" height="64.72" fill="#2cd1db" />
<rect x="660.06" y="982.71" width="5.50" height="59.49" fill="#2cd1db" />
<rect x="668.98" y="982.34" width="5.50" height="59.86" fill="#2cd1db" />
<rect x="677.89" y="983.76" width="5.50" height="58.44" fill="#2cd1db" />
<rect x="686.80" y="983.01" width="5.50" height="59.19" fill="#2cd1db" />
<rect x="695.72" y="1001.40" width="5.50" height="40.80" fill="#2cd1db" />
<rect x="704.63" y="992.73" width="5.50" height="49.47" fill="#2cd1db" />
<rect x="713.55" y="966.79" width="5.50" height="75.41" fill="#2cd1db" />
<rect x="722.46" y="966.79" width="5.50" height="75.41" fill="#2cd1db" />
<rect x="731.38" y="973.00" width="5.50" height="69.20" fill="#2cd1db" />
<rect x="740.29" y="975.09" width="5.50" height="67.11" fill="#2cd1db" />
<rect x="749.21" y="976.81" width="5.50" height="65.39" fill="#2cd1db" />
<rect x="758.12" y="987.57" width="5.50" height="54.63" fill="#2cd1db" />
<rect x="767.04" y="991.38" width="5.50" height="50.82" fill="#2cd1db" />
<rect x="775.95" y="958.80" width="5.50" height="83.40" fill="#2cd1db" />
<rect x="784.87" y="964.33" width="5.50" height="77.87" fill="#2cd1db" />
<rect x="793.78" y="957.75" width="5.50" height="84.45" fill="#2cd1db" />
<rect x="802.70" y="957.45" width="5.50" height="84.75" fill="#2cd1db" />
<rect x="811.62" y="968.51" width="5.50" height="73.69" fill="#2cd1db" />
<rect x="820.53" y="1004.46" width="5.50" height="37.74" fill="#2cd1db" />
<rect x="829.44" y="998.26" width="5.50" height="43.94" fill="#2cd1db" />
<rect x="838.36" y="961.26" width="5.50" height="80.94" fill="#2cd1db" />
<rect x="847.27" y="991.01" width="5.50" height="51.19" fill="#2cd1db" />
<rect x="856.19" y="1017.31" width="5.50" height="24.89" fill="#2cd1db" />
<rect x="865.11" y="983.01" width="5.50" height="59.19" fill="#2cd1db" />
<rect x="874.02" y="968.89" width="5.50" height="73.31" fill="#2cd1db" />
<rect x="882.93" y="966.05" width="5.50" height="76.15" fill="#2cd1db" />
<rect x="891.85" y="984.73" width="5.50" height="57.47" fill="#2cd1db" />
<rect x="900.76" y="1022.47" width="5.50" height="19.73" fill="#fff" />
<circle cx="504.40" cy="868.90" r="9.6" fill="#2a3a47"/>
<path d="M504.40,865.50 V872.10 M501.80,869.60 L504.40,872.20 L507.00,869.60" fill="none" stroke="#fff" stroke-width="1.05" stroke-linecap="round" stroke-linejoin="round"/>
<circle cx="528.20" cy="868.90" r="9.6" fill="#2a3a47"/>
<path d="M531.10,865.80 L525.20,868.90 L531.10,872.00" fill="none" stroke="#fff" stroke-width=".95"/>
<circle cx="531.10" cy="865.80" r="1.55" fill="#fff"/>
<circle cx="525.20" cy="868.90" r="1.55" fill="#fff"/>
<circle cx="531.10" cy="872.00" r="1.55" fill="#fff"/>
<path d="M785.60,893.30 L788.00,895.70 L790.40,893.30" fill="none" stroke="rgba(255,255,255,.6)" stroke-width=".9"/>
<circle cx="768.70" cy="894.10" r="3.4" fill="#ff7f67"/>
<text transform="translate(763.50,897.30) scale(0.8127,1)" text-anchor="end" font-size="11" >אחוז מתחסנים מצטבר</text>
<circle cx="663.50" cy="894.10" r="3.4" fill="#2cd1db"/>
<text transform="translate(658.30,897.30) scale(0.7633,1)" text-anchor="end" font-size="11" >מאומתים</text>
<text transform="translate(514.80,904.60) scale(0.7150,1)" text-anchor="end" font-size="11.5" >מאומתים</text>
<text transform="translate(514.80,914.25) scale(0.7150,1)" text-anchor="end" font-size="11.5" >יומי</text>
<line x1="533.80" x2="907.70" y1="1042.20" y2="1042.20" stroke="rgba(255,255,255,.42)" stroke-width="1"/>
<line x1="533.80" x2="907.70" y1="1019.78" y2="1019.78" stroke="rgba(255,255,255,.42)" stroke-width="1"/>
<line x1="533.80" x2="907.70" y1="997.36" y2="997.36" stroke="rgba(255,255,255,.42)" stroke-width="1"/>
<line x1="533.80" x2="907.70" y1="974.94" y2="974.94" stroke="rgba(255,255,255,.42)" stroke-width="1"/>
<line x1="533.80" x2="907.70" y1="952.52" y2="952.52" stroke="rgba(255,255,255,.42)" stroke-width="1"/>
<line x1="533.80" x2="907.70" y1="930.10" y2="930.10" stroke="rgba(255,255,255,.42)" stroke-width="1"/>
<text transform="translate(515.10,1044.50) scale(0.9250,1)" text-anchor="end" font-size="9" >0</text>
<text transform="translate(515.10,1022.08) scale(0.9250,1)" text-anchor="end" font-size="9" >3,000</text>
<text transform="translate(515.10,999.66) scale(0.9250,1)" text-anchor="end" font-size="9" >6,000</text>
<text transform="translate(515.10,977.24) scale(0.9250,1)" text-anchor="end" font-size="9" >9,000</text>
<text transform="translate(515.10,954.82) scale(0.9250,1)" text-anchor="end" font-size="9" >12,000</text>
<text transform="translate(515.10,932.40) scale(0.9250,1)" text-anchor="end" font-size="9" >15,000</text>
<line x1="533.8" x2="907.7" y1="975.6" y2="974.6" stroke="rgba(255,255,255,.55)" stroke-width="1" stroke-dasharray="3 2"/>
<circle cx="538.00" cy="975.80" r="2.3" fill="#ff7f67"/>
<circle cx="546.91" cy="975.77" r="2.3" fill="#ff7f67"/>
<circle cx="555.83" cy="975.75" r="2.3" fill="#ff7f67"/>
<circle cx="564.75" cy="975.72" r="2.3" fill="#ff7f67"/>
<circle cx="573.66" cy="975.69" r="2.3" fill="#ff7f67"/>
<circle cx="582.58" cy="975.67" r="2.3" fill="#ff7f67"/>
<circle cx="591.49" cy="975.64" r="2.3" fill="#ff7f67"/>
<circle cx="600.40" cy="975.61" r="2.3" fill="#ff7f67"/>
<circle cx="609.32" cy="975.59" r="2.3" fill="#ff7f67"/>
<circle cx="618.24" cy="975.56" r="2.3" fill="#ff7f67"/>
<circle cx="627.15" cy="975.53" r="2.3" fill="#ff7f67"/>
<circle cx="636.07" cy="975.50" r="2.3" fill="#ff7f67"/>
<circle cx="644.98" cy="975.48" r="2.3" fill="#ff7f67"/>
<circle cx="653.89" cy="975.45" r="2.3" fill="#ff7f67"/>
<circle cx="662.81" cy="975.42" r="2.3" fill="#ff7f67"/>
<circle cx="671.73" cy="975.40" r="2.3" fill="#ff7f67"/>
<circle cx="680.64" cy="975.37" r="2.3" fill="#ff7f67"/>
<circle cx="689.55" cy="975.34" r="2.3" fill="#ff7f67"/>
<circle cx="698.47" cy="975.32" r="2.3" fill="#ff7f67"/>
<circle cx="707.38" cy="975.29" r="2.3" fill="#ff7f67"/>
<circle cx="716.30" cy="975.26" r="2.3" fill="#ff7f67"/>
<circle cx="725.21" cy="975.24" r="2.3" fill="#ff7f67"/>
<circle cx="734.13" cy="975.21" r="2.3" fill="#ff7f67"/>
<circle cx="743.04" cy="975.18" r="2.3" fill="#ff7f67"/>
<circle cx="751.96" cy="975.16" r="2.3" fill="#ff7f67"/>
<circle cx="760.88" cy="975.13" r="2.3" fill="#ff7f67"/>
<circle cx="769.79" cy="975.10" r="2.3" fill="#ff7f67"/>
<circle cx="778.70" cy="975.08" r="2.3" fill="#ff7f67"/>
<circle cx="787.62" cy="975.05" r="2.3" fill="#ff7f67"/>
<circle cx="796.53" cy="975.02" r="2.3" fill="#ff7f67"/>
<circle cx="805.45" cy="975.00" r="2.3" fill="#ff7f67"/>
<circle cx="814.37" cy="974.97" r="2.3" fill="#ff7f67"/>
<circle cx="823.28" cy="974.94" r="2.3" fill="#ff7f67"/>
<circle cx="832.19" cy="974.91" r="2.3" fill="#ff7f67"/>
<circle cx="841.11" cy="974.89" r="2.3" fill="#ff7f67"/>
<circle cx="850.02" cy="974.86" r="2.3" fill="#ff7f67"/>
<circle cx="858.94" cy="974.83" r="2.3" fill="#ff7f67"/>
<circle cx="867.86" cy="974.81" r="2.3" fill="#ff7f67"/>
<circle cx="876.77" cy="974.78" r="2.3" fill="#ff7f67"/>
<circle cx="885.68" cy="974.75" r="2.3" fill="#ff7f67"/>
<circle cx="894.60" cy="974.73" r="2.3" fill="#ff7f67"/>
<circle cx="903.51" cy="974.70" r="2.3" fill="#d9d9d9"/>
<text transform="translate(538.00,968.10) scale(0.8152,1)" text-anchor="middle" font-size="8.5" font-weight="bold" >57.95%</text>
<text transform="translate(573.66,968.10) scale(0.8152,1)" text-anchor="middle" font-size="8.5" font-weight="bold" >58.05%</text>
<text transform="translate(609.32,968.10) scale(0.8152,1)" text-anchor="middle" font-size="8.5" font-weight="bold" >58.17%</text>
<text transform="translate(644.98,968.10) scale(0.8152,1)" text-anchor="middle" font-size="8.5" font-weight="bold" >58.28%</text>
<text transform="translate(680.64,968.10) scale(0.8152,1)" text-anchor="middle" font-size="8.5" font-weight="bold" >58.49%</text>
<text transform="translate(716.30,968.10) scale(0.8152,1)" text-anchor="middle" font-size="8.5" font-weight="bold" >58.63%</text>
<text transform="translate(751.96,968.10) scale(0.8152,1)" text-anchor="middle" font-size="8.5" font-weight="bold" >58.81%</text>
<text transform="translate(787.62,968.10) scale(0.8152,1)" text-anchor="middle" font-size="8.5" font-weight="bold" >59.03%</text>
<text transform="translate(823.28,968.10) scale(0.8152,1)" text-anchor="middle" font-size="8.5" font-weight="bold" >59.24%</text>
<text transform="translate(858.94,968.10) scale(0.8152,1)" text-anchor="middle" font-size="8.5" font-weight="bold" >59.35%</text>
<text transform="translate(894.60,968.10) scale(0.8152,1)" text-anchor="middle" font-size="8.5" font-weight="bold" >59.66%</text>
<line x1="538.00" x2="538.00" y1="1042.20" y2="1050.50" stroke="rgba(255,255,255,.42)" stroke-width="1"/>
<text transform="translate(538.00,1061.40) scale(0.9325,1)" text-anchor="middle" font-size="9" >03.08</text>
<line x1="573.66" x2="573.66" y1="1042.20" y2="1050.50" stroke="rgba(255,255,255,.42)" stroke-width="1"/>
<text transform="translate(573.66,1061.40) scale(0.9325,1)" text-anchor="middle" font-size="9" >07.08</text>
<line x1="609.32" x2="609.32" y1="1042.20" y2="1050.50" stroke="rgba(255,255,255,.42)" stroke-width="1"/>
<text transform="translate(609.32,1061.40) scale(0.9610,1)" text-anchor="middle" font-size="9" >11.08</text>
<line x1="644.98" x2="644.98" y1="1042.20" y2="1050.50" stroke="rgba(255,255,255,.42)" stroke-width="1"/>
<text transform="translate(644.98,1061.40) scale(0.9325,1)" text-anchor="middle" font-size="9" >15.08</text>
<line x1="680.64" x2="680.64" y1="1042.20" y2="1050.50" stroke="rgba(255,255,255,.42)" stroke-width="1"/>
<text transform="translate(680.64,1061.40) scale(0.9325,1)" text-anchor="middle" font-size="9" >19.08</text>
<line x1="716.30" x2="716.30" y1="1042.20" y2="1050.50" stroke="rgba(255,255,255,.42)" stroke-width="1"/>
<text transform="translate(716.30,1061.40) scale(0.9325,1)" text-anchor="middle" font-size="9" >23.08</text>
<line x1="751.96" x2="751.96" y1="1042.20" y2="1050.50" stroke="rgba(255,255,255,.42)" stroke-width="1"/>
<text transform="translate(751.96,1061.40) scale(0.9325,1)" text-anchor="middle" font-size="9" >27.08</text>
<line x1="787.62" x2="787.62" y1="1042.20" y2="1050.50" stroke="rgba(255,255,255,.42)" stroke-width="1"/>
<text transform="translate(787.62,1061.40) scale(0.9325,1)" text-anchor="middle" font-size="9" >31.08</text>
<line x1="823.28" x2="823.28" y1="1042.20" y2="1050.50" stroke="rgba(255,255,255,.42)" stroke-width="1"/>
<text transform="translate(823.28,1061.40) scale(0.9325,1)" text-anchor="middle" font-size="9" >04.09</text>
<line x1="858.94" x2="858.94" y1="1042.20" y2="1050.50" stroke="rgba(255,255,255,.42)" stroke-width="1"/>
<text transform="translate(858.94,1061.40) scale(0.9325,1)" text-anchor="middle" font-size="9" >08.09</text>
<line x1="894.60" x2="894.60" y1="1042.20" y2="1050.50" stroke="rgba(255,255,255,.42)" stroke-width="1"/>
<text transform="translate(894.60,1061.40) scale(0.9325,1)" text-anchor="middle" font-size="9" >12.09</text>
<text transform="translate(720.60,1076.70) scale(0.7679,1)" text-anchor="middle" font-size="11.5" >תאריך</text></svg>
<div class="card" style="left:20.9px;top:847.75px;width:444.0px;height:235.0px;"></div>
<span class="t" style="top:863.00px;font-size:11.5px;font-weight:bold;right:952.40px;transform-origin:right center;transform:scaleX(0.8093);">פילוח מדדים שונים על פי גיל ומין</span>
<div class="info" style="left:291.75px;top:862.10px;width:11.5px;height:11.5px"><b>i</b></div>
<div class="pill" style="left:369.8px;top:883px;width:77.80000000000001px;height:22.200000000000045px"></div>
<span class="t" style="top:888.00px;font-size:10.5px;font-weight:bold;right:964.50px;transform-origin:right center;transform:scaleX(0.7838);">מאומתים</span>
<div class="pill" style="left:287.8px;top:883px;width:77.19999999999999px;height:22.200000000000045px"></div>
<span class="t" style="top:888.00px;font-size:10.5px;font-weight:bold;right:1046.50px;transform-origin:right center;transform:scaleX(0.7686);">חודש אחרון</span>
<svg style="left:20.9px;top:847.75px" width="444.0" height="235.0" viewBox="20.9 847.75 444.0 235.0"><rect x="260.92" y="919.62" width="0.93" height="5.50" fill="#ff7f67" />
<rect x="261.85" y="919.62" width="0.93" height="5.50" fill="#2cd1db" />
<rect x="257.21" y="932.25" width="4.64" height="5.50" fill="#ff7f67" />
<rect x="261.85" y="932.25" width="2.79" height="5.50" fill="#2cd1db" />
<rect x="253.49" y="944.88" width="8.36" height="5.50" fill="#ff7f67" />
<rect x="261.85" y="944.88" width="6.50" height="5.50" fill="#2cd1db" />
<rect x="246.06" y="957.50" width="15.79" height="5.50" fill="#ff7f67" />
<rect x="261.85" y="957.50" width="13.93" height="5.50" fill="#2cd1db" />
<rect x="230.27" y="970.13" width="31.58" height="5.50" fill="#ff7f67" />
<rect x="261.85" y="970.13" width="24.15" height="5.50" fill="#2cd1db" />
<rect x="204.27" y="982.76" width="57.58" height="5.50" fill="#ff7f67" />
<rect x="261.85" y="982.76" width="44.58" height="5.50" fill="#2cd1db" />
<rect x="183.84" y="995.39" width="78.02" height="5.50" fill="#ff7f67" />
<rect x="261.85" y="995.39" width="58.51" height="5.50" fill="#2cd1db" />
<rect x="182.91" y="1008.02" width="78.94" height="5.50" fill="#ff7f67" />
<rect x="261.85" y="1008.02" width="62.23" height="5.50" fill="#2cd1db" />
<rect x="158.76" y="1020.65" width="103.09" height="5.50" fill="#ff7f67" />
<rect x="261.85" y="1020.65" width="91.02" height="5.50" fill="#2cd1db" />
<rect x="140.18" y="1033.29" width="121.67" height="5.50" fill="#ff7f67" />
<rect x="261.85" y="1033.29" width="124.45" height="5.50" fill="#2cd1db" />
<circle cx="47.40" cy="868.90" r="9.6" fill="#2a3a47"/>
<path d="M47.40,865.50 V872.10 M44.80,869.60 L47.40,872.20 L50.00,869.60" fill="none" stroke="#fff" stroke-width="1.05" stroke-linecap="round" stroke-linejoin="round"/>
<circle cx="71.20" cy="868.90" r="9.6" fill="#2a3a47"/>
<path d="M74.10,865.80 L68.20,868.90 L74.10,872.00" fill="none" stroke="#fff" stroke-width=".95"/>
<circle cx="74.10" cy="865.80" r="1.55" fill="#fff"/>
<circle cx="68.20" cy="868.90" r="1.55" fill="#fff"/>
<circle cx="74.10" cy="872.00" r="1.55" fill="#fff"/>
<path d="M377.80,893.30 L380.20,895.70 L382.60,893.30" fill="none" stroke="rgba(255,255,255,.6)" stroke-width=".9"/>
<path d="M295.80,893.30 L298.20,895.70 L300.60,893.30" fill="none" stroke="rgba(255,255,255,.6)" stroke-width=".9"/>
<circle cx="278.80" cy="893.60" r="3.4" fill="#2cd1db"/>
<text transform="translate(274.00,896.80) scale(0.7903,1)" text-anchor="end" font-size="11" >גברים</text>
<circle cx="237.00" cy="893.60" r="3.4" fill="#ff7f67"/>
<text transform="translate(232.20,896.80) scale(0.8562,1)" text-anchor="end" font-size="11" >נשים</text>
<text transform="translate(60.20,902.40) scale(0.7150,1)" text-anchor="end" font-size="11.5" >קבוצת</text>
<text transform="translate(60.20,912.05) scale(0.7150,1)" text-anchor="end" font-size="11.5" >גיל</text>
<line x1="76.10" x2="447.60" y1="915.90" y2="915.90" stroke="rgba(255,255,255,.33)" stroke-width="1"/>
<line x1="76.10" x2="447.60" y1="928.53" y2="928.53" stroke="rgba(255,255,255,.33)" stroke-width="1"/>
<line x1="76.10" x2="447.60" y1="941.16" y2="941.16" stroke="rgba(255,255,255,.33)" stroke-width="1"/>
<line x1="76.10" x2="447.60" y1="953.79" y2="953.79" stroke="rgba(255,255,255,.33)" stroke-width="1"/>
<line x1="76.10" x2="447.60" y1="966.42" y2="966.42" stroke="rgba(255,255,255,.33)" stroke-width="1"/>
<line x1="76.10" x2="447.60" y1="979.05" y2="979.05" stroke="rgba(255,255,255,.33)" stroke-width="1"/>
<line x1="76.10" x2="447.60" y1="991.68" y2="991.68" stroke="rgba(255,255,255,.33)" stroke-width="1"/>
<line x1="76.10" x2="447.60" y1="1004.31" y2="1004.31" stroke="rgba(255,255,255,.33)" stroke-width="1"/>
<line x1="76.10" x2="447.60" y1="1016.94" y2="1016.94" stroke="rgba(255,255,255,.33)" stroke-width="1"/>
<line x1="76.10" x2="447.60" y1="1029.57" y2="1029.57" stroke="rgba(255,255,255,.33)" stroke-width="1"/>
<line x1="76.10" x2="447.60" y1="1042.20" y2="1042.20" stroke="rgba(255,255,255,.33)" stroke-width="1"/>
<line x1="76.10" x2="76.10" y1="915.90" y2="1042.20" stroke="rgba(255,255,255,.33)" stroke-width="1"/>
<line x1="168.97" x2="168.97" y1="915.90" y2="1042.20" stroke="rgba(255,255,255,.33)" stroke-width="1"/>
<line x1="354.73" x2="354.73" y1="915.90" y2="1042.20" stroke="rgba(255,255,255,.33)" stroke-width="1"/>
<line x1="447.60" x2="447.60" y1="915.90" y2="1042.20" stroke="rgba(255,255,255,.33)" stroke-width="1"/>
<text transform="translate(60.20,925.42) scale(0.9300,1)" text-anchor="end" font-size="9" >+90</text>
<text transform="translate(257.42,925.51) scale(0.8900,1)" text-anchor="end" font-size="9.5" >0.1%</text>
<text transform="translate(266.28,925.51) scale(0.8900,1)" text-anchor="start" font-size="9.5" >0.1%</text>
<text transform="translate(60.20,938.05) scale(0.9300,1)" text-anchor="end" font-size="9" >80-89</text>
<text transform="translate(253.71,938.14) scale(0.8900,1)" text-anchor="end" font-size="9.5" >0.5%</text>
<text transform="translate(268.14,938.14) scale(0.8900,1)" text-anchor="start" font-size="9.5" >0.3%</text>
<text transform="translate(60.20,950.68) scale(0.9300,1)" text-anchor="end" font-size="9" >70-79</text>
<text transform="translate(249.99,950.77) scale(0.8900,1)" text-anchor="end" font-size="9.5" >0.9%</text>
<text transform="translate(271.85,950.77) scale(0.8900,1)" text-anchor="start" font-size="9.5" >0.7%</text>
<text transform="translate(60.20,963.31) scale(0.9300,1)" text-anchor="end" font-size="9" >60-69</text>
<text transform="translate(242.56,963.40) scale(0.8900,1)" text-anchor="end" font-size="9.5" >1.7%</text>
<text transform="translate(279.28,963.40) scale(0.8900,1)" text-anchor="start" font-size="9.5" >1.5%</text>
<text transform="translate(60.20,975.94) scale(0.9300,1)" text-anchor="end" font-size="9" >50-59</text>
<text transform="translate(226.77,976.03) scale(0.8900,1)" text-anchor="end" font-size="9.5" >3.4%</text>
<text transform="translate(289.50,976.03) scale(0.8900,1)" text-anchor="start" font-size="9.5" >2.6%</text>
<text transform="translate(60.20,988.57) scale(0.9300,1)" text-anchor="end" font-size="9" >40-49</text>
<text transform="translate(200.77,988.66) scale(0.8900,1)" text-anchor="end" font-size="9.5" >6.2%</text>
<text transform="translate(309.93,988.66) scale(0.8900,1)" text-anchor="start" font-size="9.5" >4.8%</text>
<text transform="translate(60.20,1001.20) scale(0.9300,1)" text-anchor="end" font-size="9" >30-39</text>
<text transform="translate(180.34,1001.29) scale(0.8900,1)" text-anchor="end" font-size="9.5" >8.4%</text>
<text transform="translate(323.86,1001.29) scale(0.8900,1)" text-anchor="start" font-size="9.5" >6.3%</text>
<text transform="translate(60.20,1013.83) scale(0.9300,1)" text-anchor="end" font-size="9" >20-29</text>
<text transform="translate(179.41,1013.92) scale(0.8900,1)" text-anchor="end" font-size="9.5" >8.5%</text>
<text transform="translate(327.58,1013.92) scale(0.8900,1)" text-anchor="start" font-size="9.5" >6.7%</text>
<text transform="translate(60.20,1026.45) scale(0.9300,1)" text-anchor="end" font-size="9" >10-19</text>
<text transform="translate(155.26,1026.56) scale(0.8900,1)" text-anchor="end" font-size="9.5" >11.1%</text>
<text transform="translate(356.37,1026.56) scale(0.8900,1)" text-anchor="start" font-size="9.5" >9.8%</text>
<text transform="translate(60.20,1039.09) scale(0.9300,1)" text-anchor="end" font-size="9" >0-9</text>
<text transform="translate(136.68,1039.18) scale(0.8900,1)" text-anchor="end" font-size="9.5" >13.1%</text>
<text transform="translate(389.80,1039.18) scale(0.8900,1)" text-anchor="start" font-size="9.5" >13.4%</text>
<line x1="261.85" x2="261.85" y1="915.90" y2="1042.20" stroke="#f4f4f4" stroke-width="1.1"/>
<text transform="translate(76.10,1055.00) scale(0.9000,1)" text-anchor="middle" font-size="9" >20%</text>
<text transform="translate(168.97,1055.00) scale(0.9000,1)" text-anchor="middle" font-size="9" >10%</text>
<text transform="translate(261.85,1055.00) scale(0.9000,1)" text-anchor="middle" font-size="9" >0%</text>
<text transform="translate(354.73,1055.00) scale(0.9000,1)" text-anchor="middle" font-size="9" >10%</text>
<text transform="translate(447.60,1055.00) scale(0.9000,1)" text-anchor="middle" font-size="9" >20%</text>
<text transform="translate(261.50,1071.60) scale(0.7842,1)" text-anchor="middle" font-size="11.5" direction="rtl" unicode-bidi="plaintext">% סה"כ</text></svg>
<div class="sep" style="top:1107.75px"></div>
<span class="t" style="top:1115.00px;font-size:14.5px;font-weight:bold;right:24.75px;transform-origin:right center;transform:scaleX(0.8240);">חיסונים</span>
<div class="card" style="left:935.75px;top:1140.75px;width:443.5px;height:235.0px;"></div>
<span class="t" style="top:1157.00px;font-size:11.5px;font-weight:bold;right:38.10px;transform-origin:right center;transform:scaleX(0.8031);">מספר התחסנויות - יומי</span>
<div class="info" style="left:1245.45px;top:1155.80px;width:11.5px;height:11.5px"><b>i</b></div>
<div class="pill" style="left:1264.4px;top:1176.6px;width:97.5px;height:22.200000000000045px"></div>
<span class="t" style="top:1182.00px;font-size:10.5px;font-weight:bold;right:49.80px;transform-origin:right center;transform:scaleX(0.7814);">חודש אחרון</span>
<svg style="left:935.75px;top:1140.75px" width="443.5" height="235.0" viewBox="935.75 1140.75 443.5 235.0"><rect x="994.00" y="1276.25" width="5.20" height="58.85" fill="#2cd1db" />
<rect x="994.00" y="1329.20" width="5.20" height="2.41" fill="#ff7f67" />
<rect x="994.00" y="1331.61" width="5.20" height="3.49" fill="#9df783" />
<rect x="1006.48" y="1281.13" width="5.20" height="53.97" fill="#2cd1db" />
<rect x="1006.48" y="1329.47" width="5.20" height="2.15" fill="#ff7f67" />
<rect x="1006.48" y="1331.61" width="5.20" height="3.49" fill="#9df783" />
<rect x="1018.96" y="1283.86" width="5.20" height="51.24" fill="#2cd1db" />
<rect x="1018.96" y="1329.20" width="5.20" height="2.15" fill="#ff7f67" />
<rect x="1018.96" y="1331.34" width="5.20" height="3.76" fill="#9df783" />
<rect x="1031.44" y="1291.16" width="5.20" height="43.94" fill="#2cd1db" />
<rect x="1031.44" y="1328.66" width="5.20" height="2.15" fill="#ff7f67" />
<rect x="1031.44" y="1330.81" width="5.20" height="4.29" fill="#9df783" />
<rect x="1043.92" y="1291.86" width="5.20" height="43.24" fill="#2cd1db" />
<rect x="1043.92" y="1327.32" width="5.20" height="2.41" fill="#ff7f67" />
<rect x="1043.92" y="1329.73" width="5.20" height="5.36" fill="#9df783" />
<rect x="1056.40" y="1298.78" width="5.20" height="36.32" fill="#2cd1db" />
<rect x="1056.40" y="1331.29" width="5.20" height="1.39" fill="#ff7f67" />
<rect x="1056.40" y="1332.69" width="5.20" height="2.41" fill="#9df783" />
<rect x="1068.88" y="1305.32" width="5.20" height="29.78" fill="#2cd1db" />
<rect x="1068.88" y="1332.42" width="5.20" height="1.07" fill="#ff7f67" />
<rect x="1068.88" y="1333.49" width="5.20" height="1.61" fill="#9df783" />
<rect x="1081.36" y="1271.10" width="5.20" height="64.00" fill="#2cd1db" />
<rect x="1081.36" y="1327.86" width="5.20" height="2.41" fill="#ff7f67" />
<rect x="1081.36" y="1330.27" width="5.20" height="4.83" fill="#9df783" />
<rect x="1093.84" y="1276.62" width="5.20" height="58.48" fill="#2cd1db" />
<rect x="1093.84" y="1327.32" width="5.20" height="2.41" fill="#ff7f67" />
<rect x="1093.84" y="1329.73" width="5.20" height="5.36" fill="#9df783" />
<rect x="1106.32" y="1273.51" width="5.20" height="61.59" fill="#2cd1db" />
<rect x="1106.32" y="1326.78" width="5.20" height="2.41" fill="#ff7f67" />
<rect x="1106.32" y="1329.20" width="5.20" height="5.90" fill="#9df783" />
<rect x="1118.80" y="1274.21" width="5.20" height="60.89" fill="#2cd1db" />
<rect x="1118.80" y="1327.86" width="5.20" height="2.41" fill="#ff7f67" />
<rect x="1118.80" y="1330.27" width="5.20" height="4.83" fill="#9df783" />
<rect x="1131.28" y="1272.81" width="5.20" height="62.29" fill="#2cd1db" />
<rect x="1131.28" y="1327.59" width="5.20" height="2.68" fill="#ff7f67" />
<rect x="1131.28" y="1330.27" width="5.20" height="4.83" fill="#9df783" />
<rect x="1143.76" y="1301.19" width="5.20" height="33.91" fill="#2cd1db" />
<rect x="1143.76" y="1331.29" width="5.20" height="1.39" fill="#ff7f67" />
<rect x="1143.76" y="1332.69" width="5.20" height="2.41" fill="#9df783" />
<rect x="1156.24" y="1314.71" width="5.20" height="20.39" fill="#2cd1db" />
<rect x="1156.24" y="1332.42" width="5.20" height="1.07" fill="#ff7f67" />
<rect x="1156.24" y="1333.49" width="5.20" height="1.61" fill="#9df783" />
<rect x="1168.72" y="1283.86" width="5.20" height="51.24" fill="#2cd1db" />
<rect x="1168.72" y="1327.21" width="5.20" height="2.68" fill="#ff7f67" />
<rect x="1168.72" y="1329.90" width="5.20" height="5.20" fill="#9df783" />
<rect x="1181.20" y="1262.78" width="5.20" height="72.32" fill="#2cd1db" />
<rect x="1181.20" y="1325.17" width="5.20" height="3.49" fill="#ff7f67" />
<rect x="1181.20" y="1328.66" width="5.20" height="6.44" fill="#9df783" />
<rect x="1193.68" y="1263.80" width="5.20" height="71.30" fill="#2cd1db" />
<rect x="1193.68" y="1325.39" width="5.20" height="3.49" fill="#ff7f67" />
<rect x="1193.68" y="1328.88" width="5.20" height="6.22" fill="#9df783" />
<rect x="1206.16" y="1267.29" width="5.20" height="67.81" fill="#2cd1db" />
<rect x="1206.16" y="1327.11" width="5.20" height="3.49" fill="#ff7f67" />
<rect x="1206.16" y="1330.59" width="5.20" height="4.51" fill="#9df783" />
<rect x="1218.64" y="1266.96" width="5.20" height="68.14" fill="#2cd1db" />
<rect x="1218.64" y="1326.46" width="5.20" height="4.13" fill="#ff7f67" />
<rect x="1218.64" y="1330.59" width="5.20" height="4.51" fill="#9df783" />
<rect x="1231.12" y="1299.48" width="5.20" height="35.62" fill="#2cd1db" />
<rect x="1231.12" y="1330.97" width="5.20" height="1.72" fill="#ff7f67" />
<rect x="1231.12" y="1332.69" width="5.20" height="2.41" fill="#9df783" />
<rect x="1243.60" y="1316.75" width="5.20" height="18.35" fill="#2cd1db" />
<rect x="1243.60" y="1332.69" width="5.20" height="1.07" fill="#ff7f67" />
<rect x="1243.60" y="1333.76" width="5.20" height="1.34" fill="#9df783" />
<rect x="1256.08" y="1288.75" width="5.20" height="46.35" fill="#2cd1db" />
<rect x="1256.08" y="1328.13" width="5.20" height="3.49" fill="#ff7f67" />
<rect x="1256.08" y="1331.61" width="5.20" height="3.49" fill="#9df783" />
<rect x="1268.56" y="1320.24" width="5.20" height="14.86" fill="#2cd1db" />
<rect x="1268.56" y="1332.10" width="5.20" height="1.39" fill="#ff7f67" />
<rect x="1268.56" y="1333.49" width="5.20" height="1.61" fill="#9df783" />
<rect x="1281.04" y="1331.29" width="5.20" height="3.81" fill="#2cd1db" />
<rect x="1281.04" y="1334.03" width="5.20" height="0.38" fill="#ff7f67" />
<rect x="1281.04" y="1334.40" width="5.20" height="0.70" fill="#9df783" />
<rect x="1293.52" y="1330.59" width="5.20" height="4.51" fill="#2cd1db" />
<rect x="1293.52" y="1333.65" width="5.20" height="0.38" fill="#ff7f67" />
<rect x="1293.52" y="1334.03" width="5.20" height="1.07" fill="#9df783" />
<rect x="1306.00" y="1285.26" width="5.20" height="49.84" fill="#2cd1db" />
<rect x="1306.00" y="1325.17" width="5.20" height="6.44" fill="#ff7f67" />
<rect x="1306.00" y="1331.61" width="5.20" height="3.49" fill="#9df783" />
<rect x="1318.48" y="1310.85" width="5.20" height="24.25" fill="#2cd1db" />
<rect x="1318.48" y="1330.81" width="5.20" height="2.68" fill="#ff7f67" />
<rect x="1318.48" y="1333.49" width="5.20" height="1.61" fill="#9df783" />
<rect x="1330.96" y="1325.07" width="5.20" height="10.03" fill="#2cd1db" />
<rect x="1330.96" y="1332.36" width="5.20" height="1.39" fill="#ff7f67" />
<rect x="1330.96" y="1333.76" width="5.20" height="1.34" fill="#9df783" />
<rect x="1343.44" y="1298.40" width="5.20" height="36.70" fill="#2cd1db" />
<rect x="1343.44" y="1327.48" width="5.20" height="4.51" fill="#ff7f67" />
<rect x="1343.44" y="1331.99" width="5.20" height="3.11" fill="#9df783" />
<circle cx="962.10" cy="1162.10" r="9.6" fill="#2a3a47"/>
<path d="M962.10,1158.70 V1165.30 M959.50,1162.80 L962.10,1165.40 L964.70,1162.80" fill="none" stroke="#fff" stroke-width="1.05" stroke-linecap="round" stroke-linejoin="round"/>
<circle cx="985.90" cy="1162.10" r="9.6" fill="#2a3a47"/>
<path d="M988.80,1159.00 L982.90,1162.10 L988.80,1165.20" fill="none" stroke="#fff" stroke-width=".95"/>
<circle cx="988.80" cy="1159.00" r="1.55" fill="#fff"/>
<circle cx="982.90" cy="1162.10" r="1.55" fill="#fff"/>
<circle cx="988.80" cy="1165.20" r="1.55" fill="#fff"/>
<path d="M1271.60,1186.90 L1274.00,1189.30 L1276.40,1186.90" fill="none" stroke="rgba(255,255,255,.6)" stroke-width=".9"/>
<circle cx="1254.70" cy="1189.40" r="3.4" fill="#9df783"/>
<text transform="translate(1249.50,1192.60) scale(0.8148,1)" text-anchor="end" font-size="11" >מנה 1</text>
<circle cx="1210.80" cy="1189.40" r="3.4" fill="#ff7f67"/>
<text transform="translate(1205.60,1192.60) scale(0.8291,1)" text-anchor="end" font-size="11" >מנה 2</text>
<circle cx="1167.50" cy="1189.40" r="3.4" fill="#2cd1db"/>
<text transform="translate(1162.30,1192.60) scale(0.8398,1)" text-anchor="end" font-size="11" >מנה 3</text>
<text transform="translate(973.80,1202.00) scale(0.7150,1)" text-anchor="end" font-size="11.5" >מספר</text>
<text transform="translate(973.80,1211.65) scale(0.7150,1)" text-anchor="end" font-size="11.5" >מתחסנים</text>
<line x1="990.40" x2="1364.70" y1="1335.10" y2="1335.10" stroke="rgba(255,255,255,.42)" stroke-width="1"/>
<line x1="990.40" x2="1364.70" y1="1308.27" y2="1308.27" stroke="rgba(255,255,255,.42)" stroke-width="1"/>
<line x1="990.40" x2="1364.70" y1="1281.45" y2="1281.45" stroke="rgba(255,255,255,.42)" stroke-width="1"/>
<line x1="990.40" x2="1364.70" y1="1254.62" y2="1254.62" stroke="rgba(255,255,255,.42)" stroke-width="1"/>
<line x1="990.40" x2="1364.70" y1="1227.80" y2="1227.80" stroke="rgba(255,255,255,.42)" stroke-width="1"/>
<text transform="translate(973.80,1337.40) scale(0.9250,1)" text-anchor="end" font-size="9" >0</text>
<text transform="translate(973.80,1310.57) scale(0.9250,1)" text-anchor="end" font-size="9" >50,000</text>
<text transform="translate(973.80,1283.75) scale(0.9250,1)" text-anchor="end" font-size="9" >100,000</text>
<text transform="translate(973.80,1256.92) scale(0.9250,1)" text-anchor="end" font-size="9" >150,000</text>
<text transform="translate(973.80,1230.10) scale(0.9250,1)" text-anchor="end" font-size="9" >200,000</text>
<line x1="996.60" x2="996.60" y1="1335.10" y2="1343.40" stroke="rgba(255,255,255,.42)" stroke-width="1"/>
<text transform="translate(996.60,1354.30) scale(0.9148,1)" text-anchor="middle" font-size="9" >15.08</text>
<line x1="1034.04" x2="1034.04" y1="1335.10" y2="1343.40" stroke="rgba(255,255,255,.42)" stroke-width="1"/>
<text transform="translate(1034.04,1354.30) scale(0.9148,1)" text-anchor="middle" font-size="9" >18.08</text>
<line x1="1071.48" x2="1071.48" y1="1335.10" y2="1343.40" stroke="rgba(255,255,255,.42)" stroke-width="1"/>
<text transform="translate(1071.48,1354.30) scale(0.9148,1)" text-anchor="middle" font-size="9" >21.08</text>
<line x1="1108.92" x2="1108.92" y1="1335.10" y2="1343.40" stroke="rgba(255,255,255,.42)" stroke-width="1"/>
<text transform="translate(1108.92,1354.30) scale(0.9148,1)" text-anchor="middle" font-size="9" >24.08</text>
<line x1="1146.36" x2="1146.36" y1="1335.10" y2="1343.40" stroke="rgba(255,255,255,.42)" stroke-width="1"/>
<text transform="translate(1146.36,1354.30) scale(0.9148,1)" text-anchor="middle" font-size="9" >27.08</text>
<line x1="1183.80" x2="1183.80" y1="1335.10" y2="1343.40" stroke="rgba(255,255,255,.42)" stroke-width="1"/>
<text transform="translate(1183.80,1354.30) scale(0.9148,1)" text-anchor="middle" font-size="9" >30.08</text>
<line x1="1221.24" x2="1221.24" y1="1335.10" y2="1343.40" stroke="rgba(255,255,255,.42)" stroke-width="1"/>
<text transform="translate(1221.24,1354.30) scale(0.9148,1)" text-anchor="middle" font-size="9" >02.09</text>
<line x1="1258.68" x2="1258.68" y1="1335.10" y2="1343.40" stroke="rgba(255,255,255,.42)" stroke-width="1"/>
<text transform="translate(1258.68,1354.30) scale(0.9148,1)" text-anchor="middle" font-size="9" >05.09</text>
<line x1="1296.12" x2="1296.12" y1="1335.10" y2="1343.40" stroke="rgba(255,255,255,.42)" stroke-width="1"/>
<text transform="translate(1296.12,1354.30) scale(0.9148,1)" text-anchor="middle" font-size="9" >08.09</text>
<line x1="1333.56" x2="1333.56" y1="1335.10" y2="1343.40" stroke="rgba(255,255,255,.42)" stroke-width="1"/>
<text transform="translate(1333.56,1354.30) scale(0.9427,1)" text-anchor="middle" font-size="9" >11.09</text>
<text transform="translate(1177.30,1369.60) scale(0.7679,1)" text-anchor="middle" font-size="11.5" >תאריך</text></svg>
<div class="card" style="left:477.9px;top:1140.75px;width:444.0px;height:235.0px;"></div>
<span class="t" style="top:1157.00px;font-size:11.5px;font-weight:bold;right:495.40px;transform-origin:right center;transform:scaleX(0.7971);">מספר מתחסנים מצטבר</span>
<div class="info" style="left:785.75px;top:1155.80px;width:11.5px;height:11.5px"><b>i</b></div>
<div class="pill" style="left:807px;top:1176.6px;width:97.60000000000002px;height:22.200000000000045px"></div>
<span class="t" style="top:1182.00px;font-size:10.5px;font-weight:bold;right:507.50px;transform-origin:right center;transform:scaleX(0.7496);">מספר</span>
<div class="pill" style="left:704.7px;top:1176.6px;width:97.5px;height:22.200000000000045px"></div>
<span class="t" style="top:1182.00px;font-size:10.5px;font-weight:bold;right:609.50px;transform-origin:right center;transform:scaleX(0.7814);">חודש אחרון</span>
<svg style="left:477.9px;top:1140.75px" width="444.0" height="235.0" viewBox="477.9 1140.75 444.0 235.0"><defs><linearGradient id="ggr" x1="0" x2="0" y1="1239.8142857142857" y2="1335.3" gradientUnits="userSpaceOnUse"><stop offset="0" stop-color="#9df783" stop-opacity=".72"/><stop offset="1" stop-color="#9df783" stop-opacity=".05"/></linearGradient><linearGradient id="gco" x1="0" x2="0" y1="1247.7714285714287" y2="1335.3" gradientUnits="userSpaceOnUse"><stop offset="0" stop-color="#ff7f67" stop-opacity=".7"/><stop offset="1" stop-color="#ff7f67" stop-opacity=".12"/></linearGradient><linearGradient id="gcy" x1="0" x2="0" y1="1289.1485714285714" y2="1335.3" gradientUnits="userSpaceOnUse"><stop offset="0" stop-color="#3cc9d0" stop-opacity=".78"/><stop offset="1" stop-color="#2f8a99" stop-opacity=".45"/></linearGradient></defs><circle cx="504.40" cy="1162.10" r="9.6" fill="#2a3a47"/>
<path d="M504.40,1158.70 V1165.30 M501.80,1162.80 L504.40,1165.40 L507.00,1162.80" fill="none" stroke="#fff" stroke-width="1.05" stroke-linecap="round" stroke-linejoin="round"/>
<circle cx="528.20" cy="1162.10" r="9.6" fill="#2a3a47"/>
<path d="M531.10,1159.00 L525.20,1162.10 L531.10,1165.20" fill="none" stroke="#fff" stroke-width=".95"/>
<circle cx="531.10" cy="1159.00" r="1.55" fill="#fff"/>
<circle cx="525.20" cy="1162.10" r="1.55" fill="#fff"/>
<circle cx="531.10" cy="1165.20" r="1.55" fill="#fff"/>
<path d="M814.00,1186.90 L816.40,1189.30 L818.80,1186.90" fill="none" stroke="rgba(255,255,255,.6)" stroke-width=".9"/>
<path d="M711.60,1186.90 L714.00,1189.30 L716.40,1186.90" fill="none" stroke="rgba(255,255,255,.6)" stroke-width=".9"/>
<circle cx="695.30" cy="1189.60" r="3.4" fill="#9df783"/>
<text transform="translate(690.10,1192.80) scale(0.8148,1)" text-anchor="end" font-size="11" >מנה 1</text>
<circle cx="651.40" cy="1189.60" r="3.4" fill="#ff7f67"/>
<text transform="translate(646.20,1192.80) scale(0.8291,1)" text-anchor="end" font-size="11" >מנה 2</text>
<circle cx="607.50" cy="1189.60" r="3.4" fill="#2cd1db"/>
<text transform="translate(602.30,1192.80) scale(0.8398,1)" text-anchor="end" font-size="11" >מנה 3</text>
<text transform="translate(520.00,1198.60) scale(0.7150,1)" text-anchor="end" font-size="11.5" >מספר</text>
<text transform="translate(520.00,1208.25) scale(0.7150,1)" text-anchor="end" font-size="11.5" >מתחסנים</text>
<line x1="533.80" x2="907.70" y1="1335.30" y2="1335.30" stroke="rgba(255,255,255,.42)" stroke-width="1"/>
<line x1="533.80" x2="907.70" y1="1324.16" y2="1324.16" stroke="rgba(255,255,255,.42)" stroke-width="1"/>
<line x1="533.80" x2="907.70" y1="1313.02" y2="1313.02" stroke="rgba(255,255,255,.42)" stroke-width="1"/>
<line x1="533.80" x2="907.70" y1="1301.88" y2="1301.88" stroke="rgba(255,255,255,.42)" stroke-width="1"/>
<line x1="533.80" x2="907.70" y1="1290.74" y2="1290.74" stroke="rgba(255,255,255,.42)" stroke-width="1"/>
<line x1="533.80" x2="907.70" y1="1279.60" y2="1279.60" stroke="rgba(255,255,255,.42)" stroke-width="1"/>
<line x1="533.80" x2="907.70" y1="1268.46" y2="1268.46" stroke="rgba(255,255,255,.42)" stroke-width="1"/>
<line x1="533.80" x2="907.70" y1="1257.32" y2="1257.32" stroke="rgba(255,255,255,.42)" stroke-width="1"/>
<line x1="533.80" x2="907.70" y1="1246.18" y2="1246.18" stroke="rgba(255,255,255,.42)" stroke-width="1"/>
<line x1="533.80" x2="907.70" y1="1235.04" y2="1235.04" stroke="rgba(255,255,255,.42)" stroke-width="1"/>
<line x1="533.80" x2="907.70" y1="1223.90" y2="1223.90" stroke="rgba(255,255,255,.42)" stroke-width="1"/>
<path d="M539.70,1241.88 L552.18,1241.79 L564.66,1241.70 L577.14,1241.60 L589.62,1241.51 L602.10,1241.42 L614.58,1241.32 L627.06,1241.23 L639.54,1241.14 L652.02,1241.04 L664.50,1240.95 L676.98,1240.86 L689.46,1240.76 L701.94,1240.67 L714.42,1240.58 L726.90,1240.48 L739.38,1240.39 L751.86,1240.30 L764.34,1240.20 L776.82,1240.11 L789.30,1240.02 L801.78,1239.92 L814.26,1239.83 L826.74,1239.74 L839.22,1239.64 L851.70,1239.55 L864.18,1239.46 L876.66,1239.36 L889.14,1239.27 L901.62,1239.18 L901.62,1335.30 L539.70,1335.30 Z" fill="url(#ggr)"/>
<path d="M539.70,1248.41 L552.18,1248.35 L564.66,1248.30 L577.14,1248.24 L589.62,1248.19 L602.10,1248.13 L614.58,1248.08 L627.06,1248.02 L639.54,1247.97 L652.02,1247.91 L664.50,1247.86 L676.98,1247.80 L689.46,1247.75 L701.94,1247.69 L714.42,1247.64 L726.90,1247.58 L739.38,1247.53 L751.86,1247.48 L764.34,1247.42 L776.82,1247.37 L789.30,1247.31 L801.78,1247.26 L814.26,1247.20 L826.74,1247.15 L839.22,1247.09 L851.70,1247.04 L864.18,1246.98 L876.66,1246.93 L889.14,1246.87 L901.62,1246.82 L901.62,1335.30 L539.70,1335.30 Z" fill="url(#gco)"/>
<path d="M539.70,1320.02 L552.18,1318.27 L564.66,1317.00 L577.14,1315.88 L589.62,1314.93 L602.10,1313.82 L614.58,1313.18 L627.06,1311.43 L639.54,1309.68 L652.02,1308.25 L664.50,1306.65 L676.98,1305.22 L689.46,1304.11 L701.94,1303.79 L714.42,1302.36 L726.90,1300.77 L739.38,1298.70 L751.86,1296.95 L764.34,1295.20 L776.82,1294.40 L789.30,1293.76 L801.78,1292.81 L814.26,1292.33 L826.74,1292.33 L839.22,1292.01 L851.70,1291.06 L864.18,1290.74 L876.66,1290.26 L889.14,1289.31 L901.62,1289.63 L901.62,1335.30 L539.70,1335.30 Z" fill="rgba(56,78,94,.6)"/>
<path d="M539.70,1320.02 L552.18,1318.27 L564.66,1317.00 L577.14,1315.88 L589.62,1314.93 L602.10,1313.82 L614.58,1313.18 L627.06,1311.43 L639.54,1309.68 L652.02,1308.25 L664.50,1306.65 L676.98,1305.22 L689.46,1304.11 L701.94,1303.79 L714.42,1302.36 L726.90,1300.77 L739.38,1298.70 L751.86,1296.95 L764.34,1295.20 L776.82,1294.40 L789.30,1293.76 L801.78,1292.81 L814.26,1292.33 L826.74,1292.33 L839.22,1292.01 L851.70,1291.06 L864.18,1290.74 L876.66,1290.26 L889.14,1289.31 L901.62,1289.63 L901.62,1335.30 L539.70,1335.30 Z" fill="url(#gcy)"/>
<text transform="translate(520.00,1337.60) scale(0.9250,1)" text-anchor="end" font-size="9" >0</text>
<text transform="translate(520.00,1315.32) scale(0.9250,1)" text-anchor="end" font-size="9" >1,400,000</text>
<text transform="translate(520.00,1293.04) scale(0.9250,1)" text-anchor="end" font-size="9" >2,800,000</text>
<text transform="translate(520.00,1270.76) scale(0.9250,1)" text-anchor="end" font-size="9" >4,200,000</text>
<text transform="translate(520.00,1248.48) scale(0.9250,1)" text-anchor="end" font-size="9" >5,600,000</text>
<text transform="translate(520.00,1226.20) scale(0.9250,1)" text-anchor="end" font-size="9" >7,000,000</text>
<line x1="539.70" x2="539.70" y1="1335.30" y2="1343.60" stroke="rgba(255,255,255,.42)" stroke-width="1"/>
<text transform="translate(539.70,1354.50) scale(0.9148,1)" text-anchor="middle" font-size="9" >15.08</text>
<line x1="577.14" x2="577.14" y1="1335.30" y2="1343.60" stroke="rgba(255,255,255,.42)" stroke-width="1"/>
<text transform="translate(577.14,1354.50) scale(0.9148,1)" text-anchor="middle" font-size="9" >18.08</text>
<line x1="614.58" x2="614.58" y1="1335.30" y2="1343.60" stroke="rgba(255,255,255,.42)" stroke-width="1"/>
<text transform="translate(614.58,1354.50) scale(0.9148,1)" text-anchor="middle" font-size="9" >21.08</text>
<line x1="652.02" x2="652.02" y1="1335.30" y2="1343.60" stroke="rgba(255,255,255,.42)" stroke-width="1"/>
<text transform="translate(652.02,1354.50) scale(0.9148,1)" text-anchor="middle" font-size="9" >24.08</text>
<line x1="689.46" x2="689.46" y1="1335.30" y2="1343.60" stroke="rgba(255,255,255,.42)" stroke-width="1"/>
<text transform="translate(689.46,1354.50) scale(0.9148,1)" text-anchor="middle" font-size="9" >27.08</text>
<line x1="726.90" x2="726.90" y1="1335.30" y2="1343.60" stroke="rgba(255,255,255,.42)" stroke-width="1"/>
<text transform="translate(726.90,1354.50) scale(0.9148,1)" text-anchor="middle" font-size="9" >30.08</text>
<line x1="764.34" x2="764.34" y1="1335.30" y2="1343.60" stroke="rgba(255,255,255,.42)" stroke-width="1"/>
<text transform="translate(764.34,1354.50) scale(0.9148,1)" text-anchor="middle" font-size="9" >02.09</text>
<line x1="801.78" x2="801.78" y1="1335.30" y2="1343.60" stroke="rgba(255,255,255,.42)" stroke-width="1"/>
<text transform="translate(801.78,1354.50) scale(0.9148,1)" text-anchor="middle" font-size="9" >05.09</text>
<line x1="839.22" x2="839.22" y1="1335.30" y2="1343.60" stroke="rgba(255,255,255,.42)" stroke-width="1"/>
<text transform="translate(839.22,1354.50) scale(0.9148,1)" text-anchor="middle" font-size="9" >08.09</text>
<line x1="876.66" x2="876.66" y1="1335.30" y2="1343.60" stroke="rgba(255,255,255,.42)" stroke-width="1"/>
<text transform="translate(876.66,1354.50) scale(0.9427,1)" text-anchor="middle" font-size="9" >11.09</text>
<text transform="translate(720.60,1369.80) scale(0.7679,1)" text-anchor="middle" font-size="11.5" >תאריך</text>
<path d="M539.70,1241.88 L552.18,1241.79 L564.66,1241.70 L577.14,1241.60 L589.62,1241.51 L602.10,1241.42 L614.58,1241.32 L627.06,1241.23 L639.54,1241.14 L652.02,1241.04 L664.50,1240.95 L676.98,1240.86 L689.46,1240.76 L701.94,1240.67 L714.42,1240.58 L726.90,1240.48 L739.38,1240.39 L751.86,1240.30 L764.34,1240.20 L776.82,1240.11 L789.30,1240.02 L801.78,1239.92 L814.26,1239.83 L826.74,1239.74 L839.22,1239.64 L851.70,1239.55 L864.18,1239.46 L876.66,1239.36 L889.14,1239.27 L901.62,1239.18" fill="none" stroke="#9df783" stroke-width="1" stroke-linejoin="round"/>
<circle cx="539.70" cy="1241.88" r="2.9" fill="#9df783" stroke="rgba(0,0,0,.25)" stroke-width=".8"/>
<circle cx="552.18" cy="1241.79" r="2.9" fill="#9df783" stroke="rgba(0,0,0,.25)" stroke-width=".8"/>
<circle cx="564.66" cy="1241.70" r="2.9" fill="#9df783" stroke="rgba(0,0,0,.25)" stroke-width=".8"/>
<circle cx="577.14" cy="1241.60" r="2.9" fill="#9df783" stroke="rgba(0,0,0,.25)" stroke-width=".8"/>
<circle cx="589.62" cy="1241.51" r="2.9" fill="#9df783" stroke="rgba(0,0,0,.25)" stroke-width=".8"/>
<circle cx="602.10" cy="1241.42" r="2.9" fill="#9df783" stroke="rgba(0,0,0,.25)" stroke-width=".8"/>
<circle cx="614.58" cy="1241.32" r="2.9" fill="#9df783" stroke="rgba(0,0,0,.25)" stroke-width=".8"/>
<circle cx="627.06" cy="1241.23" r="2.9" fill="#9df783" stroke="rgba(0,0,0,.25)" stroke-width=".8"/>
<circle cx="639.54" cy="1241.14" r="2.9" fill="#9df783" stroke="rgba(0,0,0,.25)" stroke-width=".8"/>
<circle cx="652.02" cy="1241.04" r="2.9" fill="#9df783" stroke="rgba(0,0,0,.25)" stroke-width=".8"/>
<circle cx="664.50" cy="1240.95" r="2.9" fill="#9df783" stroke="rgba(0,0,0,.25)" stroke-width=".8"/>
<circle cx="676.98" cy="1240.86" r="2.9" fill="#9df783" stroke="rgba(0,0,0,.25)" stroke-width=".8"/>
<circle cx="689.46" cy="1240.76" r="2.9" fill="#9df783" stroke="rgba(0,0,0,.25)" stroke-width=".8"/>
<circle cx="701.94" cy="1240.67" r="2.9" fill="#9df783" stroke="rgba(0,0,0,.25)" stroke-width=".8"/>
<circle cx="714.42" cy="1240.58" r="2.9" fill="#9df783" stroke="rgba(0,0,0,.25)" stroke-width=".8"/>
<circle cx="726.90" cy="1240.48" r="2.9" fill="#9df783" stroke="rgba(0,0,0,.25)" stroke-width=".8"/>
<circle cx="739.38" cy="1240.39" r="2.9" fill="#9df783" stroke="rgba(0,0,0,.25)" stroke-width=".8"/>
<circle cx="751.86" cy="1240.30" r="2.9" fill="#9df783" stroke="rgba(0,0,0,.25)" stroke-width=".8"/>
<circle cx="764.34" cy="1240.20" r="2.9" fill="#9df783" stroke="rgba(0,0,0,.25)" stroke-width=".8"/>
<circle cx="776.82" cy="1240.11" r="2.9" fill="#9df783" stroke="rgba(0,0,0,.25)" stroke-width=".8"/>
<circle cx="789.30" cy="1240.02" r="2.9" fill="#9df783" stroke="rgba(0,0,0,.25)" stroke-width=".8"/>
<circle cx="801.78" cy="1239.92" r="2.9" fill="#9df783" stroke="rgba(0,0,0,.25)" stroke-width=".8"/>
<circle cx="814.26" cy="1239.83" r="2.9" fill="#9df783" stroke="rgba(0,0,0,.25)" stroke-width=".8"/>
<circle cx="826.74" cy="1239.74" r="2.9" fill="#9df783" stroke="rgba(0,0,0,.25)" stroke-width=".8"/>
<circle cx="839.22" cy="1239.64" r="2.9" fill="#9df783" stroke="rgba(0,0,0,.25)" stroke-width=".8"/>
<circle cx="851.70" cy="1239.55" r="2.9" fill="#9df783" stroke="rgba(0,0,0,.25)" stroke-width=".8"/>
<circle cx="864.18" cy="1239.46" r="2.9" fill="#9df783" stroke="rgba(0,0,0,.25)" stroke-width=".8"/>
<circle cx="876.66" cy="1239.36" r="2.9" fill="#9df783" stroke="rgba(0,0,0,.25)" stroke-width=".8"/>
<circle cx="889.14" cy="1239.27" r="2.9" fill="#9df783" stroke="rgba(0,0,0,.25)" stroke-width=".8"/>
<circle cx="901.62" cy="1239.18" r="2.9" fill="#fff" stroke="rgba(0,0,0,.25)" stroke-width=".8"/>
<path d="M539.70,1248.41 L552.18,1248.35 L564.66,1248.30 L577.14,1248.24 L589.62,1248.19 L602.10,1248.13 L614.58,1248.08 L627.06,1248.02 L639.54,1247.97 L652.02,1247.91 L664.50,1247.86 L676.98,1247.80 L689.46,1247.75 L701.94,1247.69 L714.42,1247.64 L726.90,1247.58 L739.38,1247.53 L751.86,1247.48 L764.34,1247.42 L776.82,1247.37 L789.30,1247.31 L801.78,1247.26 L814.26,1247.20 L826.74,1247.15 L839.22,1247.09 L851.70,1247.04 L864.18,1246.98 L876.66,1246.93 L889.14,1246.87 L901.62,1246.82" fill="none" stroke="#ff7f67" stroke-width="1" stroke-linejoin="round"/>
<circle cx="539.70" cy="1248.41" r="2.9" fill="#ff7f67" stroke="rgba(0,0,0,.35)" stroke-width=".8"/>
<circle cx="552.18" cy="1248.35" r="2.9" fill="#ff7f67" stroke="rgba(0,0,0,.35)" stroke-width=".8"/>
<circle cx="564.66" cy="1248.30" r="2.9" fill="#ff7f67" stroke="rgba(0,0,0,.35)" stroke-width=".8"/>
<circle cx="577.14" cy="1248.24" r="2.9" fill="#ff7f67" stroke="rgba(0,0,0,.35)" stroke-width=".8"/>
<circle cx="589.62" cy="1248.19" r="2.9" fill="#ff7f67" stroke="rgba(0,0,0,.35)" stroke-width=".8"/>
<circle cx="602.10" cy="1248.13" r="2.9" fill="#ff7f67" stroke="rgba(0,0,0,.35)" stroke-width=".8"/>
<circle cx="614.58" cy="1248.08" r="2.9" fill="#ff7f67" stroke="rgba(0,0,0,.35)" stroke-width=".8"/>
<circle cx="627.06" cy="1248.02" r="2.9" fill="#ff7f67" stroke="rgba(0,0,0,.35)" stroke-width=".8"/>
<circle cx="639.54" cy="1247.97" r="2.9" fill="#ff7f67" stroke="rgba(0,0,0,.35)" stroke-width=".8"/>
<circle cx="652.02" cy="1247.91" r="2.9" fill="#ff7f67" stroke="rgba(0,0,0,.35)" stroke-width=".8"/>
<circle cx="664.50" cy="1247.86" r="2.9" fill="#ff7f67" stroke="rgba(0,0,0,.35)" stroke-width=".8"/>
<circle cx="676.98" cy="1247.80" r="2.9" fill="#ff7f67" stroke="rgba(0,0,0,.35)" stroke-width=".8"/>
<circle cx="689.46" cy="1247.75" r="2.9" fill="#ff7f67" stroke="rgba(0,0,0,.35)" stroke-width=".8"/>
<circle cx="701.94" cy="1247.69" r="2.9" fill="#ff7f67" stroke="rgba(0,0,0,.35)" stroke-width=".8"/>
<circle cx="714.42" cy="1247.64" r="2.9" fill="#ff7f67" stroke="rgba(0,0,0,.35)" stroke-width=".8"/>
<circle cx="726.90" cy="1247.58" r="2.9" fill="#ff7f67" stroke="rgba(0,0,0,.35)" stroke-width=".8"/>
<circle cx="739.38" cy="1247.53" r="2.9" fill="#ff7f67" stroke="rgba(0,0,0,.35)" stroke-width=".8"/>
<circle cx="751.86" cy="1247.48" r="2.9" fill="#ff7f67" stroke="rgba(0,0,0,.35)" stroke-width=".8"/>
<circle cx="764.34" cy="1247.42" r="2.9" fill="#ff7f67" stroke="rgba(0,0,0,.35)" stroke-width=".8"/>
<circle cx="776.82" cy="1247.37" r="2.9" fill="#ff7f67" stroke="rgba(0,0,0,.35)" stroke-width=".8"/>
<circle cx="789.30" cy="1247.31" r="2.9" fill="#ff7f67" stroke="rgba(0,0,0,.35)" stroke-width=".8"/>
<circle cx="801.78" cy="1247.26" r="2.9" fill="#ff7f67" stroke="rgba(0,0,0,.35)" stroke-width=".8"/>
<circle cx="814.26" cy="1247.20" r="2.9" fill="#ff7f67" stroke="rgba(0,0,0,.35)" stroke-width=".8"/>
<circle cx="826.74" cy="1247.15" r="2.9" fill="#ff7f67" stroke="rgba(0,0,0,.35)" stroke-width=".8"/>
<circle cx="839.22" cy="1247.09" r="2.9" fill="#ff7f67" stroke="rgba(0,0,0,.35)" stroke-width=".8"/>
<circle cx="851.70" cy="1247.04" r="2.9" fill="#ff7f67" stroke="rgba(0,0,0,.35)" stroke-width=".8"/>
<circle cx="864.18" cy="1246.98" r="2.9" fill="#ff7f67" stroke="rgba(0,0,0,.35)" stroke-width=".8"/>
<circle cx="876.66" cy="1246.93" r="2.9" fill="#ff7f67" stroke="rgba(0,0,0,.35)" stroke-width=".8"/>
<circle cx="889.14" cy="1246.87" r="2.9" fill="#ff7f67" stroke="rgba(0,0,0,.35)" stroke-width=".8"/>
<circle cx="901.62" cy="1246.82" r="2.9" fill="#ddd" stroke="rgba(0,0,0,.35)" stroke-width=".8"/>
<path d="M539.70,1320.02 L552.18,1318.27 L564.66,1317.00 L577.14,1315.88 L589.62,1314.93 L602.10,1313.82 L614.58,1313.18 L627.06,1311.43 L639.54,1309.68 L652.02,1308.25 L664.50,1306.65 L676.98,1305.22 L689.46,1304.11 L701.94,1303.79 L714.42,1302.36 L726.90,1300.77 L739.38,1298.70 L751.86,1296.95 L764.34,1295.20 L776.82,1294.40 L789.30,1293.76 L801.78,1292.81 L814.26,1292.33 L826.74,1292.33 L839.22,1292.01 L851.70,1291.06 L864.18,1290.74 L876.66,1290.26 L889.14,1289.31 L901.62,1289.63" fill="none" stroke="#2cd1db" stroke-width="1" stroke-linejoin="round"/>
<circle cx="539.70" cy="1320.02" r="2.9" fill="#2cd1db" stroke="rgba(0,0,0,.35)" stroke-width=".8"/>
<circle cx="552.18" cy="1318.27" r="2.9" fill="#2cd1db" stroke="rgba(0,0,0,.35)" stroke-width=".8"/>
<circle cx="564.66" cy="1317.00" r="2.9" fill="#2cd1db" stroke="rgba(0,0,0,.35)" stroke-width=".8"/>
<circle cx="577.14" cy="1315.88" r="2.9" fill="#2cd1db" stroke="rgba(0,0,0,.35)" stroke-width=".8"/>
<circle cx="589.62" cy="1314.93" r="2.9" fill="#2cd1db" stroke="rgba(0,0,0,.35)" stroke-width=".8"/>
<circle cx="602.10" cy="1313.82" r="2.9" fill="#2cd1db" stroke="rgba(0,0,0,.35)" stroke-width=".8"/>
<circle cx="614.58" cy="1313.18" r="2.9" fill="#2cd1db" stroke="rgba(0,0,0,.35)" stroke-width=".8"/>
<circle cx="627.06" cy="1311.43" r="2.9" fill="#2cd1db" stroke="rgba(0,0,0,.35)" stroke-width=".8"/>
<circle cx="639.54" cy="1309.68" r="2.9" fill="#2cd1db" stroke="rgba(0,0,0,.35)" stroke-width=".8"/>
<circle cx="652.02" cy="1308.25" r="2.9" fill="#2cd1db" stroke="rgba(0,0,0,.35)" stroke-width=".8"/>
<circle cx="664.50" cy="1306.65" r="2.9" fill="#2cd1db" stroke="rgba(0,0,0,.35)" stroke-width=".8"/>
<circle cx="676.98" cy="1305.22" r="2.9" fill="#2cd1db" stroke="rgba(0,0,0,.35)" stroke-width=".8"/>
<circle cx="689.46" cy="1304.11" r="2.9" fill="#2cd1db" stroke="rgba(0,0,0,.35)" stroke-width=".8"/>
<circle cx="701.94" cy="1303.79" r="2.9" fill="#2cd1db" stroke="rgba(0,0,0,.35)" stroke-width=".8"/>
<circle cx="714.42" cy="1302.36" r="2.9" fill="#2cd1db" stroke="rgba(0,0,0,.35)" stroke-width=".8"/>
<circle cx="726.90" cy="1300.77" r="2.9" fill="#2cd1db" stroke="rgba(0,0,0,.35)" stroke-width=".8"/>
<circle cx="739.38" cy="1298.70" r="2.9" fill="#2cd1db" stroke="rgba(0,0,0,.35)" stroke-width=".8"/>
<circle cx="751.86" cy="1296.95" r="2.9" fill="#2cd1db" stroke="rgba(0,0,0,.35)" stroke-width=".8"/>
<circle cx="764.34" cy="1295.20" r="2.9" fill="#2cd1db" stroke="rgba(0,0,0,.35)" stroke-width=".8"/>
<circle cx="776.82" cy="1294.40" r="2.9" fill="#2cd1db" stroke="rgba(0,0,0,.35)" stroke-width=".8"/>
<circle cx="789.30" cy="1293.76" r="2.9" fill="#2cd1db" stroke="rgba(0,0,0,.35)" stroke-width=".8"/>
<circle cx="801.78" cy="1292.81" r="2.9" fill="#2cd1db" stroke="rgba(0,0,0,.35)" stroke-width=".8"/>
<circle cx="814.26" cy="1292.33" r="2.9" fill="#2cd1db" stroke="rgba(0,0,0,.35)" stroke-width=".8"/>
<circle cx="826.74" cy="1292.33" r="2.9" fill="#2cd1db" stroke="rgba(0,0,0,.35)" stroke-width=".8"/>
<circle cx="839.22" cy="1292.01" r="2.9" fill="#2cd1db" stroke="rgba(0,0,0,.35)" stroke-width=".8"/>
<circle cx="851.70" cy="1291.06" r="2.9" fill="#2cd1db" stroke="rgba(0,0,0,.35)" stroke-width=".8"/>
<circle cx="864.18" cy="1290.74" r="2.9" fill="#2cd1db" stroke="rgba(0,0,0,.35)" stroke-width=".8"/>
<circle cx="876.66" cy="1290.26" r="2.9" fill="#2cd1db" stroke="rgba(0,0,0,.35)" stroke-width=".8"/>
<circle cx="889.14" cy="1289.31" r="2.9" fill="#2cd1db" stroke="rgba(0,0,0,.35)" stroke-width=".8"/>
<circle cx="901.62" cy="1289.63" r="2.9" fill="#9a9a9a" stroke="rgba(0,0,0,.35)" stroke-width=".8"/></svg>
<div class="card" style="left:20.9px;top:1140.75px;width:444.0px;height:235.0px;"></div>
<span class="t" style="top:1157.00px;font-size:11.5px;font-weight:bold;right:959.30px;transform-origin:right center;transform:scaleX(0.8099);">אחוז מתחסנים לפי קבוצות גיל</span>
<div class="info" style="left:293.45px;top:1155.80px;width:11.5px;height:11.5px"><b>i</b></div>
<svg style="left:20.9px;top:1140.75px" width="444.0" height="235.0" viewBox="20.9 1140.75 444.0 235.0"><rect x="82.70" y="1213.38" width="298.38" height="6.60" fill="#9df783" />
<rect x="82.70" y="1213.38" width="287.56" height="6.60" fill="#ff7f67" />
<rect x="82.70" y="1213.38" width="234.88" height="6.60" fill="#2cd1db" />
<rect x="82.70" y="1226.56" width="323.28" height="6.60" fill="#9df783" />
<rect x="82.70" y="1226.56" width="314.26" height="6.60" fill="#ff7f67" />
<rect x="82.70" y="1226.56" width="269.52" height="6.60" fill="#2cd1db" />
<rect x="82.70" y="1239.72" width="323.64" height="6.60" fill="#9df783" />
<rect x="82.70" y="1239.72" width="314.98" height="6.60" fill="#ff7f67" />
<rect x="82.70" y="1239.72" width="279.98" height="6.60" fill="#2cd1db" />
<rect x="82.70" y="1252.89" width="328.69" height="6.60" fill="#9df783" />
<rect x="82.70" y="1252.89" width="314.98" height="6.60" fill="#ff7f67" />
<rect x="82.70" y="1252.89" width="249.31" height="6.60" fill="#2cd1db" />
<rect x="82.70" y="1266.07" width="319.31" height="6.60" fill="#9df783" />
<rect x="82.70" y="1266.07" width="301.27" height="6.60" fill="#ff7f67" />
<rect x="82.70" y="1266.07" width="199.52" height="6.60" fill="#2cd1db" />
<rect x="82.70" y="1279.23" width="314.62" height="6.60" fill="#9df783" />
<rect x="82.70" y="1279.23" width="293.69" height="6.60" fill="#ff7f67" />
<rect x="82.70" y="1279.23" width="156.95" height="6.60" fill="#2cd1db" />
<rect x="82.70" y="1292.40" width="305.60" height="6.60" fill="#9df783" />
<rect x="82.70" y="1292.40" width="282.51" height="6.60" fill="#ff7f67" />
<rect x="82.70" y="1292.40" width="110.40" height="6.60" fill="#2cd1db" />
<rect x="82.70" y="1305.58" width="288.64" height="6.60" fill="#9df783" />
<rect x="82.70" y="1305.58" width="261.58" height="6.60" fill="#ff7f67" />
<rect x="82.70" y="1305.58" width="83.34" height="6.60" fill="#2cd1db" />
<rect x="82.70" y="1318.75" width="296.58" height="6.60" fill="#9df783" />
<rect x="82.70" y="1318.75" width="254.36" height="6.60" fill="#ff7f67" />
<rect x="82.70" y="1318.75" width="54.12" height="6.60" fill="#2cd1db" />
<rect x="82.70" y="1331.91" width="179.68" height="6.60" fill="#9df783" />
<rect x="82.70" y="1331.91" width="127.72" height="6.60" fill="#ff7f67" />
<rect x="82.70" y="1331.91" width="0.00" height="6.60" fill="#2cd1db" />
<circle cx="54.30" cy="1162.10" r="9.6" fill="#2a3a47"/>
<path d="M54.30,1158.70 V1165.30 M51.70,1162.80 L54.30,1165.40 L56.90,1162.80" fill="none" stroke="#fff" stroke-width="1.05" stroke-linecap="round" stroke-linejoin="round"/>
<circle cx="78.10" cy="1162.10" r="9.6" fill="#2a3a47"/>
<path d="M81.00,1159.00 L75.10,1162.10 L81.00,1165.20" fill="none" stroke="#fff" stroke-width=".95"/>
<circle cx="81.00" cy="1159.00" r="1.55" fill="#fff"/>
<circle cx="75.10" cy="1162.10" r="1.55" fill="#fff"/>
<circle cx="81.00" cy="1165.20" r="1.55" fill="#fff"/>
<circle cx="435.50" cy="1182.70" r="3.4" fill="#9df783"/>
<text transform="translate(430.50,1185.90) scale(0.8148,1)" text-anchor="end" font-size="11" >מנה 1</text>
<circle cx="391.90" cy="1182.70" r="3.4" fill="#ff7f67"/>
<text transform="translate(386.90,1185.90) scale(0.8291,1)" text-anchor="end" font-size="11" >מנה 2</text>
<circle cx="348.30" cy="1182.70" r="3.4" fill="#2cd1db"/>
<text transform="translate(343.30,1185.90) scale(0.8291,1)" text-anchor="end" font-size="11" >מנה 3</text>
<text transform="translate(69.20,1197.30) scale(0.7646,1)" text-anchor="end" font-size="11.5" >קבוצת גיל</text>
<line x1="80.30" x2="443.50" y1="1210.10" y2="1210.10" stroke="rgba(255,255,255,.6)" stroke-width="1"/>
<line x1="80.30" x2="443.50" y1="1223.27" y2="1223.27" stroke="rgba(255,255,255,.6)" stroke-width="1"/>
<line x1="80.30" x2="443.50" y1="1236.44" y2="1236.44" stroke="rgba(255,255,255,.6)" stroke-width="1"/>
<line x1="80.30" x2="443.50" y1="1249.61" y2="1249.61" stroke="rgba(255,255,255,.6)" stroke-width="1"/>
<line x1="80.30" x2="443.50" y1="1262.78" y2="1262.78" stroke="rgba(255,255,255,.6)" stroke-width="1"/>
<line x1="80.30" x2="443.50" y1="1275.95" y2="1275.95" stroke="rgba(255,255,255,.6)" stroke-width="1"/>
<line x1="80.30" x2="443.50" y1="1289.12" y2="1289.12" stroke="rgba(255,255,255,.6)" stroke-width="1"/>
<line x1="80.30" x2="443.50" y1="1302.29" y2="1302.29" stroke="rgba(255,255,255,.6)" stroke-width="1"/>
<line x1="80.30" x2="443.50" y1="1315.46" y2="1315.46" stroke="rgba(255,255,255,.6)" stroke-width="1"/>
<line x1="80.30" x2="443.50" y1="1328.63" y2="1328.63" stroke="rgba(255,255,255,.6)" stroke-width="1"/>
<line x1="80.30" x2="443.50" y1="1341.80" y2="1341.80" stroke="rgba(255,255,255,.6)" stroke-width="1"/>
<line x1="82.70" x2="82.70" y1="1210.10" y2="1341.80" stroke="rgba(255,255,255,.6)" stroke-width="1"/>
<line x1="154.86" x2="154.86" y1="1210.10" y2="1341.80" stroke="rgba(255,255,255,.6)" stroke-width="1"/>
<line x1="227.02" x2="227.02" y1="1210.10" y2="1341.80" stroke="rgba(255,255,255,.6)" stroke-width="1"/>
<line x1="299.18" x2="299.18" y1="1210.10" y2="1341.80" stroke="rgba(255,255,255,.6)" stroke-width="1"/>
<line x1="371.34" x2="371.34" y1="1210.10" y2="1341.80" stroke="rgba(255,255,255,.6)" stroke-width="1"/>
<line x1="443.50" x2="443.50" y1="1210.10" y2="1341.80" stroke="rgba(255,255,255,.6)" stroke-width="1"/>
<text transform="translate(69.20,1219.88) scale(0.9300,1)" text-anchor="end" font-size="9" >+90</text>
<text transform="translate(69.20,1233.06) scale(0.9300,1)" text-anchor="end" font-size="9" >80-89</text>
<text transform="translate(69.20,1246.22) scale(0.9300,1)" text-anchor="end" font-size="9" >70-79</text>
<text transform="translate(69.20,1259.39) scale(0.9300,1)" text-anchor="end" font-size="9" >60-69</text>
<text transform="translate(69.20,1272.57) scale(0.9300,1)" text-anchor="end" font-size="9" >50-59</text>
<text transform="translate(69.20,1285.73) scale(0.9300,1)" text-anchor="end" font-size="9" >40-49</text>
<text transform="translate(69.20,1298.90) scale(0.9300,1)" text-anchor="end" font-size="9" >30-39</text>
<text transform="translate(69.20,1312.08) scale(0.9300,1)" text-anchor="end" font-size="9" >20-29</text>
<text transform="translate(69.20,1325.25) scale(0.9300,1)" text-anchor="end" font-size="9" >16-19</text>
<text transform="translate(69.20,1338.41) scale(0.9300,1)" text-anchor="end" font-size="9" >12-15</text>
<text transform="translate(82.70,1354.60) scale(0.9000,1)" text-anchor="middle" font-size="9" >0%</text>
<text transform="translate(154.86,1354.60) scale(0.9000,1)" text-anchor="middle" font-size="9" >20%</text>
<text transform="translate(227.02,1354.60) scale(0.9000,1)" text-anchor="middle" font-size="9" >40%</text>
<text transform="translate(299.18,1354.60) scale(0.9000,1)" text-anchor="middle" font-size="9" >60%</text>
<text transform="translate(371.34,1354.60) scale(0.9000,1)" text-anchor="middle" font-size="9" >80%</text>
<text transform="translate(443.50,1354.60) scale(0.9000,1)" text-anchor="middle" font-size="9" >100%</text>
<text transform="translate(262.90,1367.80) scale(0.7842,1)" text-anchor="middle" font-size="11.5" direction="rtl" unicode-bidi="plaintext">% סה"כ</text></svg>
<div class="card" style="left:20.9px;top:1390.25px;width:1358.35px;height:236.0px;overflow:hidden;"></div>
<span class="t" style="top:1405.00px;font-size:11.5px;font-weight:bold;right:38.10px;transform-origin:right center;transform:scaleX(0.8069);">התחסנות לפי ישובים</span>
<div class="info" style="left:1256.25px;top:1405.25px;width:11.5px;height:11.5px"><b>i</b></div>
<div class="pill" style="left:85.8px;top:1402.7px;width:114.5px;height:23.8px"></div>
<span class="t" style="top:1411.00px;font-size:9.5px;color:rgba(255,255,255,.62);right:1227.50px;transform-origin:right center;transform:scaleX(0.7286);">חיפוש ישוב</span>
<div style="position:absolute;left:20.9px;top:1437.6px;width:1358.35px;height:27px;background:#2a3a48"></div>
<span class="t" style="top:1439.00px;font-size:11.5px;right:31.20px;transform-origin:right center;transform:scaleX(0.7812);">ישוב</span>
<span class="t" style="top:1439.00px;font-size:11.5px;left:734.00px;width:600px;text-align:center;transform-origin:center center;transform:scaleX(0.7754);">% מתחסנים מנה ראשונה</span>
<svg style="left:1030.4px;top:1455.3999999999999px" width="7.2" height="4.6" viewBox="0 0 7.2 4.6"><path d="M0,0 H7.2 L3.6,4.6 Z" fill="#3c8ff6"/></svg>
<span class="t" style="top:1439.00px;font-size:11.5px;left:508.80px;width:600px;text-align:center;transform-origin:center center;transform:scaleX(0.7749);">% מתחסנים מנה שנייה</span>
<span class="t" style="top:1439.00px;font-size:11.5px;left:283.40px;width:600px;text-align:center;transform-origin:center center;transform:scaleX(0.7592);">חולים פעילים</span>
<span class="t" style="top:1439.00px;font-size:11.5px;left:57.50px;width:600px;text-align:center;transform-origin:center center;transform:scaleX(0.7862);">חולים פעילים לכל 10,000 נפש</span>
<span class="t" style="top:1439.00px;font-size:11.5px;left:-167.20px;width:600px;text-align:center;transform-origin:center center;transform:scaleX(0.7560);">ציון יומי מחושב</span>
<span class="t" style="top:1475.00px;font-size:12px;font-weight:bold;right:23.20px;transform-origin:right center;transform:scaleX(0.7512);">חשמונאים</span>
<span class="t" style="top:1476.00px;font-size:11.5px;left:737.50px;width:600px;text-align:center;transform-origin:center center;transform:scaleX(0.7908);">מעל 90%</span>
<span class="t" style="top:1476.00px;font-size:11.5px;left:511.30px;width:600px;text-align:center;transform-origin:center center;transform:scaleX(0.7908);">מעל 90%</span>
<span class="t" style="top:1476.00px;font-size:10px;left:285.20px;width:600px;text-align:center;transform-origin:center center;transform:scaleX(0.9500);">39</span>
<span class="t" style="top:1476.00px;font-size:10px;left:58.90px;width:600px;text-align:center;transform-origin:center center;transform:scaleX(0.9500);">145.9</span>
<div style="position:absolute;left:123.4px;top:1473.50px;width:18.8px;height:15.5px;background:#f6c47d;border-radius:2px"></div>
<span class="t" style="top:1477.00px;font-size:10px;font-weight:bold;color:#3a3326;left:-167.20px;width:600px;text-align:center;transform-origin:center center;transform:scaleX(0.9200);">7</span>
<div style="position:absolute;left:20.9px;top:1497.50px;width:1358.35px;height:1.3px;background:rgba(255,255,255,.62)"></div>
<span class="t" style="top:1509.00px;font-size:12px;font-weight:bold;right:23.20px;transform-origin:right center;transform:scaleX(0.7386);">סביון</span>
<span class="t" style="top:1510.00px;font-size:11.5px;left:737.50px;width:600px;text-align:center;transform-origin:center center;transform:scaleX(0.7908);">מעל 90%</span>
<span class="t" style="top:1510.00px;font-size:11.5px;left:511.30px;width:600px;text-align:center;transform-origin:center center;transform:scaleX(0.7908);">מעל 90%</span>
<span class="t" style="top:1510.00px;font-size:10px;left:285.20px;width:600px;text-align:center;transform-origin:center center;transform:scaleX(0.9500);">32</span>
<span class="t" style="top:1510.00px;font-size:10px;left:58.90px;width:600px;text-align:center;transform-origin:center center;transform:scaleX(0.9500);">79.1</span>
<div style="position:absolute;left:123.4px;top:1507.40px;width:18.8px;height:15.5px;background:#f6c47d;border-radius:2px"></div>
<span class="t" style="top:1511.00px;font-size:10px;font-weight:bold;color:#3a3326;left:-167.20px;width:600px;text-align:center;transform-origin:center center;transform:scaleX(0.9200);">6.2</span>
<div style="position:absolute;left:20.9px;top:1531.40px;width:1358.35px;height:1.3px;background:rgba(255,255,255,.62)"></div>
<span class="t" style="top:1542.00px;font-size:12px;font-weight:bold;right:23.20px;transform-origin:right center;transform:scaleX(0.7538);">עומר</span>
<span class="t" style="top:1543.00px;font-size:11.5px;left:737.50px;width:600px;text-align:center;transform-origin:center center;transform:scaleX(0.7908);">מעל 90%</span>
<span class="t" style="top:1543.00px;font-size:11.5px;left:511.30px;width:600px;text-align:center;transform-origin:center center;transform:scaleX(0.7908);">מעל 90%</span>
<span class="t" style="top:1544.00px;font-size:10px;left:285.20px;width:600px;text-align:center;transform-origin:center center;transform:scaleX(0.9500);">61</span>
<span class="t" style="top:1544.00px;font-size:10px;left:58.90px;width:600px;text-align:center;transform-origin:center center;transform:scaleX(0.9500);">80.6</span>
<div style="position:absolute;left:123.4px;top:1541.30px;width:18.8px;height:15.5px;background:#f6c47d;border-radius:2px"></div>
<span class="t" style="top:1544.00px;font-size:10px;font-weight:bold;color:#3a3326;left:-167.20px;width:600px;text-align:center;transform-origin:center center;transform:scaleX(0.9200);">6.3</span>
<div style="position:absolute;left:20.9px;top:1565.30px;width:1358.35px;height:1.3px;background:rgba(255,255,255,.62)"></div>
<span class="t" style="top:1576.00px;font-size:12px;font-weight:bold;right:23.20px;transform-origin:right center;transform:scaleX(0.7407);">אבו גוש</span>
<span class="t" style="top:1577.00px;font-size:11.5px;left:737.50px;width:600px;text-align:center;transform-origin:center center;transform:scaleX(0.7908);">מעל 90%</span>
<span class="t" style="top:1578.00px;font-size:9.5px;right:586.50px;transform-origin:right center;transform:scaleX(0.8539);">83.1%</span>
<div style="position:absolute;left:816.4px;top:1581.25px;width:3.6000000000000227px;height:6.9px;background:#2a3a48"></div>
<div style="position:absolute;left:820px;top:1581.25px;width:21.299999999999955px;height:6.9px;background:#ff7f67"></div>
<span class="t" style="top:1578.00px;font-size:10px;left:285.20px;width:600px;text-align:center;transform-origin:center center;transform:scaleX(0.9500);">32</span>
<span class="t" style="top:1578.00px;font-size:10px;left:58.90px;width:600px;text-align:center;transform-origin:center center;transform:scaleX(0.9500);">40.7</span>
<div style="position:absolute;left:123.4px;top:1575.20px;width:18.8px;height:15.5px;background:#fbf76c;border-radius:2px"></div>
<span class="t" style="top:1578.00px;font-size:10px;font-weight:bold;color:#3a3326;left:-167.20px;width:600px;text-align:center;transform-origin:center center;transform:scaleX(0.9200);">4.7</span>
<div style="position:absolute;left:20.9px;top:1599.20px;width:1358.35px;height:1.3px;background:rgba(255,255,255,.62)"></div>
<span class="t" style="top:1610.00px;font-size:12px;font-weight:bold;right:23.20px;transform-origin:right center;transform:scaleX(0.7597);">נוף איילון</span>
<span class="t" style="top:1612.00px;font-size:9.5px;right:358.40px;transform-origin:right center;transform:scaleX(0.8473);">89.95%</span>
<div style="position:absolute;left:1046.8px;top:1615.20px;width:23.200000000000045px;height:6.9px;background:#9df783"></div>
<span class="t" style="top:1612.00px;font-size:9.5px;right:584.70px;transform-origin:right center;transform:scaleX(0.8380);">84.14%</span>
<div style="position:absolute;left:818.5px;top:1615.20px;width:3.2999999999999545px;height:6.9px;background:#2a3a48"></div>
<div style="position:absolute;left:821.8px;top:1615.20px;width:21.700000000000045px;height:6.9px;background:#ff7f67"></div>
<span class="t" style="top:1612.00px;font-size:10px;left:285.20px;width:600px;text-align:center;transform-origin:center center;transform:scaleX(0.9500);">22</span>
<span class="t" style="top:1612.00px;font-size:10px;left:58.90px;width:600px;text-align:center;transform-origin:center center;transform:scaleX(0.9500);">104.8</span>
<div style="position:absolute;left:123.4px;top:1609.10px;width:18.8px;height:15.5px;background:#fbf76c;border-radius:2px"></div>
<span class="t" style="top:1612.00px;font-size:10px;font-weight:bold;color:#3a3326;left:-167.20px;width:600px;text-align:center;transform-origin:center center;transform:scaleX(0.9200);">6</span>
<svg style="left:20.9px;top:1390.25px" width="1358.35" height="236.0" viewBox="20.9 1390.25 1358.35 236.0"><circle cx="47.50" cy="1412.10" r="9.6" fill="#2a3a47"/>
<path d="M47.50,1408.70 V1415.30 M44.90,1412.80 L47.50,1415.40 L50.10,1412.80" fill="none" stroke="#fff" stroke-width="1.05" stroke-linecap="round" stroke-linejoin="round"/>
<circle cx="71.30" cy="1412.10" r="9.6" fill="#2a3a47"/>
<path d="M74.20,1409.00 L68.30,1412.10 L74.20,1415.20" fill="none" stroke="#fff" stroke-width=".95"/>
<circle cx="74.20" cy="1409.00" r="1.55" fill="#fff"/>
<circle cx="68.30" cy="1412.10" r="1.55" fill="#fff"/>
<circle cx="74.20" cy="1415.20" r="1.55" fill="#fff"/>
<circle cx="181.8" cy="1413.8" r="3.6" fill="none" stroke="#fff" stroke-width="1"/><path d="M184.4,1416.4 L187.2,1419.2" stroke="#fff" stroke-width="1.1" stroke-linecap="round"/></svg>
<div class="sep" style="top:1650.75px"></div>
<span class="t" style="top:1658.00px;font-size:14.5px;font-weight:bold;right:24.75px;transform-origin:right center;transform:scaleX(0.8495);">חולים קשה, מאומתים ובדיקות</span>
<div class="card" style="left:935.75px;top:1684.5px;width:443.5px;height:235.25px;"></div>
<span class="t" style="top:1702.00px;font-size:11.5px;font-weight:bold;right:38.10px;transform-origin:right center;transform:scaleX(0.8087);">מאומתים חדשים - יומי</span>
<div class="info" style="left:1250.25px;top:1701.10px;width:11.5px;height:11.5px"><b>i</b></div>
<div class="pill" style="left:1000.1px;top:1696.5px;width:97.89999999999998px;height:22.0px"></div>
<span class="t" style="top:1702.00px;font-size:10.5px;font-weight:bold;right:314.10px;transform-origin:right center;transform:scaleX(0.7814);">חודש אחרון</span>
<div class="note" style="left:1143px;top:1721.8px;width:216.20000000000005px;height:15.900000000000091px"></div>
<span class="t" style="top:1725.00px;font-size:9px;right:56.80px;transform-origin:right center;transform:scaleX(0.7804);">מספר הנדבקים המצטבר כיום הינו</span>
<span class="t" style="top:1725.00px;font-size:9px;font-weight:bold;right:159.70px;transform-origin:right center;transform:scaleX(0.7003);">כפול</span>
<span class="t" style="top:1725.00px;font-size:9px;right:176.40px;transform-origin:right center;transform:scaleX(0.6144);">מהמספר</span>
<span class="t" style="top:1725.00px;font-size:9px;font-weight:bold;right:201.00px;transform-origin:right center;transform:scaleX(0.8284);">לפני 235 ימים</span>
<svg style="left:935.75px;top:1684.5px" width="443.5" height="235.25" viewBox="935.75 1684.5 443.5 235.25"><rect x="994.00" y="1846.63" width="5.20" height="32.57" fill="#2cd1db" />
<rect x="1006.48" y="1825.28" width="5.20" height="53.92" fill="#2cd1db" />
<rect x="1018.96" y="1829.64" width="5.20" height="49.56" fill="#2cd1db" />
<rect x="1031.44" y="1829.32" width="5.20" height="49.88" fill="#2cd1db" />
<rect x="1043.92" y="1830.51" width="5.20" height="48.69" fill="#2cd1db" />
<rect x="1056.40" y="1829.88" width="5.20" height="49.32" fill="#2cd1db" />
<rect x="1068.88" y="1845.20" width="5.20" height="34.00" fill="#2cd1db" />
<rect x="1081.36" y="1837.98" width="5.20" height="41.22" fill="#2cd1db" />
<rect x="1093.84" y="1816.37" width="5.20" height="62.83" fill="#2cd1db" />
<rect x="1106.32" y="1816.37" width="5.20" height="62.83" fill="#2cd1db" />
<rect x="1118.80" y="1821.54" width="5.20" height="57.66" fill="#2cd1db" />
<rect x="1131.28" y="1823.28" width="5.20" height="55.92" fill="#2cd1db" />
<rect x="1143.76" y="1824.72" width="5.20" height="54.48" fill="#2cd1db" />
<rect x="1156.24" y="1833.68" width="5.20" height="45.52" fill="#2cd1db" />
<rect x="1168.72" y="1836.86" width="5.20" height="42.34" fill="#2cd1db" />
<rect x="1181.20" y="1809.71" width="5.20" height="69.49" fill="#2cd1db" />
<rect x="1193.68" y="1814.32" width="5.20" height="64.88" fill="#2cd1db" />
<rect x="1206.16" y="1808.84" width="5.20" height="70.36" fill="#2cd1db" />
<rect x="1218.64" y="1808.59" width="5.20" height="70.61" fill="#2cd1db" />
<rect x="1231.12" y="1817.81" width="5.20" height="61.39" fill="#2cd1db" />
<rect x="1243.60" y="1847.76" width="5.20" height="31.44" fill="#2cd1db" />
<rect x="1256.08" y="1842.59" width="5.20" height="36.61" fill="#2cd1db" />
<rect x="1268.56" y="1811.77" width="5.20" height="67.43" fill="#2cd1db" />
<rect x="1281.04" y="1836.55" width="5.20" height="42.65" fill="#2cd1db" />
<rect x="1293.52" y="1858.47" width="5.20" height="20.73" fill="#2cd1db" />
<rect x="1306.00" y="1829.88" width="5.20" height="49.32" fill="#2cd1db" />
<rect x="1318.48" y="1818.12" width="5.20" height="61.08" fill="#2cd1db" />
<rect x="1330.96" y="1815.75" width="5.20" height="63.45" fill="#2cd1db" />
<rect x="1343.44" y="1831.32" width="5.20" height="47.88" fill="#2cd1db" />
<rect x="1355.92" y="1862.76" width="5.20" height="16.44" fill="#fff" />
<circle cx="962.10" cy="1707.30" r="9.6" fill="#2a3a47"/>
<path d="M962.10,1703.90 V1710.50 M959.50,1708.00 L962.10,1710.60 L964.70,1708.00" fill="none" stroke="#fff" stroke-width="1.05" stroke-linecap="round" stroke-linejoin="round"/>
<circle cx="985.90" cy="1707.30" r="9.6" fill="#2a3a47"/>
<path d="M988.80,1704.20 L982.90,1707.30 L988.80,1710.40" fill="none" stroke="#fff" stroke-width=".95"/>
<circle cx="988.80" cy="1704.20" r="1.55" fill="#fff"/>
<circle cx="982.90" cy="1707.30" r="1.55" fill="#fff"/>
<circle cx="988.80" cy="1710.40" r="1.55" fill="#fff"/>
<path d="M1007.40,1706.70 L1009.80,1709.10 L1012.20,1706.70" fill="none" stroke="rgba(255,255,255,.6)" stroke-width=".9"/>
<g transform="translate(1351.50,1730.50)" stroke="#fff" stroke-width=".7" fill="none"><circle r="2.1" cy="-.4"/><path d="M-1,2 h2 M-.8,3.1 h1.6" /><path d="M0,-4.6 v-1.3 M3.2,-3.4 l.9,-.9 M-3.2,-3.4 l-.9,-.9 M4.4,-.4 h1.3 M-4.4,-.4 h-1.3" stroke-width=".6"/></g>
<circle cx="1357.10" cy="1747.40" r="3.4" fill="#2cd1db"/>
<text transform="translate(1352.10,1750.60) scale(0.8028,1)" text-anchor="end" font-size="11" >מאומתים חדשים</text>
<circle cx="1274.80" cy="1747.40" r="3.4" fill="#ff7f67"/>
<text transform="translate(1269.80,1750.60) scale(0.8415,1)" text-anchor="end" font-size="11" >ממוצע נע 7 ימים</text>
<text transform="translate(971.70,1760.00) scale(0.7150,1)" text-anchor="end" font-size="11.5" >מאומתים</text>
<text transform="translate(971.70,1769.65) scale(0.7150,1)" text-anchor="end" font-size="11.5" >חדשים</text>
<line x1="990.40" x2="1364.70" y1="1879.20" y2="1879.20" stroke="rgba(255,255,255,.42)" stroke-width="1"/>
<line x1="990.40" x2="1364.70" y1="1860.52" y2="1860.52" stroke="rgba(255,255,255,.42)" stroke-width="1"/>
<line x1="990.40" x2="1364.70" y1="1841.84" y2="1841.84" stroke="rgba(255,255,255,.42)" stroke-width="1"/>
<line x1="990.40" x2="1364.70" y1="1823.16" y2="1823.16" stroke="rgba(255,255,255,.42)" stroke-width="1"/>
<line x1="990.40" x2="1364.70" y1="1804.48" y2="1804.48" stroke="rgba(255,255,255,.42)" stroke-width="1"/>
<line x1="990.40" x2="1364.70" y1="1785.80" y2="1785.80" stroke="rgba(255,255,255,.42)" stroke-width="1"/>
<text transform="translate(971.70,1881.50) scale(0.9250,1)" text-anchor="end" font-size="9" >0</text>
<text transform="translate(971.70,1862.82) scale(0.9250,1)" text-anchor="end" font-size="9" >3,000</text>
<text transform="translate(971.70,1844.14) scale(0.9250,1)" text-anchor="end" font-size="9" >6,000</text>
<text transform="translate(971.70,1825.46) scale(0.9250,1)" text-anchor="end" font-size="9" >9,000</text>
<text transform="translate(971.70,1806.78) scale(0.9250,1)" text-anchor="end" font-size="9" >12,000</text>
<text transform="translate(971.70,1788.10) scale(0.9250,1)" text-anchor="end" font-size="9" >15,000</text>
<line x1="996.60" x2="996.60" y1="1879.20" y2="1887.50" stroke="rgba(255,255,255,.42)" stroke-width="1"/>
<text transform="translate(996.60,1898.40) scale(0.9148,1)" text-anchor="middle" font-size="9" >15.08</text>
<line x1="1034.04" x2="1034.04" y1="1879.20" y2="1887.50" stroke="rgba(255,255,255,.42)" stroke-width="1"/>
<text transform="translate(1034.04,1898.40) scale(0.9148,1)" text-anchor="middle" font-size="9" >18.08</text>
<line x1="1071.48" x2="1071.48" y1="1879.20" y2="1887.50" stroke="rgba(255,255,255,.42)" stroke-width="1"/>
<text transform="translate(1071.48,1898.40) scale(0.9148,1)" text-anchor="middle" font-size="9" >21.08</text>
<line x1="1108.92" x2="1108.92" y1="1879.20" y2="1887.50" stroke="rgba(255,255,255,.42)" stroke-width="1"/>
<text transform="translate(1108.92,1898.40) scale(0.9148,1)" text-anchor="middle" font-size="9" >24.08</text>
<line x1="1146.36" x2="1146.36" y1="1879.20" y2="1887.50" stroke="rgba(255,255,255,.42)" stroke-width="1"/>
<text transform="translate(1146.36,1898.40) scale(0.9148,1)" text-anchor="middle" font-size="9" >27.08</text>
<line x1="1183.80" x2="1183.80" y1="1879.20" y2="1887.50" stroke="rgba(255,255,255,.42)" stroke-width="1"/>
<text transform="translate(1183.80,1898.40) scale(0.9148,1)" text-anchor="middle" font-size="9" >30.08</text>
<line x1="1221.24" x2="1221.24" y1="1879.20" y2="1887.50" stroke="rgba(255,255,255,.42)" stroke-width="1"/>
<text transform="translate(1221.24,1898.40) scale(0.9148,1)" text-anchor="middle" font-size="9" >02.09</text>
<line x1="1258.68" x2="1258.68" y1="1879.20" y2="1887.50" stroke="rgba(255,255,255,.42)" stroke-width="1"/>
<text transform="translate(1258.68,1898.40) scale(0.9148,1)" text-anchor="middle" font-size="9" >05.09</text>
<line x1="1296.12" x2="1296.12" y1="1879.20" y2="1887.50" stroke="rgba(255,255,255,.42)" stroke-width="1"/>
<text transform="translate(1296.12,1898.40) scale(0.9148,1)" text-anchor="middle" font-size="9" >08.09</text>
<line x1="1333.56" x2="1333.56" y1="1879.20" y2="1887.50" stroke="rgba(255,255,255,.42)" stroke-width="1"/>
<text transform="translate(1333.56,1898.40) scale(0.9427,1)" text-anchor="middle" font-size="9" >11.09</text>
<text transform="translate(1177.30,1913.70) scale(0.7679,1)" text-anchor="middle" font-size="11.5" >תאריך</text>
<path d="M996.60,1844.95 L1009.08,1843.52 L1021.56,1841.47 L1034.04,1839.41 L1046.52,1837.98 L1059.00,1836.30 L1071.48,1834.55 L1083.96,1833.50 L1096.44,1832.13 L1108.92,1831.07 L1121.40,1829.01 L1133.88,1827.95 L1146.36,1826.90 L1158.84,1826.21 L1171.32,1824.53 L1183.80,1824.53 L1196.28,1823.47 L1208.76,1823.16 L1221.24,1821.35 L1233.72,1819.30 L1246.20,1818.24 L1258.68,1820.36 L1271.16,1821.04 L1283.64,1821.35 L1296.12,1824.53 L1308.60,1831.75 L1321.08,1834.55 L1333.56,1834.55 L1346.04,1830.01 L1358.52,1828.64" fill="none" stroke="#c8624f" stroke-width="1" stroke-linejoin="round"/>
<circle cx="996.60" cy="1844.95" r="2.5" fill="#ff7f67"/>
<circle cx="1009.08" cy="1843.52" r="2.5" fill="#ff7f67"/>
<circle cx="1021.56" cy="1841.47" r="2.5" fill="#ff7f67"/>
<circle cx="1034.04" cy="1839.41" r="2.5" fill="#ff7f67"/>
<circle cx="1046.52" cy="1837.98" r="2.5" fill="#ff7f67"/>
<circle cx="1059.00" cy="1836.30" r="2.5" fill="#ff7f67"/>
<circle cx="1071.48" cy="1834.55" r="2.5" fill="#ff7f67"/>
<circle cx="1083.96" cy="1833.50" r="2.5" fill="#ff7f67"/>
<circle cx="1096.44" cy="1832.13" r="2.5" fill="#ff7f67"/>
<circle cx="1108.92" cy="1831.07" r="2.5" fill="#ff7f67"/>
<circle cx="1121.40" cy="1829.01" r="2.5" fill="#ff7f67"/>
<circle cx="1133.88" cy="1827.95" r="2.5" fill="#ff7f67"/>
<circle cx="1146.36" cy="1826.90" r="2.5" fill="#ff7f67"/>
<circle cx="1158.84" cy="1826.21" r="2.5" fill="#ff7f67"/>
<circle cx="1171.32" cy="1824.53" r="2.5" fill="#ff7f67"/>
<circle cx="1183.80" cy="1824.53" r="2.5" fill="#ff7f67"/>
<circle cx="1196.28" cy="1823.47" r="2.5" fill="#ff7f67"/>
<circle cx="1208.76" cy="1823.16" r="2.5" fill="#ff7f67"/>
<circle cx="1221.24" cy="1821.35" r="2.5" fill="#ff7f67"/>
<circle cx="1233.72" cy="1819.30" r="2.5" fill="#ff7f67"/>
<circle cx="1246.20" cy="1818.24" r="2.5" fill="#ff7f67"/>
<circle cx="1258.68" cy="1820.36" r="2.5" fill="#ff7f67"/>
<circle cx="1271.16" cy="1821.04" r="2.5" fill="#ff7f67"/>
<circle cx="1283.64" cy="1821.35" r="2.5" fill="#ff7f67"/>
<circle cx="1296.12" cy="1824.53" r="2.5" fill="#ff7f67"/>
<circle cx="1308.60" cy="1831.75" r="2.5" fill="#ff7f67"/>
<circle cx="1321.08" cy="1834.55" r="2.5" fill="#ff7f67"/>
<circle cx="1333.56" cy="1834.55" r="2.5" fill="#ff7f67"/>
<circle cx="1346.04" cy="1830.01" r="2.5" fill="#ff7f67"/>
<circle cx="1358.52" cy="1828.64" r="2.5" fill="#e4e4e4"/></svg>
<div class="card" style="left:477.9px;top:1684.5px;width:444.0px;height:485.75px;"></div>
<div style="position:absolute;left:477.9px;top:1926.9px;width:444.0px;height:1.2px;background:rgba(255,255,255,.75)"></div>
<span class="t" style="top:1702.00px;font-size:11.5px;font-weight:bold;right:502.30px;transform-origin:right center;transform:scaleX(0.8011);">אחוז נבדקים חיוביים</span>
<div class="info" style="left:795.05px;top:1701.20px;width:11.5px;height:11.5px"><b>i</b></div>
<div class="pill" style="left:549.7px;top:1696.5px;width:97.19999999999993px;height:22.0px"></div>
<span class="t" style="top:1702.00px;font-size:10.5px;font-weight:bold;right:764.80px;transform-origin:right center;transform:scaleX(0.7814);">חודש אחרון</span>
<div class="note" style="left:718.9px;top:1722px;width:178.80000000000007px;height:16px"></div>
<span class="t" style="top:1724.00px;font-size:10px;right:518.90px;transform-origin:right center;transform:scaleX(0.7047);">הנתונים אינם כוללים מידע על בדיקות לאבחון החלמה</span>
<svg style="left:477.9px;top:1684.5px" width="444.0" height="243.25" viewBox="477.9 1684.5 444.0 243.25"><circle cx="511.30" cy="1707.50" r="9.6" fill="#2a3a47"/>
<path d="M511.30,1704.10 V1710.70 M508.70,1708.20 L511.30,1710.80 L513.90,1708.20" fill="none" stroke="#fff" stroke-width="1.05" stroke-linecap="round" stroke-linejoin="round"/>
<circle cx="535.10" cy="1707.50" r="9.6" fill="#2a3a47"/>
<path d="M538.00,1704.40 L532.10,1707.50 L538.00,1710.60" fill="none" stroke="#fff" stroke-width=".95"/>
<circle cx="538.00" cy="1704.40" r="1.55" fill="#fff"/>
<circle cx="532.10" cy="1707.50" r="1.55" fill="#fff"/>
<circle cx="538.00" cy="1710.60" r="1.55" fill="#fff"/>
<path d="M557.00,1706.70 L559.40,1709.10 L561.80,1706.70" fill="none" stroke="rgba(255,255,255,.6)" stroke-width=".9"/>
<g transform="translate(889.70,1730.00)"><circle r="4" fill="#1c2833"/><rect x="-.45" y="-1" width=".9" height="3.2" fill="#fff"/><circle cy="-2.3" r=".6" fill="#fff"/></g>
<text transform="translate(523.80,1754.50) scale(0.7150,1)" text-anchor="end" font-size="11.5" >אחוז</text>
<text transform="translate(523.80,1764.15) scale(0.7150,1)" text-anchor="end" font-size="11.5" >נבדקים</text>
<text transform="translate(523.80,1773.80) scale(0.7150,1)" text-anchor="end" font-size="11.5" >חיוביים</text>
<line x1="540.40" x2="901.10" y1="1879.40" y2="1879.40" stroke="rgba(255,255,255,.42)" stroke-width="1"/>
<line x1="540.40" x2="901.10" y1="1860.18" y2="1860.18" stroke="rgba(255,255,255,.42)" stroke-width="1"/>
<line x1="540.40" x2="901.10" y1="1840.96" y2="1840.96" stroke="rgba(255,255,255,.42)" stroke-width="1"/>
<line x1="540.40" x2="901.10" y1="1821.74" y2="1821.74" stroke="rgba(255,255,255,.42)" stroke-width="1"/>
<line x1="540.40" x2="901.10" y1="1802.52" y2="1802.52" stroke="rgba(255,255,255,.42)" stroke-width="1"/>
<line x1="540.40" x2="901.10" y1="1783.30" y2="1783.30" stroke="rgba(255,255,255,.42)" stroke-width="1"/>
<text transform="translate(523.80,1881.70) scale(0.9250,1)" text-anchor="end" font-size="9" >0.0%</text>
<text transform="translate(523.80,1862.48) scale(0.9250,1)" text-anchor="end" font-size="9" >2.0%</text>
<text transform="translate(523.80,1843.26) scale(0.9250,1)" text-anchor="end" font-size="9" >4.0%</text>
<text transform="translate(523.80,1824.04) scale(0.9250,1)" text-anchor="end" font-size="9" >6.0%</text>
<text transform="translate(523.80,1804.82) scale(0.9250,1)" text-anchor="end" font-size="9" >8.0%</text>
<text transform="translate(523.80,1785.60) scale(0.9250,1)" text-anchor="end" font-size="9" >10.0%</text>
<line x1="546.60" x2="546.60" y1="1879.40" y2="1887.70" stroke="rgba(255,255,255,.42)" stroke-width="1"/>
<text transform="translate(546.60,1898.60) scale(0.9148,1)" text-anchor="middle" font-size="9" >15.08</text>
<line x1="582.60" x2="582.60" y1="1879.40" y2="1887.70" stroke="rgba(255,255,255,.42)" stroke-width="1"/>
<text transform="translate(582.60,1898.60) scale(0.9148,1)" text-anchor="middle" font-size="9" >18.08</text>
<line x1="618.60" x2="618.60" y1="1879.40" y2="1887.70" stroke="rgba(255,255,255,.42)" stroke-width="1"/>
<text transform="translate(618.60,1898.60) scale(0.9148,1)" text-anchor="middle" font-size="9" >21.08</text>
<line x1="654.60" x2="654.60" y1="1879.40" y2="1887.70" stroke="rgba(255,255,255,.42)" stroke-width="1"/>
<text transform="translate(654.60,1898.60) scale(0.9148,1)" text-anchor="middle" font-size="9" >24.08</text>
<line x1="690.60" x2="690.60" y1="1879.40" y2="1887.70" stroke="rgba(255,255,255,.42)" stroke-width="1"/>
<text transform="translate(690.60,1898.60) scale(0.9148,1)" text-anchor="middle" font-size="9" >27.08</text>
<line x1="726.60" x2="726.60" y1="1879.40" y2="1887.70" stroke="rgba(255,255,255,.42)" stroke-width="1"/>
<text transform="translate(726.60,1898.60) scale(0.9148,1)" text-anchor="middle" font-size="9" >30.08</text>
<line x1="762.60" x2="762.60" y1="1879.40" y2="1887.70" stroke="rgba(255,255,255,.42)" stroke-width="1"/>
<text transform="translate(762.60,1898.60) scale(0.9148,1)" text-anchor="middle" font-size="9" >02.09</text>
<line x1="798.60" x2="798.60" y1="1879.40" y2="1887.70" stroke="rgba(255,255,255,.42)" stroke-width="1"/>
<text transform="translate(798.60,1898.60) scale(0.9148,1)" text-anchor="middle" font-size="9" >05.09</text>
<line x1="834.60" x2="834.60" y1="1879.40" y2="1887.70" stroke="rgba(255,255,255,.42)" stroke-width="1"/>
<text transform="translate(834.60,1898.60) scale(0.9148,1)" text-anchor="middle" font-size="9" >08.09</text>
<line x1="870.60" x2="870.60" y1="1879.40" y2="1887.70" stroke="rgba(255,255,255,.42)" stroke-width="1"/>
<text transform="translate(870.60,1898.60) scale(0.9427,1)" text-anchor="middle" font-size="9" >11.09</text>
<text transform="translate(720.60,1913.90) scale(0.7679,1)" text-anchor="middle" font-size="11.5" >תאריך</text>
<path d="M546.60,1820.59 L558.60,1819.24 L570.60,1825.10 L582.60,1826.16 L594.60,1825.78 L606.60,1826.83 L618.60,1827.22 L630.60,1819.91 L642.60,1815.49 L654.60,1814.72 L666.60,1815.78 L678.60,1814.44 L690.60,1815.11 L702.60,1810.59 L714.60,1804.06 L726.60,1805.40 L738.60,1814.44 L750.60,1803.00 L762.60,1797.81 L774.60,1812.71 L786.60,1823.76 L798.60,1827.89 L810.60,1820.97 L822.60,1809.25 L834.60,1826.55 L846.60,1818.57 L858.60,1815.78 L870.60,1815.78 L882.60,1828.56 L894.60,1832.70" fill="none" stroke="#2cd1db" stroke-width="1" stroke-linejoin="round"/>
<circle cx="546.60" cy="1820.59" r="2.4" fill="#2cd1db"/>
<circle cx="558.60" cy="1819.24" r="2.4" fill="#2cd1db"/>
<circle cx="570.60" cy="1825.10" r="2.4" fill="#2cd1db"/>
<circle cx="582.60" cy="1826.16" r="2.4" fill="#2cd1db"/>
<circle cx="594.60" cy="1825.78" r="2.4" fill="#2cd1db"/>
<circle cx="606.60" cy="1826.83" r="2.4" fill="#2cd1db"/>
<circle cx="618.60" cy="1827.22" r="2.4" fill="#2cd1db"/>
<circle cx="630.60" cy="1819.91" r="2.4" fill="#2cd1db"/>
<circle cx="642.60" cy="1815.49" r="2.4" fill="#2cd1db"/>
<circle cx="654.60" cy="1814.72" r="2.4" fill="#2cd1db"/>
<circle cx="666.60" cy="1815.78" r="2.4" fill="#2cd1db"/>
<circle cx="678.60" cy="1814.44" r="2.4" fill="#2cd1db"/>
<circle cx="690.60" cy="1815.11" r="2.4" fill="#2cd1db"/>
<circle cx="702.60" cy="1810.59" r="2.4" fill="#2cd1db"/>
<circle cx="714.60" cy="1804.06" r="2.4" fill="#2cd1db"/>
<circle cx="726.60" cy="1805.40" r="2.4" fill="#2cd1db"/>
<circle cx="738.60" cy="1814.44" r="2.4" fill="#2cd1db"/>
<circle cx="750.60" cy="1803.00" r="2.4" fill="#2cd1db"/>
<circle cx="762.60" cy="1797.81" r="2.4" fill="#2cd1db"/>
<circle cx="774.60" cy="1812.71" r="2.4" fill="#2cd1db"/>
<circle cx="786.60" cy="1823.76" r="2.4" fill="#2cd1db"/>
<circle cx="798.60" cy="1827.89" r="2.4" fill="#2cd1db"/>
<circle cx="810.60" cy="1820.97" r="2.4" fill="#2cd1db"/>
<circle cx="822.60" cy="1809.25" r="2.4" fill="#2cd1db"/>
<circle cx="834.60" cy="1826.55" r="2.4" fill="#2cd1db"/>
<circle cx="846.60" cy="1818.57" r="2.4" fill="#2cd1db"/>
<circle cx="858.60" cy="1815.78" r="2.4" fill="#2cd1db"/>
<circle cx="870.60" cy="1815.78" r="2.4" fill="#2cd1db"/>
<circle cx="882.60" cy="1828.56" r="2.4" fill="#2cd1db"/>
<circle cx="894.60" cy="1832.70" r="2.4" fill="#fff"/></svg>
<span class="t" style="top:1953.00px;font-size:11.5px;font-weight:bold;right:495.40px;transform-origin:right center;transform:scaleX(0.8013);">מספר בדיקות - יומי</span>
<div class="info" style="left:806.85px;top:1951.80px;width:11.5px;height:11.5px"><b>i</b></div>
<div class="pill" style="left:542.8px;top:1947.3px;width:97.5px;height:22.200000000000045px"></div>
<span class="t" style="top:1953.00px;font-size:10.5px;font-weight:bold;right:771.40px;transform-origin:right center;transform:scaleX(0.7814);">חודש אחרון</span>
<div class="note" style="left:725.8px;top:1972.6px;width:178.80000000000007px;height:15.900000000000091px"></div>
<span class="t" style="top:1975.00px;font-size:10px;right:512.00px;transform-origin:right center;transform:scaleX(0.7060);">הנתונים אינם כוללים מידע על בדיקות לאבחון החלמה</span>
<svg style="left:477.9px;top:1928.5px" width="444.0" height="241.75" viewBox="477.9 1928.5 444.0 241.75"><rect x="536.95" y="2088.86" width="5.50" height="41.14" fill="#ff7f67" />
<rect x="536.95" y="2091.31" width="5.50" height="38.69" fill="#2cd1db" />
<rect x="549.43" y="2062.26" width="5.50" height="67.74" fill="#ff7f67" />
<rect x="549.43" y="2068.49" width="5.50" height="61.51" fill="#2cd1db" />
<rect x="561.91" y="2063.64" width="5.50" height="66.36" fill="#ff7f67" />
<rect x="561.91" y="2069.87" width="5.50" height="60.13" fill="#2cd1db" />
<rect x="574.39" y="2062.62" width="5.50" height="67.38" fill="#ff7f67" />
<rect x="574.39" y="2068.18" width="5.50" height="61.82" fill="#2cd1db" />
<rect x="586.87" y="2065.06" width="5.50" height="64.94" fill="#ff7f67" />
<rect x="586.87" y="2070.22" width="5.50" height="59.78" fill="#2cd1db" />
<rect x="599.35" y="2062.97" width="5.50" height="67.03" fill="#ff7f67" />
<rect x="599.35" y="2068.18" width="5.50" height="61.82" fill="#2cd1db" />
<rect x="611.83" y="2084.37" width="5.50" height="45.63" fill="#ff7f67" />
<rect x="611.83" y="2086.86" width="5.50" height="43.14" fill="#2cd1db" />
<rect x="624.31" y="2080.94" width="5.50" height="49.06" fill="#ff7f67" />
<rect x="624.31" y="2082.99" width="5.50" height="47.01" fill="#2cd1db" />
<rect x="636.79" y="2059.86" width="5.50" height="70.14" fill="#ff7f67" />
<rect x="636.79" y="2066.40" width="5.50" height="63.60" fill="#2cd1db" />
<rect x="649.27" y="2060.88" width="5.50" height="69.12" fill="#ff7f67" />
<rect x="649.27" y="2067.11" width="5.50" height="62.89" fill="#2cd1db" />
<rect x="661.75" y="2064.35" width="5.50" height="65.65" fill="#ff7f67" />
<rect x="661.75" y="2069.51" width="5.50" height="60.49" fill="#2cd1db" />
<rect x="674.23" y="2064.35" width="5.50" height="65.65" fill="#ff7f67" />
<rect x="674.23" y="2069.96" width="5.50" height="60.04" fill="#2cd1db" />
<rect x="686.71" y="2068.18" width="5.50" height="61.82" fill="#ff7f67" />
<rect x="686.71" y="2073.69" width="5.50" height="56.31" fill="#2cd1db" />
<rect x="699.19" y="2082.41" width="5.50" height="47.59" fill="#ff7f67" />
<rect x="699.19" y="2084.72" width="5.50" height="45.28" fill="#2cd1db" />
<rect x="711.67" y="2089.53" width="5.50" height="40.47" fill="#ff7f67" />
<rect x="711.67" y="2091.31" width="5.50" height="38.69" fill="#2cd1db" />
<rect x="724.15" y="2062.97" width="5.50" height="67.03" fill="#ff7f67" />
<rect x="724.15" y="2068.49" width="5.50" height="61.51" fill="#2cd1db" />
<rect x="736.63" y="2058.48" width="5.50" height="71.52" fill="#ff7f67" />
<rect x="736.63" y="2064.71" width="5.50" height="65.29" fill="#2cd1db" />
<rect x="749.11" y="2064.35" width="5.50" height="65.65" fill="#ff7f67" />
<rect x="749.11" y="2069.51" width="5.50" height="60.49" fill="#2cd1db" />
<rect x="761.59" y="2067.82" width="5.50" height="62.18" fill="#ff7f67" />
<rect x="761.59" y="2072.63" width="5.50" height="57.37" fill="#2cd1db" />
<rect x="774.07" y="2064.00" width="5.50" height="66.00" fill="#ff7f67" />
<rect x="774.07" y="2068.18" width="5.50" height="61.82" fill="#2cd1db" />
<rect x="786.55" y="2089.97" width="5.50" height="40.03" fill="#ff7f67" />
<rect x="786.55" y="2091.97" width="5.50" height="38.03" fill="#2cd1db" />
<rect x="799.03" y="2079.30" width="5.50" height="50.70" fill="#ff7f67" />
<rect x="799.03" y="2081.61" width="5.50" height="48.39" fill="#2cd1db" />
<rect x="811.51" y="2047.05" width="5.50" height="82.95" fill="#ff7f67" />
<rect x="811.51" y="2054.39" width="5.50" height="75.61" fill="#2cd1db" />
<rect x="823.99" y="2086.41" width="5.50" height="43.59" fill="#ff7f67" />
<rect x="823.99" y="2088.64" width="5.50" height="41.36" fill="#2cd1db" />
<rect x="836.47" y="2101.98" width="5.50" height="28.02" fill="#ff7f67" />
<rect x="836.47" y="2102.69" width="5.50" height="27.31" fill="#2cd1db" />
<rect x="848.95" y="2069.51" width="5.50" height="60.49" fill="#ff7f67" />
<rect x="848.95" y="2071.96" width="5.50" height="58.04" fill="#2cd1db" />
<rect x="861.43" y="2050.17" width="5.50" height="79.83" fill="#ff7f67" />
<rect x="861.43" y="2056.39" width="5.50" height="73.61" fill="#2cd1db" />
<rect x="873.91" y="2056.39" width="5.50" height="73.61" fill="#ff7f67" />
<rect x="873.91" y="2060.17" width="5.50" height="69.83" fill="#2cd1db" />
<rect x="886.39" y="2060.62" width="5.50" height="69.38" fill="#ff7f67" />
<rect x="886.39" y="2062.62" width="5.50" height="67.38" fill="#2cd1db" />
<rect x="898.87" y="2103.76" width="5.50" height="26.24" fill="#a9a9a9" />
<rect x="898.87" y="2106.52" width="5.50" height="23.48" fill="#fff" />
<circle cx="504.40" cy="1958.00" r="9.6" fill="#2a3a47"/>
<path d="M504.40,1954.60 V1961.20 M501.80,1958.70 L504.40,1961.30 L507.00,1958.70" fill="none" stroke="#fff" stroke-width="1.05" stroke-linecap="round" stroke-linejoin="round"/>
<circle cx="528.20" cy="1958.00" r="9.6" fill="#2a3a47"/>
<path d="M531.10,1954.90 L525.20,1958.00 L531.10,1961.10" fill="none" stroke="#fff" stroke-width=".95"/>
<circle cx="531.10" cy="1954.90" r="1.55" fill="#fff"/>
<circle cx="525.20" cy="1958.00" r="1.55" fill="#fff"/>
<circle cx="531.10" cy="1961.10" r="1.55" fill="#fff"/>
<path d="M550.40,1957.60 L552.80,1960.00 L555.20,1957.60" fill="none" stroke="rgba(255,255,255,.6)" stroke-width=".9"/>
<g transform="translate(896.30,1980.60)"><circle r="4" fill="#1c2833"/><rect x="-.45" y="-1" width=".9" height="3.2" fill="#fff"/><circle cy="-2.3" r=".6" fill="#fff"/></g>
<circle cx="900.50" cy="2002.30" r="3.4" fill="#2cd1db"/>
<text transform="translate(895.50,2005.50) scale(0.8117,1)" text-anchor="end" font-size="11" >בדיקות ללא סקר</text>
<circle cx="818.10" cy="2002.30" r="3.4" fill="#ff7f67"/>
<text transform="translate(813.10,2005.50) scale(0.7983,1)" text-anchor="end" font-size="11" >בדיקות סקר</text>
<text transform="translate(517.20,2004.20) scale(0.7150,1)" text-anchor="end" font-size="11.5" >מספר</text>
<text transform="translate(517.20,2013.85) scale(0.7150,1)" text-anchor="end" font-size="11.5" >בדיקות</text>
<line x1="533.80" x2="907.70" y1="2130.00" y2="2130.00" stroke="rgba(255,255,255,.42)" stroke-width="1"/>
<line x1="533.80" x2="907.70" y1="2116.66" y2="2116.66" stroke="rgba(255,255,255,.42)" stroke-width="1"/>
<line x1="533.80" x2="907.70" y1="2103.31" y2="2103.31" stroke="rgba(255,255,255,.42)" stroke-width="1"/>
<line x1="533.80" x2="907.70" y1="2089.97" y2="2089.97" stroke="rgba(255,255,255,.42)" stroke-width="1"/>
<line x1="533.80" x2="907.70" y1="2076.63" y2="2076.63" stroke="rgba(255,255,255,.42)" stroke-width="1"/>
<line x1="533.80" x2="907.70" y1="2063.29" y2="2063.29" stroke="rgba(255,255,255,.42)" stroke-width="1"/>
<line x1="533.80" x2="907.70" y1="2049.94" y2="2049.94" stroke="rgba(255,255,255,.42)" stroke-width="1"/>
<line x1="533.80" x2="907.70" y1="2036.60" y2="2036.60" stroke="rgba(255,255,255,.42)" stroke-width="1"/>
<text transform="translate(517.20,2132.30) scale(0.9250,1)" text-anchor="end" font-size="9" >0</text>
<text transform="translate(517.20,2118.96) scale(0.9250,1)" text-anchor="end" font-size="9" >30,000</text>
<text transform="translate(517.20,2105.61) scale(0.9250,1)" text-anchor="end" font-size="9" >60,000</text>
<text transform="translate(517.20,2092.27) scale(0.9250,1)" text-anchor="end" font-size="9" >90,000</text>
<text transform="translate(517.20,2078.93) scale(0.9250,1)" text-anchor="end" font-size="9" >120,000</text>
<text transform="translate(517.20,2065.59) scale(0.9250,1)" text-anchor="end" font-size="9" >150,000</text>
<text transform="translate(517.20,2052.24) scale(0.9250,1)" text-anchor="end" font-size="9" >180,000</text>
<text transform="translate(517.20,2038.90) scale(0.9250,1)" text-anchor="end" font-size="9" >210,000</text>
<line x1="539.70" x2="539.70" y1="2130.00" y2="2138.30" stroke="rgba(255,255,255,.42)" stroke-width="1"/>
<text transform="translate(539.70,2149.20) scale(0.9148,1)" text-anchor="middle" font-size="9" >15.08</text>
<line x1="577.14" x2="577.14" y1="2130.00" y2="2138.30" stroke="rgba(255,255,255,.42)" stroke-width="1"/>
<text transform="translate(577.14,2149.20) scale(0.9148,1)" text-anchor="middle" font-size="9" >18.08</text>
<line x1="614.58" x2="614.58" y1="2130.00" y2="2138.30" stroke="rgba(255,255,255,.42)" stroke-width="1"/>
<text transform="translate(614.58,2149.20) scale(0.9148,1)" text-anchor="middle" font-size="9" >21.08</text>
<line x1="652.02" x2="652.02" y1="2130.00" y2="2138.30" stroke="rgba(255,255,255,.42)" stroke-width="1"/>
<text transform="translate(652.02,2149.20) scale(0.9148,1)" text-anchor="middle" font-size="9" >24.08</text>
<line x1="689.46" x2="689.46" y1="2130.00" y2="2138.30" stroke="rgba(255,255,255,.42)" stroke-width="1"/>
<text transform="translate(689.46,2149.20) scale(0.9148,1)" text-anchor="middle" font-size="9" >27.08</text>
<line x1="726.90" x2="726.90" y1="2130.00" y2="2138.30" stroke="rgba(255,255,255,.42)" stroke-width="1"/>
<text transform="translate(726.90,2149.20) scale(0.9148,1)" text-anchor="middle" font-size="9" >30.08</text>
<line x1="764.34" x2="764.34" y1="2130.00" y2="2138.30" stroke="rgba(255,255,255,.42)" stroke-width="1"/>
<text transform="translate(764.34,2149.20) scale(0.9148,1)" text-anchor="middle" font-size="9" >02.09</text>
<line x1="801.78" x2="801.78" y1="2130.00" y2="2138.30" stroke="rgba(255,255,255,.42)" stroke-width="1"/>
<text transform="translate(801.78,2149.20) scale(0.9148,1)" text-anchor="middle" font-size="9" >05.09</text>
<line x1="839.22" x2="839.22" y1="2130.00" y2="2138.30" stroke="rgba(255,255,255,.42)" stroke-width="1"/>
<text transform="translate(839.22,2149.20) scale(0.9148,1)" text-anchor="middle" font-size="9" >08.09</text>
<line x1="876.66" x2="876.66" y1="2130.00" y2="2138.30" stroke="rgba(255,255,255,.42)" stroke-width="1"/>
<text transform="translate(876.66,2149.20) scale(0.9427,1)" text-anchor="middle" font-size="9" >11.09</text>
<text transform="translate(720.60,2164.50) scale(0.7679,1)" text-anchor="middle" font-size="11.5" >תאריך</text></svg>
<div class="card" style="left:20.9px;top:1684.5px;width:444.0px;height:485.75px;"></div>
<div style="position:absolute;left:20.9px;top:1926.9px;width:444.0px;height:1.2px;background:rgba(255,255,255,.75)"></div>
<span class="t" style="top:1702.00px;font-size:11.5px;font-weight:bold;right:952.40px;transform-origin:right center;transform:scaleX(0.8026);">מספר חולים קשה</span>
<div class="info" style="left:355.75px;top:1701.20px;width:11.5px;height:11.5px"><b>i</b></div>
<div class="pill" style="left:85.8px;top:1696.5px;width:97.50000000000001px;height:22.0px"></div>
<span class="t" style="top:1702.00px;font-size:10.5px;font-weight:bold;right:1228.40px;transform-origin:right center;transform:scaleX(0.7814);">חודש אחרון</span>
<svg style="left:20.9px;top:1684.5px" width="444.0" height="243.25" viewBox="20.9 1684.5 444.0 243.25"><defs><linearGradient id="gsev" x1="0" x2="0" y1="1804.988" y2="1879.4" gradientUnits="userSpaceOnUse"><stop offset="0" stop-color="#d9705d" stop-opacity=".78"/><stop offset="1" stop-color="#ff7f67" stop-opacity=".04"/></linearGradient></defs><circle cx="47.70" cy="1707.50" r="9.6" fill="#2a3a47"/>
<path d="M47.70,1704.10 V1710.70 M45.10,1708.20 L47.70,1710.80 L50.30,1708.20" fill="none" stroke="#fff" stroke-width="1.05" stroke-linecap="round" stroke-linejoin="round"/>
<circle cx="71.50" cy="1707.50" r="9.6" fill="#2a3a47"/>
<path d="M74.40,1704.40 L68.50,1707.50 L74.40,1710.60" fill="none" stroke="#fff" stroke-width=".95"/>
<circle cx="74.40" cy="1704.40" r="1.55" fill="#fff"/>
<circle cx="68.50" cy="1707.50" r="1.55" fill="#fff"/>
<circle cx="74.40" cy="1710.60" r="1.55" fill="#fff"/>
<path d="M93.40,1706.70 L95.80,1709.10 L98.20,1706.70" fill="none" stroke="rgba(255,255,255,.6)" stroke-width=".9"/>
<text transform="translate(59.50,1758.60) scale(0.7150,1)" text-anchor="end" font-size="11.5" >מספר</text>
<text transform="translate(59.50,1768.25) scale(0.7150,1)" text-anchor="end" font-size="11.5" >חולים</text>
<path d="M82.30,1826.26 L94.78,1826.93 L107.26,1824.16 L119.74,1821.02 L132.22,1821.02 L144.70,1820.06 L157.18,1815.48 L169.66,1812.43 L182.14,1811.76 L194.62,1811.76 L207.10,1811.38 L219.58,1811.76 L232.06,1811.76 L244.54,1811.76 L257.02,1805.85 L269.50,1806.51 L281.98,1810.33 L294.46,1812.72 L306.94,1814.81 L319.42,1815.86 L331.90,1814.81 L344.38,1812.43 L356.86,1816.25 L369.34,1816.53 L381.82,1815.20 L394.30,1814.15 L406.78,1813.76 L419.26,1813.10 L431.74,1811.00 L444.22,1813.48 L444.22,1879.40 L82.30,1879.40 Z" fill="url(#gsev)"/>
<line x1="76.10" x2="450.00" y1="1879.40" y2="1879.40" stroke="rgba(255,255,255,.42)" stroke-width="1"/>
<line x1="76.10" x2="450.00" y1="1860.32" y2="1860.32" stroke="rgba(255,255,255,.42)" stroke-width="1"/>
<line x1="76.10" x2="450.00" y1="1841.24" y2="1841.24" stroke="rgba(255,255,255,.42)" stroke-width="1"/>
<line x1="76.10" x2="450.00" y1="1822.16" y2="1822.16" stroke="rgba(255,255,255,.42)" stroke-width="1"/>
<line x1="76.10" x2="450.00" y1="1803.08" y2="1803.08" stroke="rgba(255,255,255,.42)" stroke-width="1"/>
<line x1="76.10" x2="450.00" y1="1784.00" y2="1784.00" stroke="rgba(255,255,255,.42)" stroke-width="1"/>
<text transform="translate(59.50,1881.70) scale(0.9250,1)" text-anchor="end" font-size="9" >0</text>
<text transform="translate(59.50,1862.62) scale(0.9250,1)" text-anchor="end" font-size="9" >200</text>
<text transform="translate(59.50,1843.54) scale(0.9250,1)" text-anchor="end" font-size="9" >400</text>
<text transform="translate(59.50,1824.46) scale(0.9250,1)" text-anchor="end" font-size="9" >600</text>
<text transform="translate(59.50,1805.38) scale(0.9250,1)" text-anchor="end" font-size="9" >800</text>
<text transform="translate(59.50,1786.30) scale(0.9250,1)" text-anchor="end" font-size="9" >1,000</text>
<line x1="82.30" x2="82.30" y1="1879.40" y2="1887.70" stroke="rgba(255,255,255,.42)" stroke-width="1"/>
<text transform="translate(82.30,1898.60) scale(0.9148,1)" text-anchor="middle" font-size="9" >15.08</text>
<line x1="119.74" x2="119.74" y1="1879.40" y2="1887.70" stroke="rgba(255,255,255,.42)" stroke-width="1"/>
<text transform="translate(119.74,1898.60) scale(0.9148,1)" text-anchor="middle" font-size="9" >18.08</text>
<line x1="157.18" x2="157.18" y1="1879.40" y2="1887.70" stroke="rgba(255,255,255,.42)" stroke-width="1"/>
<text transform="translate(157.18,1898.60) scale(0.9148,1)" text-anchor="middle" font-size="9" >21.08</text>
<line x1="194.62" x2="194.62" y1="1879.40" y2="1887.70" stroke="rgba(255,255,255,.42)" stroke-width="1"/>
<text transform="translate(194.62,1898.60) scale(0.9148,1)" text-anchor="middle" font-size="9" >24.08</text>
<line x1="232.06" x2="232.06" y1="1879.40" y2="1887.70" stroke="rgba(255,255,255,.42)" stroke-width="1"/>
<text transform="translate(232.06,1898.60) scale(0.9148,1)" text-anchor="middle" font-size="9" >27.08</text>
<line x1="269.50" x2="269.50" y1="1879.40" y2="1887.70" stroke="rgba(255,255,255,.42)" stroke-width="1"/>
<text transform="translate(269.50,1898.60) scale(0.9148,1)" text-anchor="middle" font-size="9" >30.08</text>
<line x1="306.94" x2="306.94" y1="1879.40" y2="1887.70" stroke="rgba(255,255,255,.42)" stroke-width="1"/>
<text transform="translate(306.94,1898.60) scale(0.9148,1)" text-anchor="middle" font-size="9" >02.09</text>
<line x1="344.38" x2="344.38" y1="1879.40" y2="1887.70" stroke="rgba(255,255,255,.42)" stroke-width="1"/>
<text transform="translate(344.38,1898.60) scale(0.9148,1)" text-anchor="middle" font-size="9" >05.09</text>
<line x1="381.82" x2="381.82" y1="1879.40" y2="1887.70" stroke="rgba(255,255,255,.42)" stroke-width="1"/>
<text transform="translate(381.82,1898.60) scale(0.9148,1)" text-anchor="middle" font-size="9" >08.09</text>
<line x1="419.26" x2="419.26" y1="1879.40" y2="1887.70" stroke="rgba(255,255,255,.42)" stroke-width="1"/>
<text transform="translate(419.26,1898.60) scale(0.9427,1)" text-anchor="middle" font-size="9" >11.09</text>
<text transform="translate(263.60,1913.90) scale(0.7679,1)" text-anchor="middle" font-size="11.5" >תאריך</text>
<path d="M82.30,1826.26 L94.78,1826.93 L107.26,1824.16 L119.74,1821.02 L132.22,1821.02 L144.70,1820.06 L157.18,1815.48 L169.66,1812.43 L182.14,1811.76 L194.62,1811.76 L207.10,1811.38 L219.58,1811.76 L232.06,1811.76 L244.54,1811.76 L257.02,1805.85 L269.50,1806.51 L281.98,1810.33 L294.46,1812.72 L306.94,1814.81 L319.42,1815.86 L331.90,1814.81 L344.38,1812.43 L356.86,1816.25 L369.34,1816.53 L381.82,1815.20 L394.30,1814.15 L406.78,1813.76 L419.26,1813.10 L431.74,1811.00 L444.22,1813.48" fill="none" stroke="#d06a57" stroke-width="1" stroke-linejoin="round"/>
<circle cx="82.30" cy="1826.26" r="2.5" fill="#d06a57" stroke="rgba(0,0,0,.25)" stroke-width=".8"/>
<circle cx="94.78" cy="1826.93" r="2.5" fill="#d06a57" stroke="rgba(0,0,0,.25)" stroke-width=".8"/>
<circle cx="107.26" cy="1824.16" r="2.5" fill="#d06a57" stroke="rgba(0,0,0,.25)" stroke-width=".8"/>
<circle cx="119.74" cy="1821.02" r="2.5" fill="#d06a57" stroke="rgba(0,0,0,.25)" stroke-width=".8"/>
<circle cx="132.22" cy="1821.02" r="2.5" fill="#d06a57" stroke="rgba(0,0,0,.25)" stroke-width=".8"/>
<circle cx="144.70" cy="1820.06" r="2.5" fill="#d06a57" stroke="rgba(0,0,0,.25)" stroke-width=".8"/>
<circle cx="157.18" cy="1815.48" r="2.5" fill="#d06a57" stroke="rgba(0,0,0,.25)" stroke-width=".8"/>
<circle cx="169.66" cy="1812.43" r="2.5" fill="#d06a57" stroke="rgba(0,0,0,.25)" stroke-width=".8"/>
<circle cx="182.14" cy="1811.76" r="2.5" fill="#d06a57" stroke="rgba(0,0,0,.25)" stroke-width=".8"/>
<circle cx="194.62" cy="1811.76" r="2.5" fill="#d06a57" stroke="rgba(0,0,0,.25)" stroke-width=".8"/>
<circle cx="207.10" cy="1811.38" r="2.5" fill="#d06a57" stroke="rgba(0,0,0,.25)" stroke-width=".8"/>
<circle cx="219.58" cy="1811.76" r="2.5" fill="#d06a57" stroke="rgba(0,0,0,.25)" stroke-width=".8"/>
<circle cx="232.06" cy="1811.76" r="2.5" fill="#d06a57" stroke="rgba(0,0,0,.25)" stroke-width=".8"/>
<circle cx="244.54" cy="1811.76" r="2.5" fill="#d06a57" stroke="rgba(0,0,0,.25)" stroke-width=".8"/>
<circle cx="257.02" cy="1805.85" r="2.5" fill="#d06a57" stroke="rgba(0,0,0,.25)" stroke-width=".8"/>
<circle cx="269.50" cy="1806.51" r="2.5" fill="#d06a57" stroke="rgba(0,0,0,.25)" stroke-width=".8"/>
<circle cx="281.98" cy="1810.33" r="2.5" fill="#d06a57" stroke="rgba(0,0,0,.25)" stroke-width=".8"/>
<circle cx="294.46" cy="1812.72" r="2.5" fill="#d06a57" stroke="rgba(0,0,0,.25)" stroke-width=".8"/>
<circle cx="306.94" cy="1814.81" r="2.5" fill="#d06a57" stroke="rgba(0,0,0,.25)" stroke-width=".8"/>
<circle cx="319.42" cy="1815.86" r="2.5" fill="#d06a57" stroke="rgba(0,0,0,.25)" stroke-width=".8"/>
<circle cx="331.90" cy="1814.81" r="2.5" fill="#d06a57" stroke="rgba(0,0,0,.25)" stroke-width=".8"/>
<circle cx="344.38" cy="1812.43" r="2.5" fill="#d06a57" stroke="rgba(0,0,0,.25)" stroke-width=".8"/>
<circle cx="356.86" cy="1816.25" r="2.5" fill="#d06a57" stroke="rgba(0,0,0,.25)" stroke-width=".8"/>
<circle cx="369.34" cy="1816.53" r="2.5" fill="#d06a57" stroke="rgba(0,0,0,.25)" stroke-width=".8"/>
<circle cx="381.82" cy="1815.20" r="2.5" fill="#d06a57" stroke="rgba(0,0,0,.25)" stroke-width=".8"/>
<circle cx="394.30" cy="1814.15" r="2.5" fill="#d06a57" stroke="rgba(0,0,0,.25)" stroke-width=".8"/>
<circle cx="406.78" cy="1813.76" r="2.5" fill="#d06a57" stroke="rgba(0,0,0,.25)" stroke-width=".8"/>
<circle cx="419.26" cy="1813.10" r="2.5" fill="#d06a57" stroke="rgba(0,0,0,.25)" stroke-width=".8"/>
<circle cx="431.74" cy="1811.00" r="2.5" fill="#d06a57" stroke="rgba(0,0,0,.25)" stroke-width=".8"/>
<circle cx="444.22" cy="1813.48" r="2.5" fill="#fff" stroke="rgba(0,0,0,.25)" stroke-width=".8"/>
<circle cx="82.30" cy="1826.26" r="2.3" fill="#ff7f67"/>
<circle cx="94.78" cy="1826.93" r="2.3" fill="#ff7f67"/>
<circle cx="107.26" cy="1824.16" r="2.3" fill="#ff7f67"/>
<circle cx="119.74" cy="1821.02" r="2.3" fill="#ff7f67"/>
<circle cx="132.22" cy="1821.02" r="2.3" fill="#ff7f67"/>
<circle cx="144.70" cy="1820.06" r="2.3" fill="#ff7f67"/>
<circle cx="157.18" cy="1815.48" r="2.3" fill="#ff7f67"/>
<circle cx="169.66" cy="1812.43" r="2.3" fill="#ff7f67"/>
<circle cx="182.14" cy="1811.76" r="2.3" fill="#ff7f67"/>
<circle cx="194.62" cy="1811.76" r="2.3" fill="#ff7f67"/>
<circle cx="207.10" cy="1811.38" r="2.3" fill="#ff7f67"/>
<circle cx="219.58" cy="1811.76" r="2.3" fill="#ff7f67"/>
<circle cx="232.06" cy="1811.76" r="2.3" fill="#ff7f67"/>
<circle cx="244.54" cy="1811.76" r="2.3" fill="#ff7f67"/>
<circle cx="257.02" cy="1805.85" r="2.3" fill="#ff7f67"/>
<circle cx="269.50" cy="1806.51" r="2.3" fill="#ff7f67"/>
<circle cx="281.98" cy="1810.33" r="2.3" fill="#ff7f67"/>
<circle cx="294.46" cy="1812.72" r="2.3" fill="#ff7f67"/>
<circle cx="306.94" cy="1814.81" r="2.3" fill="#ff7f67"/>
<circle cx="319.42" cy="1815.86" r="2.3" fill="#ff7f67"/>
<circle cx="331.90" cy="1814.81" r="2.3" fill="#ff7f67"/>
<circle cx="344.38" cy="1812.43" r="2.3" fill="#ff7f67"/>
<circle cx="356.86" cy="1816.25" r="2.3" fill="#ff7f67"/>
<circle cx="369.34" cy="1816.53" r="2.3" fill="#ff7f67"/>
<circle cx="381.82" cy="1815.20" r="2.3" fill="#ff7f67"/>
<circle cx="394.30" cy="1814.15" r="2.3" fill="#ff7f67"/>
<circle cx="406.78" cy="1813.76" r="2.3" fill="#ff7f67"/>
<circle cx="419.26" cy="1813.10" r="2.3" fill="#ff7f67"/>
<circle cx="431.74" cy="1811.00" r="2.3" fill="#ff7f67"/></svg>
<span class="t" style="top:1953.00px;font-size:11.5px;font-weight:bold;right:952.40px;transform-origin:right center;transform:scaleX(0.8098);">חולים קשה חדשים - שינוי יומי</span>
<div class="info" style="left:305.25px;top:1951.80px;width:11.5px;height:11.5px"><b>i</b></div>
<div class="pill" style="left:85.8px;top:1947.3px;width:97.50000000000001px;height:22.200000000000045px"></div>
<span class="t" style="top:1953.00px;font-size:10.5px;font-weight:bold;right:1228.40px;transform-origin:right center;transform:scaleX(0.7814);">חודש אחרון</span>
<div class="note" style="left:182.6px;top:1972.6px;width:261.5px;height:15.900000000000091px"></div>
<span class="t" style="top:1976.00px;font-size:9px;right:971.40px;transform-origin:right center;transform:scaleX(0.7100);">סה"כ</span>
<span class="t" style="top:1976.00px;font-size:9px;font-weight:bold;right:987.90px;transform-origin:right center;transform:scaleX(0.8538);">21,410</span>
<span class="t" style="top:1976.00px;font-size:9px;right:1014.10px;transform-origin:right center;transform:scaleX(0.7754);">חולים קשה ו -</span>
<span class="t" style="top:1976.00px;font-size:9px;font-weight:bold;right:1056.90px;transform-origin:right center;transform:scaleX(0.8748);">4,310</span>
<span class="t" style="top:1976.00px;font-size:9px;right:1079.30px;transform-origin:right center;transform:scaleX(0.7699);">מונשמים</span>
<span class="t" style="top:1976.00px;font-size:9px;font-weight:bold;right:1107.30px;transform-origin:right center;transform:scaleX(0.8109);">מאז תחילת המשבר (מרץ 2020)</span>
<svg style="left:20.9px;top:1928.5px" width="444.0" height="241.75" viewBox="20.9 1928.5 444.0 241.75"><rect x="80.25" y="2052.67" width="4.10" height="77.33" fill="#ff7f67" />
<rect x="92.73" y="2070.09" width="4.10" height="59.91" fill="#ff7f67" />
<rect x="105.21" y="2060.33" width="4.10" height="69.67" fill="#ff7f67" />
<rect x="117.69" y="2056.15" width="4.10" height="73.85" fill="#ff7f67" />
<rect x="130.17" y="2070.09" width="4.10" height="59.91" fill="#ff7f67" />
<rect x="142.65" y="2061.73" width="4.10" height="68.27" fill="#ff7f67" />
<rect x="155.13" y="2060.33" width="4.10" height="69.67" fill="#ff7f67" />
<rect x="167.61" y="2053.37" width="4.10" height="76.63" fill="#ff7f67" />
<rect x="180.09" y="2049.88" width="4.10" height="80.12" fill="#ff7f67" />
<rect x="192.57" y="2060.33" width="4.10" height="69.67" fill="#ff7f67" />
<rect x="205.05" y="2055.46" width="4.10" height="74.54" fill="#ff7f67" />
<rect x="217.53" y="2061.73" width="4.10" height="68.27" fill="#ff7f67" />
<rect x="230.01" y="2060.33" width="4.10" height="69.67" fill="#ff7f67" />
<rect x="242.49" y="2070.09" width="4.10" height="59.91" fill="#ff7f67" />
<rect x="254.97" y="2047.79" width="4.10" height="82.21" fill="#ff7f67" />
<rect x="267.45" y="2056.15" width="4.10" height="73.85" fill="#ff7f67" />
<rect x="279.93" y="2063.82" width="4.10" height="66.18" fill="#ff7f67" />
<rect x="292.41" y="2068.00" width="4.10" height="62.00" fill="#ff7f67" />
<rect x="304.89" y="2073.57" width="4.10" height="56.43" fill="#ff7f67" />
<rect x="317.37" y="2074.27" width="4.10" height="55.73" fill="#ff7f67" />
<rect x="329.85" y="2073.57" width="4.10" height="56.43" fill="#ff7f67" />
<rect x="342.33" y="2069.39" width="4.10" height="60.61" fill="#ff7f67" />
<rect x="354.81" y="2090.99" width="4.10" height="39.01" fill="#ff7f67" />
<rect x="367.29" y="2072.18" width="4.10" height="57.82" fill="#ff7f67" />
<rect x="379.77" y="2084.02" width="4.10" height="45.98" fill="#ff7f67" />
<rect x="392.25" y="2079.84" width="4.10" height="50.16" fill="#ff7f67" />
<rect x="404.73" y="2068.00" width="4.10" height="62.00" fill="#ff7f67" />
<rect x="417.21" y="2076.36" width="4.10" height="53.64" fill="#ff7f67" />
<rect x="429.69" y="2068.00" width="4.10" height="62.00" fill="#ff7f67" />
<rect x="442.17" y="2090.29" width="4.10" height="39.71" fill="#fff" />
<circle cx="47.70" cy="1958.00" r="9.6" fill="#2a3a47"/>
<path d="M47.70,1954.60 V1961.20 M45.10,1958.70 L47.70,1961.30 L50.30,1958.70" fill="none" stroke="#fff" stroke-width="1.05" stroke-linecap="round" stroke-linejoin="round"/>
<circle cx="71.50" cy="1958.00" r="9.6" fill="#2a3a47"/>
<path d="M74.40,1954.90 L68.50,1958.00 L74.40,1961.10" fill="none" stroke="#fff" stroke-width=".95"/>
<circle cx="74.40" cy="1954.90" r="1.55" fill="#fff"/>
<circle cx="68.50" cy="1958.00" r="1.55" fill="#fff"/>
<circle cx="74.40" cy="1961.10" r="1.55" fill="#fff"/>
<path d="M93.40,1957.60 L95.80,1960.00 L98.20,1957.60" fill="none" stroke="rgba(255,255,255,.6)" stroke-width=".9"/>
<g transform="translate(436.50,1981.30)" stroke="#fff" stroke-width=".7" fill="none"><circle r="2.1" cy="-.4"/><path d="M-1,2 h2 M-.8,3.1 h1.6" /><path d="M0,-4.6 v-1.3 M3.2,-3.4 l.9,-.9 M-3.2,-3.4 l-.9,-.9 M4.4,-.4 h1.3 M-4.4,-.4 h-1.3" stroke-width=".6"/></g>
<circle cx="442.80" cy="1998.50" r="3.4" fill="#ff7f67"/>
<text transform="translate(437.80,2001.70) scale(0.8265,1)" text-anchor="end" font-size="11" >חולים קשה</text>
<line x1="376.7" x2="385.7" y1="1998.5" y2="1998.5" stroke="#1da1f2" stroke-width="1.2"/>
<text transform="translate(372.90,2001.70) scale(0.7612,1)" text-anchor="end" font-size="12" >ממוצע חולים קשה לתקופת הזמן המוצגת</text>
<text transform="translate(56.70,2000.20) scale(0.7150,1)" text-anchor="end" font-size="11.5" >מספר</text>
<text transform="translate(56.70,2009.85) scale(0.7150,1)" text-anchor="end" font-size="11.5" >חולים</text>
<line x1="76.10" x2="450.00" y1="2130.00" y2="2130.00" stroke="rgba(255,255,255,.42)" stroke-width="1"/>
<line x1="76.10" x2="450.00" y1="2109.10" y2="2109.10" stroke="rgba(255,255,255,.42)" stroke-width="1"/>
<line x1="76.10" x2="450.00" y1="2088.20" y2="2088.20" stroke="rgba(255,255,255,.42)" stroke-width="1"/>
<line x1="76.10" x2="450.00" y1="2067.30" y2="2067.30" stroke="rgba(255,255,255,.42)" stroke-width="1"/>
<line x1="76.10" x2="450.00" y1="2046.40" y2="2046.40" stroke="rgba(255,255,255,.42)" stroke-width="1"/>
<line x1="76.10" x2="450.00" y1="2025.50" y2="2025.50" stroke="rgba(255,255,255,.42)" stroke-width="1"/>
<text transform="translate(56.70,2132.30) scale(0.9250,1)" text-anchor="end" font-size="9" >0</text>
<text transform="translate(56.70,2111.40) scale(0.9250,1)" text-anchor="end" font-size="9" >30</text>
<text transform="translate(56.70,2090.50) scale(0.9250,1)" text-anchor="end" font-size="9" >60</text>
<text transform="translate(56.70,2069.60) scale(0.9250,1)" text-anchor="end" font-size="9" >90</text>
<text transform="translate(56.70,2048.70) scale(0.9250,1)" text-anchor="end" font-size="9" >120</text>
<text transform="translate(56.70,2027.80) scale(0.9250,1)" text-anchor="end" font-size="9" >150</text>
<line x1="82.30" x2="82.30" y1="2130.00" y2="2138.30" stroke="rgba(255,255,255,.42)" stroke-width="1"/>
<text transform="translate(82.30,2149.20) scale(0.9148,1)" text-anchor="middle" font-size="9" >15.08</text>
<line x1="119.74" x2="119.74" y1="2130.00" y2="2138.30" stroke="rgba(255,255,255,.42)" stroke-width="1"/>
<text transform="translate(119.74,2149.20) scale(0.9148,1)" text-anchor="middle" font-size="9" >18.08</text>
<line x1="157.18" x2="157.18" y1="2130.00" y2="2138.30" stroke="rgba(255,255,255,.42)" stroke-width="1"/>
<text transform="translate(157.18,2149.20) scale(0.9148,1)" text-anchor="middle" font-size="9" >21.08</text>
<line x1="194.62" x2="194.62" y1="2130.00" y2="2138.30" stroke="rgba(255,255,255,.42)" stroke-width="1"/>
<text transform="translate(194.62,2149.20) scale(0.9148,1)" text-anchor="middle" font-size="9" >24.08</text>
<line x1="232.06" x2="232.06" y1="2130.00" y2="2138.30" stroke="rgba(255,255,255,.42)" stroke-width="1"/>
<text transform="translate(232.06,2149.20) scale(0.9148,1)" text-anchor="middle" font-size="9" >27.08</text>
<line x1="269.50" x2="269.50" y1="2130.00" y2="2138.30" stroke="rgba(255,255,255,.42)" stroke-width="1"/>
<text transform="translate(269.50,2149.20) scale(0.9148,1)" text-anchor="middle" font-size="9" >30.08</text>
<line x1="306.94" x2="306.94" y1="2130.00" y2="2138.30" stroke="rgba(255,255,255,.42)" stroke-width="1"/>
<text transform="translate(306.94,2149.20) scale(0.9148,1)" text-anchor="middle" font-size="9" >02.09</text>
<line x1="344.38" x2="344.38" y1="2130.00" y2="2138.30" stroke="rgba(255,255,255,.42)" stroke-width="1"/>
<text transform="translate(344.38,2149.20) scale(0.9148,1)" text-anchor="middle" font-size="9" >05.09</text>
<line x1="381.82" x2="381.82" y1="2130.00" y2="2138.30" stroke="rgba(255,255,255,.42)" stroke-width="1"/>
<text transform="translate(381.82,2149.20) scale(0.9148,1)" text-anchor="middle" font-size="9" >08.09</text>
<line x1="419.26" x2="419.26" y1="2130.00" y2="2138.30" stroke="rgba(255,255,255,.42)" stroke-width="1"/>
<text transform="translate(419.26,2149.20) scale(0.9427,1)" text-anchor="middle" font-size="9" >11.09</text>
<text transform="translate(263.60,2164.50) scale(0.7679,1)" text-anchor="middle" font-size="11.5" >תאריך</text>
<line x1="76.1" x2="450" y1="2066.60" y2="2066.60" stroke="#1da1f2" stroke-width="1" stroke-dasharray="2.5 2"/>
<rect x="54.00" y="2061.70" width="18.70" height="9.80" fill="#1da1f2" />
<text transform="translate(63.35,2069.60) scale(0.8500,1)" text-anchor="middle" font-size="8.5" >91</text></svg>
<div class="card" style="left:935.75px;top:1934.5px;width:443.5px;height:235.75px;"></div>
<span class="t" style="top:1952.00px;font-size:11.5px;font-weight:bold;right:38.10px;transform-origin:right center;transform:scaleX(0.8121);">מקדם ההדבקה R</span>
<div class="info" style="left:1271.05px;top:1951.40px;width:11.5px;height:11.5px"><b>i</b></div>
<div class="pill" style="left:1000.1px;top:1946.5px;width:97.89999999999998px;height:22.09999999999991px"></div>
<span class="t" style="top:1952.00px;font-size:10.5px;font-weight:bold;right:314.10px;transform-origin:right center;transform:scaleX(0.7814);">חודש אחרון</span>
<div class="note" style="left:1126.7px;top:1975.5px;width:235.20000000000005px;height:15.900000000000091px"></div>
<span class="t" style="top:1978.00px;font-size:10px;right:54.70px;transform-origin:right center;transform:scaleX(0.7114);">הנתון היומי מתאר את הממוצע השבועי של מקדם ההדבקה לפני 10 ימים</span>
<span class="t" style="top:1995.00px;font-size:12px;right:52.00px;transform-origin:right center;transform:scaleX(0.7543);unicode-bidi:embed;">R=1 (R&gt;1 מגיפה בהתפשטות)</span>
<svg style="left:935.75px;top:1934.5px" width="443.5" height="235.75" viewBox="935.75 1934.5 443.5 235.75"><circle cx="962.10" cy="1957.50" r="9.6" fill="#2a3a47"/>
<path d="M962.10,1954.10 V1960.70 M959.50,1958.20 L962.10,1960.80 L964.70,1958.20" fill="none" stroke="#fff" stroke-width="1.05" stroke-linecap="round" stroke-linejoin="round"/>
<circle cx="985.90" cy="1957.50" r="9.6" fill="#2a3a47"/>
<path d="M988.80,1954.40 L982.90,1957.50 L988.80,1960.60" fill="none" stroke="#fff" stroke-width=".95"/>
<circle cx="988.80" cy="1954.40" r="1.55" fill="#fff"/>
<circle cx="982.90" cy="1957.50" r="1.55" fill="#fff"/>
<circle cx="988.80" cy="1960.60" r="1.55" fill="#fff"/>
<path d="M1007.40,1956.75 L1009.80,1959.15 L1012.20,1956.75" fill="none" stroke="rgba(255,255,255,.6)" stroke-width=".9"/>
<g transform="translate(1353.60,1983.50)"><circle r="4" fill="#1c2833"/><rect x="-.45" y="-1" width=".9" height="3.2" fill="#fff"/><circle cy="-2.3" r=".6" fill="#fff"/></g>
<line x1="1352.6" x2="1361.9" y1="2001.8" y2="2001.8" stroke="#f3907f" stroke-width="1.3"/>
<rect x="1231.20" y="2015.70" width="126.60" height="113.80" fill="rgba(255,255,255,.36)" />
<line x1="990.40" x2="1357.80" y1="2129.50" y2="2129.50" stroke="rgba(255,255,255,.45)" stroke-width="1"/>
<line x1="990.40" x2="1357.80" y1="2110.53" y2="2110.53" stroke="rgba(255,255,255,.45)" stroke-width="1"/>
<line x1="990.40" x2="1357.80" y1="2091.57" y2="2091.57" stroke="rgba(255,255,255,.45)" stroke-width="1"/>
<line x1="990.40" x2="1357.80" y1="2072.60" y2="2072.60" stroke="rgba(255,255,255,.45)" stroke-width="1"/>
<line x1="990.40" x2="1357.80" y1="2053.63" y2="2053.63" stroke="rgba(255,255,255,.45)" stroke-width="1"/>
<line x1="990.40" x2="1357.80" y1="2034.67" y2="2034.67" stroke="rgba(255,255,255,.45)" stroke-width="1"/>
<line x1="990.40" x2="1357.80" y1="2015.70" y2="2015.70" stroke="rgba(255,255,255,.45)" stroke-width="1"/>
<text transform="translate(964.80,2131.80) scale(0.9250,1)" text-anchor="end" font-size="9" >0.4</text>
<text transform="translate(964.80,2112.83) scale(0.9250,1)" text-anchor="end" font-size="9" >0.6</text>
<text transform="translate(964.80,2093.87) scale(0.9250,1)" text-anchor="end" font-size="9" >0.8</text>
<text transform="translate(964.80,2074.90) scale(0.9250,1)" text-anchor="end" font-size="9" >1</text>
<text transform="translate(964.80,2055.93) scale(0.9250,1)" text-anchor="end" font-size="9" >1.2</text>
<text transform="translate(964.80,2036.97) scale(0.9250,1)" text-anchor="end" font-size="9" >1.4</text>
<text transform="translate(964.80,2018.00) scale(0.9250,1)" text-anchor="end" font-size="9" >1.6</text>
<line x1="990.4" x2="1357.8" y1="2072.60" y2="2072.60" stroke="#f3907f" stroke-width="1.6"/>
<line x1="990.4" x2="990.4" y1="2129.5" y2="2137.0" stroke="rgba(255,255,255,.42)"/>
<text transform="translate(990.40,2146.80) scale(0.9148,1)" text-anchor="middle" font-size="9" >14.08</text>
<line x1="1053.7" x2="1053.7" y1="2129.5" y2="2137.0" stroke="rgba(255,255,255,.42)"/>
<text transform="translate(1053.70,2146.80) scale(0.9148,1)" text-anchor="middle" font-size="9" >19.08</text>
<line x1="1117" x2="1117" y1="2129.5" y2="2137.0" stroke="rgba(255,255,255,.42)"/>
<text transform="translate(1117.00,2146.80) scale(0.9148,1)" text-anchor="middle" font-size="9" >24.08</text>
<line x1="1180.3" x2="1180.3" y1="2129.5" y2="2137.0" stroke="rgba(255,255,255,.42)"/>
<text transform="translate(1180.30,2146.80) scale(0.9148,1)" text-anchor="middle" font-size="9" >29.08</text>
<line x1="1244" x2="1244" y1="2129.5" y2="2137.0" stroke="rgba(255,255,255,.42)"/>
<text transform="translate(1244.00,2146.80) scale(0.9148,1)" text-anchor="middle" font-size="9" >03.09</text>
<line x1="1307.3" x2="1307.3" y1="2129.5" y2="2137.0" stroke="rgba(255,255,255,.42)"/>
<text transform="translate(1307.30,2146.80) scale(0.9148,1)" text-anchor="middle" font-size="9" >08.09</text>
<line x1="1357.8" x2="1357.8" y1="2129.5" y2="2137.0" stroke="rgba(255,255,255,.42)"/>
<text transform="translate(1357.80,2146.80) scale(0.9148,1)" text-anchor="middle" font-size="9" >12.09</text>
<text transform="translate(1174.10,2163.00) scale(0.7679,1)" text-anchor="middle" font-size="11.5" >תאריך</text>
<path d="M990.40,2057.05 L1003.06,2058.75 L1015.72,2059.80 L1028.38,2061.88 L1041.04,2059.80 L1053.70,2061.88 L1066.36,2063.12 L1079.02,2064.63 L1091.68,2064.07 L1104.34,2063.12 L1117.00,2063.12 L1129.66,2067.38 L1142.32,2069.47 L1154.98,2071.65 L1167.64,2076.77 L1180.30,2088.15 L1192.96,2090.24 L1205.62,2086.45 L1218.28,2076.01 L1230.94,2072.22" fill="none" stroke="#9df783" stroke-width="1.5" stroke-linejoin="round"/>
<circle cx="990.40" cy="2057.05" r="2.7" fill="#9df783"/>
<circle cx="1003.06" cy="2058.75" r="2.7" fill="#9df783"/>
<circle cx="1015.72" cy="2059.80" r="2.7" fill="#9df783"/>
<circle cx="1028.38" cy="2061.88" r="2.7" fill="#9df783"/>
<circle cx="1041.04" cy="2059.80" r="2.7" fill="#9df783"/>
<circle cx="1053.70" cy="2061.88" r="2.7" fill="#9df783"/>
<circle cx="1066.36" cy="2063.12" r="2.7" fill="#9df783"/>
<circle cx="1079.02" cy="2064.63" r="2.7" fill="#9df783"/>
<circle cx="1091.68" cy="2064.07" r="2.7" fill="#9df783"/>
<circle cx="1104.34" cy="2063.12" r="2.7" fill="#9df783"/>
<circle cx="1117.00" cy="2063.12" r="2.7" fill="#9df783"/>
<circle cx="1129.66" cy="2067.38" r="2.7" fill="#9df783"/>
<circle cx="1142.32" cy="2069.47" r="2.7" fill="#9df783"/>
<circle cx="1154.98" cy="2071.65" r="2.7" fill="#9df783"/>
<circle cx="1167.64" cy="2076.77" r="2.7" fill="#9df783"/>
<circle cx="1180.30" cy="2088.15" r="2.7" fill="#9df783"/>
<circle cx="1192.96" cy="2090.24" r="2.7" fill="#9df783"/>
<circle cx="1205.62" cy="2086.45" r="2.7" fill="#9df783"/>
<circle cx="1218.28" cy="2076.01" r="2.7" fill="#9df783"/>
<circle cx="1230.94" cy="2072.22" r="2.7" fill="#9df783"/>
<text transform="translate(1294.50,2080.30) scale(0.8269,1)" text-anchor="middle" font-size="8" direction="rtl" unicode-bidi="plaintext">10 ימים</text>
<text transform="translate(1294.50,2087.30) scale(0.7995,1)" text-anchor="middle" font-size="8" >מהדבקה לתוצאה</text></svg>
<div class="sep" style="top:2195px"></div>
<span class="t" style="top:2202.00px;font-size:14.5px;font-weight:bold;right:24.75px;transform-origin:right center;transform:scaleX(0.8377);">מחלימים ונפטרים</span>
<div class="card" style="left:935.75px;top:2228.4px;width:443.5px;height:235.3499999999999px;"></div>
<span class="t" style="top:2246.00px;font-size:11.5px;font-weight:bold;right:38.10px;transform-origin:right center;transform:scaleX(0.8020);">מחלימים - יומי</span>
<div class="info" style="left:1282.85px;top:2244.70px;width:11.5px;height:11.5px"><b>i</b></div>
<div class="pill" style="left:1000.1px;top:2240.1px;width:97.89999999999998px;height:22.0px"></div>
<span class="t" style="top:2245.00px;font-size:10.5px;font-weight:bold;right:314.10px;transform-origin:right center;transform:scaleX(0.7814);">חודש אחרון</span>
<div class="note" style="left:1157.5px;top:2265.4px;width:207.9000000000001px;height:15.900000000000091px"></div>
<span class="t" style="top:2269.00px;font-size:9px;right:51.20px;transform-origin:right center;transform:scaleX(0.7460);">סה"כ</span>
<span class="t" style="top:2269.00px;font-size:9px;font-weight:bold;right:69.30px;transform-origin:right center;transform:scaleX(0.8468);">1,090,631</span>
<span class="t" style="top:2269.00px;font-size:9px;right:106.80px;transform-origin:right center;transform:scaleX(0.6601);">מחלימים</span>
<span class="t" style="top:2269.00px;font-size:9px;font-weight:bold;right:132.50px;transform-origin:right center;transform:scaleX(0.8275);">מאז תחילת המשבר (מרץ 2020)</span>
<svg style="left:935.75px;top:2228.4px" width="443.5" height="235.3499999999999" viewBox="935.75 2228.4 443.5 235.3499999999999"><rect x="987.35" y="2390.98" width="5.50" height="31.82" fill="#ff7f67" />
<rect x="1000.05" y="2401.38" width="5.50" height="21.42" fill="#ff7f67" />
<rect x="1012.75" y="2401.69" width="5.50" height="21.11" fill="#ff7f67" />
<rect x="1025.45" y="2389.61" width="5.50" height="33.19" fill="#ff7f67" />
<rect x="1038.15" y="2386.12" width="5.50" height="36.68" fill="#ff7f67" />
<rect x="1050.85" y="2388.18" width="5.50" height="34.62" fill="#ff7f67" />
<rect x="1063.55" y="2405.86" width="5.50" height="16.94" fill="#ff7f67" />
<rect x="1076.25" y="2371.24" width="5.50" height="51.56" fill="#ff7f67" />
<rect x="1088.95" y="2391.29" width="5.50" height="31.51" fill="#ff7f67" />
<rect x="1101.65" y="2392.04" width="5.50" height="30.76" fill="#ff7f67" />
<rect x="1114.35" y="2374.36" width="5.50" height="48.44" fill="#ff7f67" />
<rect x="1127.05" y="2369.19" width="5.50" height="53.61" fill="#ff7f67" />
<rect x="1139.75" y="2372.99" width="5.50" height="49.81" fill="#ff7f67" />
<rect x="1152.45" y="2397.89" width="5.50" height="24.91" fill="#ff7f67" />
<rect x="1165.15" y="2356.05" width="5.50" height="66.75" fill="#ff7f67" />
<rect x="1177.85" y="2379.21" width="5.50" height="43.59" fill="#ff7f67" />
<rect x="1190.55" y="2382.70" width="5.50" height="40.10" fill="#ff7f67" />
<rect x="1203.25" y="2364.71" width="5.50" height="58.09" fill="#ff7f67" />
<rect x="1215.95" y="2356.74" width="5.50" height="66.06" fill="#ff7f67" />
<rect x="1228.65" y="2364.33" width="5.50" height="58.47" fill="#ff7f67" />
<rect x="1241.35" y="2389.92" width="5.50" height="32.88" fill="#ff7f67" />
<rect x="1254.05" y="2344.97" width="5.50" height="77.83" fill="#ff7f67" />
<rect x="1266.75" y="2365.39" width="5.50" height="57.41" fill="#ff7f67" />
<rect x="1279.45" y="2391.67" width="5.50" height="31.13" fill="#ff7f67" />
<rect x="1292.15" y="2386.12" width="5.50" height="36.68" fill="#ff7f67" />
<rect x="1304.85" y="2339.80" width="5.50" height="83.00" fill="#ff7f67" />
<rect x="1317.55" y="2350.82" width="5.50" height="71.98" fill="#ff7f67" />
<rect x="1330.25" y="2388.93" width="5.50" height="33.87" fill="#ff7f67" />
<rect x="1342.95" y="2350.13" width="5.50" height="72.67" fill="#ff7f67" />
<rect x="1355.65" y="2412.09" width="5.50" height="10.71" fill="#fff" />
<circle cx="962.10" cy="2250.90" r="9.6" fill="#2a3a47"/>
<path d="M962.10,2247.50 V2254.10 M959.50,2251.60 L962.10,2254.20 L964.70,2251.60" fill="none" stroke="#fff" stroke-width="1.05" stroke-linecap="round" stroke-linejoin="round"/>
<circle cx="985.90" cy="2250.90" r="9.6" fill="#2a3a47"/>
<path d="M988.80,2247.80 L982.90,2250.90 L988.80,2254.00" fill="none" stroke="#fff" stroke-width=".95"/>
<circle cx="988.80" cy="2247.80" r="1.55" fill="#fff"/>
<circle cx="982.90" cy="2250.90" r="1.55" fill="#fff"/>
<circle cx="988.80" cy="2254.00" r="1.55" fill="#fff"/>
<path d="M1007.40,2250.30 L1009.80,2252.70 L1012.20,2250.30" fill="none" stroke="rgba(255,255,255,.6)" stroke-width=".9"/>
<g transform="translate(1357.00,2274.20)" stroke="#fff" stroke-width=".7" fill="none"><circle r="2.1" cy="-.4"/><path d="M-1,2 h2 M-.8,3.1 h1.6" /><path d="M0,-4.6 v-1.3 M3.2,-3.4 l.9,-.9 M-3.2,-3.4 l-.9,-.9 M4.4,-.4 h1.3 M-4.4,-.4 h-1.3" stroke-width=".6"/></g>
<text transform="translate(970.00,2303.70) scale(0.7150,1)" text-anchor="end" font-size="11.5" >מספר</text>
<text transform="translate(970.00,2313.35) scale(0.7150,1)" text-anchor="end" font-size="11.5" >מחלימים</text>
<line x1="983.80" x2="1364.70" y1="2422.80" y2="2422.80" stroke="rgba(255,255,255,.42)" stroke-width="1"/>
<line x1="983.80" x2="1364.70" y1="2404.12" y2="2404.12" stroke="rgba(255,255,255,.42)" stroke-width="1"/>
<line x1="983.80" x2="1364.70" y1="2385.44" y2="2385.44" stroke="rgba(255,255,255,.42)" stroke-width="1"/>
<line x1="983.80" x2="1364.70" y1="2366.76" y2="2366.76" stroke="rgba(255,255,255,.42)" stroke-width="1"/>
<line x1="983.80" x2="1364.70" y1="2348.08" y2="2348.08" stroke="rgba(255,255,255,.42)" stroke-width="1"/>
<line x1="983.80" x2="1364.70" y1="2329.40" y2="2329.40" stroke="rgba(255,255,255,.42)" stroke-width="1"/>
<text transform="translate(970.00,2425.10) scale(0.9250,1)" text-anchor="end" font-size="9" >0</text>
<text transform="translate(970.00,2406.42) scale(0.9250,1)" text-anchor="end" font-size="9" >3,000</text>
<text transform="translate(970.00,2387.74) scale(0.9250,1)" text-anchor="end" font-size="9" >6,000</text>
<text transform="translate(970.00,2369.06) scale(0.9250,1)" text-anchor="end" font-size="9" >9,000</text>
<text transform="translate(970.00,2350.38) scale(0.9250,1)" text-anchor="end" font-size="9" >12,000</text>
<text transform="translate(970.00,2331.70) scale(0.9250,1)" text-anchor="end" font-size="9" >15,000</text>
<line x1="990.10" x2="990.10" y1="2422.80" y2="2431.40" stroke="rgba(255,255,255,.28)" stroke-width="1"/>
<text transform="translate(990.10,2434.00) scale(0.9148,1)" text-anchor="middle" font-size="9" >15.08</text>
<line x1="1028.20" x2="1028.20" y1="2422.80" y2="2431.40" stroke="rgba(255,255,255,.28)" stroke-width="1"/>
<text transform="translate(1028.20,2434.00) scale(0.9148,1)" text-anchor="middle" font-size="9" >18.08</text>
<line x1="1066.30" x2="1066.30" y1="2422.80" y2="2431.40" stroke="rgba(255,255,255,.28)" stroke-width="1"/>
<text transform="translate(1066.30,2434.00) scale(0.9148,1)" text-anchor="middle" font-size="9" >21.08</text>
<line x1="1104.40" x2="1104.40" y1="2422.80" y2="2431.40" stroke="rgba(255,255,255,.28)" stroke-width="1"/>
<text transform="translate(1104.40,2434.00) scale(0.9148,1)" text-anchor="middle" font-size="9" >24.08</text>
<line x1="1142.50" x2="1142.50" y1="2422.80" y2="2431.40" stroke="rgba(255,255,255,.28)" stroke-width="1"/>
<text transform="translate(1142.50,2434.00) scale(0.9148,1)" text-anchor="middle" font-size="9" >27.08</text>
<line x1="1180.60" x2="1180.60" y1="2422.80" y2="2431.40" stroke="rgba(255,255,255,.28)" stroke-width="1"/>
<text transform="translate(1180.60,2434.00) scale(0.9148,1)" text-anchor="middle" font-size="9" >30.08</text>
<line x1="1218.70" x2="1218.70" y1="2422.80" y2="2431.40" stroke="rgba(255,255,255,.28)" stroke-width="1"/>
<text transform="translate(1218.70,2434.00) scale(0.9148,1)" text-anchor="middle" font-size="9" >02.09</text>
<line x1="1256.80" x2="1256.80" y1="2422.80" y2="2431.40" stroke="rgba(255,255,255,.28)" stroke-width="1"/>
<text transform="translate(1256.80,2434.00) scale(0.9148,1)" text-anchor="middle" font-size="9" >05.09</text>
<line x1="1294.90" x2="1294.90" y1="2422.80" y2="2431.40" stroke="rgba(255,255,255,.28)" stroke-width="1"/>
<text transform="translate(1294.90,2434.00) scale(0.9148,1)" text-anchor="middle" font-size="9" >08.09</text>
<line x1="1333.00" x2="1333.00" y1="2422.80" y2="2431.40" stroke="rgba(255,255,255,.28)" stroke-width="1"/>
<text transform="translate(1333.00,2434.00) scale(0.9427,1)" text-anchor="middle" font-size="9" >11.09</text>
<text transform="translate(1174.10,2449.60) scale(0.7679,1)" text-anchor="middle" font-size="11.5" >תאריך</text></svg>
<div class="card" style="left:477.9px;top:2228.4px;width:444.0px;height:235.3499999999999px;"></div>
<span class="t" style="top:2246.00px;font-size:11.5px;font-weight:bold;right:495.40px;transform-origin:right center;transform:scaleX(0.8001);">נפטרים - יומי</span>
<div class="info" style="left:831.75px;top:2244.90px;width:11.5px;height:11.5px"><b>i</b></div>
<div class="pill" style="left:542.8px;top:2240.1px;width:97.5px;height:22.09999999999991px"></div>
<span class="t" style="top:2245.00px;font-size:10.5px;font-weight:bold;right:771.40px;transform-origin:right center;transform:scaleX(0.7814);">חודש אחרון</span>
<svg style="left:477.9px;top:2228.4px" width="444.0" height="235.3499999999999" viewBox="477.9 2228.4 444.0 235.3499999999999"><rect x="530.35" y="2382.14" width="5.50" height="40.56" fill="#9df783" />
<rect x="543.05" y="2369.97" width="5.50" height="52.73" fill="#9df783" />
<rect x="555.75" y="2390.25" width="5.50" height="32.45" fill="#9df783" />
<rect x="568.45" y="2376.06" width="5.50" height="46.64" fill="#9df783" />
<rect x="581.15" y="2367.94" width="5.50" height="54.76" fill="#9df783" />
<rect x="593.85" y="2382.14" width="5.50" height="40.56" fill="#9df783" />
<rect x="606.55" y="2374.03" width="5.50" height="48.67" fill="#9df783" />
<rect x="619.25" y="2363.89" width="5.50" height="58.81" fill="#9df783" />
<rect x="631.95" y="2386.20" width="5.50" height="36.50" fill="#9df783" />
<rect x="644.65" y="2372.00" width="5.50" height="50.70" fill="#9df783" />
<rect x="657.35" y="2365.92" width="5.50" height="56.78" fill="#9df783" />
<rect x="670.05" y="2363.89" width="5.50" height="58.81" fill="#9df783" />
<rect x="682.75" y="2369.97" width="5.50" height="52.73" fill="#9df783" />
<rect x="695.45" y="2378.08" width="5.50" height="44.62" fill="#9df783" />
<rect x="708.15" y="2367.94" width="5.50" height="54.76" fill="#9df783" />
<rect x="720.85" y="2380.11" width="5.50" height="42.59" fill="#9df783" />
<rect x="733.55" y="2359.83" width="5.50" height="62.87" fill="#9df783" />
<rect x="746.25" y="2363.89" width="5.50" height="58.81" fill="#9df783" />
<rect x="758.95" y="2361.86" width="5.50" height="60.84" fill="#9df783" />
<rect x="771.65" y="2367.94" width="5.50" height="54.76" fill="#9df783" />
<rect x="784.35" y="2367.94" width="5.50" height="54.76" fill="#9df783" />
<rect x="797.05" y="2376.06" width="5.50" height="46.64" fill="#9df783" />
<rect x="809.75" y="2378.08" width="5.50" height="44.62" fill="#9df783" />
<rect x="822.45" y="2351.72" width="5.50" height="70.98" fill="#9df783" />
<rect x="835.15" y="2365.92" width="5.50" height="56.78" fill="#9df783" />
<rect x="847.85" y="2380.11" width="5.50" height="42.59" fill="#9df783" />
<rect x="860.55" y="2390.25" width="5.50" height="32.45" fill="#9df783" />
<rect x="873.25" y="2372.00" width="5.50" height="50.70" fill="#9df783" />
<rect x="885.95" y="2396.34" width="5.50" height="26.36" fill="#9df783" />
<rect x="898.65" y="2420.67" width="5.50" height="2.03" fill="#fff" />
<circle cx="504.40" cy="2251.10" r="9.6" fill="#2a3a47"/>
<path d="M504.40,2247.70 V2254.30 M501.80,2251.80 L504.40,2254.40 L507.00,2251.80" fill="none" stroke="#fff" stroke-width="1.05" stroke-linecap="round" stroke-linejoin="round"/>
<circle cx="528.20" cy="2251.10" r="9.6" fill="#2a3a47"/>
<path d="M531.10,2248.00 L525.20,2251.10 L531.10,2254.20" fill="none" stroke="#fff" stroke-width=".95"/>
<circle cx="531.10" cy="2248.00" r="1.55" fill="#fff"/>
<circle cx="525.20" cy="2251.10" r="1.55" fill="#fff"/>
<circle cx="531.10" cy="2254.20" r="1.55" fill="#fff"/>
<path d="M550.40,2250.35 L552.80,2252.75 L555.20,2250.35" fill="none" stroke="rgba(255,255,255,.6)" stroke-width=".9"/>
<circle cx="900.50" cy="2269.50" r="3.4" fill="#9df783"/>
<text transform="translate(895.30,2272.70) scale(0.8317,1)" text-anchor="end" font-size="11" >נפטרים</text>
<line x1="847.5" x2="856.9" y1="2269.5" y2="2269.5" stroke="#1da1f2" stroke-width="1.2"/>
<text transform="translate(843.70,2272.70) scale(0.7598,1)" text-anchor="end" font-size="12" >ממוצע נפטרים לתקופת הזמן המוצגת</text>
<text transform="translate(513.00,2296.00) scale(0.7150,1)" text-anchor="end" font-size="11.5" >מספר</text>
<text transform="translate(513.00,2305.65) scale(0.7150,1)" text-anchor="end" font-size="11.5" >נפטרים</text>
<line x1="526.90" x2="907.70" y1="2422.70" y2="2422.70" stroke="rgba(255,255,255,.42)" stroke-width="1"/>
<line x1="526.90" x2="907.70" y1="2402.42" y2="2402.42" stroke="rgba(255,255,255,.42)" stroke-width="1"/>
<line x1="526.90" x2="907.70" y1="2382.14" y2="2382.14" stroke="rgba(255,255,255,.42)" stroke-width="1"/>
<line x1="526.90" x2="907.70" y1="2361.86" y2="2361.86" stroke="rgba(255,255,255,.42)" stroke-width="1"/>
<line x1="526.90" x2="907.70" y1="2341.58" y2="2341.58" stroke="rgba(255,255,255,.42)" stroke-width="1"/>
<line x1="526.90" x2="907.70" y1="2321.30" y2="2321.30" stroke="rgba(255,255,255,.42)" stroke-width="1"/>
<text transform="translate(513.00,2425.00) scale(0.9250,1)" text-anchor="end" font-size="9" >0</text>
<text transform="translate(513.00,2404.72) scale(0.9250,1)" text-anchor="end" font-size="9" >10</text>
<text transform="translate(513.00,2384.44) scale(0.9250,1)" text-anchor="end" font-size="9" >20</text>
<text transform="translate(513.00,2364.16) scale(0.9250,1)" text-anchor="end" font-size="9" >30</text>
<text transform="translate(513.00,2343.88) scale(0.9250,1)" text-anchor="end" font-size="9" >40</text>
<text transform="translate(513.00,2323.60) scale(0.9250,1)" text-anchor="end" font-size="9" >50</text>
<line x1="533.10" x2="533.10" y1="2422.70" y2="2431.30" stroke="rgba(255,255,255,.28)" stroke-width="1"/>
<text transform="translate(533.10,2434.20) scale(0.9148,1)" text-anchor="middle" font-size="9" >15.08</text>
<line x1="571.20" x2="571.20" y1="2422.70" y2="2431.30" stroke="rgba(255,255,255,.28)" stroke-width="1"/>
<text transform="translate(571.20,2434.20) scale(0.9148,1)" text-anchor="middle" font-size="9" >18.08</text>
<line x1="609.30" x2="609.30" y1="2422.70" y2="2431.30" stroke="rgba(255,255,255,.28)" stroke-width="1"/>
<text transform="translate(609.30,2434.20) scale(0.9148,1)" text-anchor="middle" font-size="9" >21.08</text>
<line x1="647.40" x2="647.40" y1="2422.70" y2="2431.30" stroke="rgba(255,255,255,.28)" stroke-width="1"/>
<text transform="translate(647.40,2434.20) scale(0.9148,1)" text-anchor="middle" font-size="9" >24.08</text>
<line x1="685.50" x2="685.50" y1="2422.70" y2="2431.30" stroke="rgba(255,255,255,.28)" stroke-width="1"/>
<text transform="translate(685.50,2434.20) scale(0.9148,1)" text-anchor="middle" font-size="9" >27.08</text>
<line x1="723.60" x2="723.60" y1="2422.70" y2="2431.30" stroke="rgba(255,255,255,.28)" stroke-width="1"/>
<text transform="translate(723.60,2434.20) scale(0.9148,1)" text-anchor="middle" font-size="9" >30.08</text>
<line x1="761.70" x2="761.70" y1="2422.70" y2="2431.30" stroke="rgba(255,255,255,.28)" stroke-width="1"/>
<text transform="translate(761.70,2434.20) scale(0.9148,1)" text-anchor="middle" font-size="9" >02.09</text>
<line x1="799.80" x2="799.80" y1="2422.70" y2="2431.30" stroke="rgba(255,255,255,.28)" stroke-width="1"/>
<text transform="translate(799.80,2434.20) scale(0.9148,1)" text-anchor="middle" font-size="9" >05.09</text>
<line x1="837.90" x2="837.90" y1="2422.70" y2="2431.30" stroke="rgba(255,255,255,.28)" stroke-width="1"/>
<text transform="translate(837.90,2434.20) scale(0.9148,1)" text-anchor="middle" font-size="9" >08.09</text>
<line x1="876.00" x2="876.00" y1="2422.70" y2="2431.30" stroke="rgba(255,255,255,.28)" stroke-width="1"/>
<text transform="translate(876.00,2434.20) scale(0.9427,1)" text-anchor="middle" font-size="9" >11.09</text>
<text transform="translate(717.10,2449.80) scale(0.7679,1)" text-anchor="middle" font-size="11.5" >תאריך</text>
<line x1="526.9" x2="907.7" y1="2374.84" y2="2374.84" stroke="#1da1f2" stroke-width="1" stroke-dasharray="2.5 2"/>
<rect x="504.70" y="2369.94" width="18.40" height="9.80" fill="#1da1f2" />
<text transform="translate(513.90,2377.84) scale(0.8500,1)" text-anchor="middle" font-size="8.5" >24</text></svg>
<div class="card" style="left:20.9px;top:2228.4px;width:444.0px;height:235.3499999999999px;"></div>
<span class="t" style="top:2242.00px;font-size:11.5px;font-weight:bold;right:946.20px;transform-origin:right center;transform:scaleX(0.8089);">נפטרים יומי - מצב התחסנות</span>
<div class="info" style="left:318.05px;top:2240.80px;width:11.5px;height:11.5px"><b>i</b></div>
<div class="pill" style="left:241.1px;top:2270.5px;width:212.70000000000002px;height:20.40000000000009px"></div>
<span class="t" style="top:2275.00px;font-size:11px;right:956.50px;transform-origin:right center;transform:scaleX(0.8732);">ל-100 אלף תושבים, מעל גיל 60, חודש אחרון</span>
<svg style="left:20.9px;top:2228.4px" width="444.0" height="235.3499999999999" viewBox="20.9 2228.4 444.0 235.3499999999999"><circle cx="37.40" cy="2243.20" r="0.95" fill="#fff"/>
<circle cx="37.40" cy="2246.40" r="0.95" fill="#fff"/>
<circle cx="37.40" cy="2249.60" r="0.95" fill="#fff"/>
<path d="M251.50,2279.90 L253.90,2282.30 L256.30,2279.90" fill="none" stroke="rgba(255,255,255,.6)" stroke-width=".9"/>
<circle cx="450.40" cy="2304.00" r="3.4" fill="#2cd1db"/>
<text transform="translate(444.40,2307.20) scale(0.7518,1)" text-anchor="end" font-size="10.5" >לא מחוסנים</text>
<circle cx="384.15" cy="2304.00" r="3.4" fill="#ff7f67"/>
<text transform="translate(378.15,2307.20) scale(0.7668,1)" text-anchor="end" font-size="10.5" >מחוסנים ללא דחף</text>
<circle cx="296.40" cy="2304.00" r="3.4" fill="#9df783"/>
<text transform="translate(290.40,2307.20) scale(0.7749,1)" text-anchor="end" font-size="10.5" >מחוסנים עם דחף</text>
<text transform="translate(61.20,2304.80) scale(0.7150,1)" text-anchor="end" font-size="11.5" >שיעור</text>
<text transform="translate(61.20,2314.45) scale(0.7150,1)" text-anchor="end" font-size="11.5" >נפטרים</text>
<line x1="75.40" x2="450.70" y1="2424.80" y2="2424.80" stroke="rgba(255,255,255,.42)" stroke-width="1"/>
<line x1="75.40" x2="450.70" y1="2405.78" y2="2405.78" stroke="rgba(255,255,255,.42)" stroke-width="1"/>
<line x1="75.40" x2="450.70" y1="2386.76" y2="2386.76" stroke="rgba(255,255,255,.42)" stroke-width="1"/>
<line x1="75.40" x2="450.70" y1="2367.74" y2="2367.74" stroke="rgba(255,255,255,.42)" stroke-width="1"/>
<line x1="75.40" x2="450.70" y1="2348.72" y2="2348.72" stroke="rgba(255,255,255,.42)" stroke-width="1"/>
<line x1="75.40" x2="450.70" y1="2329.70" y2="2329.70" stroke="rgba(255,255,255,.42)" stroke-width="1"/>
<text transform="translate(61.20,2427.10) scale(0.9250,1)" text-anchor="end" font-size="9" >0</text>
<text transform="translate(61.20,2408.08) scale(0.9250,1)" text-anchor="end" font-size="9" >5</text>
<text transform="translate(61.20,2389.06) scale(0.9250,1)" text-anchor="end" font-size="9" >10</text>
<text transform="translate(61.20,2370.04) scale(0.9250,1)" text-anchor="end" font-size="9" >15</text>
<text transform="translate(61.20,2351.02) scale(0.9250,1)" text-anchor="end" font-size="9" >20</text>
<text transform="translate(61.20,2332.00) scale(0.9250,1)" text-anchor="end" font-size="9" >25</text>
<line x1="81.60" x2="81.60" y1="2424.80" y2="2433.10" stroke="rgba(255,255,255,.42)" stroke-width="1"/>
<text transform="translate(81.60,2442.90) scale(0.9148,1)" text-anchor="middle" font-size="9" >15.08</text>
<line x1="119.10" x2="119.10" y1="2424.80" y2="2433.10" stroke="rgba(255,255,255,.42)" stroke-width="1"/>
<text transform="translate(119.10,2442.90) scale(0.9148,1)" text-anchor="middle" font-size="9" >18.08</text>
<line x1="156.60" x2="156.60" y1="2424.80" y2="2433.10" stroke="rgba(255,255,255,.42)" stroke-width="1"/>
<text transform="translate(156.60,2442.90) scale(0.9148,1)" text-anchor="middle" font-size="9" >21.08</text>
<line x1="194.10" x2="194.10" y1="2424.80" y2="2433.10" stroke="rgba(255,255,255,.42)" stroke-width="1"/>
<text transform="translate(194.10,2442.90) scale(0.9148,1)" text-anchor="middle" font-size="9" >24.08</text>
<line x1="231.60" x2="231.60" y1="2424.80" y2="2433.10" stroke="rgba(255,255,255,.42)" stroke-width="1"/>
<text transform="translate(231.60,2442.90) scale(0.9148,1)" text-anchor="middle" font-size="9" >27.08</text>
<line x1="269.10" x2="269.10" y1="2424.80" y2="2433.10" stroke="rgba(255,255,255,.42)" stroke-width="1"/>
<text transform="translate(269.10,2442.90) scale(0.9148,1)" text-anchor="middle" font-size="9" >30.08</text>
<line x1="306.60" x2="306.60" y1="2424.80" y2="2433.10" stroke="rgba(255,255,255,.42)" stroke-width="1"/>
<text transform="translate(306.60,2442.90) scale(0.9148,1)" text-anchor="middle" font-size="9" >02.09</text>
<line x1="344.10" x2="344.10" y1="2424.80" y2="2433.10" stroke="rgba(255,255,255,.42)" stroke-width="1"/>
<text transform="translate(344.10,2442.90) scale(0.9148,1)" text-anchor="middle" font-size="9" >05.09</text>
<line x1="381.60" x2="381.60" y1="2424.80" y2="2433.10" stroke="rgba(255,255,255,.42)" stroke-width="1"/>
<text transform="translate(381.60,2442.90) scale(0.9148,1)" text-anchor="middle" font-size="9" >08.09</text>
<line x1="419.10" x2="419.10" y1="2424.80" y2="2433.10" stroke="rgba(255,255,255,.42)" stroke-width="1"/>
<text transform="translate(419.10,2442.90) scale(0.9427,1)" text-anchor="middle" font-size="9" >11.09</text>
<text transform="translate(263.60,2458.80) scale(0.7679,1)" text-anchor="middle" font-size="11.5" >תאריך</text>
<path d="M81.60,2411.11 L94.10,2401.22 L106.60,2412.63 L119.10,2415.29 L131.60,2400.83 L144.10,2415.29 L156.60,2400.45 L169.10,2395.51 L181.60,2415.29 L194.10,2411.87 L206.60,2402.36 L219.10,2397.41 L231.60,2400.07 L244.10,2409.58 L256.60,2407.68 L269.10,2404.64 L281.60,2382.20 L294.10,2389.42 L306.60,2392.09 L319.10,2393.99 L331.60,2391.32 L344.10,2398.93 L356.60,2409.20 L369.10,2378.39 L381.60,2398.55 L394.10,2395.89 L406.60,2403.88 L419.10,2398.55 L431.60,2406.54 L444.10,2424.42" fill="none" stroke="#2cd1db" stroke-width="1.5" stroke-linejoin="round"/>
<circle cx="81.60" cy="2411.11" r="2.9" fill="#2cd1db"/>
<circle cx="94.10" cy="2401.22" r="2.9" fill="#2cd1db"/>
<circle cx="106.60" cy="2412.63" r="2.9" fill="#2cd1db"/>
<circle cx="119.10" cy="2415.29" r="2.9" fill="#2cd1db"/>
<circle cx="131.60" cy="2400.83" r="2.9" fill="#2cd1db"/>
<circle cx="144.10" cy="2415.29" r="2.9" fill="#2cd1db"/>
<circle cx="156.60" cy="2400.45" r="2.9" fill="#2cd1db"/>
<circle cx="169.10" cy="2395.51" r="2.9" fill="#2cd1db"/>
<circle cx="181.60" cy="2415.29" r="2.9" fill="#2cd1db"/>
<circle cx="194.10" cy="2411.87" r="2.9" fill="#2cd1db"/>
<circle cx="206.60" cy="2402.36" r="2.9" fill="#2cd1db"/>
<circle cx="219.10" cy="2397.41" r="2.9" fill="#2cd1db"/>
<circle cx="231.60" cy="2400.07" r="2.9" fill="#2cd1db"/>
<circle cx="244.10" cy="2409.58" r="2.9" fill="#2cd1db"/>
<circle cx="256.60" cy="2407.68" r="2.9" fill="#2cd1db"/>
<circle cx="269.10" cy="2404.64" r="2.9" fill="#2cd1db"/>
<circle cx="281.60" cy="2382.20" r="2.9" fill="#2cd1db"/>
<circle cx="294.10" cy="2389.42" r="2.9" fill="#2cd1db"/>
<circle cx="306.60" cy="2392.09" r="2.9" fill="#2cd1db"/>
<circle cx="319.10" cy="2393.99" r="2.9" fill="#2cd1db"/>
<circle cx="331.60" cy="2391.32" r="2.9" fill="#2cd1db"/>
<circle cx="344.10" cy="2398.93" r="2.9" fill="#2cd1db"/>
<circle cx="356.60" cy="2409.20" r="2.9" fill="#2cd1db"/>
<circle cx="369.10" cy="2378.39" r="2.9" fill="#2cd1db"/>
<circle cx="381.60" cy="2398.55" r="2.9" fill="#2cd1db"/>
<circle cx="394.10" cy="2395.89" r="2.9" fill="#2cd1db"/>
<circle cx="406.60" cy="2403.88" r="2.9" fill="#2cd1db"/>
<circle cx="419.10" cy="2398.55" r="2.9" fill="#2cd1db"/>
<circle cx="431.60" cy="2406.54" r="2.9" fill="#2cd1db"/>
<circle cx="444.10" cy="2424.42" r="2.9" fill="#9a9a9a"/>
<path d="M81.60,2421.00 L94.10,2418.33 L106.60,2420.24 L119.10,2417.57 L131.60,2416.05 L144.10,2417.57 L156.60,2418.33 L169.10,2414.53 L181.60,2419.47 L194.10,2414.53 L206.60,2414.53 L219.10,2415.67 L231.60,2416.43 L244.10,2416.05 L256.60,2411.11 L269.10,2417.95 L281.60,2414.53 L294.10,2416.05 L306.60,2416.81 L319.10,2414.91 L331.60,2413.77 L344.10,2413.39 L356.60,2414.15 L369.10,2405.02 L381.60,2415.67 L394.10,2422.14 L406.60,2417.95 L419.10,2411.87 L431.60,2423.66 L444.10,2424.42" fill="none" stroke="#ff7f67" stroke-width="1.5" stroke-linejoin="round"/>
<circle cx="81.60" cy="2421.00" r="2.9" fill="#ff7f67"/>
<circle cx="94.10" cy="2418.33" r="2.9" fill="#ff7f67"/>
<circle cx="106.60" cy="2420.24" r="2.9" fill="#ff7f67"/>
<circle cx="119.10" cy="2417.57" r="2.9" fill="#ff7f67"/>
<circle cx="131.60" cy="2416.05" r="2.9" fill="#ff7f67"/>
<circle cx="144.10" cy="2417.57" r="2.9" fill="#ff7f67"/>
<circle cx="156.60" cy="2418.33" r="2.9" fill="#ff7f67"/>
<circle cx="169.10" cy="2414.53" r="2.9" fill="#ff7f67"/>
<circle cx="181.60" cy="2419.47" r="2.9" fill="#ff7f67"/>
<circle cx="194.10" cy="2414.53" r="2.9" fill="#ff7f67"/>
<circle cx="206.60" cy="2414.53" r="2.9" fill="#ff7f67"/>
<circle cx="219.10" cy="2415.67" r="2.9" fill="#ff7f67"/>
<circle cx="231.60" cy="2416.43" r="2.9" fill="#ff7f67"/>
<circle cx="244.10" cy="2416.05" r="2.9" fill="#ff7f67"/>
<circle cx="256.60" cy="2411.11" r="2.9" fill="#ff7f67"/>
<circle cx="269.10" cy="2417.95" r="2.9" fill="#ff7f67"/>
<circle cx="281.60" cy="2414.53" r="2.9" fill="#ff7f67"/>
<circle cx="294.10" cy="2416.05" r="2.9" fill="#ff7f67"/>
<circle cx="306.60" cy="2416.81" r="2.9" fill="#ff7f67"/>
<circle cx="319.10" cy="2414.91" r="2.9" fill="#ff7f67"/>
<circle cx="331.60" cy="2413.77" r="2.9" fill="#ff7f67"/>
<circle cx="344.10" cy="2413.39" r="2.9" fill="#ff7f67"/>
<circle cx="356.60" cy="2414.15" r="2.9" fill="#ff7f67"/>
<circle cx="369.10" cy="2405.02" r="2.9" fill="#ff7f67"/>
<circle cx="381.60" cy="2415.67" r="2.9" fill="#ff7f67"/>
<circle cx="394.10" cy="2422.14" r="2.9" fill="#ff7f67"/>
<circle cx="406.60" cy="2417.95" r="2.9" fill="#ff7f67"/>
<circle cx="419.10" cy="2411.87" r="2.9" fill="#ff7f67"/>
<circle cx="431.60" cy="2423.66" r="2.9" fill="#ff7f67"/>
<circle cx="444.10" cy="2424.42" r="2.9" fill="#9a9a9a"/>
<path d="M81.60,2421.38 L94.10,2423.66 L106.60,2424.04 L119.10,2422.52 L131.60,2424.42 L144.10,2422.52 L156.60,2424.04 L169.10,2424.04 L181.60,2421.38 L194.10,2422.90 L206.60,2422.14 L219.10,2423.66 L231.60,2422.52 L244.10,2424.04 L256.60,2423.66 L269.10,2424.04 L281.60,2424.04 L294.10,2423.09 L306.60,2423.09 L319.10,2423.28 L331.60,2423.66 L344.10,2424.80 L356.60,2422.90 L369.10,2424.80 L381.60,2422.14 L394.10,2423.28 L406.60,2424.42 L419.10,2423.09 L431.60,2423.66 L444.10,2424.42" fill="none" stroke="#9df783" stroke-width="1.5" stroke-linejoin="round"/>
<circle cx="81.60" cy="2421.38" r="2.9" fill="#9df783"/>
<circle cx="94.10" cy="2423.66" r="2.9" fill="#9df783"/>
<circle cx="106.60" cy="2424.04" r="2.9" fill="#9df783"/>
<circle cx="119.10" cy="2422.52" r="2.9" fill="#9df783"/>
<circle cx="131.60" cy="2424.42" r="2.9" fill="#9df783"/>
<circle cx="144.10" cy="2422.52" r="2.9" fill="#9df783"/>
<circle cx="156.60" cy="2424.04" r="2.9" fill="#9df783"/>
<circle cx="169.10" cy="2424.04" r="2.9" fill="#9df783"/>
<circle cx="181.60" cy="2421.38" r="2.9" fill="#9df783"/>
<circle cx="194.10" cy="2422.90" r="2.9" fill="#9df783"/>
<circle cx="206.60" cy="2422.14" r="2.9" fill="#9df783"/>
<circle cx="219.10" cy="2423.66" r="2.9" fill="#9df783"/>
<circle cx="231.60" cy="2422.52" r="2.9" fill="#9df783"/>
<circle cx="244.10" cy="2424.04" r="2.9" fill="#9df783"/>
<circle cx="256.60" cy="2423.66" r="2.9" fill="#9df783"/>
<circle cx="269.10" cy="2424.04" r="2.9" fill="#9df783"/>
<circle cx="281.60" cy="2424.04" r="2.9" fill="#9df783"/>
<circle cx="294.10" cy="2423.09" r="2.9" fill="#9df783"/>
<circle cx="306.60" cy="2423.09" r="2.9" fill="#9df783"/>
<circle cx="319.10" cy="2423.28" r="2.9" fill="#9df783"/>
<circle cx="331.60" cy="2423.66" r="2.9" fill="#9df783"/>
<circle cx="344.10" cy="2424.80" r="2.9" fill="#9df783"/>
<circle cx="356.60" cy="2422.90" r="2.9" fill="#9df783"/>
<circle cx="369.10" cy="2424.80" r="2.9" fill="#9df783"/>
<circle cx="381.60" cy="2422.14" r="2.9" fill="#9df783"/>
<circle cx="394.10" cy="2423.28" r="2.9" fill="#9df783"/>
<circle cx="406.60" cy="2424.42" r="2.9" fill="#9df783"/>
<circle cx="419.10" cy="2423.09" r="2.9" fill="#9df783"/>
<circle cx="431.60" cy="2423.66" r="2.9" fill="#9df783"/>
<circle cx="444.10" cy="2424.42" r="2.9" fill="#9a9a9a"/></svg>
<div class="sep" style="top:2489px"></div>
<span class="t" style="top:2496.00px;font-size:14.5px;font-weight:bold;right:24.75px;transform-origin:right center;transform:scaleX(0.8306);">רמזור בישובים</span>
<div class="card" style="left:477.9px;top:2522.4px;width:901.35px;height:235.0999999999999px;overflow:hidden;"></div>
<span class="t" style="top:2537.00px;font-size:11.5px;font-weight:bold;right:38.10px;transform-origin:right center;transform:scaleX(0.8046);">תכנית הרמזור</span>
<div class="info" style="left:1285.65px;top:2536.75px;width:11.5px;height:11.5px"><b>i</b></div>
<span class="t" style="top:2554.00px;font-size:9px;font-weight:bold;right:38.10px;transform-origin:right center;transform:scaleX(0.8788);unicode-bidi:embed;">* מרכיבי ציון הרמזור (לפי נתוני השבוע האחרון)</span>
<div style="position:absolute;left:1336.3px;top:2570.1px;width:21.8px;height:21.5px;background:#f99d8c;border-radius:2px"></div>
<span class="t" style="top:2569.00px;font-size:11px;right:67.80px;transform-origin:right center;transform:scaleX(0.7889);">אדום</span>
<span class="t" style="top:2582.00px;font-size:10px;font-style:italic;color:rgba(255,255,255,.5);right:67.80px;transform-origin:right center;transform:scaleX(0.9034);unicode-bidi:embed;">ציון 7.5 ומעלה</span>
<div style="position:absolute;left:1242.6px;top:2570.1px;width:21.8px;height:21.5px;background:#f3c27d;border-radius:2px"></div>
<span class="t" style="top:2569.00px;font-size:11px;right:161.50px;transform-origin:right center;transform:scaleX(0.7850);">כתום</span>
<span class="t" style="top:2582.00px;font-size:10px;font-style:italic;color:rgba(255,255,255,.5);right:161.50px;transform-origin:right center;transform:scaleX(1.0081);unicode-bidi:embed;">ציון בין 6 - 7.5</span>
<div style="position:absolute;left:1143px;top:2570.1px;width:21.8px;height:21.5px;background:#fcfb6a;border-radius:2px"></div>
<span class="t" style="top:2569.00px;font-size:11px;right:261.10px;transform-origin:right center;transform:scaleX(0.8481);">צהוב</span>
<span class="t" style="top:2582.00px;font-size:10px;font-style:italic;color:rgba(255,255,255,.5);right:261.10px;transform-origin:right center;transform:scaleX(1.0150);unicode-bidi:embed;">ציון בין 4.5 - 6</span>
<div style="position:absolute;left:1044px;top:2570.1px;width:21.8px;height:21.5px;background:#b6e08e;border-radius:2px"></div>
<span class="t" style="top:2569.00px;font-size:11px;right:360.10px;transform-origin:right center;transform:scaleX(0.8241);">ירוק</span>
<span class="t" style="top:2582.00px;font-size:10px;font-style:italic;color:rgba(255,255,255,.5);right:360.10px;transform-origin:right center;transform:scaleX(0.9100);unicode-bidi:embed;">ציון עד 4.5</span>
<div class="pill" style="left:542.6px;top:2534.1px;width:114.8px;height:23.9px"></div>
<span class="t" style="top:2542.00px;font-size:9.5px;color:rgba(255,255,255,.62);right:770.70px;transform-origin:right center;transform:scaleX(0.7240);">חיפוש ישוב</span>
<div class="note" style="left:664.7px;top:2534.1px;width:141.19999999999993px;height:16.300000000000182px"></div>
<span class="t" style="top:2537.00px;font-size:10px;right:610.70px;transform-origin:right center;transform:scaleX(0.7966);unicode-bidi:embed;">הנתונים נכונים לתאריך 12/09/2021</span>
<div style="position:absolute;left:477.9px;top:2605.1px;width:901.35px;height:37.90000000000009px;background:#2a3a48"></div>
<div style="position:absolute;left:606.9px;top:2605.1px;width:383.1px;height:37.90000000000009px;background:#39444b"></div>
<div style="position:absolute;left:606.9px;top:2643px;width:386.1px;height:114.5px;background:#2f4150"></div>
<span class="t" style="top:2611.00px;font-size:11.5px;right:31.20px;transform-origin:right center;transform:scaleX(0.7718);">ישוב</span>
<span class="t" style="top:2611.00px;font-size:11.5px;left:889.70px;width:600px;text-align:center;transform-origin:center center;transform:scaleX(0.7905);">צבע תקנות חינוך</span>
<div class="info" style="left:1136.50px;top:2607.60px;width:10.8px;height:10.8px"><b>i</b></div>
<span class="t" style="top:2611.00px;font-size:11.5px;left:752.30px;width:600px;text-align:center;transform-origin:center center;transform:scaleX(0.7694);">ציון וצבע יומי</span>
<svg style="left:1048.7px;top:2628.1000000000004px" width="7.2" height="4.6" viewBox="0 0 7.2 4.6"><path d="M0,0 H7.2 L3.6,4.6 Z" fill="#3c8ff6"/></svg>
<span class="t" style="top:2605.00px;font-size:11.5px;left:624.80px;width:600px;text-align:center;transform-origin:center center;transform:scaleX(0.7755);">חולים חדשים לכל 10,000 נפש</span>
<span class="t" style="top:2617.00px;font-size:11.5px;left:624.80px;width:600px;text-align:center;transform-origin:center center;transform:scaleX(0.9000);">*</span>
<span class="t" style="top:2611.00px;font-size:11.5px;left:496.90px;width:600px;text-align:center;transform-origin:center center;transform:scaleX(0.7745);unicode-bidi:embed;">% הבדיקות החיוביות *</span>
<span class="t" style="top:2611.00px;font-size:11.5px;left:369.00px;width:600px;text-align:center;transform-origin:center center;transform:scaleX(0.7852);unicode-bidi:embed;">שיעור שינוי מאומתים *</span>
<span class="t" style="top:2611.00px;font-size:11.5px;left:241.10px;width:600px;text-align:center;transform-origin:center center;transform:scaleX(0.7592);">חולים פעילים</span>
<div style="position:absolute;left:1176.9px;top:2647.20px;width:13.8px;height:13.40px;background:#f99d8c;border-radius:1.5px"></div>
<div style="position:absolute;left:1046.1px;top:2645.80px;width:19px;height:16.20px;background:#f99d8c;border-radius:2px"></div>
<span class="t" style="top:2647.00px;font-size:12px;font-weight:bold;right:23.20px;transform-origin:right center;transform:scaleX(0.7348);">כפר ברא</span>
<span class="t" style="top:2649.00px;font-size:10px;font-weight:bold;color:#3a2a26;left:755.60px;width:600px;text-align:center;transform-origin:center center;transform:scaleX(0.9200);text-decoration:underline;text-decoration-thickness:.7px;text-underline-offset:1px;">10</span>
<span class="t" style="top:2649.00px;font-size:10px;left:626.60px;width:600px;text-align:center;transform-origin:center center;transform:scaleX(0.9500);">159.4</span>
<span class="t" style="top:2649.00px;font-size:10px;left:498.30px;width:600px;text-align:center;transform-origin:center center;transform:scaleX(0.9500);">16%</span>
<span class="t" style="top:2649.00px;font-size:10px;left:370.00px;width:600px;text-align:center;transform-origin:center center;transform:scaleX(0.9500);">131%</span>
<span class="t" style="top:2649.00px;font-size:10px;left:241.50px;width:600px;text-align:center;transform-origin:center center;transform:scaleX(0.9500);">67</span>
<div style="position:absolute;left:477.9px;top:2663.75px;width:901.35px;height:1.4px;background:rgba(255,255,255,.7)"></div>
<div style="position:absolute;left:477.9px;top:2662.05px;width:901.35px;height:1.6px;background:rgba(30,44,56,.55)"></div>
<div style="position:absolute;left:1176.9px;top:2668.85px;width:13.8px;height:13.40px;background:#f99d8c;border-radius:1.5px"></div>
<div style="position:absolute;left:1046.1px;top:2667.45px;width:19px;height:16.20px;background:#f99d8c;border-radius:2px"></div>
<span class="t" style="top:2669.00px;font-size:12px;font-weight:bold;right:23.20px;transform-origin:right center;transform:scaleX(0.7437);">בסמת טבעון</span>
<span class="t" style="top:2671.00px;font-size:10px;font-weight:bold;color:#3a2a26;left:755.60px;width:600px;text-align:center;transform-origin:center center;transform:scaleX(0.9200);text-decoration:underline;text-decoration-thickness:.7px;text-underline-offset:1px;">9.6</span>
<span class="t" style="top:2670.00px;font-size:10px;left:626.60px;width:600px;text-align:center;transform-origin:center center;transform:scaleX(0.9500);">131.2</span>
<span class="t" style="top:2670.00px;font-size:10px;left:498.30px;width:600px;text-align:center;transform-origin:center center;transform:scaleX(0.9500);">18%</span>
<span class="t" style="top:2670.00px;font-size:10px;left:370.00px;width:600px;text-align:center;transform-origin:center center;transform:scaleX(0.9500);">29%</span>
<span class="t" style="top:2670.00px;font-size:10px;left:241.50px;width:600px;text-align:center;transform-origin:center center;transform:scaleX(0.9500);">137</span>
<div style="position:absolute;left:477.9px;top:2685.40px;width:901.35px;height:1.4px;background:rgba(255,255,255,.7)"></div>
<div style="position:absolute;left:477.9px;top:2683.70px;width:901.35px;height:1.6px;background:rgba(30,44,56,.55)"></div>
<div style="position:absolute;left:1176.9px;top:2690.50px;width:13.8px;height:13.40px;background:#f99d8c;border-radius:1.5px"></div>
<div style="position:absolute;left:1046.1px;top:2689.10px;width:19px;height:16.20px;background:#f99d8c;border-radius:2px"></div>
<span class="t" style="top:2690.00px;font-size:12px;font-weight:bold;right:23.20px;transform-origin:right center;transform:scaleX(0.7390);">תפרח</span>
<span class="t" style="top:2692.00px;font-size:10px;font-weight:bold;color:#3a2a26;left:755.60px;width:600px;text-align:center;transform-origin:center center;transform:scaleX(0.9200);text-decoration:underline;text-decoration-thickness:.7px;text-underline-offset:1px;">9.5</span>
<span class="t" style="top:2692.00px;font-size:10px;left:626.60px;width:600px;text-align:center;transform-origin:center center;transform:scaleX(0.9500);">222.9</span>
<span class="t" style="top:2692.00px;font-size:10px;left:498.30px;width:600px;text-align:center;transform-origin:center center;transform:scaleX(0.9500);">26%</span>
<span class="t" style="top:2692.00px;font-size:10px;left:370.00px;width:600px;text-align:center;transform-origin:center center;transform:scaleX(0.9500);">-9%</span>
<span class="t" style="top:2692.00px;font-size:10px;left:241.50px;width:600px;text-align:center;transform-origin:center center;transform:scaleX(0.9500);">69</span>
<div style="position:absolute;left:477.9px;top:2707.05px;width:901.35px;height:1.4px;background:rgba(255,255,255,.7)"></div>
<div style="position:absolute;left:477.9px;top:2705.35px;width:901.35px;height:1.6px;background:rgba(30,44,56,.55)"></div>
<div style="position:absolute;left:1176.9px;top:2712.15px;width:13.8px;height:13.40px;background:#f99d8c;border-radius:1.5px"></div>
<div style="position:absolute;left:1046.1px;top:2710.75px;width:19px;height:16.20px;background:#f99d8c;border-radius:2px"></div>
<span class="t" style="top:2712.00px;font-size:12px;font-weight:bold;right:23.20px;transform-origin:right center;transform:scaleX(0.7434);">כוכב יעקב</span>
<span class="t" style="top:2714.00px;font-size:10px;font-weight:bold;color:#3a2a26;left:755.60px;width:600px;text-align:center;transform-origin:center center;transform:scaleX(0.9200);text-decoration:underline;text-decoration-thickness:.7px;text-underline-offset:1px;">9.5</span>
<span class="t" style="top:2714.00px;font-size:10px;left:626.60px;width:600px;text-align:center;transform-origin:center center;transform:scaleX(0.9500);">132.4</span>
<span class="t" style="top:2714.00px;font-size:10px;left:498.30px;width:600px;text-align:center;transform-origin:center center;transform:scaleX(0.9500);">14%</span>
<span class="t" style="top:2714.00px;font-size:10px;left:370.00px;width:600px;text-align:center;transform-origin:center center;transform:scaleX(0.9500);">58%</span>
<span class="t" style="top:2714.00px;font-size:10px;left:241.50px;width:600px;text-align:center;transform-origin:center center;transform:scaleX(0.9500);">152</span>
<div style="position:absolute;left:477.9px;top:2728.70px;width:901.35px;height:1.4px;background:rgba(255,255,255,.7)"></div>
<div style="position:absolute;left:477.9px;top:2727.00px;width:901.35px;height:1.6px;background:rgba(30,44,56,.55)"></div>
<div style="position:absolute;left:1176.9px;top:2733.80px;width:13.8px;height:13.40px;background:#f99d8c;border-radius:1.5px"></div>
<div style="position:absolute;left:1046.1px;top:2732.40px;width:19px;height:16.20px;background:#f99d8c;border-radius:2px"></div>
<span class="t" style="top:2734.00px;font-size:12px;font-weight:bold;right:23.20px;transform-origin:right center;transform:scaleX(0.7383);">אום אל-פחם</span>
<span class="t" style="top:2736.00px;font-size:10px;font-weight:bold;color:#3a2a26;left:755.60px;width:600px;text-align:center;transform-origin:center center;transform:scaleX(0.9200);text-decoration:underline;text-decoration-thickness:.7px;text-underline-offset:1px;">9.4</span>
<span class="t" style="top:2735.00px;font-size:10px;left:626.60px;width:600px;text-align:center;transform-origin:center center;transform:scaleX(0.9500);">112.8</span>
<span class="t" style="top:2735.00px;font-size:10px;left:498.30px;width:600px;text-align:center;transform-origin:center center;transform:scaleX(0.9500);">12%</span>
<span class="t" style="top:2735.00px;font-size:10px;left:370.00px;width:600px;text-align:center;transform-origin:center center;transform:scaleX(0.9500);">115%</span>
<span class="t" style="top:2735.00px;font-size:10px;left:241.50px;width:600px;text-align:center;transform-origin:center center;transform:scaleX(0.9500);">769</span>
<div style="position:absolute;left:477.9px;top:2750.35px;width:901.35px;height:1.4px;background:rgba(255,255,255,.7)"></div>
<div style="position:absolute;left:477.9px;top:2748.65px;width:901.35px;height:1.6px;background:rgba(30,44,56,.55)"></div>
<div style="position:absolute;left:1176.9px;top:2755.45px;width:13.8px;height:2.05px;background:#f99d8c;border-radius:1.5px"></div>
<div style="position:absolute;left:1046.1px;top:2754.05px;width:19px;height:3.45px;background:#f99d8c;border-radius:2px"></div>
<svg style="left:477.9px;top:2522.4px" width="901.35" height="235.0999999999999" viewBox="477.9 2522.4 901.35 235.0999999999999"><circle cx="504.60" cy="2543.50" r="9.6" fill="#2a3a47"/>
<path d="M504.60,2540.10 V2546.70 M502.00,2544.20 L504.60,2546.80 L507.20,2544.20" fill="none" stroke="#fff" stroke-width="1.05" stroke-linecap="round" stroke-linejoin="round"/>
<circle cx="528.40" cy="2543.50" r="9.6" fill="#2a3a47"/>
<path d="M531.30,2540.40 L525.40,2543.50 L531.30,2546.60" fill="none" stroke="#fff" stroke-width=".95"/>
<circle cx="531.30" cy="2540.40" r="1.55" fill="#fff"/>
<circle cx="525.40" cy="2543.50" r="1.55" fill="#fff"/>
<circle cx="531.30" cy="2546.60" r="1.55" fill="#fff"/>
<circle cx="638.5" cy="2545.2" r="3.6" fill="none" stroke="#fff" stroke-width="1"/><path d="M641.1,2547.8 L643.9,2550.6" stroke="#fff" stroke-width="1.1" stroke-linecap="round"/>
<g transform="translate(797.60,2542.20)"><circle r="4" fill="#1c2833"/><rect x="-.45" y="-1" width=".9" height="3.2" fill="#fff"/><circle cy="-2.3" r=".6" fill="#fff"/></g></svg>
<div class="card" style="left:20.9px;top:2522.4px;width:444.0px;height:235.0999999999999px;"></div>
<span class="t" style="top:2539.00px;font-size:11.5px;font-weight:bold;right:952.40px;transform-origin:right center;transform:scaleX(0.8173);">פילוח ציונים בתוכנית הרמזור</span>
<div class="info" style="left:308.55px;top:2537.60px;width:11.5px;height:11.5px"><b>i</b></div>
<div class="note" style="left:194.7px;top:2560px;width:252.90000000000003px;height:24.5px"></div>
<span class="t" style="top:2562.00px;font-size:9.5px;right:966.80px;transform-origin:right center;transform:scaleX(0.7490);">הנתונים מבוססים על</span>
<span class="t" style="top:2562.00px;font-size:9.5px;font-weight:bold;right:1031.10px;transform-origin:right center;transform:scaleX(0.7397);">ציון יומי מחושב של כל ישוב</span>
<span class="t" style="top:2562.00px;font-size:9.5px;right:1119.40px;transform-origin:right center;transform:scaleX(0.7609);">ומשקללים את המדדים:</span>
<span class="t" style="top:2571.00px;font-size:9.5px;right:966.80px;transform-origin:right center;transform:scaleX(0.7491);unicode-bidi:embed;">חולים חדשים לכל 10,000 נפש, % בדיקות חיוביות ושיעור שינוי מאומתים שבועי</span>
<svg style="left:20.9px;top:2522.4px" width="444.0" height="235.0999999999999" viewBox="20.9 2522.4 444.0 235.0999999999999"><circle cx="47.70" cy="2543.70" r="9.6" fill="#2a3a47"/>
<path d="M47.70,2540.30 V2546.90 M45.10,2544.40 L47.70,2547.00 L50.30,2544.40" fill="none" stroke="#fff" stroke-width="1.05" stroke-linecap="round" stroke-linejoin="round"/>
<circle cx="71.50" cy="2543.70" r="9.6" fill="#2a3a47"/>
<path d="M74.40,2540.60 L68.50,2543.70 L74.40,2546.80" fill="none" stroke="#fff" stroke-width=".95"/>
<circle cx="74.40" cy="2540.60" r="1.55" fill="#fff"/>
<circle cx="68.50" cy="2543.70" r="1.55" fill="#fff"/>
<circle cx="74.40" cy="2546.80" r="1.55" fill="#fff"/>
<g transform="translate(440.00,2569.00)"><circle r="4" fill="#1c2833"/><rect x="-.45" y="-1" width=".9" height="3.2" fill="#fff"/><circle cy="-2.3" r=".6" fill="#fff"/></g>
<text transform="translate(54.90,2585.50) scale(0.7150,1)" text-anchor="end" font-size="9" >מספר</text>
<text transform="translate(54.90,2592.80) scale(0.7150,1)" text-anchor="end" font-size="9" >יישובים</text>
<path d="M62.50,2604.80 L92.32,2604.80 L122.13,2604.80 L151.95,2604.80 L181.76,2604.80 L211.58,2604.80 L241.39,2604.80 L271.21,2604.80 L301.02,2604.80 L330.84,2604.80 L360.65,2604.80 L390.47,2604.80 L420.28,2604.80 L450.10,2604.80 L450.10,2633.60 L420.28,2636.40 L390.47,2639.60 L360.65,2646.40 L330.84,2653.60 L301.02,2658.40 L271.21,2658.00 L241.39,2655.00 L211.58,2655.00 L181.76,2653.60 L151.95,2646.80 L122.13,2643.20 L92.32,2642.00 L62.50,2640.92 Z" fill="#b67e7c"/>
<path d="M62.50,2640.92 L92.32,2642.00 L122.13,2643.20 L151.95,2646.80 L181.76,2653.60 L211.58,2655.00 L241.39,2655.00 L271.21,2658.00 L301.02,2658.40 L330.84,2653.60 L360.65,2646.40 L390.47,2639.60 L420.28,2636.40 L450.10,2633.60 L450.10,2683.20 L420.28,2686.44 L390.47,2691.20 L360.65,2693.32 L330.84,2695.48 L301.02,2696.56 L271.21,2696.20 L241.39,2695.84 L211.58,2694.40 L181.76,2694.40 L151.95,2692.96 L122.13,2690.40 L92.32,2687.20 L62.50,2685.00 Z" fill="#b39b79"/>
<path d="M62.50,2685.00 L92.32,2687.20 L122.13,2690.40 L151.95,2692.96 L181.76,2694.40 L211.58,2694.40 L241.39,2695.84 L271.21,2696.20 L301.02,2696.56 L330.84,2695.48 L360.65,2693.32 L390.47,2691.20 L420.28,2686.44 L450.10,2683.20 L450.10,2708.80 L420.28,2709.60 L390.47,2710.00 L360.65,2710.40 L330.84,2710.64 L301.02,2710.00 L271.21,2709.20 L241.39,2708.84 L211.58,2708.12 L181.76,2707.76 L151.95,2707.20 L122.13,2706.80 L92.32,2706.40 L62.50,2705.20 Z" fill="#b5c06e"/>
<path d="M62.50,2705.20 L92.32,2706.40 L122.13,2706.80 L151.95,2707.20 L181.76,2707.76 L211.58,2708.12 L241.39,2708.84 L271.21,2709.20 L301.02,2710.00 L330.84,2710.64 L360.65,2710.40 L390.47,2710.00 L420.28,2709.60 L450.10,2708.80 L450.10,2716.80 L420.28,2716.80 L390.47,2716.80 L360.65,2716.80 L330.84,2716.80 L301.02,2716.80 L271.21,2716.80 L241.39,2716.80 L211.58,2716.80 L181.76,2716.80 L151.95,2716.80 L122.13,2716.80 L92.32,2716.80 L62.50,2716.80 Z" fill="#8eae83"/>
<path d="M62.50,2604.80 L92.32,2604.80 L122.13,2604.80 L151.95,2604.80 L181.76,2604.80 L211.58,2604.80 L241.39,2604.80 L271.21,2604.80 L301.02,2604.80 L330.84,2604.80 L360.65,2604.80 L390.47,2604.80 L420.28,2604.80 L450.10,2604.80" fill="none" stroke="rgba(255,255,255,.72)" stroke-width="1.1" stroke-linejoin="round"/>
<path d="M62.50,2640.92 L92.32,2642.00 L122.13,2643.20 L151.95,2646.80 L181.76,2653.60 L211.58,2655.00 L241.39,2655.00 L271.21,2658.00 L301.02,2658.40 L330.84,2653.60 L360.65,2646.40 L390.47,2639.60 L420.28,2636.40 L450.10,2633.60" fill="none" stroke="rgba(255,255,255,.72)" stroke-width="1.1" stroke-linejoin="round"/>
<path d="M62.50,2685.00 L92.32,2687.20 L122.13,2690.40 L151.95,2692.96 L181.76,2694.40 L211.58,2694.40 L241.39,2695.84 L271.21,2696.20 L301.02,2696.56 L330.84,2695.48 L360.65,2693.32 L390.47,2691.20 L420.28,2686.44 L450.10,2683.20" fill="none" stroke="rgba(255,255,255,.72)" stroke-width="1.1" stroke-linejoin="round"/>
<path d="M62.50,2705.20 L92.32,2706.40 L122.13,2706.80 L151.95,2707.20 L181.76,2707.76 L211.58,2708.12 L241.39,2708.84 L271.21,2709.20 L301.02,2710.00 L330.84,2710.64 L360.65,2710.40 L390.47,2710.00 L420.28,2709.60 L450.10,2708.80" fill="none" stroke="rgba(255,255,255,.72)" stroke-width="1.1" stroke-linejoin="round"/>
<text transform="translate(56.70,2719.30) scale(0.9500,1)" text-anchor="end" font-size="8.5" >0</text>
<text transform="translate(56.70,2699.30) scale(0.9500,1)" text-anchor="end" font-size="8.5" >50</text>
<text transform="translate(56.70,2679.30) scale(0.9500,1)" text-anchor="end" font-size="8.5" >100</text>
<text transform="translate(56.70,2659.30) scale(0.9500,1)" text-anchor="end" font-size="8.5" >150</text>
<text transform="translate(56.70,2639.30) scale(0.9500,1)" text-anchor="end" font-size="8.5" >200</text>
<text transform="translate(56.70,2619.30) scale(0.9500,1)" text-anchor="end" font-size="8.5" >250</text>
<text transform="translate(56.70,2607.30) scale(0.9500,1)" text-anchor="end" font-size="8.5" >280</text>
<text transform="translate(62.50,2735.20) scale(0.9300,1)" text-anchor="middle" font-size="8.5" >30.8</text>
<text transform="translate(122.93,2735.20) scale(0.9300,1)" text-anchor="middle" font-size="8.5" >1.9</text>
<text transform="translate(182.56,2735.20) scale(0.9300,1)" text-anchor="middle" font-size="8.5" >3.9</text>
<text transform="translate(242.19,2735.20) scale(0.9300,1)" text-anchor="middle" font-size="8.5" >5.9</text>
<text transform="translate(301.82,2735.20) scale(0.9300,1)" text-anchor="middle" font-size="8.5" >7.9</text>
<text transform="translate(361.45,2735.20) scale(0.9300,1)" text-anchor="middle" font-size="8.5" >9.9</text>
<text transform="translate(421.08,2735.20) scale(0.9300,1)" text-anchor="middle" font-size="8.5" >11.9</text></svg>
</body></html>
